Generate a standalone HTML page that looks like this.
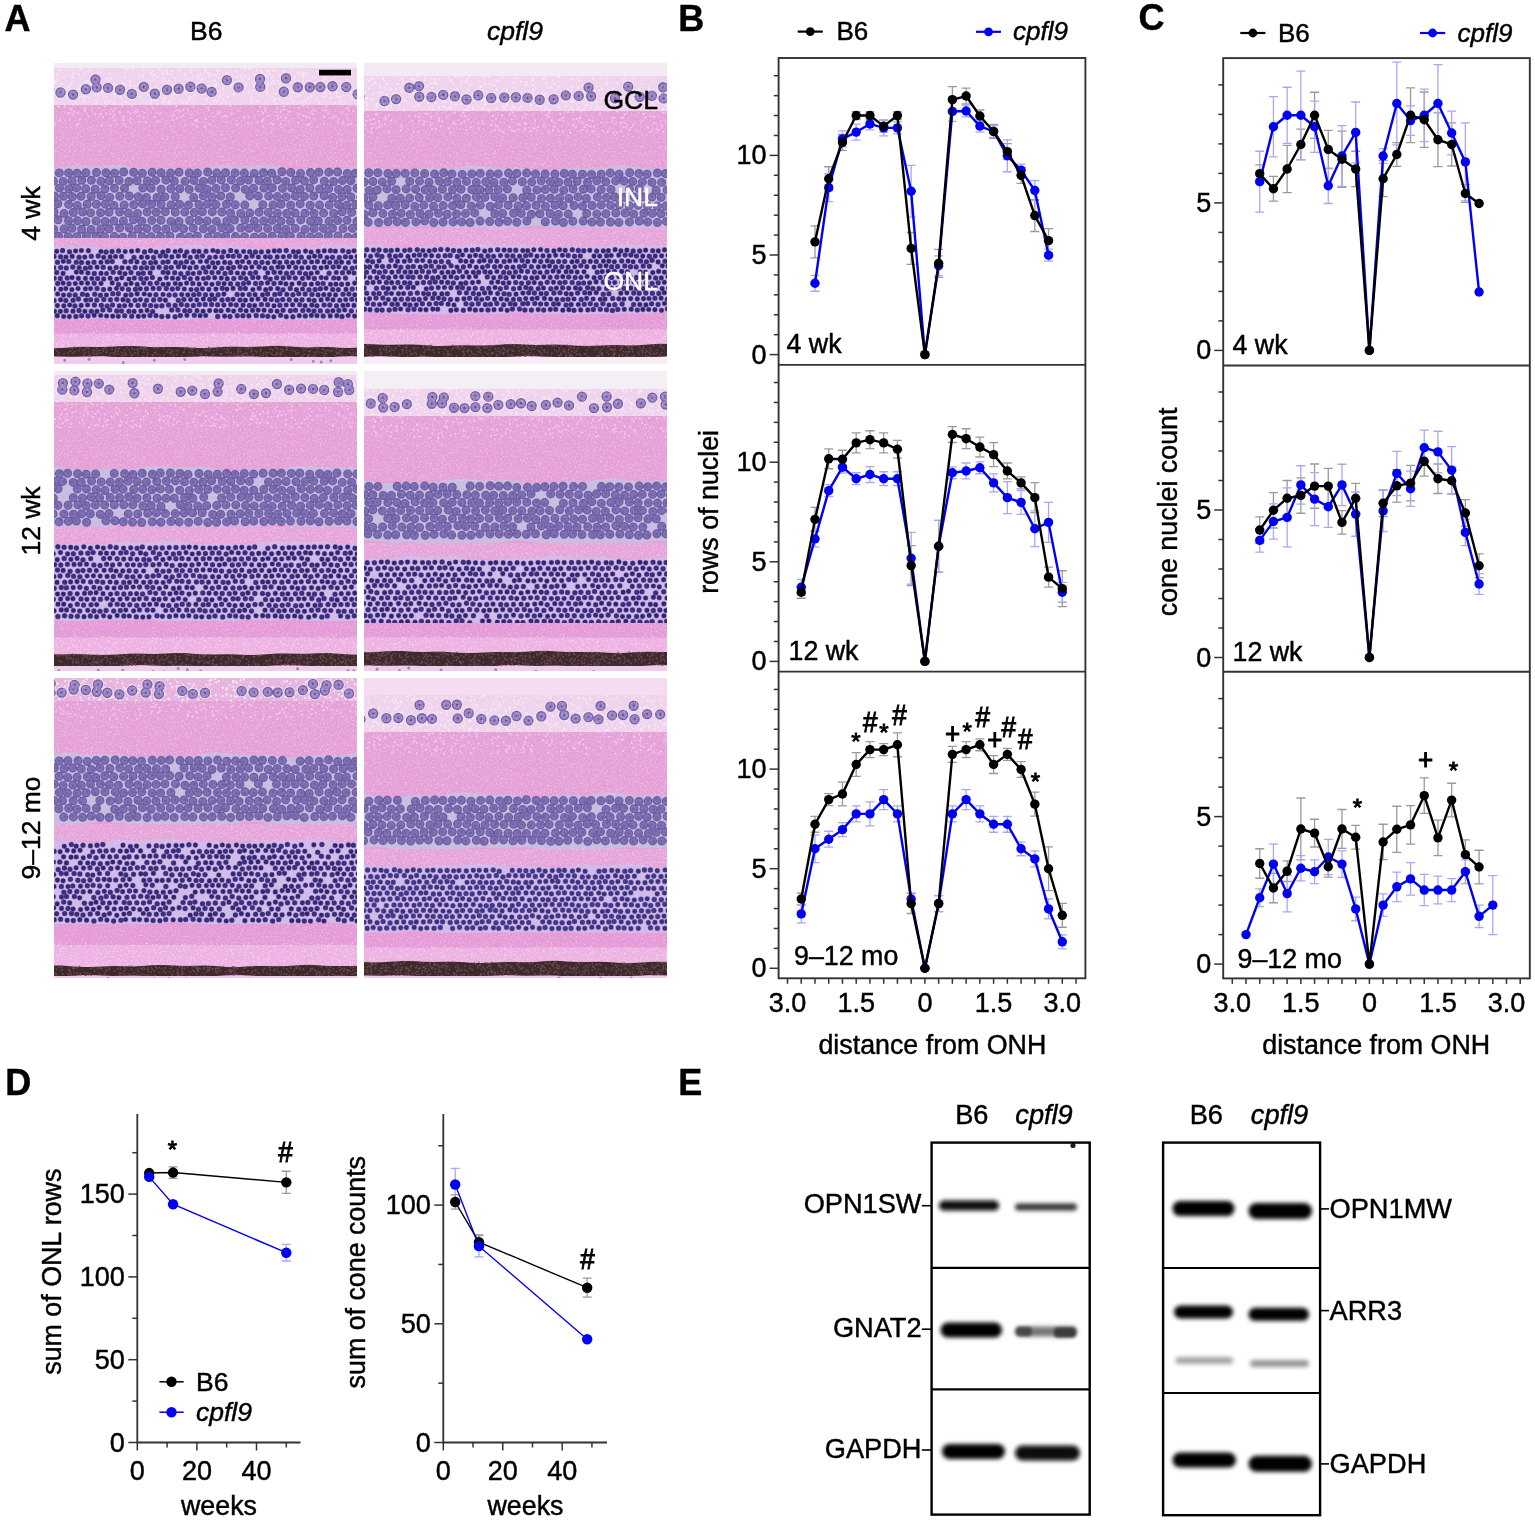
<!DOCTYPE html>
<html><head><meta charset="utf-8"><title>Figure</title>
<style>
html,body{margin:0;padding:0;background:#fff;}
body{width:1535px;height:1522px;overflow:hidden;position:relative;}
svg{position:absolute;left:0;top:0;display:block;}
svg text{font-family:"Liberation Sans", Arial, Helvetica, sans-serif;stroke:#000;stroke-width:0.45px;}
svg text.w{fill:#fff;stroke:#fff;}
svg text.an{stroke-width:0.9px;}
</style></head><body>
<svg width="1535" height="1522" viewBox="0 0 1535 1522">
<rect width="1535" height="1522" fill="#fff"/>
<filter id="hblur" x="0" y="0" width="100%" height="100%"><feGaussianBlur stdDeviation="0.55"/></filter>
<filter id="grain" x="0" y="0" width="100%" height="100%" color-interpolation-filters="sRGB"><feTurbulence type="fractalNoise" baseFrequency="0.55" numOctaves="2" seed="7"/><feColorMatrix type="matrix" values="0 0 0 0 1  0 0 0 0 1  0 0 0 0 1  3 0 0 0 -1.55"/></filter>
<clipPath id="hc0"><rect x="54" y="63" width="303" height="301"/></clipPath>
<g clip-path="url(#hc0)"><g filter="url(#hblur)">
<rect x="54" y="63" width="303" height="301" fill="#e5a1d7"/>
<rect x="54" y="63" width="303" height="6" fill="#f4eaf3"/>
<rect x="54" y="68" width="303" height="38" fill="#efd2ec"/>
<path d="M59.5 69.9h0M72.5 69.6h0M80.5 69.1h0M89.5 70.0h0M101.2 68.5h0M124.6 68.7h0M126.7 69.4h0M133.1 69.3h0M143.3 69.4h0M152.4 71.3h0M159.9 70.0h0M163.5 71.5h0M166.9 70.5h0M171.3 70.9h0M179.1 71.2h0M191.5 69.3h0M205.2 70.8h0M217.3 70.9h0M219.4 70.2h0M228.0 71.4h0M237.3 71.6h0M245.2 69.0h0M249.2 68.7h0M251.3 69.1h0M256.7 70.4h0M260.9 71.4h0M268.0 70.7h0M272.4 70.4h0M274.9 70.9h0M283.9 70.9h0M292.9 68.4h0M301.5 71.6h0M316.6 71.6h0M323.8 71.2h0M333.0 69.5h0M337.4 70.3h0M344.1 71.4h0M349.5 70.4h0M54.3 72.6h0M57.4 74.8h0M73.3 73.9h0M78.8 74.5h0M84.9 72.6h0M92.6 74.2h0M109.9 73.3h0M143.1 75.0h0M150.5 73.5h0M153.6 74.4h0M162.6 74.3h0M167.3 73.3h0M171.2 74.3h0M185.2 74.3h0M190.8 72.6h0M207.5 72.9h0M210.0 73.3h0M212.8 74.7h0M217.8 73.2h0M222.5 72.6h0M226.1 73.3h0M253.9 74.0h0M261.8 73.4h0M266.0 74.8h0M269.6 72.6h0M286.7 73.9h0M298.6 73.0h0M302.9 73.7h0M306.2 73.3h0M318.7 74.8h0M323.3 73.9h0M324.9 72.0h0M329.5 74.0h0M357.0 72.6h0M57.6 77.8h0M64.2 77.3h0M72.3 77.3h0M92.8 77.2h0M96.1 78.4h0M111.0 78.2h0M125.1 77.0h0M139.5 76.0h0M143.1 76.9h0M157.5 77.1h0M163.0 78.1h0M174.8 77.9h0M184.6 75.7h0M187.4 78.5h0M193.3 77.1h0M197.6 75.5h0M198.7 77.7h0M203.1 77.7h0M209.3 76.4h0M215.9 75.4h0M219.3 77.7h0M232.1 76.0h0M236.7 76.9h0M240.6 76.7h0M245.2 76.6h0M248.7 78.3h0M258.8 77.0h0M267.2 76.2h0M271.9 77.5h0M279.8 75.9h0M283.9 77.8h0M294.5 77.8h0M301.5 75.7h0M303.1 76.8h0M306.4 76.5h0M313.1 76.7h0M326.4 77.5h0M335.5 77.2h0M346.9 76.3h0M351.7 77.0h0M361.4 78.2h0M55.4 81.6h0M57.9 80.1h0M71.6 81.8h0M85.4 81.3h0M88.5 80.5h0M93.8 80.5h0M106.9 78.9h0M109.1 80.5h0M130.1 81.1h0M149.8 80.4h0M154.0 80.4h0M162.4 81.7h0M164.6 80.3h0M169.3 80.7h0M201.4 79.4h0M214.6 80.2h0M222.4 80.6h0M225.4 81.2h0M242.1 80.0h0M248.8 79.2h0M258.2 81.3h0M273.7 80.6h0M278.1 81.3h0M281.3 79.8h0M287.6 79.5h0M303.6 80.2h0M309.4 81.5h0M322.9 80.5h0M325.2 79.0h0M329.6 81.1h0M346.9 80.1h0M55.0 83.1h0M61.1 84.0h0M68.5 85.3h0M71.8 83.8h0M79.7 85.5h0M90.6 85.5h0M96.8 83.9h0M105.5 84.8h0M109.0 84.6h0M116.7 85.1h0M124.3 84.0h0M130.4 85.3h0M143.3 82.3h0M167.1 82.8h0M188.6 84.2h0M199.2 83.2h0M216.2 83.9h0M232.0 84.8h0M236.9 84.4h0M246.5 83.9h0M254.5 84.7h0M264.0 85.1h0M267.5 85.2h0M271.6 83.6h0M275.0 82.9h0M279.7 83.6h0M297.3 84.5h0M301.2 84.5h0M321.2 83.0h0M324.7 83.5h0M331.4 85.1h0M335.4 85.1h0M351.2 84.7h0M67.2 88.1h0M69.2 87.0h0M80.9 87.5h0M86.8 88.7h0M89.4 86.0h0M95.4 86.1h0M103.6 87.2h0M122.5 86.6h0M129.9 86.1h0M134.2 85.9h0M143.5 87.3h0M144.6 87.9h0M155.4 86.6h0M162.2 88.2h0M176.5 86.8h0M186.2 87.8h0M190.7 87.6h0M194.5 87.1h0M204.6 88.8h0M214.8 86.1h0M216.5 86.0h0M223.0 87.9h0M230.8 86.2h0M241.2 87.9h0M245.6 86.0h0M253.8 86.9h0M257.3 87.6h0M260.7 86.2h0M267.3 88.2h0M293.4 87.2h0M296.8 86.5h0M306.5 87.5h0M313.5 87.5h0M321.5 88.2h0M329.4 87.1h0M346.8 85.9h0M357.8 88.9h0M52.6 91.5h0M56.4 91.0h0M61.1 90.6h0M73.1 90.5h0M79.2 89.3h0M103.0 91.1h0M119.2 91.0h0M128.6 89.9h0M144.3 91.6h0M156.8 90.7h0M161.6 89.5h0M184.9 91.7h0M187.4 92.2h0M192.0 91.7h0M196.0 90.1h0M206.6 91.1h0M218.7 91.6h0M222.8 90.0h0M241.3 90.6h0M242.9 91.2h0M252.6 90.6h0M263.4 89.8h0M267.3 91.7h0M280.6 90.2h0M293.5 92.1h0M299.2 91.9h0M325.0 92.5h0M328.4 89.7h0M335.9 91.9h0M345.3 91.1h0M351.2 92.0h0M58.5 94.7h0M66.2 95.4h0M77.6 92.9h0M82.2 95.7h0M85.9 95.9h0M94.8 95.3h0M98.0 95.4h0M102.1 93.0h0M114.5 94.3h0M133.0 94.7h0M148.4 95.3h0M165.1 94.7h0M171.4 95.6h0M174.0 93.7h0M176.7 94.2h0M202.0 94.4h0M204.7 93.7h0M215.0 94.3h0M220.6 95.4h0M233.8 94.2h0M249.2 92.9h0M266.5 93.6h0M275.4 93.5h0M290.3 93.2h0M298.3 95.7h0M311.3 95.9h0M329.9 93.5h0M337.3 93.1h0M343.3 95.1h0M62.5 98.7h0M67.8 96.5h0M70.7 96.6h0M76.3 97.1h0M79.2 97.0h0M83.6 98.0h0M89.0 98.1h0M120.5 96.8h0M129.4 98.4h0M139.9 97.3h0M163.9 98.3h0M189.4 97.6h0M192.1 97.5h0M206.6 99.3h0M218.8 98.4h0M223.4 99.2h0M227.6 96.8h0M251.2 98.7h0M271.7 97.0h0M275.3 98.9h0M279.6 98.7h0M290.6 98.9h0M308.0 98.0h0M311.7 96.7h0M317.0 99.3h0M324.3 96.7h0M330.5 98.3h0M337.2 96.6h0M340.2 97.3h0M352.3 96.9h0M356.3 97.2h0M359.1 97.7h0M55.2 102.1h0M75.3 102.5h0M84.9 101.4h0M104.7 102.4h0M109.4 102.2h0M114.2 101.8h0M125.9 102.3h0M132.5 100.5h0M151.5 100.2h0M154.8 100.4h0M157.1 100.4h0M163.3 101.9h0M164.6 100.6h0M169.1 101.3h0M183.4 102.4h0M186.7 102.8h0M189.1 100.0h0M214.7 99.9h0M216.6 101.5h0M221.6 102.6h0M226.4 102.1h0M251.5 102.5h0M257.3 101.6h0M273.9 100.9h0M293.0 102.2h0M302.2 102.2h0M335.1 102.9h0M341.0 101.7h0M358.8 101.4h0M54.8 104.6h0M63.9 104.5h0M73.2 105.0h0M92.8 106.0h0M96.3 103.5h0M103.3 106.2h0M106.7 104.5h0M115.7 104.1h0M131.9 105.7h0M150.5 103.4h0M157.3 103.9h0M168.5 103.9h0M180.2 106.3h0M182.8 106.2h0M188.8 106.1h0M202.7 105.5h0M207.6 106.3h0M215.2 105.5h0M220.0 105.7h0M240.7 105.1h0M274.8 104.2h0M297.4 106.0h0M319.0 103.3h0M331.4 106.0h0M336.5 106.1h0M345.5 105.8h0M359.6 104.7h0" stroke="#f8e4f4" stroke-width="2.4" stroke-linecap="round" fill="none" stroke-opacity="0.9"/>
<path d="M49.3 89.4h0M60.5 92.5h0M73.1 94.6h0M85.9 89.3h0M96.7 87.4h0M95.5 79.5h0M108.0 87.9h0M120.0 89.8h0M131.9 93.9h0M143.8 86.9h0M154.8 93.7h0M167.0 89.7h0M178.6 88.7h0M190.4 86.7h0M201.7 88.5h0M211.7 91.9h0M226.9 80.1h0M238.6 87.4h0M260.3 86.9h0M260.0 79.0h0M283.8 91.7h0M286.0 78.2h0M297.8 87.3h0M309.8 87.3h0M320.4 87.0h0M332.5 86.3h0M346.2 87.0h0M357.6 94.1h0" stroke="#f6e6f3" stroke-width="12.5" stroke-linecap="round" fill="none" stroke-opacity="0.7"/>
<path d="M49.3 89.4h0M60.5 92.5h0M73.1 94.6h0M85.9 89.3h0M96.7 87.4h0M95.5 79.5h0M108.0 87.9h0M120.0 89.8h0M131.9 93.9h0M143.8 86.9h0M154.8 93.7h0M167.0 89.7h0M178.6 88.7h0M190.4 86.7h0M201.7 88.5h0M211.7 91.9h0M226.9 80.1h0M238.6 87.4h0M260.3 86.9h0M260.0 79.0h0M283.8 91.7h0M286.0 78.2h0M297.8 87.3h0M309.8 87.3h0M320.4 87.0h0M332.5 86.3h0M346.2 87.0h0M357.6 94.1h0" stroke="#6e5ca2" stroke-width="10.4" stroke-linecap="round" fill="none"/>
<path d="M49.3 89.4h0M60.5 92.5h0M73.1 94.6h0M85.9 89.3h0M96.7 87.4h0M95.5 79.5h0M108.0 87.9h0M120.0 89.8h0M131.9 93.9h0M143.8 86.9h0M154.8 93.7h0M167.0 89.7h0M178.6 88.7h0M190.4 86.7h0M201.7 88.5h0M211.7 91.9h0M226.9 80.1h0M238.6 87.4h0M260.3 86.9h0M260.0 79.0h0M283.8 91.7h0M286.0 78.2h0M297.8 87.3h0M309.8 87.3h0M320.4 87.0h0M332.5 86.3h0M346.2 87.0h0M357.6 94.1h0" stroke="#9882c4" stroke-width="7.8" stroke-linecap="round" fill="none"/>
<path d="M49.3 89.4h0M60.5 92.5h0M73.1 94.6h0M85.9 89.3h0M96.7 87.4h0M95.5 79.5h0M108.0 87.9h0M120.0 89.8h0M131.9 93.9h0M143.8 86.9h0M154.8 93.7h0M167.0 89.7h0M178.6 88.7h0M190.4 86.7h0M201.7 88.5h0M211.7 91.9h0M226.9 80.1h0M238.6 87.4h0M260.3 86.9h0M260.0 79.0h0M283.8 91.7h0M286.0 78.2h0M297.8 87.3h0M309.8 87.3h0M320.4 87.0h0M332.5 86.3h0M346.2 87.0h0M357.6 94.1h0" stroke="#5a4690" stroke-width="2.2" stroke-linecap="round" fill="none"/>
<rect x="54" y="105" width="303" height="63" fill="#e5a1d7"/>
<path d="M58.9 106.6h0M64.3 107.2h0M71.9 108.6h0M85.2 107.8h0M99.0 108.3h0M105.2 106.6h0M115.9 108.3h0M122.2 105.9h0M131.5 105.7h0M152.7 107.7h0M176.6 106.2h0M193.7 106.3h0M208.3 107.4h0M231.1 106.0h0M260.3 106.7h0M265.3 107.9h0M277.6 108.5h0M284.3 105.9h0M298.9 107.9h0M303.4 105.8h0M307.3 106.5h0M326.2 106.7h0M347.3 108.1h0M349.4 106.5h0M355.7 106.4h0M53.4 109.2h0M70.7 109.5h0M74.3 111.6h0M84.7 110.8h0M92.5 111.6h0M113.4 111.7h0M119.9 112.2h0M128.1 111.8h0M135.1 111.4h0M137.1 112.1h0M177.3 110.0h0M180.1 110.9h0M183.3 109.6h0M188.0 109.6h0M208.5 110.1h0M218.0 112.2h0M220.6 112.2h0M238.3 110.9h0M258.5 111.5h0M265.2 110.9h0M276.5 112.0h0M280.7 111.5h0M283.6 109.6h0M289.2 112.1h0M311.7 111.5h0M314.3 110.7h0M324.3 110.6h0M326.0 110.3h0M340.4 112.0h0M348.7 110.4h0M353.1 111.7h0M357.6 112.2h0M68.9 113.0h0M73.6 114.7h0M78.2 113.0h0M95.1 113.9h0M100.9 114.2h0M106.3 113.4h0M110.4 114.1h0M113.7 115.0h0M130.4 113.6h0M139.4 115.9h0M144.5 112.9h0M160.5 113.4h0M174.0 115.4h0M183.2 115.3h0M190.7 114.6h0M218.4 114.1h0M224.8 115.4h0M232.2 113.7h0M262.7 112.9h0M269.1 116.0h0M277.4 115.5h0M299.2 114.0h0M303.7 115.3h0M312.7 113.8h0M328.4 113.3h0M346.4 114.3h0M79.7 119.2h0M88.5 116.5h0M102.9 117.1h0M112.6 117.5h0M122.2 117.9h0M124.1 116.9h0M131.0 118.8h0M143.7 117.8h0M154.8 117.1h0M176.7 118.4h0M191.8 118.0h0M196.5 119.6h0M205.9 119.3h0M214.1 116.5h0M222.0 117.1h0M227.2 116.5h0M244.6 117.1h0M248.5 116.5h0M263.3 119.3h0M278.2 118.7h0M281.1 117.0h0M285.9 117.9h0M306.1 117.2h0M309.2 117.9h0M324.1 116.7h0M332.7 117.9h0M334.7 116.5h0M338.6 119.3h0M347.4 118.5h0M51.8 122.7h0M55.3 122.9h0M59.7 120.8h0M115.6 120.1h0M123.1 120.1h0M130.4 122.4h0M139.2 121.5h0M145.6 121.9h0M157.7 121.2h0M173.0 120.2h0M195.5 120.8h0M197.9 121.5h0M247.8 123.1h0M257.7 122.0h0M261.8 121.1h0M271.7 123.0h0M288.6 121.5h0M298.4 122.9h0M337.9 122.5h0M343.2 121.5h0M54.1 123.8h0M76.5 125.3h0M78.0 124.5h0M101.6 125.4h0M110.1 125.1h0M116.8 124.3h0M124.3 124.0h0M170.5 126.3h0M184.7 125.3h0M193.6 124.1h0M196.8 126.6h0M205.2 126.8h0M209.6 124.0h0M237.2 124.7h0M263.3 126.4h0M273.2 124.2h0M280.7 124.3h0M307.3 125.2h0M309.6 123.9h0M317.6 126.7h0M324.1 124.1h0M343.5 123.9h0M348.2 124.8h0M350.7 124.0h0M356.5 125.5h0" stroke="#f4cdef" stroke-width="2.2" stroke-linecap="round" fill="none" stroke-opacity="0.8"/>
<path d="M65.6 105.7h0M81.7 106.9h0M91.5 105.4h0M100.5 105.3h0M102.7 106.7h0M106.0 105.4h0M121.7 106.6h0M139.1 107.8h0M141.6 106.9h0M145.9 107.7h0M163.1 105.9h0M167.3 107.3h0M174.8 108.0h0M213.0 107.6h0M218.7 105.8h0M225.8 106.4h0M228.8 107.4h0M232.7 107.9h0M234.8 106.1h0M241.8 106.2h0M264.2 106.4h0M276.3 107.2h0M280.7 106.2h0M289.8 108.0h0M323.6 106.8h0M327.8 105.9h0M337.9 105.5h0M342.6 105.6h0M356.0 107.6h0M92.0 108.2h0M95.8 110.4h0M108.8 110.6h0M110.5 109.4h0M113.7 110.7h0M137.9 109.1h0M149.1 109.4h0M158.7 109.2h0M174.8 108.1h0M177.4 109.9h0M182.8 110.3h0M186.3 108.2h0M191.5 110.1h0M201.5 109.9h0M217.0 110.4h0M219.5 109.3h0M229.0 108.8h0M239.2 110.1h0M252.0 108.2h0M262.9 109.1h0M266.3 109.9h0M267.6 109.8h0M277.1 109.7h0M282.6 110.4h0M287.4 110.2h0M294.8 108.1h0M316.6 108.3h0M321.5 109.7h0M328.8 109.2h0M335.1 110.7h0M62.9 113.1h0M65.1 112.0h0M72.9 111.4h0M78.6 111.9h0M84.9 113.3h0M109.7 111.0h0M123.1 112.0h0M129.4 113.1h0M140.9 111.0h0M147.2 111.0h0M155.4 112.8h0M157.5 113.0h0M160.4 112.9h0M170.0 111.6h0M175.8 111.4h0M196.6 113.0h0M198.2 113.6h0M204.8 111.8h0M213.1 113.0h0M235.8 112.3h0M252.9 112.5h0M263.7 112.1h0M280.9 113.6h0M291.1 111.2h0M307.0 113.3h0M327.7 111.0h0M343.9 111.7h0M53.6 115.9h0M56.4 114.0h0M61.1 113.6h0M98.4 115.7h0M140.0 114.8h0M149.0 113.7h0M171.9 115.0h0M178.6 115.9h0M193.9 115.0h0M196.8 116.0h0M207.6 114.2h0M210.3 116.2h0M267.1 115.7h0M282.2 114.9h0M287.4 113.6h0M297.9 113.6h0M307.5 116.1h0M346.6 115.1h0M350.3 114.4h0M59.8 117.2h0M62.7 117.0h0M70.2 116.9h0M80.3 119.1h0M95.3 117.0h0M101.0 118.5h0M108.8 118.8h0M131.6 119.1h0M137.6 118.1h0M144.0 118.1h0M160.6 116.8h0M168.1 116.3h0M172.9 118.2h0M176.5 118.7h0M181.0 117.2h0M187.0 118.1h0M204.1 117.8h0M213.1 117.6h0M216.3 118.5h0M221.4 117.3h0M241.3 118.0h0M288.7 118.6h0M321.4 117.3h0M325.0 118.2h0M347.2 116.6h0M355.3 117.0h0M70.1 119.7h0M80.2 120.8h0M92.3 119.2h0M96.7 119.4h0M128.7 120.0h0M129.6 119.7h0M162.7 119.9h0M166.7 120.7h0M180.8 120.5h0M194.9 120.3h0M202.5 121.7h0M211.3 119.6h0M222.4 120.3h0M226.4 120.5h0M229.1 120.7h0M236.3 121.4h0M241.6 120.4h0M245.1 121.5h0M268.2 121.6h0M281.3 121.0h0M283.2 120.6h0M290.5 120.8h0M314.3 119.8h0M317.0 121.6h0M329.8 119.4h0M341.8 121.8h0M348.4 120.7h0M357.7 119.1h0M61.8 122.5h0M86.9 122.5h0M91.6 122.1h0M94.5 124.6h0M104.0 123.7h0M123.3 122.8h0M134.2 123.5h0M149.6 123.6h0M165.2 124.7h0M166.5 124.1h0M182.7 122.2h0M205.3 123.1h0M227.1 122.3h0M230.2 122.3h0M251.7 124.3h0M268.8 123.6h0M274.5 124.5h0M297.7 123.0h0M306.1 123.8h0M312.6 123.8h0M323.6 123.0h0M359.4 122.0h0M54.3 124.8h0M66.7 127.3h0M81.8 127.2h0M91.3 127.2h0M101.1 126.3h0M104.0 125.3h0M114.5 127.4h0M143.0 125.5h0M147.8 127.4h0M149.6 126.8h0M155.2 125.3h0M174.9 126.6h0M179.0 125.1h0M197.2 124.7h0M213.2 126.4h0M241.4 127.0h0M248.0 126.8h0M262.2 126.3h0M282.6 127.4h0M289.4 126.3h0M295.1 126.7h0M313.0 126.9h0M329.6 126.3h0M342.0 125.9h0M352.2 124.8h0M355.8 126.1h0M52.1 128.4h0M57.5 129.5h0M76.1 128.6h0M88.7 128.1h0M91.4 129.1h0M110.4 128.2h0M132.7 128.1h0M134.6 129.8h0M160.9 128.2h0M192.3 129.7h0M201.0 128.8h0M202.3 127.6h0M217.6 127.7h0M241.9 129.8h0M245.2 130.3h0M274.2 129.1h0M279.3 129.0h0M292.5 129.7h0M294.7 129.7h0M333.8 128.3h0M60.7 130.9h0M78.7 132.9h0M92.2 130.6h0M99.0 130.8h0M110.7 131.9h0M132.1 132.2h0M135.2 131.0h0M146.9 130.9h0M149.1 131.4h0M155.7 130.7h0M158.8 130.3h0M171.1 131.1h0M174.6 132.6h0M183.3 130.5h0M187.9 132.0h0M198.7 131.7h0M208.9 131.5h0M211.2 131.9h0M232.4 131.5h0M254.7 132.3h0M258.6 131.8h0M272.1 130.5h0M288.3 132.9h0M290.7 130.8h0M296.5 131.6h0M306.7 132.5h0M311.3 130.5h0M315.1 131.6h0M318.4 132.1h0M329.8 131.3h0M344.1 131.2h0M53.3 133.3h0M55.2 133.4h0M63.0 134.4h0M67.7 134.5h0M77.9 135.0h0M95.3 135.4h0M112.9 134.9h0M120.8 135.8h0M132.9 134.9h0M161.2 135.2h0M167.4 135.6h0M189.7 135.3h0M194.4 134.9h0M203.0 135.7h0M213.4 134.8h0M221.1 134.7h0M227.1 134.7h0M251.4 135.8h0M266.8 133.2h0M272.9 135.8h0M295.8 134.0h0M303.0 135.1h0M305.3 135.0h0M309.3 133.8h0M315.7 133.5h0M319.0 133.1h0M338.4 134.0h0M339.8 133.2h0M342.6 135.0h0M347.3 133.2h0M353.1 134.1h0M355.5 133.8h0M56.8 137.8h0M60.1 138.1h0M63.0 138.6h0M109.0 137.3h0M137.4 136.0h0M139.1 138.3h0M179.8 138.4h0M207.3 138.1h0M225.4 136.6h0M230.0 136.0h0M261.2 138.3h0M273.9 136.3h0M294.5 137.7h0M303.7 136.8h0M306.8 138.6h0M317.2 137.5h0M323.7 137.8h0M328.4 138.3h0M59.8 140.4h0M68.5 139.2h0M111.1 139.7h0M166.8 139.2h0M216.8 139.7h0M220.6 139.7h0M227.8 139.0h0M231.0 140.8h0M245.7 138.9h0M253.5 140.9h0M282.5 139.8h0M301.3 140.1h0M307.7 139.2h0M350.2 140.6h0M54.3 143.4h0M80.8 143.2h0M83.8 143.9h0M105.3 142.2h0M109.5 143.4h0M131.6 142.1h0M138.0 142.2h0M141.1 141.7h0M159.9 141.8h0M170.4 141.5h0M172.2 143.2h0M184.0 144.1h0M205.2 143.5h0M208.4 142.1h0M220.6 143.6h0M222.7 142.0h0M239.6 141.9h0M257.5 143.4h0M260.7 141.6h0M278.5 141.6h0M281.4 143.3h0M290.9 141.8h0M302.9 142.9h0M312.9 141.9h0M316.5 142.6h0M330.4 142.0h0M336.5 142.8h0M341.8 143.8h0M350.9 141.7h0M53.6 145.9h0M59.3 145.9h0M69.3 145.9h0M77.8 144.7h0M96.7 145.7h0M109.4 146.3h0M116.8 144.3h0M178.5 146.9h0M215.3 145.4h0M222.4 145.6h0M259.1 146.7h0M295.3 144.8h0M300.0 144.5h0M302.1 144.9h0M314.0 144.2h0M318.4 146.1h0M355.7 146.1h0M56.3 149.0h0M67.2 148.5h0M84.0 147.5h0M92.7 147.1h0M104.8 148.1h0M122.4 147.9h0M134.1 148.8h0M136.9 147.2h0M164.2 147.9h0M176.6 148.5h0M201.5 149.3h0M232.3 147.9h0M248.9 148.0h0M270.6 148.0h0M309.6 148.1h0M312.9 147.1h0M319.4 149.5h0M330.5 149.5h0M331.9 149.5h0M343.3 149.4h0M344.9 147.9h0M359.0 148.2h0M55.2 150.9h0M68.9 152.2h0M74.4 151.4h0M76.8 149.8h0M101.0 151.7h0M129.0 150.8h0M152.1 151.4h0M164.9 150.4h0M175.0 151.2h0M185.6 151.7h0M220.7 150.6h0M243.6 150.3h0M249.9 151.7h0M274.0 150.8h0M279.6 152.4h0M282.8 150.9h0M285.6 150.5h0M289.4 149.8h0M292.3 151.7h0M296.0 151.0h0M305.0 150.2h0M340.4 150.8h0M360.4 151.3h0M53.3 153.7h0M59.6 154.2h0M75.2 154.1h0M79.6 154.2h0M87.0 155.1h0M97.7 154.2h0M102.5 154.6h0M111.7 153.7h0M118.7 152.9h0M138.3 155.2h0M139.9 153.0h0M166.9 154.5h0M181.9 155.2h0M202.5 154.7h0M232.1 154.0h0M240.1 154.4h0M277.4 154.4h0M283.1 155.3h0M306.4 154.0h0M310.5 154.3h0M336.3 152.9h0M351.4 154.2h0M61.9 156.1h0M65.9 157.3h0M82.3 155.7h0M113.9 156.4h0M132.4 157.4h0M164.2 156.2h0M176.5 155.8h0M179.9 156.8h0M189.8 158.0h0M194.2 156.7h0M198.5 157.9h0M212.0 157.0h0M219.0 157.2h0M241.4 158.0h0M245.2 155.5h0M252.7 155.6h0M260.2 155.8h0M293.0 156.8h0M298.3 156.7h0M303.1 157.7h0M307.0 155.5h0M331.1 156.5h0M333.2 156.2h0M339.8 156.9h0M346.9 156.3h0M355.9 157.7h0M54.5 160.1h0M79.0 159.4h0M85.2 160.9h0M89.9 159.5h0M97.7 158.8h0M103.9 159.5h0M112.3 160.7h0M119.0 158.7h0M133.3 159.6h0M138.1 160.2h0M149.5 158.2h0M190.5 158.5h0M220.8 160.0h0M228.1 159.2h0M233.6 158.8h0M239.4 159.1h0M243.3 159.7h0M284.1 159.0h0M287.9 159.6h0M328.3 158.6h0M334.9 160.7h0M340.8 160.7h0M348.1 160.1h0M354.7 160.0h0M72.2 160.9h0M79.2 161.6h0M115.5 162.0h0M120.7 160.9h0M124.2 161.1h0M126.1 161.3h0M167.2 161.6h0M173.7 162.9h0M191.1 162.8h0M209.8 163.6h0M211.7 161.5h0M215.4 161.2h0M235.5 161.7h0M250.8 161.1h0M271.3 162.4h0M279.1 161.4h0M283.4 160.9h0M290.0 162.7h0M291.3 160.9h0M296.3 161.3h0M308.3 163.4h0M311.7 163.4h0M320.0 162.0h0M58.5 165.4h0M94.3 165.6h0M118.9 165.0h0M131.5 165.4h0M141.5 164.4h0M162.0 165.2h0M167.3 163.8h0M190.6 165.7h0M195.5 164.1h0M205.6 164.8h0M213.2 166.4h0M223.3 164.5h0M229.4 164.2h0M233.3 164.2h0M253.1 166.4h0M263.2 164.0h0M271.6 166.4h0M285.5 165.2h0M290.3 164.2h0M323.3 166.4h0M330.1 166.1h0M335.2 165.9h0M339.3 165.0h0M343.3 165.6h0M346.2 165.1h0M348.3 166.4h0M64.1 168.7h0M73.8 167.0h0M85.0 167.5h0M98.4 168.4h0M129.5 166.9h0M143.3 167.6h0M144.6 168.5h0M148.1 167.7h0M152.6 168.6h0M160.9 167.4h0M201.6 167.8h0M207.3 169.2h0M210.3 168.2h0M222.4 168.6h0M253.3 167.1h0M264.2 168.1h0M293.4 168.5h0M294.7 168.4h0M311.0 167.0h0M320.1 168.5h0M326.5 168.3h0M351.8 168.8h0" stroke="#eeb4e3" stroke-width="1.4" stroke-linecap="round" fill="none" stroke-opacity="0.8"/>
<path d="M52.0 168.4 L62.2 166.6 L72.5 165.5 L82.7 166.0 L92.9 166.5 L103.2 166.0 L113.4 165.0 L123.6 165.4 L133.9 167.1 L144.1 168.5 L154.3 168.4 L164.6 167.6 L174.8 167.7 L185.0 168.7 L195.3 168.7 L205.5 167.2 L215.7 165.5 L226.0 165.3 L236.2 166.2 L246.4 166.4 L256.7 165.6 L266.9 165.3 L277.1 166.5 L287.4 168.3 L297.6 168.9 L307.8 168.1 L318.1 167.5 L328.3 168.1 L338.5 168.6 L348.8 167.8 L359.0 165.9 L359.0 238.5 L348.8 238.3 L338.5 239.2 L328.3 240.3 L318.1 239.8 L307.8 238.0 L297.6 236.9 L287.4 237.2 L277.1 237.7 L266.9 237.1 L256.7 235.9 L246.4 236.0 L236.2 237.7 L226.0 239.2 L215.7 239.2 L205.5 238.5 L195.3 238.7 L185.0 239.8 L174.8 240.0 L164.6 238.6 L154.3 236.9 L144.1 236.5 L133.9 237.3 L123.6 237.4 L113.4 236.5 L103.2 236.0 L92.9 237.1 L82.7 238.9 L72.5 239.7 L62.2 239.0 L52.0 238.5Z" fill="#cbbde0"/>
<path d="M49.7 172.0h0M59.3 172.9h0M68.6 173.0h0M77.0 173.3h0M85.8 172.7h0M96.5 172.5h0M106.0 172.7h0M114.5 173.2h0M123.6 172.0h0M133.7 172.2h0M142.3 173.2h0M152.1 172.2h0M161.1 172.7h0M170.5 173.1h0M179.0 172.3h0M189.2 173.0h0M197.4 173.1h0M207.7 172.0h0M216.7 173.1h0M225.5 172.8h0M235.2 172.9h0M244.4 173.1h0M254.3 173.4h0M263.5 172.8h0M271.7 173.3h0M281.9 171.8h0M290.9 172.5h0M300.5 173.4h0M310.4 172.6h0M318.9 172.2h0M328.8 172.3h0M337.6 172.0h0M347.3 173.4h0M355.5 173.2h0M366.4 172.1h0M53.4 181.1h0M63.2 181.4h0M72.1 180.9h0M81.8 180.2h0M91.4 180.2h0M100.9 181.2h0M109.3 180.7h0M119.2 180.4h0M129.0 181.4h0M137.1 180.8h0M147.4 181.0h0M155.6 180.4h0M165.9 180.0h0M174.4 181.1h0M185.1 181.4h0M194.0 180.5h0M203.4 181.4h0M211.8 180.2h0M221.2 179.9h0M231.3 179.9h0M240.5 181.1h0M248.5 180.0h0M259.0 180.6h0M267.3 181.3h0M277.1 179.8h0M285.7 181.4h0M295.6 180.2h0M304.4 181.0h0M313.6 179.8h0M324.4 181.3h0M333.6 181.5h0M342.4 180.6h0M350.9 180.8h0M361.3 180.7h0M49.5 189.1h0M59.5 188.0h0M68.8 188.9h0M76.6 187.9h0M85.7 188.8h0M95.2 189.3h0M105.0 189.0h0M114.5 188.3h0M124.5 188.3h0M142.8 188.0h0M151.2 188.3h0M161.1 189.2h0M170.9 188.7h0M179.8 188.7h0M189.2 189.4h0M199.0 188.1h0M207.1 189.5h0M216.0 188.4h0M225.5 187.8h0M235.6 188.1h0M245.2 189.4h0M253.5 188.3h0M263.9 188.1h0M272.3 187.8h0M282.5 188.4h0M291.7 188.0h0M300.2 189.5h0M309.8 188.0h0M319.6 189.0h0M328.6 188.8h0M338.5 189.5h0M347.2 189.5h0M357.0 188.2h0M365.6 188.6h0M54.5 196.2h0M63.5 196.3h0M72.3 196.7h0M81.0 196.2h0M91.2 196.5h0M101.0 195.8h0M109.7 197.4h0M119.8 196.2h0M129.3 196.0h0M138.2 196.8h0M146.5 197.4h0M157.0 197.5h0M164.8 196.9h0M175.3 196.7h0M193.7 197.5h0M203.3 195.9h0M212.1 197.0h0M220.8 196.0h0M230.3 197.0h0M249.8 195.9h0M258.3 196.1h0M268.7 196.1h0M277.4 196.6h0M286.2 196.9h0M295.3 196.0h0M304.4 196.4h0M313.7 196.1h0M324.2 195.8h0M332.7 197.5h0M341.9 196.5h0M350.8 197.0h0M360.8 197.1h0M49.0 205.4h0M57.8 203.8h0M68.6 204.4h0M77.3 205.4h0M87.2 204.3h0M96.4 204.2h0M105.2 204.1h0M113.9 205.4h0M124.2 204.9h0M133.8 204.8h0M142.6 203.8h0M151.6 204.3h0M161.0 204.4h0M171.1 205.0h0M179.6 204.4h0M188.5 205.1h0M198.9 204.6h0M207.4 204.1h0M215.9 204.6h0M226.5 204.3h0M235.2 204.7h0M244.8 205.1h0M262.8 204.8h0M273.0 205.1h0M281.0 204.3h0M290.7 205.2h0M300.2 203.9h0M310.2 205.3h0M319.5 205.1h0M329.2 205.1h0M338.4 204.5h0M346.7 205.3h0M355.7 204.5h0M366.0 204.2h0M54.0 212.0h0M64.1 213.4h0M73.3 212.5h0M82.6 212.1h0M90.6 212.9h0M100.5 212.7h0M109.0 212.3h0M119.6 212.1h0M128.4 213.0h0M137.5 213.4h0M147.1 212.0h0M156.2 212.2h0M165.2 211.8h0M175.3 212.2h0M184.8 212.1h0M194.2 212.6h0M202.4 211.8h0M212.3 211.9h0M221.9 212.0h0M230.6 212.9h0M240.7 213.4h0M249.8 213.1h0M259.1 212.2h0M268.4 212.4h0M277.4 213.2h0M286.7 213.5h0M295.1 213.1h0M305.0 213.2h0M314.0 213.3h0M323.6 213.1h0M333.6 213.3h0M342.2 211.8h0M351.6 212.3h0M361.3 212.6h0M48.9 220.5h0M57.9 219.8h0M68.5 220.7h0M77.5 220.8h0M86.0 221.5h0M96.1 221.0h0M105.1 221.5h0M113.9 221.0h0M123.4 220.9h0M133.4 219.8h0M141.8 221.2h0M151.8 220.4h0M161.0 220.3h0M171.0 221.4h0M179.0 221.4h0M189.6 220.5h0M198.7 220.5h0M207.2 221.1h0M216.4 221.4h0M226.8 221.1h0M234.5 220.1h0M244.9 220.0h0M254.4 221.2h0M263.7 221.0h0M272.1 220.2h0M281.0 221.3h0M290.5 221.2h0M300.8 219.9h0M310.5 221.2h0M318.3 221.0h0M329.1 221.2h0M337.8 220.5h0M347.0 220.2h0M356.9 221.5h0M365.3 221.2h0M53.7 229.2h0M64.1 228.9h0M72.0 228.2h0M81.6 229.3h0M91.1 229.5h0M100.8 228.9h0M109.1 228.7h0M119.5 228.0h0M129.0 227.8h0M138.1 229.0h0M146.9 228.5h0M156.7 228.7h0M165.9 229.0h0M175.2 228.1h0M183.7 228.8h0M193.2 228.2h0M203.4 228.8h0M212.0 229.4h0M221.7 227.8h0M230.1 228.6h0M240.8 228.1h0M249.1 228.3h0M257.9 228.3h0M267.7 228.4h0M277.3 228.5h0M285.9 229.5h0M295.3 228.4h0M305.1 229.4h0M314.1 228.6h0M323.4 228.4h0M332.5 228.3h0M343.1 228.6h0M352.4 228.2h0M360.9 228.3h0M48.7 237.4h0M58.6 236.3h0M68.1 236.7h0M76.8 236.7h0M86.4 235.9h0M96.1 236.1h0M104.5 236.7h0M114.3 236.6h0M122.9 237.3h0M132.2 235.8h0M142.3 236.7h0M151.1 236.7h0M160.5 236.6h0M169.9 235.9h0M180.4 237.3h0M189.1 236.9h0M197.4 236.2h0M208.3 237.3h0M217.6 236.4h0M225.6 236.0h0M235.5 236.6h0M244.5 236.7h0M254.5 237.2h0M262.8 236.8h0M272.3 236.2h0M282.0 235.9h0M290.3 236.0h0M301.1 236.2h0M310.5 237.1h0M318.8 236.7h0M328.3 235.8h0M338.0 235.9h0M347.8 237.3h0M356.0 237.1h0M366.0 236.1h0" stroke="#6a5ca2" stroke-width="9.0" stroke-linecap="round" fill="none"/>
<path d="M49.7 172.0h0M59.3 172.9h0M68.6 173.0h0M77.0 173.3h0M85.8 172.7h0M96.5 172.5h0M106.0 172.7h0M114.5 173.2h0M123.6 172.0h0M133.7 172.2h0M142.3 173.2h0M152.1 172.2h0M161.1 172.7h0M170.5 173.1h0M179.0 172.3h0M189.2 173.0h0M197.4 173.1h0M207.7 172.0h0M216.7 173.1h0M225.5 172.8h0M235.2 172.9h0M244.4 173.1h0M254.3 173.4h0M263.5 172.8h0M271.7 173.3h0M281.9 171.8h0M290.9 172.5h0M300.5 173.4h0M310.4 172.6h0M318.9 172.2h0M328.8 172.3h0M337.6 172.0h0M347.3 173.4h0M355.5 173.2h0M366.4 172.1h0M53.4 181.1h0M63.2 181.4h0M72.1 180.9h0M81.8 180.2h0M91.4 180.2h0M100.9 181.2h0M109.3 180.7h0M119.2 180.4h0M129.0 181.4h0M137.1 180.8h0M147.4 181.0h0M155.6 180.4h0M165.9 180.0h0M174.4 181.1h0M185.1 181.4h0M194.0 180.5h0M203.4 181.4h0M211.8 180.2h0M221.2 179.9h0M231.3 179.9h0M240.5 181.1h0M248.5 180.0h0M259.0 180.6h0M267.3 181.3h0M277.1 179.8h0M285.7 181.4h0M295.6 180.2h0M304.4 181.0h0M313.6 179.8h0M324.4 181.3h0M333.6 181.5h0M342.4 180.6h0M350.9 180.8h0M361.3 180.7h0M49.5 189.1h0M59.5 188.0h0M68.8 188.9h0M76.6 187.9h0M85.7 188.8h0M95.2 189.3h0M105.0 189.0h0M114.5 188.3h0M124.5 188.3h0M142.8 188.0h0M151.2 188.3h0M161.1 189.2h0M170.9 188.7h0M179.8 188.7h0M189.2 189.4h0M199.0 188.1h0M207.1 189.5h0M216.0 188.4h0M225.5 187.8h0M235.6 188.1h0M245.2 189.4h0M253.5 188.3h0M263.9 188.1h0M272.3 187.8h0M282.5 188.4h0M291.7 188.0h0M300.2 189.5h0M309.8 188.0h0M319.6 189.0h0M328.6 188.8h0M338.5 189.5h0M347.2 189.5h0M357.0 188.2h0M365.6 188.6h0M54.5 196.2h0M63.5 196.3h0M72.3 196.7h0M81.0 196.2h0M91.2 196.5h0M101.0 195.8h0M109.7 197.4h0M119.8 196.2h0M129.3 196.0h0M138.2 196.8h0M146.5 197.4h0M157.0 197.5h0M164.8 196.9h0M175.3 196.7h0M193.7 197.5h0M203.3 195.9h0M212.1 197.0h0M220.8 196.0h0M230.3 197.0h0M249.8 195.9h0M258.3 196.1h0M268.7 196.1h0M277.4 196.6h0M286.2 196.9h0M295.3 196.0h0M304.4 196.4h0M313.7 196.1h0M324.2 195.8h0M332.7 197.5h0M341.9 196.5h0M350.8 197.0h0M360.8 197.1h0M49.0 205.4h0M57.8 203.8h0M68.6 204.4h0M77.3 205.4h0M87.2 204.3h0M96.4 204.2h0M105.2 204.1h0M113.9 205.4h0M124.2 204.9h0M133.8 204.8h0M142.6 203.8h0M151.6 204.3h0M161.0 204.4h0M171.1 205.0h0M179.6 204.4h0M188.5 205.1h0M198.9 204.6h0M207.4 204.1h0M215.9 204.6h0M226.5 204.3h0M235.2 204.7h0M244.8 205.1h0M262.8 204.8h0M273.0 205.1h0M281.0 204.3h0M290.7 205.2h0M300.2 203.9h0M310.2 205.3h0M319.5 205.1h0M329.2 205.1h0M338.4 204.5h0M346.7 205.3h0M355.7 204.5h0M366.0 204.2h0M54.0 212.0h0M64.1 213.4h0M73.3 212.5h0M82.6 212.1h0M90.6 212.9h0M100.5 212.7h0M109.0 212.3h0M119.6 212.1h0M128.4 213.0h0M137.5 213.4h0M147.1 212.0h0M156.2 212.2h0M165.2 211.8h0M175.3 212.2h0M184.8 212.1h0M194.2 212.6h0M202.4 211.8h0M212.3 211.9h0M221.9 212.0h0M230.6 212.9h0M240.7 213.4h0M249.8 213.1h0M259.1 212.2h0M268.4 212.4h0M277.4 213.2h0M286.7 213.5h0M295.1 213.1h0M305.0 213.2h0M314.0 213.3h0M323.6 213.1h0M333.6 213.3h0M342.2 211.8h0M351.6 212.3h0M361.3 212.6h0M48.9 220.5h0M57.9 219.8h0M68.5 220.7h0M77.5 220.8h0M86.0 221.5h0M96.1 221.0h0M105.1 221.5h0M113.9 221.0h0M123.4 220.9h0M133.4 219.8h0M141.8 221.2h0M151.8 220.4h0M161.0 220.3h0M171.0 221.4h0M179.0 221.4h0M189.6 220.5h0M198.7 220.5h0M207.2 221.1h0M216.4 221.4h0M226.8 221.1h0M234.5 220.1h0M244.9 220.0h0M254.4 221.2h0M263.7 221.0h0M272.1 220.2h0M281.0 221.3h0M290.5 221.2h0M300.8 219.9h0M310.5 221.2h0M318.3 221.0h0M329.1 221.2h0M337.8 220.5h0M347.0 220.2h0M356.9 221.5h0M365.3 221.2h0M53.7 229.2h0M64.1 228.9h0M72.0 228.2h0M81.6 229.3h0M91.1 229.5h0M100.8 228.9h0M109.1 228.7h0M119.5 228.0h0M129.0 227.8h0M138.1 229.0h0M146.9 228.5h0M156.7 228.7h0M165.9 229.0h0M175.2 228.1h0M183.7 228.8h0M193.2 228.2h0M203.4 228.8h0M212.0 229.4h0M221.7 227.8h0M230.1 228.6h0M240.8 228.1h0M249.1 228.3h0M257.9 228.3h0M267.7 228.4h0M277.3 228.5h0M285.9 229.5h0M295.3 228.4h0M305.1 229.4h0M314.1 228.6h0M323.4 228.4h0M332.5 228.3h0M343.1 228.6h0M352.4 228.2h0M360.9 228.3h0M48.7 237.4h0M58.6 236.3h0M68.1 236.7h0M76.8 236.7h0M86.4 235.9h0M96.1 236.1h0M104.5 236.7h0M114.3 236.6h0M122.9 237.3h0M132.2 235.8h0M142.3 236.7h0M151.1 236.7h0M160.5 236.6h0M169.9 235.9h0M180.4 237.3h0M189.1 236.9h0M197.4 236.2h0M208.3 237.3h0M217.6 236.4h0M225.6 236.0h0M235.5 236.6h0M244.5 236.7h0M254.5 237.2h0M262.8 236.8h0M272.3 236.2h0M282.0 235.9h0M290.3 236.0h0M301.1 236.2h0M310.5 237.1h0M318.8 236.7h0M328.3 235.8h0M338.0 235.9h0M347.8 237.3h0M356.0 237.1h0M366.0 236.1h0" stroke="#7e70b2" stroke-width="6.6" stroke-linecap="round" fill="none"/>
<path d="M49.5 173.3h0M58.0 173.1h0M69.1 172.9h0M76.3 172.5h0M85.0 172.5h0M95.8 171.2h0M105.3 171.9h0M113.8 173.7h0M124.7 172.4h0M133.1 172.1h0M141.7 174.1h0M151.0 173.7h0M161.3 173.7h0M169.6 173.7h0M177.5 173.1h0M188.3 173.3h0M197.4 173.6h0M207.5 171.1h0M215.7 174.4h0M226.7 171.3h0M234.9 172.1h0M244.0 173.0h0M254.4 174.8h0M264.4 171.4h0M271.6 173.2h0M282.6 172.8h0M292.2 172.2h0M299.4 173.9h0M309.1 171.1h0M318.6 171.1h0M329.9 172.2h0M338.6 173.1h0M346.8 172.2h0M355.6 172.5h0M367.1 171.4h0M52.6 181.4h0M64.4 181.2h0M71.0 181.6h0M82.1 179.0h0M92.6 181.2h0M100.7 182.4h0M110.7 181.6h0M120.5 180.9h0M129.7 180.2h0M136.6 180.0h0M147.3 180.9h0M156.2 180.6h0M166.4 180.1h0M173.0 180.9h0M183.7 181.8h0M193.7 181.2h0M202.9 181.8h0M212.4 181.0h0M221.6 178.4h0M232.2 180.9h0M241.7 180.6h0M248.2 180.8h0M258.0 182.0h0M267.1 181.1h0M278.3 179.1h0M285.7 182.6h0M295.8 179.8h0M305.8 179.8h0M313.6 179.6h0M325.5 181.3h0M333.0 182.2h0M341.9 181.5h0M351.5 181.4h0M361.0 182.1h0M50.7 190.4h0M61.0 188.7h0M69.6 189.8h0M76.0 188.7h0M86.9 190.3h0M93.8 189.8h0M105.6 187.8h0M113.3 187.2h0M123.1 189.4h0M141.7 188.0h0M152.4 188.8h0M160.1 188.7h0M171.6 188.5h0M180.4 189.7h0M190.2 189.3h0M197.9 189.2h0M207.3 190.8h0M216.1 186.9h0M226.7 187.2h0M236.5 186.9h0M244.4 189.6h0M254.7 188.5h0M263.9 189.6h0M273.5 187.6h0M283.4 189.9h0M290.9 189.2h0M299.2 189.5h0M308.5 189.3h0M318.6 188.0h0M329.1 188.3h0M338.6 190.8h0M347.9 190.7h0M356.0 187.5h0M364.8 189.8h0M54.1 197.4h0M63.0 195.8h0M72.3 196.1h0M79.6 196.9h0M90.2 197.9h0M100.5 195.8h0M109.8 198.6h0M119.5 196.7h0M129.6 195.6h0M139.3 195.8h0M145.0 196.6h0M156.9 196.3h0M163.6 196.5h0M174.6 197.8h0M194.0 197.9h0M202.6 195.8h0M212.2 196.3h0M219.7 197.4h0M230.8 196.5h0M248.4 195.1h0M259.0 197.3h0M270.0 196.8h0M277.0 196.1h0M285.5 195.6h0M293.9 197.4h0M303.5 197.2h0M314.7 195.1h0M324.9 197.2h0M331.9 197.6h0M341.3 196.1h0M351.2 198.0h0M359.6 198.2h0M50.1 204.3h0M58.2 205.1h0M68.9 203.0h0M77.9 206.2h0M85.9 205.4h0M97.7 204.2h0M105.5 204.5h0M114.0 204.1h0M125.1 205.7h0M132.5 203.7h0M141.7 204.9h0M150.3 202.9h0M159.7 203.3h0M171.4 206.2h0M179.8 205.3h0M187.9 204.1h0M199.8 204.7h0M208.6 205.2h0M215.7 204.0h0M226.8 202.9h0M235.5 205.5h0M245.9 205.1h0M261.5 205.1h0M272.0 205.1h0M281.3 203.8h0M289.9 205.0h0M299.8 204.2h0M310.8 204.0h0M318.8 206.6h0M328.2 205.6h0M338.5 205.5h0M348.1 205.5h0M356.0 204.4h0M364.8 204.0h0M53.5 213.3h0M65.1 213.4h0M72.1 212.5h0M83.1 213.6h0M91.5 212.8h0M100.1 213.8h0M107.9 213.3h0M120.4 212.6h0M129.7 213.7h0M136.8 214.6h0M147.0 211.0h0M156.6 211.4h0M165.7 211.0h0M174.0 213.2h0M185.9 213.1h0M192.8 211.3h0M201.6 213.2h0M212.3 213.3h0M222.9 211.3h0M231.8 211.9h0M241.5 213.1h0M250.3 214.4h0M259.0 210.8h0M268.4 213.8h0M277.8 214.0h0M285.4 213.7h0M293.9 214.2h0M306.1 212.4h0M313.5 212.9h0M324.3 211.8h0M334.7 214.7h0M340.8 211.0h0M350.4 211.1h0M362.1 214.0h0M48.1 219.3h0M57.5 218.3h0M68.7 221.5h0M76.1 220.5h0M85.6 222.1h0M94.7 222.4h0M106.0 221.7h0M113.2 220.3h0M123.9 222.1h0M134.9 219.8h0M143.0 220.5h0M152.6 220.3h0M159.6 220.9h0M172.0 222.7h0M178.1 220.0h0M188.7 221.9h0M199.5 220.0h0M206.8 222.1h0M217.1 222.2h0M227.1 220.4h0M236.0 219.0h0M246.2 220.7h0M253.9 222.2h0M264.3 220.5h0M273.0 220.7h0M282.4 222.7h0M290.1 221.9h0M301.2 221.1h0M309.7 222.7h0M319.6 220.1h0M329.1 222.6h0M338.9 220.9h0M348.1 219.9h0M355.4 220.3h0M364.3 221.4h0M54.7 229.1h0M64.8 229.3h0M72.7 227.7h0M80.9 227.8h0M91.4 229.3h0M100.1 228.8h0M110.2 227.4h0M119.1 226.9h0M128.0 229.1h0M139.3 228.9h0M145.9 230.0h0M157.9 227.7h0M165.8 228.1h0M176.4 227.5h0M185.2 228.8h0M194.2 227.3h0M203.4 227.8h0M212.1 230.9h0M222.5 226.4h0M230.8 229.4h0M242.2 228.4h0M247.6 227.3h0M256.6 226.9h0M268.4 229.1h0M278.5 228.6h0M286.5 229.4h0M296.1 229.2h0M304.9 229.5h0M313.3 229.6h0M323.6 228.0h0M333.9 227.3h0M344.4 228.2h0M352.2 229.0h0M359.5 227.6h0M48.3 238.2h0M59.5 235.4h0M67.6 237.0h0M76.6 237.9h0M85.1 236.1h0M96.7 234.6h0M104.3 238.1h0M114.8 236.5h0M124.3 236.2h0M131.3 235.5h0M141.7 237.7h0M152.4 237.0h0M159.8 237.8h0M168.7 236.6h0M179.7 235.9h0M187.8 238.4h0M197.1 236.1h0M207.3 238.4h0M216.2 237.8h0M224.7 235.9h0M234.3 235.3h0M245.0 237.6h0M254.3 237.5h0M263.6 236.8h0M271.2 235.3h0M281.5 236.8h0M291.8 236.5h0M300.8 237.5h0M311.4 237.8h0M319.1 238.1h0M329.1 235.5h0M338.2 236.5h0M347.7 238.1h0M356.1 235.7h0M366.9 235.6h0" stroke="#6a5a9f" stroke-width="2.6" stroke-linecap="round" fill="none" stroke-opacity="0.7"/>
<rect x="54" y="238" width="303" height="10" fill="#e6a5da"/>
<path d="M51.1 240.5h0M56.3 240.3h0M58.5 240.9h0M62.4 240.1h0M71.9 240.9h0M73.7 238.3h0M81.9 238.7h0M85.7 238.4h0M92.7 239.6h0M97.0 238.7h0M104.5 240.5h0M121.0 240.2h0M128.7 238.5h0M133.3 239.2h0M171.1 238.9h0M179.7 238.6h0M196.1 238.3h0M201.8 238.3h0M206.9 239.8h0M209.7 239.3h0M212.6 240.9h0M234.5 239.4h0M237.8 239.9h0M246.7 240.6h0M257.0 240.3h0M274.6 240.8h0M280.1 240.8h0M283.8 239.2h0M344.1 240.8h0M60.8 242.4h0M78.6 243.7h0M115.9 241.9h0M117.4 241.6h0M120.5 243.6h0M124.8 241.2h0M127.4 241.7h0M129.6 243.1h0M137.7 242.0h0M139.1 241.5h0M143.9 243.6h0M146.3 241.1h0M169.5 242.8h0M172.1 241.7h0M179.4 242.1h0M181.1 241.6h0M202.2 241.2h0M212.9 243.0h0M223.7 241.1h0M234.2 242.4h0M238.3 241.1h0M262.8 243.0h0M264.2 242.4h0M281.3 242.8h0M310.1 242.6h0M313.9 242.2h0M315.8 243.6h0M323.4 242.9h0M326.3 242.5h0M332.0 242.3h0M338.1 241.0h0M342.4 242.7h0M344.9 241.0h0M62.6 246.1h0M83.8 244.9h0M90.2 244.1h0M104.4 245.7h0M109.0 245.5h0M115.9 244.9h0M128.5 244.4h0M149.1 244.0h0M167.0 245.6h0M170.9 245.8h0M184.5 246.4h0M189.4 243.9h0M196.2 246.2h0M218.5 245.3h0M224.2 245.1h0M227.2 246.3h0M244.6 246.3h0M257.1 244.4h0M277.6 244.9h0M286.0 244.6h0M289.4 243.9h0M296.1 244.4h0M328.9 245.5h0M337.5 245.6h0M353.3 244.8h0M60.4 247.9h0M94.2 247.0h0M113.9 246.9h0M121.6 247.3h0M124.6 249.2h0M131.1 248.4h0M136.3 248.4h0M143.9 249.1h0M157.2 246.8h0M162.4 248.1h0M170.4 247.7h0M173.6 248.9h0M196.6 248.8h0M205.0 249.0h0M209.5 247.0h0M222.9 248.3h0M232.6 247.9h0M235.3 248.2h0M257.7 249.1h0M266.3 248.3h0M268.2 247.0h0M282.1 247.8h0M288.5 247.8h0M290.5 249.1h0M306.7 248.1h0M323.2 249.1h0M325.2 247.5h0M331.7 246.7h0M336.8 248.6h0" stroke="#f0bde6" stroke-width="1.5" stroke-linecap="round" fill="none" stroke-opacity="0.8"/>
<path d="M52.0 245.8 L62.2 246.7 L72.5 246.7 L82.7 246.3 L92.9 246.7 L103.2 248.0 L113.4 248.9 L123.6 248.4 L133.9 247.4 L144.1 247.1 L154.3 247.5 L164.6 247.4 L174.8 246.2 L185.0 245.1 L195.3 245.3 L205.5 246.5 L215.7 247.1 L226.0 246.8 L236.2 246.6 L246.4 247.5 L256.7 248.8 L266.9 248.8 L277.1 247.7 L287.4 246.8 L297.6 247.0 L307.8 247.3 L318.1 246.7 L328.3 245.4 L338.5 245.0 L348.8 246.0 L359.0 247.1 L359.0 318.5 L348.8 318.3 L338.5 319.4 L328.3 320.7 L318.1 321.0 L307.8 320.5 L297.6 320.4 L287.4 321.3 L277.1 321.7 L266.9 320.8 L256.7 319.4 L246.4 318.8 L236.2 319.3 L226.0 319.6 L215.7 319.0 L205.5 318.4 L195.3 319.0 L185.0 320.4 L174.8 321.3 L164.6 320.9 L154.3 320.4 L144.1 320.8 L133.9 321.5 L123.6 321.2 L113.4 319.8 L103.2 318.7 L92.9 318.8 L82.7 319.5 L72.5 319.4 L62.2 318.7 L52.0 318.7Z" fill="#d2bbe8"/>
<path d="M155.9 294.8h0M218.3 283.4h0M124.7 315.7h0M205.2 304.6h0M94.3 273.4h0M327.5 311.0h0M242.9 315.8h0M184.4 277.5h0M107.1 306.0h0M112.8 293.8h0M250.1 273.2h0M212.7 262.7h0M255.5 252.1h0M112.2 261.4h0M255.7 262.6h0M131.7 316.3h0M330.4 250.7h0M202.5 256.0h0M54.0 300.4h0M91.3 311.3h0M171.3 267.5h0M60.7 267.6h0M205.8 272.1h0M109.7 310.0h0M352.3 268.2h0M175.1 295.0h0M267.6 304.8h0M153.6 299.9h0M57.5 262.3h0M85.4 268.3h0M178.4 266.7h0M217.6 304.7h0M166.3 288.4h0M135.0 300.3h0M116.7 310.9h0M217.7 316.4h0M138.0 305.5h0M341.6 284.3h0M150.6 262.7h0M69.0 283.8h0M94.4 305.1h0M153.6 257.4h0M320.4 288.8h0M240.0 300.1h0M342.5 272.8h0M60.3 278.4h0M74.9 305.9h0M262.4 315.7h0M333.2 267.1h0M131.1 294.7h0M101.3 305.2h0M323.2 316.0h0M329.8 305.1h0M152.6 267.7h0M107.2 261.8h0M270.2 257.0h0M175.1 316.7h0M94.7 294.2h0M56.7 272.4h0M79.0 310.6h0M351.7 299.3h0M50.8 251.1h0M90.4 267.5h0M150.6 250.8h0M130.9 261.6h0M209.7 299.6h0M180.4 315.5h0M103.8 299.5h0M237.3 315.7h0M75.9 316.4h0M314.4 267.5h0M320.3 310.7h0M159.1 288.6h0M314.0 311.1h0M249.7 251.7h0M51.0 273.3h0M196.2 267.3h0M97.1 288.4h0M245.4 288.6h0M118.5 284.4h0M203.2 267.8h0M116.8 299.2h0M240.3 288.4h0M259.2 288.3h0M298.8 293.8h0M163.0 262.3h0M295.8 267.4h0M100.4 295.2h0M159.1 267.3h0M332.7 289.4h0M183.9 299.4h0M274.8 294.6h0M324.1 305.0h0M267.8 316.2h0M316.9 305.8h0M230.6 250.5h0M342.7 250.8h0M73.1 300.2h0M180.8 273.7h0M106.1 252.1h0M156.9 283.1h0M233.2 256.2h0M60.6 256.7h0M252.2 256.1h0M255.6 283.4h0M259.1 266.9h0M304.8 262.1h0M282.7 299.6h0M110.4 299.7h0M68.8 261.6h0M323.1 283.5h0M290.2 288.5h0M146.6 300.3h0M186.5 261.7h0M88.1 316.0h0M261.4 304.5h0M358.2 288.5h0M233.4 267.5h0M286.7 262.0h0M255.6 272.6h0M192.8 283.5h0M144.5 304.9h0M301.3 257.2h0M351.3 310.9h0M121.6 256.6h0M94.2 283.2h0M314.4 278.4h0M91.3 256.2h0M230.9 272.4h0M317.7 283.5h0M168.1 250.8h0M193.7 294.8h0M239.3 256.0h0M79.1 257.3h0M199.5 272.8h0M283.3 278.1h0M69.3 295.1h0M124.9 261.7h0M348.9 294.0h0M221.0 310.8h0M134.0 257.4h0M141.4 268.1h0M236.2 305.1h0M243.5 283.4h0M305.2 294.1h0M357.4 299.7h0M289.1 277.6h0M116.2 267.5h0M81.6 315.8h0M65.8 300.5h0M290.4 310.7h0M304.7 284.3h0M53.7 267.8h0M361.6 283.7h0M57.7 283.4h0M103.2 267.3h0M90.6 299.8h0M276.7 277.8h0M172.3 289.1h0M309.0 289.7h0M256.2 315.4h0M138.4 273.6h0M193.9 251.3h0M102.9 310.0h0M186.8 252.0h0M292.9 316.7h0M128.9 311.3h0M240.6 277.8h0M161.9 305.8h0M221.9 268.3h0M143.7 283.0h0M197.0 256.8h0M274.0 283.4h0M225.0 273.6h0M135.4 289.2h0M103.5 289.6h0M222.0 299.9h0M223.7 251.8h0M76.3 262.3h0M218.1 294.7h0M67.2 278.1h0M329.1 273.2h0M168.0 261.8h0M345.3 268.1h0M113.2 272.3h0M343.0 294.2h0M338.9 310.5h0M184.7 310.8h0M208.3 277.8h0M267.6 294.1h0M312.0 294.4h0M152.4 277.5h0M305.6 273.7h0M270.7 310.8h0M261.3 283.2h0M51.7 316.8h0M175.1 305.4h0M245.6 267.7h0M361.0 294.4h0M178.3 300.3h0M342.0 316.4h0M150.2 283.5h0M121.5 311.0h0M82.4 294.2h0M112.1 251.6h0M144.5 251.9h0M237.1 294.4h0M336.5 305.8h0M289.3 299.7h0M143.3 273.3h0M169.1 295.0h0M292.5 272.7h0M146.5 288.7h0M289.4 256.3h0M196.7 289.5h0M177.9 310.1h0M66.2 310.8h0M298.4 251.7h0M50.6 305.6h0M230.5 283.7h0M280.6 315.3h0M222.2 288.3h0M135.1 267.6h0M214.7 299.1h0M227.9 299.6h0M336.2 262.1h0M299.6 272.8h0M199.3 304.6h0M131.0 272.6h0M295.3 278.0h0M348.6 251.8h0M360.2 304.4h0M237.7 284.0h0M205.5 294.7h0M187.1 305.3h0M156.3 306.0h0M181.0 262.8h0M171.7 310.0h0M283.1 310.2h0M230.1 262.8h0M249.2 294.6h0M230.0 316.5h0M209.6 257.4h0M128.0 300.4h0M292.9 294.7h0M181.3 304.6h0M283.0 289.8h0M166.0 267.5h0M199.1 294.3h0M302.8 310.6h0M277.2 300.2h0M262.0 262.3h0M160.2 256.1h0M69.5 251.7h0M333.7 278.0h0M233.8 278.6h0M317.4 261.6h0M295.6 256.6h0M320.2 256.3h0M97.6 278.5h0M194.3 315.3h0M299.7 304.7h0M81.5 262.4h0M240.4 310.0h0M98.2 255.9h0M206.0 251.2h0M118.4 293.8h0M72.8 267.1h0M150.6 305.5h0M274.2 272.2h0M140.9 278.6h0M212.0 272.6h0M339.3 257.5h0M75.2 295.0h0M150.0 315.5h0M112.5 305.0h0M187.9 273.2h0M78.5 299.1h0M345.4 256.8h0M128.5 289.4h0M249.4 305.6h0M265.5 277.6h0M180.5 250.8h0M189.8 310.8h0M94.0 262.3h0M152.7 311.4h0M302.0 299.7h0M279.9 293.8h0M240.0 266.8h0M159.9 299.6h0M174.7 272.7h0M96.8 300.1h0M193.4 305.4h0M165.8 256.0h0M222.0 257.0h0M271.5 268.0h0M66.3 268.1h0M286.2 250.6h0M163.2 272.2h0M339.8 300.2h0M332.5 257.3h0M146.7 267.7h0M279.5 250.7h0M315.1 289.4h0M252.7 277.5h0M211.6 304.4h0M271.3 299.4h0M54.2 278.3h0M286.5 273.2h0M345.5 278.1h0M305.3 316.1h0M314.2 300.5h0M217.7 251.4h0M168.6 304.9h0M295.5 310.3h0M279.9 305.3h0M118.6 251.0h0M352.2 289.1h0M161.8 316.6h0M62.6 250.6h0M144.1 262.8h0M143.8 316.1h0M308.2 267.7h0M128.4 268.0h0M180.5 284.2h0M197.0 310.7h0M311.4 315.4h0M190.4 278.8h0M200.1 315.7h0M357.4 267.3h0M51.5 295.0h0M60.8 289.2h0M181.7 294.6h0M318.2 251.3h0M224.6 262.4h0M309.0 299.8h0M233.6 311.1h0M78.4 278.4h0M296.4 289.7h0M175.1 251.5h0M212.9 250.5h0M199.2 284.1h0M190.3 257.4h0M311.4 284.2h0M336.8 315.7h0M81.5 272.2h0M354.0 305.4h0M184.6 255.9h0M347.8 305.0h0M79.2 267.7h0M354.7 294.8h0M140.3 288.8h0M186.9 315.3h0M112.7 316.2h0M172.5 278.2h0M243.5 273.4h0M88.4 250.7h0M305.1 305.7h0M302.5 278.4h0M286.2 305.0h0M342.9 305.4h0M332.9 310.7h0M192.8 262.5h0M273.8 316.8h0M326.0 288.3h0M215.9 289.1h0M177.8 288.5h0M267.9 262.8h0M97.1 267.2h0M246.3 257.2h0M54.5 311.3h0M228.2 256.0h0M124.6 305.7h0M252.5 310.4h0M361.7 261.6h0M317.0 315.7h0M258.4 257.0h0M270.4 279.1h0M321.1 267.8h0M270.6 288.7h0M299.3 315.7h0M206.7 261.4h0M85.8 300.1h0M85.4 288.8h0M280.3 272.6h0M261.4 251.9h0M311.8 305.1h0M175.6 262.3h0M110.2 278.2h0M228.3 268.0h0M78.1 288.5h0M348.2 315.5h0M361.2 251.0h0M159.8 279.0h0M129.0 279.0h0M360.1 273.3h0M243.6 251.5h0M299.2 283.2h0M63.3 261.3h0M203.4 278.5h0M228.1 310.2h0M87.6 283.2h0M125.7 295.2h0M326.7 267.2h0M335.6 294.9h0M178.1 278.6h0M317.3 272.5h0M69.7 305.0h0M358.3 311.3h0M130.8 305.2h0M277.2 256.9h0M341.6 262.2h0M100.7 315.5h0M69.4 316.6h0M63.8 305.8h0M292.6 262.7h0M116.7 279.0h0M147.4 257.2h0M277.7 288.6h0M330.2 315.9h0M348.5 262.5h0M252.9 289.5h0M72.1 277.6h0M146.5 278.5h0M140.9 311.0h0M254.7 305.6h0M118.3 316.3h0M277.1 311.2h0M215.5 257.0h0M354.0 250.8h0M321.2 277.6h0M338.4 289.7h0M262.5 294.9h0M255.1 294.7h0M60.4 311.4h0M329.5 294.6h0M134.2 311.4h0M88.0 262.8h0M265.4 256.8h0M324.3 250.9h0M147.1 310.4h0M286.3 316.7h0M57.3 315.7h0M286.8 294.4h0M246.1 310.8h0M91.8 278.5h0M156.0 315.7h0M144.2 294.0h0M214.9 267.5h0M121.8 277.8h0M292.6 304.8h0M335.9 284.2h0M214.7 277.7h0M156.0 252.0h0M56.7 251.3h0M327.5 299.1h0M318.1 294.9h0M265.1 299.4h0M265.6 289.7h0M283.3 256.8h0M90.6 288.6h0M140.4 299.6h0M267.8 272.8h0M245.4 300.2h0M224.6 316.1h0M87.9 273.0h0M87.3 295.0h0M84.8 257.1h0M137.0 261.9h0M268.2 251.6h0M311.2 273.3h0M149.7 294.8h0M76.4 272.1h0M258.3 277.6h0M131.1 283.3h0M100.9 262.3h0M354.7 283.1h0M221.3 278.1h0M335.4 251.2h0M50.2 262.3h0M191.0 289.5h0M308.6 310.3h0M165.4 300.2h0M63.7 316.5h0M355.1 261.5h0M205.7 315.5h0M251.8 299.6h0M346.0 289.4h0M200.4 261.5h0M168.3 284.1h0M134.4 278.1h0M137.8 250.6h0M305.5 251.1h0M65.8 288.6h0M237.3 262.1h0M189.9 267.9h0M75.6 251.0h0M81.2 305.4h0M302.5 289.0h0M264.1 310.2h0M311.6 262.0h0M57.4 305.6h0M190.6 299.5h0M122.9 299.7h0M237.4 273.0h0M274.0 305.8h0M223.9 294.1h0M347.8 284.0h0M116.5 288.5h0M53.6 288.9h0M84.9 311.3h0M280.5 283.0h0M274.3 250.9h0M72.9 311.2h0M329.8 262.5h0M50.4 284.1h0M141.4 257.2h0M101.0 251.5h0M311.1 252.0h0M66.0 257.0h0M57.6 294.0h0M282.6 267.3h0M296.1 300.1h0M203.1 311.2h0M119.7 272.7h0M115.5 256.5h0M357.1 256.5h0M184.3 289.0h0M122.2 288.8h0M293.4 251.7h0M327.0 257.5h0M248.9 315.9h0M103.7 257.3h0M166.3 277.8h0M209.6 310.6h0M258.2 310.1h0M326.2 278.0h0M106.6 316.0h0M119.3 305.9h0M162.8 252.1h0M63.1 283.1h0M350.9 257.2h0M358.0 278.7h0M289.0 266.8h0M248.7 282.9h0M258.0 299.1h0M211.8 294.8h0M71.9 289.6h0M345.7 299.6h0M106.4 295.0h0M218.1 262.8h0M193.3 273.5h0M249.0 262.3h0M163.0 284.3h0M274.4 261.8h0M354.0 273.0h0M87.6 305.0h0M178.3 256.2h0M292.0 284.1h0M208.6 266.9h0M242.5 261.5h0M81.4 283.0h0M138.3 316.3h0M63.1 273.4h0M230.7 304.6h0M85.4 278.4h0M301.9 267.8h0M187.8 294.8h0M338.8 266.8h0M203.3 299.1h0M202.4 288.8h0M218.4 272.5h0M251.9 267.1h0M277.9 267.1h0M72.2 256.4h0M168.0 316.4h0M324.1 261.9h0M226.9 289.1h0M199.0 251.4h0M360.6 316.3h0M330.5 284.3h0M186.6 283.1h0M155.6 262.4h0M122.0 267.8h0M63.5 295.1h0M125.0 273.7h0M153.1 288.4h0M323.8 294.7h0M150.1 272.9h0M233.1 288.4h0M321.1 299.9h0M175.3 283.5h0M168.1 272.7h0M109.8 289.0h0M208.9 289.3h0M60.6 299.8h0M184.3 267.1h0M205.9 283.5h0M197.3 278.4h0M131.6 251.2h0M267.5 282.9h0M109.9 268.2h0M106.5 273.5h0M196.8 299.8h0M354.6 316.1h0M112.2 282.9h0M212.0 284.3h0M75.3 283.5h0M215.9 310.7h0M308.5 277.7h0M137.2 293.9h0M314.5 256.2h0M125.7 284.3h0M137.2 284.4h0M227.2 278.7h0M101.0 273.4h0M103.7 278.9h0M279.8 262.6h0M163.0 294.5h0M94.2 315.3h0M344.7 310.0h0M171.9 256.9h0M309.0 257.3h0M285.9 283.9h0M224.1 283.6h0M242.6 294.6h0M298.5 262.1h0M236.6 251.6h0M96.9 311.3h0M125.2 251.5h0M233.1 299.3h0M338.6 278.3h0M54.2 256.4h0M81.4 250.5h0M243.1 305.2h0M110.1 256.9h0M223.9 305.1h0M336.3 272.5h0M264.9 268.2h0M245.9 278.7h0M101.0 283.4h0M333.0 299.9h0M348.8 272.3h0" stroke="#7a66b4" stroke-width="5.6" stroke-linecap="round" fill="none" stroke-opacity="0.6"/>
<path d="M155.9 294.8h0M218.3 283.4h0M124.7 315.7h0M205.2 304.6h0M94.3 273.4h0M327.5 311.0h0M242.9 315.8h0M184.4 277.5h0M107.1 306.0h0M112.8 293.8h0M250.1 273.2h0M212.7 262.7h0M255.5 252.1h0M112.2 261.4h0M255.7 262.6h0M131.7 316.3h0M330.4 250.7h0M202.5 256.0h0M54.0 300.4h0M91.3 311.3h0M171.3 267.5h0M60.7 267.6h0M205.8 272.1h0M109.7 310.0h0M352.3 268.2h0M175.1 295.0h0M267.6 304.8h0M153.6 299.9h0M57.5 262.3h0M85.4 268.3h0M178.4 266.7h0M217.6 304.7h0M166.3 288.4h0M135.0 300.3h0M116.7 310.9h0M217.7 316.4h0M138.0 305.5h0M341.6 284.3h0M150.6 262.7h0M69.0 283.8h0M94.4 305.1h0M153.6 257.4h0M320.4 288.8h0M240.0 300.1h0M342.5 272.8h0M60.3 278.4h0M74.9 305.9h0M262.4 315.7h0M333.2 267.1h0M131.1 294.7h0M101.3 305.2h0M323.2 316.0h0M329.8 305.1h0M152.6 267.7h0M107.2 261.8h0M270.2 257.0h0M175.1 316.7h0M94.7 294.2h0M56.7 272.4h0M79.0 310.6h0M351.7 299.3h0M50.8 251.1h0M90.4 267.5h0M150.6 250.8h0M130.9 261.6h0M209.7 299.6h0M180.4 315.5h0M103.8 299.5h0M237.3 315.7h0M75.9 316.4h0M314.4 267.5h0M320.3 310.7h0M159.1 288.6h0M314.0 311.1h0M249.7 251.7h0M51.0 273.3h0M196.2 267.3h0M97.1 288.4h0M245.4 288.6h0M118.5 284.4h0M203.2 267.8h0M116.8 299.2h0M240.3 288.4h0M259.2 288.3h0M298.8 293.8h0M163.0 262.3h0M295.8 267.4h0M100.4 295.2h0M159.1 267.3h0M332.7 289.4h0M183.9 299.4h0M274.8 294.6h0M324.1 305.0h0M267.8 316.2h0M316.9 305.8h0M230.6 250.5h0M342.7 250.8h0M73.1 300.2h0M180.8 273.7h0M106.1 252.1h0M156.9 283.1h0M233.2 256.2h0M60.6 256.7h0M252.2 256.1h0M255.6 283.4h0M259.1 266.9h0M304.8 262.1h0M282.7 299.6h0M110.4 299.7h0M68.8 261.6h0M323.1 283.5h0M290.2 288.5h0M146.6 300.3h0M186.5 261.7h0M88.1 316.0h0M261.4 304.5h0M358.2 288.5h0M233.4 267.5h0M286.7 262.0h0M255.6 272.6h0M192.8 283.5h0M144.5 304.9h0M301.3 257.2h0M351.3 310.9h0M121.6 256.6h0M94.2 283.2h0M314.4 278.4h0M91.3 256.2h0M230.9 272.4h0M317.7 283.5h0M168.1 250.8h0M193.7 294.8h0M239.3 256.0h0M79.1 257.3h0M199.5 272.8h0M283.3 278.1h0M69.3 295.1h0M124.9 261.7h0M348.9 294.0h0M221.0 310.8h0M134.0 257.4h0M141.4 268.1h0M236.2 305.1h0M243.5 283.4h0M305.2 294.1h0M357.4 299.7h0M289.1 277.6h0M116.2 267.5h0M81.6 315.8h0M65.8 300.5h0M290.4 310.7h0M304.7 284.3h0M53.7 267.8h0M361.6 283.7h0M57.7 283.4h0M103.2 267.3h0M90.6 299.8h0M276.7 277.8h0M172.3 289.1h0M309.0 289.7h0M256.2 315.4h0M138.4 273.6h0M193.9 251.3h0M102.9 310.0h0M186.8 252.0h0M292.9 316.7h0M128.9 311.3h0M240.6 277.8h0M161.9 305.8h0M221.9 268.3h0M143.7 283.0h0M197.0 256.8h0M274.0 283.4h0M225.0 273.6h0M135.4 289.2h0M103.5 289.6h0M222.0 299.9h0M223.7 251.8h0M76.3 262.3h0M218.1 294.7h0M67.2 278.1h0M329.1 273.2h0M168.0 261.8h0M345.3 268.1h0M113.2 272.3h0M343.0 294.2h0M338.9 310.5h0M184.7 310.8h0M208.3 277.8h0M267.6 294.1h0M312.0 294.4h0M152.4 277.5h0M305.6 273.7h0M270.7 310.8h0M261.3 283.2h0M51.7 316.8h0M175.1 305.4h0M245.6 267.7h0M361.0 294.4h0M178.3 300.3h0M342.0 316.4h0M150.2 283.5h0M121.5 311.0h0M82.4 294.2h0M112.1 251.6h0M144.5 251.9h0M237.1 294.4h0M336.5 305.8h0M289.3 299.7h0M143.3 273.3h0M169.1 295.0h0M292.5 272.7h0M146.5 288.7h0M289.4 256.3h0M196.7 289.5h0M177.9 310.1h0M66.2 310.8h0M298.4 251.7h0M50.6 305.6h0M230.5 283.7h0M280.6 315.3h0M222.2 288.3h0M135.1 267.6h0M214.7 299.1h0M227.9 299.6h0M336.2 262.1h0M299.6 272.8h0M199.3 304.6h0M131.0 272.6h0M295.3 278.0h0M348.6 251.8h0M360.2 304.4h0M237.7 284.0h0M205.5 294.7h0M187.1 305.3h0M156.3 306.0h0M181.0 262.8h0M171.7 310.0h0M283.1 310.2h0M230.1 262.8h0M249.2 294.6h0M230.0 316.5h0M209.6 257.4h0M128.0 300.4h0M292.9 294.7h0M181.3 304.6h0M283.0 289.8h0M166.0 267.5h0M199.1 294.3h0M302.8 310.6h0M277.2 300.2h0M262.0 262.3h0M160.2 256.1h0M69.5 251.7h0M333.7 278.0h0M233.8 278.6h0M317.4 261.6h0M295.6 256.6h0M320.2 256.3h0M97.6 278.5h0M194.3 315.3h0M299.7 304.7h0M81.5 262.4h0M240.4 310.0h0M98.2 255.9h0M206.0 251.2h0M118.4 293.8h0M72.8 267.1h0M150.6 305.5h0M274.2 272.2h0M140.9 278.6h0M212.0 272.6h0M339.3 257.5h0M75.2 295.0h0M150.0 315.5h0M112.5 305.0h0M187.9 273.2h0M78.5 299.1h0M345.4 256.8h0M128.5 289.4h0M249.4 305.6h0M265.5 277.6h0M180.5 250.8h0M189.8 310.8h0M94.0 262.3h0M152.7 311.4h0M302.0 299.7h0M279.9 293.8h0M240.0 266.8h0M159.9 299.6h0M174.7 272.7h0M96.8 300.1h0M193.4 305.4h0M165.8 256.0h0M222.0 257.0h0M271.5 268.0h0M66.3 268.1h0M286.2 250.6h0M163.2 272.2h0M339.8 300.2h0M332.5 257.3h0M146.7 267.7h0M279.5 250.7h0M315.1 289.4h0M252.7 277.5h0M211.6 304.4h0M271.3 299.4h0M54.2 278.3h0M286.5 273.2h0M345.5 278.1h0M305.3 316.1h0M314.2 300.5h0M217.7 251.4h0M168.6 304.9h0M295.5 310.3h0M279.9 305.3h0M118.6 251.0h0M352.2 289.1h0M161.8 316.6h0M62.6 250.6h0M144.1 262.8h0" stroke="#3a2e7c" stroke-width="5.0" stroke-linecap="round" fill="none"/>
<path d="M143.8 316.1h0M308.2 267.7h0M128.4 268.0h0M180.5 284.2h0M197.0 310.7h0M311.4 315.4h0M190.4 278.8h0M200.1 315.7h0M357.4 267.3h0M51.5 295.0h0M60.8 289.2h0M181.7 294.6h0M318.2 251.3h0M224.6 262.4h0M309.0 299.8h0M233.6 311.1h0M78.4 278.4h0M296.4 289.7h0M175.1 251.5h0M212.9 250.5h0M199.2 284.1h0M190.3 257.4h0M311.4 284.2h0M336.8 315.7h0M81.5 272.2h0M354.0 305.4h0M184.6 255.9h0M347.8 305.0h0M79.2 267.7h0M354.7 294.8h0M140.3 288.8h0M186.9 315.3h0M112.7 316.2h0M172.5 278.2h0M243.5 273.4h0M88.4 250.7h0M305.1 305.7h0M302.5 278.4h0M286.2 305.0h0M342.9 305.4h0M332.9 310.7h0M192.8 262.5h0M273.8 316.8h0M326.0 288.3h0M215.9 289.1h0M177.8 288.5h0M267.9 262.8h0M97.1 267.2h0M246.3 257.2h0M54.5 311.3h0M228.2 256.0h0M124.6 305.7h0M252.5 310.4h0M361.7 261.6h0M317.0 315.7h0M258.4 257.0h0M270.4 279.1h0M321.1 267.8h0M270.6 288.7h0M299.3 315.7h0M206.7 261.4h0M85.8 300.1h0M85.4 288.8h0M280.3 272.6h0M261.4 251.9h0M311.8 305.1h0M175.6 262.3h0M110.2 278.2h0M228.3 268.0h0M78.1 288.5h0M348.2 315.5h0M361.2 251.0h0M159.8 279.0h0M129.0 279.0h0M360.1 273.3h0M243.6 251.5h0M299.2 283.2h0M63.3 261.3h0M203.4 278.5h0M228.1 310.2h0M87.6 283.2h0M125.7 295.2h0M326.7 267.2h0M335.6 294.9h0M178.1 278.6h0M317.3 272.5h0M69.7 305.0h0M358.3 311.3h0M130.8 305.2h0M277.2 256.9h0M341.6 262.2h0M100.7 315.5h0M69.4 316.6h0M63.8 305.8h0M292.6 262.7h0M116.7 279.0h0M147.4 257.2h0M277.7 288.6h0M330.2 315.9h0M348.5 262.5h0M252.9 289.5h0M72.1 277.6h0M146.5 278.5h0M140.9 311.0h0M254.7 305.6h0M118.3 316.3h0M277.1 311.2h0M215.5 257.0h0M354.0 250.8h0M321.2 277.6h0M338.4 289.7h0M262.5 294.9h0M255.1 294.7h0M60.4 311.4h0M329.5 294.6h0M134.2 311.4h0M88.0 262.8h0M265.4 256.8h0M324.3 250.9h0M147.1 310.4h0M286.3 316.7h0M57.3 315.7h0M286.8 294.4h0M246.1 310.8h0M91.8 278.5h0M156.0 315.7h0M144.2 294.0h0M214.9 267.5h0M121.8 277.8h0M292.6 304.8h0M335.9 284.2h0M214.7 277.7h0M156.0 252.0h0M56.7 251.3h0M327.5 299.1h0M318.1 294.9h0M265.1 299.4h0M265.6 289.7h0M283.3 256.8h0M90.6 288.6h0M140.4 299.6h0M267.8 272.8h0M245.4 300.2h0M224.6 316.1h0M87.9 273.0h0M87.3 295.0h0M84.8 257.1h0M137.0 261.9h0M268.2 251.6h0M311.2 273.3h0M149.7 294.8h0M76.4 272.1h0M258.3 277.6h0M131.1 283.3h0M100.9 262.3h0M354.7 283.1h0M221.3 278.1h0M335.4 251.2h0M50.2 262.3h0M191.0 289.5h0M308.6 310.3h0M165.4 300.2h0M63.7 316.5h0M355.1 261.5h0M205.7 315.5h0M251.8 299.6h0M346.0 289.4h0M200.4 261.5h0M168.3 284.1h0M134.4 278.1h0M137.8 250.6h0M305.5 251.1h0M65.8 288.6h0M237.3 262.1h0M189.9 267.9h0M75.6 251.0h0M81.2 305.4h0M302.5 289.0h0M264.1 310.2h0M311.6 262.0h0M57.4 305.6h0M190.6 299.5h0M122.9 299.7h0M237.4 273.0h0M274.0 305.8h0M223.9 294.1h0M347.8 284.0h0M116.5 288.5h0M53.6 288.9h0M84.9 311.3h0M280.5 283.0h0M274.3 250.9h0M72.9 311.2h0M329.8 262.5h0M50.4 284.1h0M141.4 257.2h0M101.0 251.5h0M311.1 252.0h0M66.0 257.0h0M57.6 294.0h0M282.6 267.3h0M296.1 300.1h0M203.1 311.2h0M119.7 272.7h0M115.5 256.5h0M357.1 256.5h0M184.3 289.0h0M122.2 288.8h0M293.4 251.7h0M327.0 257.5h0M248.9 315.9h0M103.7 257.3h0M166.3 277.8h0M209.6 310.6h0M258.2 310.1h0M326.2 278.0h0M106.6 316.0h0M119.3 305.9h0M162.8 252.1h0M63.1 283.1h0M350.9 257.2h0M358.0 278.7h0M289.0 266.8h0M248.7 282.9h0M258.0 299.1h0M211.8 294.8h0M71.9 289.6h0M345.7 299.6h0M106.4 295.0h0M218.1 262.8h0M193.3 273.5h0M249.0 262.3h0M163.0 284.3h0M274.4 261.8h0M354.0 273.0h0M87.6 305.0h0M178.3 256.2h0M292.0 284.1h0M208.6 266.9h0M242.5 261.5h0M81.4 283.0h0M138.3 316.3h0M63.1 273.4h0M230.7 304.6h0M85.4 278.4h0M301.9 267.8h0M187.8 294.8h0M338.8 266.8h0M203.3 299.1h0M202.4 288.8h0M218.4 272.5h0M251.9 267.1h0M277.9 267.1h0M72.2 256.4h0M168.0 316.4h0M324.1 261.9h0M226.9 289.1h0M199.0 251.4h0M360.6 316.3h0M330.5 284.3h0M186.6 283.1h0M155.6 262.4h0M122.0 267.8h0M63.5 295.1h0M125.0 273.7h0M153.1 288.4h0M323.8 294.7h0M150.1 272.9h0M233.1 288.4h0M321.1 299.9h0M175.3 283.5h0M168.1 272.7h0M109.8 289.0h0M208.9 289.3h0M60.6 299.8h0M184.3 267.1h0M205.9 283.5h0M197.3 278.4h0M131.6 251.2h0M267.5 282.9h0M109.9 268.2h0M106.5 273.5h0M196.8 299.8h0M354.6 316.1h0M112.2 282.9h0M212.0 284.3h0M75.3 283.5h0M215.9 310.7h0M308.5 277.7h0M137.2 293.9h0M314.5 256.2h0M125.7 284.3h0M137.2 284.4h0M227.2 278.7h0M101.0 273.4h0M103.7 278.9h0M279.8 262.6h0M163.0 294.5h0M94.2 315.3h0M344.7 310.0h0M171.9 256.9h0M309.0 257.3h0M285.9 283.9h0M224.1 283.6h0M242.6 294.6h0M298.5 262.1h0M236.6 251.6h0M96.9 311.3h0M125.2 251.5h0M233.1 299.3h0M338.6 278.3h0M54.2 256.4h0M81.4 250.5h0M243.1 305.2h0M110.1 256.9h0M223.9 305.1h0M336.3 272.5h0M264.9 268.2h0M245.9 278.7h0M101.0 283.4h0M333.0 299.9h0M348.8 272.3h0" stroke="#30266e" stroke-width="4.7" stroke-linecap="round" fill="none"/>
<rect x="54" y="320" width="303" height="28" fill="#e49bd7"/>
<rect x="54" y="333.5" width="303" height="14.5" fill="#f0b9e6" opacity="0.75"/>
<path d="M71.4 334.8h0M93.5 332.5h0M109.6 333.2h0M116.5 334.4h0M120.6 334.1h0M132.7 333.6h0M136.2 333.7h0M151.2 334.8h0M186.6 333.8h0M194.2 333.6h0M212.6 334.7h0M214.1 332.7h0M226.8 334.2h0M231.6 334.2h0M238.9 333.2h0M242.6 334.5h0M253.4 334.3h0M255.7 334.0h0M265.0 332.9h0M288.7 333.2h0M291.6 334.2h0M299.4 333.8h0M301.3 334.2h0M318.5 334.3h0M327.7 334.5h0M341.4 333.7h0M345.3 332.9h0M59.1 335.8h0M63.3 335.9h0M65.7 336.3h0M71.9 337.3h0M75.4 335.3h0M87.7 335.8h0M105.9 336.7h0M108.2 336.3h0M113.6 337.3h0M118.1 335.3h0M119.0 336.9h0M129.3 336.9h0M146.1 337.4h0M152.7 335.5h0M157.0 335.3h0M165.7 336.8h0M174.1 335.2h0M177.2 336.2h0M182.1 335.8h0M188.3 337.2h0M201.3 337.1h0M213.9 335.3h0M216.2 336.6h0M221.7 335.0h0M226.0 336.6h0M228.8 335.4h0M233.2 336.0h0M235.8 336.0h0M246.3 336.4h0M252.1 336.5h0M266.6 336.7h0M274.1 336.8h0M280.0 335.9h0M280.8 336.8h0M285.0 335.4h0M288.6 336.8h0M292.9 335.0h0M298.9 336.8h0M303.6 335.1h0M304.8 335.3h0M317.5 337.3h0M340.9 335.2h0M350.1 336.5h0M96.5 338.4h0M103.8 337.7h0M107.4 339.5h0M109.2 337.9h0M116.8 339.3h0M119.7 339.8h0M120.9 338.4h0M123.9 338.1h0M130.8 338.3h0M134.0 339.2h0M144.8 339.9h0M149.4 339.9h0M152.4 338.4h0M154.7 338.1h0M169.0 339.3h0M178.2 340.1h0M193.1 339.2h0M195.5 339.7h0M207.7 339.4h0M225.6 337.8h0M228.3 339.8h0M238.9 338.9h0M248.7 338.5h0M249.8 338.2h0M258.7 338.4h0M263.1 338.2h0M267.5 339.1h0M273.4 337.9h0M283.3 338.4h0M291.6 337.7h0M307.2 337.7h0M311.7 338.4h0M315.8 339.4h0M320.4 338.4h0M337.8 337.7h0M353.0 338.9h0M355.0 339.5h0M62.8 341.8h0M68.2 341.8h0M74.3 340.7h0M80.1 342.4h0M95.5 341.4h0M103.9 341.8h0M110.6 340.3h0M118.1 342.7h0M124.8 341.6h0M135.8 340.9h0M156.3 340.3h0M160.0 341.9h0M167.5 340.4h0M177.3 342.7h0M179.1 340.5h0M182.8 342.5h0M207.9 340.5h0M216.6 341.9h0M224.9 340.5h0M229.2 340.5h0M244.9 340.3h0M248.9 341.0h0M254.7 341.2h0M257.5 340.5h0M270.8 341.6h0M273.0 341.8h0M275.4 341.6h0M289.9 341.1h0M294.6 340.9h0M305.4 341.8h0M317.5 342.6h0M328.3 341.5h0M338.3 341.0h0M344.6 341.8h0M57.3 344.0h0M62.2 345.3h0M79.3 344.1h0M102.7 344.7h0M107.1 344.3h0M128.7 343.4h0M134.4 344.2h0M148.7 344.1h0M150.4 343.4h0M157.9 343.2h0M170.3 343.2h0M181.6 344.8h0M186.2 344.6h0M192.7 344.3h0M205.2 344.1h0M215.2 343.8h0M225.2 343.8h0M228.3 345.4h0M233.7 343.0h0M239.7 343.6h0M267.6 344.3h0M277.7 344.7h0M286.6 343.5h0M290.0 343.4h0M292.2 344.6h0M306.5 343.0h0M319.2 343.9h0M327.8 344.1h0M330.8 344.4h0M338.3 344.5h0M344.4 343.1h0M349.1 345.4h0M356.3 343.2h0M357.7 344.2h0M57.2 347.0h0M63.2 345.9h0M68.4 346.5h0M78.5 345.4h0M81.6 347.1h0M82.9 345.6h0M121.9 346.3h0M128.1 347.1h0M134.5 346.5h0M143.8 346.5h0M146.9 345.6h0M150.3 346.3h0M153.8 346.1h0M155.0 346.2h0M162.2 346.7h0M170.9 347.2h0M177.6 346.4h0M181.8 346.7h0M188.8 346.6h0M195.2 346.1h0M200.3 347.8h0M207.1 347.9h0M216.6 347.7h0M228.4 347.0h0M234.3 346.6h0M242.2 346.9h0M247.2 345.7h0M249.3 345.6h0M254.2 347.6h0M261.9 346.2h0M293.9 346.9h0M296.5 347.5h0M315.8 347.3h0M318.3 347.7h0M329.8 347.8h0M344.6 347.5h0M350.1 347.1h0M353.2 345.6h0" stroke="#f8dcf3" stroke-width="1.4" stroke-linecap="round" fill="none" stroke-opacity="0.8"/>
<path d="M52.0 348.2 L62.2 348.0 L72.5 347.2 L82.7 346.8 L92.9 347.0 L103.2 347.1 L113.4 346.6 L123.6 345.9 L133.9 345.9 L144.1 346.6 L154.3 347.2 L164.6 347.1 L174.8 346.9 L185.0 347.3 L195.3 348.0 L205.5 348.1 L215.7 347.5 L226.0 346.8 L236.2 346.7 L246.4 347.0 L256.7 346.8 L266.9 346.2 L277.1 345.8 L287.4 346.3 L297.6 347.1 L307.8 347.4 L318.1 347.1 L328.3 347.1 L338.5 347.7 L348.8 348.1 L359.0 347.8 L359.0 356.2 L348.8 356.0 L338.5 356.6 L328.3 357.5 L318.1 357.7 L307.8 357.4 L297.6 357.2 L287.4 357.7 L277.1 358.0 L266.9 357.5 L256.7 356.6 L246.4 356.2 L236.2 356.5 L226.0 356.8 L215.7 356.5 L205.5 356.1 L195.3 356.4 L185.0 357.3 L174.8 357.9 L164.6 357.7 L154.3 357.3 L144.1 357.4 L133.9 357.8 L123.6 357.7 L113.4 356.9 L103.2 356.1 L92.9 356.2 L82.7 356.6 L72.5 356.7 L62.2 356.4 L52.0 356.3Z" fill="#3e2a2a"/>
<path d="M55.2 348.9h0M72.5 348.4h0M74.5 347.2h0M80.0 347.9h0M86.7 347.6h0M88.7 348.6h0M96.9 348.4h0M102.9 349.0h0M105.2 348.0h0M111.9 349.1h0M115.6 347.9h0M118.4 348.9h0M119.5 348.5h0M126.8 347.6h0M131.8 348.0h0M137.2 349.0h0M139.9 348.5h0M141.6 347.7h0M144.2 347.9h0M145.9 347.7h0M153.9 347.4h0M155.2 347.6h0M157.9 348.3h0M163.9 348.2h0M168.1 349.1h0M184.8 348.9h0M187.6 347.5h0M189.3 348.6h0M192.2 348.7h0M194.9 348.0h0M204.0 349.0h0M208.9 347.4h0M210.3 348.9h0M218.4 347.5h0M221.7 347.8h0M224.2 349.1h0M227.5 348.7h0M230.9 347.4h0M238.2 348.6h0M239.9 348.8h0M245.6 348.5h0M247.9 348.9h0M248.9 347.6h0M251.6 348.2h0M270.5 349.0h0M276.1 347.9h0M277.7 348.7h0M280.9 349.2h0M286.4 347.5h0M287.4 348.7h0M303.3 347.9h0M306.5 348.4h0M312.1 348.0h0M315.3 347.4h0M317.4 348.6h0M318.7 347.5h0M322.2 349.1h0M323.0 348.2h0M334.0 347.6h0M336.5 349.2h0M342.4 348.9h0M355.8 348.1h0M358.5 348.3h0M57.0 351.1h0M70.7 351.2h0M79.0 350.6h0M83.3 350.2h0M85.4 349.4h0M93.2 350.7h0M94.2 350.1h0M98.1 350.4h0M99.6 350.3h0M103.6 351.0h0M106.9 350.3h0M115.4 350.4h0M118.2 351.1h0M124.4 350.4h0M129.1 350.1h0M134.1 349.6h0M137.8 350.5h0M143.8 349.5h0M146.9 350.0h0M170.2 350.0h0M172.3 350.9h0M176.1 350.5h0M178.3 350.3h0M191.7 349.9h0M197.3 350.6h0M205.9 350.7h0M207.4 349.5h0M209.1 350.7h0M214.3 350.2h0M217.1 349.8h0M228.6 350.1h0M238.1 350.7h0M251.7 350.1h0M255.3 350.8h0M260.8 349.4h0M273.0 350.2h0M283.0 349.8h0M286.4 349.9h0M291.8 350.5h0M294.7 350.9h0M304.1 350.4h0M310.3 350.8h0M323.7 349.6h0M325.9 351.0h0M328.0 350.0h0M330.4 350.8h0M332.4 350.7h0M339.7 350.7h0M341.8 350.7h0M352.1 349.8h0M357.3 349.5h0M359.3 350.3h0M53.1 351.5h0M59.3 352.5h0M67.8 353.1h0M69.8 351.4h0M72.5 352.7h0M75.1 351.7h0M85.0 352.5h0M88.7 351.8h0M92.8 352.6h0M96.2 352.0h0M98.3 353.2h0M100.8 352.9h0M106.5 352.4h0M110.6 353.1h0M113.3 353.0h0M115.6 352.0h0M121.9 352.5h0M125.0 352.8h0M130.5 352.3h0M134.8 353.0h0M137.7 353.0h0M144.0 352.3h0M154.5 352.8h0M155.7 352.4h0M167.0 352.1h0M169.7 352.7h0M172.3 351.8h0M183.1 352.5h0M184.0 352.0h0M189.7 352.1h0M192.6 353.3h0M201.3 353.3h0M226.4 352.2h0M228.6 352.4h0M231.1 352.8h0M237.9 352.2h0M240.4 351.7h0M245.5 353.3h0M247.2 353.1h0M251.3 351.9h0M257.0 351.9h0M260.8 351.5h0M263.4 353.3h0M265.7 352.2h0M268.1 352.6h0M271.2 353.1h0M276.8 352.4h0M280.6 352.3h0M282.9 351.6h0M296.1 353.1h0M298.5 352.9h0M308.7 351.4h0M313.8 352.1h0M317.1 351.7h0M319.7 352.1h0M322.2 352.7h0M326.3 353.3h0M336.2 352.0h0M338.4 353.0h0M348.6 351.8h0M350.2 353.0h0M353.3 352.6h0M356.2 352.1h0M58.2 354.4h0M64.0 353.6h0M84.2 355.1h0M89.9 354.4h0M94.2 354.1h0M97.0 354.4h0M114.8 354.6h0M118.2 353.8h0M123.5 354.9h0M126.2 354.3h0M131.2 355.5h0M132.6 355.0h0M138.0 355.3h0M147.6 353.5h0M152.5 354.6h0M157.4 354.1h0M164.3 354.7h0M170.8 353.7h0M173.3 355.2h0M177.0 354.5h0M198.7 353.6h0M201.0 354.9h0M206.2 354.7h0M212.1 354.9h0M214.0 354.3h0M220.2 353.7h0M221.9 354.5h0M234.3 353.8h0M237.4 355.3h0M238.2 354.8h0M242.0 354.8h0M243.1 354.3h0M245.0 353.5h0M247.9 355.4h0M253.0 355.0h0M260.4 354.9h0M266.1 354.9h0M272.7 354.6h0M275.6 355.1h0M277.4 353.9h0M280.0 353.7h0M281.3 354.3h0M295.9 353.9h0M304.1 354.3h0M308.8 354.7h0M315.6 353.6h0M324.7 353.6h0M334.4 355.4h0M336.9 353.6h0M340.4 353.7h0M342.3 355.3h0M351.6 355.1h0M353.3 354.9h0M355.9 353.9h0M86.1 357.5h0M88.5 355.8h0M90.9 356.3h0M109.5 356.0h0M113.1 357.5h0M115.9 357.2h0M121.7 355.6h0M125.5 355.6h0M142.4 356.5h0M143.8 356.9h0M147.2 356.3h0M153.3 355.7h0M160.1 355.6h0M163.2 356.3h0M173.7 356.8h0M181.6 355.6h0M189.1 356.2h0M192.4 356.5h0M194.3 356.3h0M196.9 356.5h0M198.2 357.0h0M206.1 356.8h0M209.0 356.9h0M211.4 357.4h0M213.6 357.1h0M220.5 356.9h0M225.6 356.7h0M229.0 357.2h0M229.7 355.9h0M234.3 356.0h0M240.9 356.2h0M245.2 355.9h0M247.8 356.2h0M255.0 357.1h0M263.1 355.8h0M267.1 356.6h0M280.1 356.1h0M285.2 356.3h0M287.8 357.2h0M291.9 357.3h0M300.9 356.6h0M303.0 356.1h0M307.7 356.0h0M309.0 356.6h0M312.0 356.6h0M313.9 356.0h0M315.8 356.8h0M324.4 355.9h0M326.9 357.3h0M346.0 355.8h0" stroke="#74505a" stroke-width="1.8" stroke-linecap="round" fill="none" stroke-opacity="0.85"/>
<rect x="54" y="357" width="303" height="8" fill="#efcdeb"/>
<path d="M64.7 360.2h0M89.0 359.3h0M123.2 362.5h0M154.3 360.2h0M184.8 359.4h0M291.2 359.4h0M313.2 361.3h0M321.2 362.1h0M330.8 360.8h0" stroke="#8d6fbf" stroke-width="3.0" stroke-linecap="round" fill="none" stroke-opacity="0.8"/>
</g>
<rect x="54" y="68" width="303" height="37" filter="url(#grain)" opacity="0.38"/>
<rect x="54" y="105" width="303" height="62" filter="url(#grain)" opacity="0.38"/>
<rect x="54" y="238" width="303" height="9" filter="url(#grain)" opacity="0.38"/>
<rect x="54" y="320" width="303" height="27" filter="url(#grain)" opacity="0.38"/>
</g>
<clipPath id="hc1"><rect x="364" y="63" width="303" height="301"/></clipPath>
<g clip-path="url(#hc1)"><g filter="url(#hblur)">
<rect x="364" y="63" width="303" height="301" fill="#e5a1d7"/>
<rect x="364" y="63" width="303" height="14" fill="#f4eaf3"/>
<rect x="364" y="76" width="303" height="36" fill="#efd2ec"/>
<path d="M366.8 79.2h0M371.3 78.9h0M373.6 78.5h0M378.2 78.3h0M382.8 78.7h0M402.0 79.3h0M411.2 78.4h0M412.8 79.2h0M418.3 76.6h0M425.4 76.9h0M431.2 78.3h0M434.3 78.9h0M439.4 79.1h0M448.5 77.6h0M455.4 76.8h0M459.2 76.5h0M462.1 77.6h0M466.5 79.1h0M468.8 76.8h0M483.1 76.7h0M488.8 77.0h0M502.4 78.1h0M515.3 77.5h0M518.0 78.1h0M533.0 78.9h0M543.2 79.2h0M544.8 76.7h0M559.2 77.0h0M572.6 79.2h0M593.2 78.7h0M600.8 76.6h0M606.4 77.8h0M623.3 79.5h0M632.8 78.1h0M644.7 79.5h0M362.9 81.6h0M369.3 81.1h0M374.8 82.7h0M384.3 81.1h0M403.7 81.8h0M408.1 82.7h0M414.8 80.0h0M419.0 81.2h0M424.8 80.3h0M432.6 83.0h0M434.6 81.3h0M450.7 80.0h0M461.3 81.9h0M465.6 81.8h0M466.8 82.5h0M479.4 81.8h0M496.2 81.2h0M499.0 80.0h0M513.6 82.3h0M520.9 81.8h0M526.6 82.0h0M533.2 80.2h0M552.4 80.9h0M558.4 81.6h0M578.7 80.8h0M590.7 82.4h0M607.3 82.5h0M617.5 82.9h0M624.6 80.1h0M361.8 84.1h0M372.5 85.3h0M379.5 84.7h0M387.2 83.5h0M397.5 84.2h0M402.8 84.0h0M409.2 84.8h0M427.4 86.3h0M430.2 83.6h0M435.5 83.7h0M436.9 83.5h0M453.2 83.4h0M461.0 85.5h0M469.9 84.8h0M481.2 86.3h0M484.7 83.9h0M490.6 84.0h0M494.3 85.2h0M526.0 85.0h0M532.8 84.9h0M546.0 83.7h0M554.0 83.7h0M587.1 85.5h0M597.0 86.1h0M605.4 84.8h0M624.9 86.2h0M630.4 84.8h0M642.4 83.9h0M662.9 83.8h0M671.1 85.6h0M368.9 88.1h0M380.1 87.6h0M384.3 87.1h0M387.4 88.4h0M390.6 89.9h0M396.0 89.5h0M400.4 88.0h0M432.3 87.9h0M442.7 89.0h0M457.0 88.6h0M467.6 89.2h0M479.4 87.6h0M496.7 89.2h0M506.8 89.3h0M513.5 87.7h0M532.8 89.7h0M535.9 88.4h0M548.2 87.6h0M551.0 87.6h0M557.0 88.5h0M559.8 87.1h0M568.0 89.2h0M572.7 87.0h0M578.5 87.7h0M593.4 87.5h0M594.5 90.0h0M601.4 88.4h0M602.5 89.5h0M607.7 89.1h0M613.0 88.2h0M635.6 89.7h0M639.4 88.6h0M649.2 88.4h0M660.1 89.9h0M365.0 92.5h0M379.4 92.8h0M382.6 92.3h0M393.6 92.8h0M402.3 91.0h0M409.9 91.3h0M413.0 92.2h0M420.7 92.0h0M425.9 90.5h0M434.7 92.6h0M446.2 92.2h0M448.6 92.5h0M466.2 92.6h0M481.4 91.2h0M493.9 93.0h0M502.1 91.8h0M507.1 91.2h0M529.3 92.0h0M534.1 91.7h0M542.0 93.4h0M544.6 93.4h0M554.4 93.2h0M570.9 91.1h0M584.6 92.6h0M594.5 92.3h0M599.0 90.5h0M608.8 93.1h0M613.0 90.7h0M630.2 91.3h0M637.1 91.0h0M657.2 93.0h0M666.8 93.5h0M363.4 96.4h0M372.7 94.5h0M387.1 94.5h0M393.2 93.8h0M409.5 94.4h0M421.2 94.7h0M432.8 96.9h0M436.9 96.0h0M440.3 94.5h0M444.9 95.8h0M446.5 94.0h0M451.3 96.3h0M460.1 96.6h0M471.9 95.0h0M500.8 95.0h0M504.4 94.4h0M517.4 94.3h0M522.4 95.9h0M529.3 93.9h0M545.1 96.7h0M560.7 95.9h0M563.6 96.4h0M568.0 96.7h0M575.6 97.0h0M579.2 94.5h0M588.9 94.3h0M607.8 94.8h0M614.5 96.8h0M635.3 94.1h0M642.5 95.7h0M650.9 97.0h0M654.4 95.3h0M665.1 94.2h0M362.5 100.3h0M366.7 98.4h0M371.2 99.5h0M392.7 99.8h0M396.8 100.2h0M410.5 97.5h0M423.3 99.1h0M425.1 99.1h0M429.8 97.3h0M436.4 97.8h0M442.7 99.5h0M447.0 98.2h0M468.9 98.2h0M481.4 100.2h0M484.9 100.3h0M490.3 100.1h0M493.9 97.5h0M497.5 99.8h0M528.4 100.3h0M533.4 97.5h0M549.4 97.8h0M554.0 99.3h0M573.4 99.2h0M578.0 98.3h0M585.4 99.0h0M596.9 97.3h0M601.3 98.4h0M605.1 98.8h0M610.3 97.5h0M613.2 98.4h0M619.1 97.5h0M620.8 98.5h0M627.0 97.3h0M632.7 98.7h0M654.9 97.4h0M660.9 98.5h0M362.6 101.1h0M366.5 102.3h0M376.5 103.8h0M380.3 101.3h0M383.9 102.8h0M388.9 102.8h0M390.5 100.8h0M405.2 101.1h0M427.9 103.2h0M430.4 101.2h0M436.1 103.5h0M444.6 102.1h0M451.3 103.0h0M460.9 103.9h0M474.7 101.3h0M485.1 103.8h0M489.6 103.3h0M490.6 101.5h0M497.4 101.8h0M507.2 103.3h0M517.1 102.2h0M528.6 101.6h0M537.3 103.6h0M548.0 102.1h0M553.2 103.3h0M563.9 101.1h0M567.0 101.2h0M572.4 101.2h0M582.9 101.8h0M592.1 103.6h0M597.2 102.2h0M612.9 100.8h0M615.0 103.1h0M630.6 101.9h0M640.1 102.8h0M644.1 103.2h0M652.9 103.2h0M656.6 101.4h0M660.8 101.8h0M662.6 101.1h0M667.3 101.7h0M367.1 104.7h0M376.7 106.0h0M383.1 106.6h0M387.3 106.8h0M390.9 106.0h0M399.3 105.2h0M414.1 106.3h0M418.6 105.0h0M429.5 107.3h0M433.5 106.3h0M438.7 107.0h0M443.5 106.5h0M449.8 107.2h0M455.5 105.4h0M456.5 104.9h0M468.5 106.1h0M472.9 107.2h0M477.6 106.0h0M485.0 105.1h0M503.0 106.4h0M506.0 105.0h0M512.8 106.5h0M520.9 106.2h0M531.2 105.0h0M537.2 105.4h0M541.3 106.3h0M559.1 106.9h0M565.6 106.3h0M578.4 106.9h0M586.2 105.3h0M596.8 106.4h0M602.0 106.9h0M609.2 106.0h0M621.7 105.2h0M626.1 104.5h0M633.6 104.8h0M640.5 106.4h0M654.2 107.3h0M666.1 105.3h0M367.4 109.3h0M376.4 108.8h0M387.3 109.6h0M391.2 108.8h0M404.4 109.6h0M432.9 108.9h0M438.6 107.8h0M447.7 108.2h0M451.0 108.2h0M465.4 109.8h0M467.6 110.3h0M473.1 108.9h0M482.5 108.7h0M488.5 109.4h0M496.7 108.2h0M504.6 108.4h0M512.0 110.3h0M515.0 108.1h0M519.5 108.8h0M530.7 110.4h0M545.3 108.6h0M548.4 110.4h0M558.9 108.1h0M572.0 109.0h0M579.9 110.4h0M583.4 109.0h0M591.6 108.0h0M596.0 108.6h0M599.6 108.9h0M604.9 108.7h0M608.9 109.3h0M633.2 109.5h0M646.4 110.1h0M652.8 110.2h0M662.8 109.1h0M668.4 109.0h0" stroke="#f8e4f4" stroke-width="2.4" stroke-linecap="round" fill="none" stroke-opacity="0.9"/>
<path d="M359.5 96.2h0M384.5 101.0h0M396.1 99.1h0M409.3 87.8h0M419.3 96.7h0M419.0 86.1h0M431.4 97.0h0M443.2 94.9h0M454.9 96.3h0M466.5 99.5h0M478.2 95.2h0M491.2 98.0h0M504.3 97.5h0M515.9 97.3h0M527.5 97.9h0M539.7 99.7h0M553.6 99.2h0M565.8 95.4h0M578.7 95.9h0M591.1 96.2h0M588.6 87.4h0M615.1 98.3h0M628.2 86.6h0M639.7 96.7h0M651.9 95.8h0M663.6 98.4h0M663.1 87.3h0" stroke="#f6e6f3" stroke-width="12.5" stroke-linecap="round" fill="none" stroke-opacity="0.7"/>
<path d="M359.5 96.2h0M384.5 101.0h0M396.1 99.1h0M409.3 87.8h0M419.3 96.7h0M419.0 86.1h0M431.4 97.0h0M443.2 94.9h0M454.9 96.3h0M466.5 99.5h0M478.2 95.2h0M491.2 98.0h0M504.3 97.5h0M515.9 97.3h0M527.5 97.9h0M539.7 99.7h0M553.6 99.2h0M565.8 95.4h0M578.7 95.9h0M591.1 96.2h0M588.6 87.4h0M615.1 98.3h0M628.2 86.6h0M639.7 96.7h0M651.9 95.8h0M663.6 98.4h0M663.1 87.3h0" stroke="#6e5ca2" stroke-width="10.4" stroke-linecap="round" fill="none"/>
<path d="M359.5 96.2h0M384.5 101.0h0M396.1 99.1h0M409.3 87.8h0M419.3 96.7h0M419.0 86.1h0M431.4 97.0h0M443.2 94.9h0M454.9 96.3h0M466.5 99.5h0M478.2 95.2h0M491.2 98.0h0M504.3 97.5h0M515.9 97.3h0M527.5 97.9h0M539.7 99.7h0M553.6 99.2h0M565.8 95.4h0M578.7 95.9h0M591.1 96.2h0M588.6 87.4h0M615.1 98.3h0M628.2 86.6h0M639.7 96.7h0M651.9 95.8h0M663.6 98.4h0M663.1 87.3h0" stroke="#9882c4" stroke-width="7.8" stroke-linecap="round" fill="none"/>
<path d="M359.5 96.2h0M384.5 101.0h0M396.1 99.1h0M409.3 87.8h0M419.3 96.7h0M419.0 86.1h0M431.4 97.0h0M443.2 94.9h0M454.9 96.3h0M466.5 99.5h0M478.2 95.2h0M491.2 98.0h0M504.3 97.5h0M515.9 97.3h0M527.5 97.9h0M539.7 99.7h0M553.6 99.2h0M565.8 95.4h0M578.7 95.9h0M591.1 96.2h0M588.6 87.4h0M615.1 98.3h0M628.2 86.6h0M639.7 96.7h0M651.9 95.8h0M663.6 98.4h0M663.1 87.3h0" stroke="#5a4690" stroke-width="2.2" stroke-linecap="round" fill="none"/>
<rect x="364" y="111" width="303" height="58" fill="#e5a1d7"/>
<path d="M375.8 114.3h0M377.8 114.3h0M426.2 113.8h0M427.8 114.2h0M454.8 112.6h0M463.7 112.7h0M489.2 111.6h0M510.3 113.7h0M513.1 112.5h0M525.5 114.3h0M548.2 113.7h0M549.7 111.8h0M560.3 113.8h0M568.1 112.2h0M572.8 112.3h0M581.1 111.7h0M600.2 114.0h0M617.4 111.6h0M625.5 114.1h0M643.7 114.1h0M662.9 112.6h0M363.0 116.2h0M367.7 116.5h0M385.4 116.9h0M388.3 115.6h0M409.3 116.3h0M415.2 115.5h0M419.2 116.9h0M431.3 116.9h0M439.2 118.2h0M447.2 117.3h0M461.4 115.6h0M464.7 116.0h0M492.6 116.0h0M502.0 116.1h0M514.7 116.0h0M522.8 117.6h0M546.1 115.7h0M549.0 116.7h0M562.9 118.0h0M579.7 118.2h0M612.5 117.8h0M614.6 117.6h0M621.8 117.8h0M623.4 117.3h0M645.1 117.5h0M650.7 116.2h0M653.7 116.9h0M360.8 121.8h0M366.1 120.6h0M370.6 119.9h0M373.7 119.2h0M379.2 121.9h0M385.6 119.2h0M391.2 120.6h0M411.9 120.6h0M419.6 120.6h0M425.0 121.5h0M438.9 120.5h0M442.2 121.2h0M454.0 121.8h0M464.3 121.4h0M467.9 119.5h0M482.4 121.1h0M492.4 120.8h0M495.9 118.9h0M511.7 119.1h0M534.9 121.4h0M551.8 120.8h0M559.9 120.1h0M563.3 120.6h0M573.2 119.1h0M576.9 118.8h0M589.2 119.8h0M592.3 120.9h0M612.4 121.4h0M641.7 121.3h0M664.5 120.5h0M669.3 121.7h0M365.3 125.5h0M371.4 124.0h0M375.2 123.6h0M381.5 125.5h0M385.0 124.4h0M401.5 124.5h0M423.7 124.4h0M430.5 125.2h0M453.5 123.9h0M455.8 123.9h0M461.0 123.8h0M478.4 122.8h0M483.1 123.6h0M491.4 124.9h0M495.8 125.3h0M519.7 124.2h0M524.6 123.3h0M526.2 123.7h0M543.5 125.3h0M554.2 122.7h0M573.5 124.9h0M582.5 123.1h0M586.0 125.3h0M614.4 123.8h0M620.6 123.1h0M624.7 122.8h0M627.1 125.0h0M633.0 125.1h0M654.3 122.9h0M662.0 125.5h0M669.9 123.5h0M371.8 129.1h0M378.8 126.7h0M401.0 126.5h0M432.0 128.6h0M436.1 128.9h0M441.0 126.3h0M448.9 128.1h0M470.7 127.1h0M478.7 128.7h0M497.5 126.6h0M509.8 127.1h0M524.8 128.8h0M533.8 128.4h0M538.1 126.9h0M554.2 126.3h0M575.5 127.5h0M584.1 127.0h0M589.7 126.3h0M594.0 126.2h0M623.2 127.2h0M625.9 127.4h0M631.7 127.6h0M648.2 127.9h0M656.7 129.0h0M371.7 132.5h0M389.0 131.7h0M400.9 130.5h0M413.8 131.9h0M418.6 132.0h0M450.6 132.7h0M466.0 130.2h0M491.4 131.7h0M495.3 130.3h0M499.1 129.9h0M502.8 132.0h0M511.6 129.9h0M514.9 131.1h0M518.0 129.8h0M530.9 131.2h0M536.8 130.3h0M548.5 131.7h0M552.9 130.4h0M558.6 130.9h0M562.7 131.7h0M570.4 132.6h0M581.5 130.0h0M587.2 131.4h0M591.9 131.8h0M594.2 131.6h0M602.5 130.7h0M607.7 132.2h0M613.1 132.6h0M616.8 132.6h0M621.1 130.8h0M629.4 129.8h0M650.4 132.2h0M652.3 130.0h0M658.3 130.5h0M663.4 131.8h0" stroke="#f4cdef" stroke-width="2.2" stroke-linecap="round" fill="none" stroke-opacity="0.8"/>
<path d="M367.9 113.8h0M381.6 113.9h0M397.3 111.7h0M410.9 112.1h0M419.9 114.0h0M436.2 113.7h0M446.2 112.2h0M451.3 111.8h0M509.1 111.9h0M513.3 113.8h0M522.2 111.8h0M526.6 111.5h0M559.5 112.4h0M582.9 113.0h0M590.5 112.9h0M609.7 112.0h0M627.4 112.2h0M645.9 112.6h0M666.9 113.6h0M669.0 112.2h0M385.6 114.2h0M393.4 116.5h0M397.1 116.2h0M417.4 115.3h0M429.9 116.1h0M437.4 115.9h0M448.5 115.2h0M467.0 116.4h0M483.5 114.2h0M485.6 114.6h0M496.0 115.6h0M498.6 114.4h0M523.6 114.0h0M527.7 115.4h0M531.3 115.1h0M559.7 114.3h0M574.5 115.3h0M578.9 116.5h0M584.7 115.0h0M587.3 115.2h0M601.9 116.1h0M604.3 115.9h0M641.6 115.5h0M656.0 115.9h0M399.4 117.4h0M409.6 117.1h0M414.9 116.9h0M419.1 117.3h0M422.2 117.0h0M426.1 117.5h0M430.9 118.4h0M447.4 116.8h0M458.5 119.2h0M462.8 119.4h0M468.8 119.2h0M474.0 119.2h0M490.2 116.9h0M513.2 119.5h0M516.3 118.1h0M518.0 118.4h0M525.1 117.0h0M533.9 118.6h0M541.8 119.2h0M550.9 116.9h0M561.1 119.0h0M590.2 117.0h0M607.0 119.3h0M619.5 117.6h0M628.4 117.8h0M635.0 118.1h0M644.4 119.4h0M659.2 117.5h0M662.5 117.8h0M363.8 119.8h0M368.5 120.0h0M396.2 121.6h0M398.2 119.7h0M411.3 119.9h0M423.9 122.1h0M430.8 122.3h0M469.6 122.0h0M488.3 122.2h0M499.1 120.0h0M500.4 121.3h0M507.4 119.7h0M511.1 121.4h0M518.4 120.0h0M521.2 122.2h0M539.0 120.7h0M556.0 121.0h0M572.9 120.8h0M598.1 119.7h0M610.7 119.6h0M613.9 120.7h0M626.5 120.5h0M629.4 120.1h0M644.5 122.0h0M651.2 121.5h0M663.9 119.8h0M378.6 125.1h0M381.7 124.9h0M384.7 123.3h0M393.7 123.4h0M414.4 123.5h0M418.1 123.3h0M430.4 124.0h0M448.2 122.5h0M452.1 124.1h0M458.8 125.1h0M464.3 122.7h0M467.1 123.0h0M480.6 124.2h0M490.0 124.8h0M503.5 123.9h0M530.8 124.1h0M547.4 125.1h0M564.1 123.8h0M568.2 123.8h0M579.5 123.8h0M594.1 122.8h0M596.5 124.5h0M602.0 122.7h0M616.6 123.0h0M629.0 124.5h0M660.9 122.9h0M665.5 123.9h0M365.2 125.6h0M371.3 127.7h0M375.0 125.1h0M385.2 127.4h0M388.3 125.5h0M391.7 125.8h0M396.6 125.2h0M402.8 127.8h0M407.6 125.1h0M412.5 127.7h0M449.1 127.3h0M454.5 125.8h0M459.7 126.3h0M478.7 127.0h0M501.2 125.6h0M508.9 126.1h0M529.9 127.2h0M542.1 125.5h0M545.6 126.2h0M556.4 125.6h0M561.4 127.4h0M572.5 126.2h0M586.1 127.7h0M618.9 126.2h0M641.5 125.2h0M647.5 126.4h0M659.7 126.8h0M364.7 129.5h0M368.1 129.7h0M376.5 128.3h0M398.4 130.4h0M402.6 129.2h0M409.0 128.0h0M412.6 129.6h0M423.9 129.6h0M427.6 129.5h0M439.7 130.2h0M448.0 129.0h0M460.7 129.3h0M466.2 129.4h0M471.7 130.0h0M492.7 129.5h0M500.8 130.7h0M511.5 130.5h0M544.9 127.9h0M557.3 128.3h0M566.5 130.1h0M584.0 128.9h0M588.3 129.4h0M591.4 128.6h0M606.9 129.1h0M608.3 129.7h0M611.0 128.1h0M630.8 129.2h0M640.8 128.5h0M653.6 128.5h0M370.0 132.8h0M384.1 131.9h0M386.9 130.8h0M389.5 131.6h0M434.5 130.7h0M450.4 132.2h0M473.1 132.2h0M479.7 131.1h0M486.5 133.1h0M492.1 132.0h0M498.3 131.8h0M521.9 132.1h0M554.7 131.7h0M565.0 131.3h0M580.9 132.9h0M592.0 131.2h0M596.6 131.0h0M604.5 132.2h0M611.4 131.6h0M622.3 131.2h0M635.5 131.1h0M646.9 133.2h0M658.0 132.3h0M662.1 133.1h0M408.2 134.6h0M411.8 134.9h0M413.0 136.2h0M420.0 133.6h0M450.8 133.6h0M476.4 133.8h0M480.5 134.7h0M485.9 135.8h0M506.2 134.1h0M527.4 135.2h0M548.4 133.6h0M549.8 134.6h0M567.4 134.8h0M578.0 134.1h0M582.0 135.7h0M594.8 134.7h0M599.1 134.7h0M616.0 133.5h0M641.9 134.8h0M653.8 135.7h0M663.1 133.8h0M668.6 136.3h0M364.6 137.0h0M370.6 138.1h0M390.5 136.6h0M409.0 138.9h0M411.7 137.8h0M414.0 136.9h0M419.4 137.2h0M446.6 138.7h0M453.8 138.9h0M480.1 138.2h0M501.0 138.9h0M514.1 137.8h0M537.3 137.1h0M540.3 136.5h0M568.7 136.3h0M580.6 136.7h0M598.6 136.6h0M603.6 138.4h0M622.6 136.3h0M375.6 141.0h0M382.2 141.3h0M392.2 140.9h0M414.0 140.9h0M466.8 139.1h0M471.7 140.9h0M499.8 141.3h0M510.0 141.8h0M522.8 139.8h0M545.5 139.7h0M558.5 140.8h0M576.4 141.7h0M581.8 140.8h0M587.5 141.8h0M596.2 140.5h0M607.8 139.5h0M614.4 140.0h0M653.1 141.7h0M657.5 141.4h0M670.5 139.4h0M365.8 144.1h0M379.1 142.4h0M402.5 142.5h0M411.2 142.4h0M420.5 143.0h0M430.8 142.1h0M434.0 142.3h0M443.5 142.0h0M452.8 142.3h0M458.7 143.8h0M470.4 143.9h0M476.6 143.7h0M501.3 143.9h0M519.9 143.6h0M524.3 142.4h0M526.9 143.6h0M533.3 144.0h0M559.1 142.9h0M580.5 142.9h0M592.4 143.1h0M362.7 147.1h0M375.2 146.4h0M380.9 145.5h0M397.0 145.4h0M402.7 146.9h0M422.1 146.4h0M427.5 144.6h0M437.9 146.8h0M455.8 145.5h0M458.0 145.6h0M469.8 146.5h0M487.3 146.6h0M499.9 145.7h0M524.6 147.4h0M538.0 145.9h0M560.2 145.2h0M572.6 145.4h0M582.5 147.1h0M592.2 146.0h0M599.3 145.3h0M625.9 146.1h0M628.3 145.1h0M630.6 146.0h0M641.3 145.7h0M644.1 145.6h0M660.6 147.2h0M375.8 148.5h0M407.6 148.9h0M413.1 147.6h0M434.8 147.7h0M439.6 149.1h0M461.1 149.5h0M465.6 149.5h0M482.5 150.2h0M487.7 149.6h0M490.9 149.0h0M502.6 148.4h0M509.3 148.7h0M518.0 147.6h0M520.6 147.4h0M527.6 148.8h0M541.1 149.7h0M548.3 149.1h0M553.9 149.2h0M561.2 148.3h0M578.6 148.2h0M590.4 148.4h0M598.8 149.3h0M608.0 148.9h0M609.8 148.6h0M660.3 148.8h0M665.2 150.1h0M363.4 150.9h0M365.5 150.5h0M370.6 152.9h0M379.1 151.5h0M388.5 152.1h0M416.7 152.1h0M420.5 151.6h0M428.8 150.3h0M454.0 151.0h0M462.4 151.4h0M464.5 150.8h0M471.1 152.4h0M480.0 150.2h0M495.8 151.0h0M529.0 152.9h0M536.5 150.2h0M544.3 152.9h0M548.2 152.1h0M554.2 152.2h0M587.6 152.4h0M593.1 151.6h0M604.3 151.4h0M609.8 152.7h0M626.8 151.3h0M638.6 151.1h0M651.0 150.6h0M363.0 153.1h0M367.7 153.0h0M369.8 155.1h0M382.3 155.3h0M387.0 155.2h0M402.4 153.6h0M432.4 153.9h0M438.2 154.4h0M450.3 154.9h0M456.8 153.9h0M478.9 154.0h0M483.8 155.2h0M486.1 153.5h0M488.5 154.5h0M497.0 154.0h0M529.3 155.5h0M532.3 154.9h0M563.4 153.3h0M565.9 155.1h0M584.9 153.5h0M590.6 155.6h0M595.2 155.7h0M612.3 155.7h0M620.6 154.2h0M630.1 153.5h0M643.2 155.3h0M646.3 154.7h0M651.8 155.2h0M668.5 153.9h0M366.6 158.3h0M390.6 158.2h0M403.5 157.9h0M408.4 157.9h0M415.6 157.6h0M425.6 157.1h0M461.6 158.1h0M474.6 157.4h0M476.7 156.1h0M501.1 157.3h0M507.1 158.1h0M510.1 157.0h0M516.2 158.4h0M528.1 156.7h0M535.7 158.3h0M540.7 156.8h0M548.2 157.4h0M554.2 157.4h0M570.1 158.0h0M584.2 156.1h0M601.6 158.4h0M614.7 155.8h0M622.2 156.1h0M663.0 158.5h0M667.6 157.3h0M366.5 160.6h0M390.5 160.1h0M398.6 160.1h0M401.6 160.5h0M409.7 161.1h0M414.7 159.2h0M420.5 161.2h0M424.0 161.2h0M441.4 159.8h0M455.5 160.9h0M458.9 158.6h0M465.4 159.7h0M485.4 159.9h0M495.8 160.9h0M510.9 161.3h0M518.8 159.2h0M521.1 159.0h0M524.7 160.9h0M537.4 158.6h0M541.0 160.6h0M549.0 160.2h0M556.8 158.5h0M573.1 159.5h0M591.1 159.6h0M610.1 160.6h0M614.0 160.6h0M617.9 159.5h0M632.3 159.0h0M645.1 160.7h0M375.5 162.6h0M382.5 161.9h0M388.3 164.1h0M422.5 161.7h0M430.2 162.7h0M437.2 161.8h0M459.2 162.8h0M469.1 162.4h0M488.5 162.3h0M490.4 161.8h0M493.3 163.4h0M504.2 162.7h0M505.2 161.3h0M511.7 161.4h0M534.9 163.5h0M544.7 161.8h0M570.0 162.5h0M578.7 162.9h0M583.5 163.7h0M593.5 162.0h0M606.6 161.8h0M614.7 162.4h0M641.3 163.1h0M647.6 162.6h0M659.5 162.8h0M668.8 161.7h0M368.4 164.4h0M395.2 165.2h0M397.9 164.1h0M406.0 165.8h0M413.0 164.7h0M441.5 166.2h0M446.4 166.1h0M451.4 166.4h0M490.1 165.5h0M491.2 164.7h0M504.0 166.5h0M530.8 166.0h0M533.0 165.7h0M537.6 164.4h0M543.7 164.7h0M549.2 166.2h0M562.1 166.5h0M567.6 166.7h0M579.2 165.4h0M589.4 165.0h0M590.7 165.0h0M616.4 164.3h0M619.0 166.8h0M622.8 166.7h0M651.8 164.2h0M666.0 166.4h0M374.3 169.3h0M377.7 169.1h0M399.0 167.5h0M453.1 169.5h0M458.4 168.0h0M478.2 169.2h0M482.7 167.0h0M487.9 168.4h0M500.1 167.5h0M545.4 169.0h0M573.8 168.9h0M600.1 167.1h0M601.6 168.3h0M609.1 168.8h0M610.6 167.4h0M617.3 168.4h0M648.1 168.6h0M656.1 169.2h0M660.2 168.9h0M663.6 167.9h0" stroke="#eeb4e3" stroke-width="1.4" stroke-linecap="round" fill="none" stroke-opacity="0.8"/>
<path d="M362.0 167.6 L372.2 167.3 L382.5 168.3 L392.7 170.0 L402.9 170.4 L413.2 169.2 L423.4 168.0 L433.6 168.1 L443.9 168.6 L454.1 167.9 L464.3 166.3 L474.6 165.5 L484.8 166.5 L495.0 167.9 L505.3 168.2 L515.5 167.7 L525.7 167.9 L536.0 169.4 L546.2 170.5 L556.4 169.8 L566.7 168.3 L576.9 167.6 L587.1 168.0 L597.4 168.1 L607.6 166.9 L617.8 165.6 L628.1 165.9 L638.3 167.5 L648.5 168.6 L658.8 168.3 L669.0 167.9 L669.0 227.0 L658.8 228.7 L648.5 229.1 L638.3 228.5 L628.1 228.5 L617.8 229.6 L607.6 230.3 L597.4 229.3 L587.1 227.4 L576.9 226.7 L566.7 227.2 L556.4 227.6 L546.2 226.8 L536.0 225.9 L525.7 226.5 L515.5 228.3 L505.3 229.5 L495.0 229.1 L484.8 228.5 L474.6 228.9 L464.3 229.9 L454.1 229.7 L443.9 228.0 L433.6 226.5 L423.4 226.6 L413.2 227.4 L402.9 227.3 L392.7 226.4 L382.5 226.2 L372.2 227.7 L362.0 229.4Z" fill="#cbbde0"/>
<path d="M359.6 172.9h0M368.8 172.8h0M377.9 172.8h0M387.9 173.5h0M396.2 173.6h0M405.1 173.4h0M414.8 172.9h0M424.6 173.6h0M434.6 174.1h0M443.7 172.8h0M451.9 174.0h0M462.2 174.4h0M471.8 173.9h0M480.3 173.4h0M490.2 174.1h0M498.2 173.9h0M508.5 173.1h0M516.8 173.5h0M526.6 173.1h0M535.5 173.9h0M545.1 174.0h0M554.9 174.1h0M564.3 173.5h0M572.4 174.2h0M582.5 174.3h0M591.5 174.4h0M601.2 174.3h0M610.3 173.1h0M619.1 174.3h0M629.6 172.8h0M638.9 173.4h0M647.1 174.2h0M657.4 173.0h0M665.5 173.5h0M675.7 174.3h0M364.1 182.0h0M372.9 181.5h0M382.3 181.9h0M391.6 181.3h0M409.8 181.3h0M419.5 181.1h0M429.0 182.3h0M439.3 181.1h0M447.5 181.8h0M456.8 182.3h0M466.4 181.4h0M476.3 182.2h0M485.8 181.7h0M493.9 182.5h0M503.8 182.2h0M512.5 180.9h0M522.3 181.8h0M531.7 182.1h0M541.2 180.9h0M550.4 181.8h0M558.7 182.2h0M568.0 182.3h0M577.2 181.2h0M587.5 182.3h0M596.7 180.8h0M605.8 181.7h0M615.7 180.9h0M624.1 181.0h0M632.8 181.5h0M642.3 181.9h0M652.0 182.4h0M661.6 182.4h0M671.3 181.8h0M359.8 189.2h0M369.3 190.5h0M377.3 190.0h0M387.0 188.9h0M396.1 189.8h0M406.2 188.9h0M415.6 189.3h0M425.0 189.8h0M433.0 190.1h0M442.4 189.3h0M452.5 189.8h0M461.1 189.3h0M471.8 189.6h0M480.1 189.8h0M488.9 190.0h0M498.2 189.7h0M507.4 189.1h0M526.8 190.1h0M536.9 189.9h0M545.3 189.5h0M554.2 189.3h0M563.8 190.4h0M573.1 189.0h0M583.3 189.2h0M591.1 188.9h0M601.2 189.6h0M611.0 189.4h0M629.5 189.1h0M639.2 188.8h0M656.1 190.2h0M667.1 189.9h0M676.2 190.0h0M363.8 197.7h0M372.8 197.2h0M391.8 198.3h0M400.3 198.3h0M409.7 198.1h0M419.2 197.6h0M429.6 197.8h0M437.8 197.7h0M447.9 196.9h0M456.9 198.1h0M466.4 198.3h0M476.3 196.9h0M484.9 197.4h0M494.8 196.8h0M502.7 198.0h0M513.1 197.7h0M522.8 197.7h0M531.3 197.3h0M541.5 198.4h0M550.5 198.3h0M559.6 197.9h0M568.9 198.5h0M578.0 196.9h0M586.4 198.5h0M597.4 196.9h0M606.5 197.6h0M614.9 197.0h0M624.4 197.3h0M634.2 197.0h0M642.6 196.8h0M652.0 197.1h0M661.2 197.2h0M671.2 197.7h0M358.9 205.5h0M368.9 205.1h0M378.3 205.7h0M387.6 205.0h0M395.7 205.7h0M405.1 204.8h0M414.8 206.4h0M423.8 205.1h0M433.5 206.2h0M443.2 205.6h0M452.6 205.7h0M460.8 204.8h0M471.4 206.3h0M480.2 205.1h0M490.2 206.5h0M498.5 205.1h0M508.2 205.2h0M518.1 206.0h0M526.5 205.8h0M536.1 205.3h0M545.4 206.4h0M555.0 205.3h0M563.1 205.7h0M574.0 205.6h0M582.5 206.1h0M592.2 205.5h0M601.3 205.1h0M610.6 205.4h0M619.4 205.0h0M629.2 205.8h0M638.1 205.3h0M647.6 205.9h0M657.3 206.1h0M665.9 206.1h0M676.4 205.9h0M364.3 214.5h0M372.9 212.8h0M382.9 213.6h0M392.5 214.2h0M401.2 213.3h0M410.4 214.5h0M420.1 213.5h0M429.0 214.2h0M438.5 213.3h0M447.2 214.2h0M456.5 214.0h0M465.5 213.4h0M474.8 212.9h0M494.9 213.7h0M502.6 213.5h0M513.6 213.2h0M521.2 213.4h0M531.4 214.2h0M539.9 213.7h0M550.2 213.5h0M558.4 214.4h0M568.2 214.1h0M586.7 213.5h0M596.8 213.9h0M605.9 213.8h0M615.8 213.0h0M625.2 213.0h0M633.5 213.9h0M643.9 213.3h0M652.4 213.4h0M661.1 213.7h0M670.4 213.7h0M359.4 221.6h0M368.1 222.3h0M378.7 222.5h0M388.0 221.7h0M397.2 221.7h0M405.4 222.3h0M415.9 221.9h0M424.6 220.9h0M433.8 222.5h0M443.0 222.1h0M453.1 221.9h0M461.7 221.9h0M470.1 222.5h0M480.1 221.1h0M489.7 221.5h0M499.0 222.0h0M507.6 221.2h0M516.8 222.3h0M526.9 221.0h0M545.3 221.8h0M555.5 221.0h0M563.4 222.5h0M572.8 221.3h0M583.2 221.1h0M592.0 222.1h0M600.4 222.1h0M610.4 222.0h0M618.9 222.4h0M629.4 221.9h0M639.2 221.0h0M647.7 221.9h0M657.4 222.5h0M666.4 221.4h0M675.7 220.9h0" stroke="#6a5ca2" stroke-width="9.0" stroke-linecap="round" fill="none"/>
<path d="M359.6 172.9h0M368.8 172.8h0M377.9 172.8h0M387.9 173.5h0M396.2 173.6h0M405.1 173.4h0M414.8 172.9h0M424.6 173.6h0M434.6 174.1h0M443.7 172.8h0M451.9 174.0h0M462.2 174.4h0M471.8 173.9h0M480.3 173.4h0M490.2 174.1h0M498.2 173.9h0M508.5 173.1h0M516.8 173.5h0M526.6 173.1h0M535.5 173.9h0M545.1 174.0h0M554.9 174.1h0M564.3 173.5h0M572.4 174.2h0M582.5 174.3h0M591.5 174.4h0M601.2 174.3h0M610.3 173.1h0M619.1 174.3h0M629.6 172.8h0M638.9 173.4h0M647.1 174.2h0M657.4 173.0h0M665.5 173.5h0M675.7 174.3h0M364.1 182.0h0M372.9 181.5h0M382.3 181.9h0M391.6 181.3h0M409.8 181.3h0M419.5 181.1h0M429.0 182.3h0M439.3 181.1h0M447.5 181.8h0M456.8 182.3h0M466.4 181.4h0M476.3 182.2h0M485.8 181.7h0M493.9 182.5h0M503.8 182.2h0M512.5 180.9h0M522.3 181.8h0M531.7 182.1h0M541.2 180.9h0M550.4 181.8h0M558.7 182.2h0M568.0 182.3h0M577.2 181.2h0M587.5 182.3h0M596.7 180.8h0M605.8 181.7h0M615.7 180.9h0M624.1 181.0h0M632.8 181.5h0M642.3 181.9h0M652.0 182.4h0M661.6 182.4h0M671.3 181.8h0M359.8 189.2h0M369.3 190.5h0M377.3 190.0h0M387.0 188.9h0M396.1 189.8h0M406.2 188.9h0M415.6 189.3h0M425.0 189.8h0M433.0 190.1h0M442.4 189.3h0M452.5 189.8h0M461.1 189.3h0M471.8 189.6h0M480.1 189.8h0M488.9 190.0h0M498.2 189.7h0M507.4 189.1h0M526.8 190.1h0M536.9 189.9h0M545.3 189.5h0M554.2 189.3h0M563.8 190.4h0M573.1 189.0h0M583.3 189.2h0M591.1 188.9h0M601.2 189.6h0M611.0 189.4h0M629.5 189.1h0M639.2 188.8h0M656.1 190.2h0M667.1 189.9h0M676.2 190.0h0M363.8 197.7h0M372.8 197.2h0M391.8 198.3h0M400.3 198.3h0M409.7 198.1h0M419.2 197.6h0M429.6 197.8h0M437.8 197.7h0M447.9 196.9h0M456.9 198.1h0M466.4 198.3h0M476.3 196.9h0M484.9 197.4h0M494.8 196.8h0M502.7 198.0h0M513.1 197.7h0M522.8 197.7h0M531.3 197.3h0M541.5 198.4h0M550.5 198.3h0M559.6 197.9h0M568.9 198.5h0M578.0 196.9h0M586.4 198.5h0M597.4 196.9h0M606.5 197.6h0M614.9 197.0h0M624.4 197.3h0M634.2 197.0h0M642.6 196.8h0M652.0 197.1h0M661.2 197.2h0M671.2 197.7h0M358.9 205.5h0M368.9 205.1h0M378.3 205.7h0M387.6 205.0h0M395.7 205.7h0M405.1 204.8h0M414.8 206.4h0M423.8 205.1h0M433.5 206.2h0M443.2 205.6h0M452.6 205.7h0M460.8 204.8h0M471.4 206.3h0M480.2 205.1h0M490.2 206.5h0M498.5 205.1h0M508.2 205.2h0M518.1 206.0h0M526.5 205.8h0M536.1 205.3h0M545.4 206.4h0M555.0 205.3h0M563.1 205.7h0M574.0 205.6h0M582.5 206.1h0M592.2 205.5h0M601.3 205.1h0M610.6 205.4h0M619.4 205.0h0M629.2 205.8h0M638.1 205.3h0M647.6 205.9h0M657.3 206.1h0M665.9 206.1h0M676.4 205.9h0M364.3 214.5h0M372.9 212.8h0M382.9 213.6h0M392.5 214.2h0M401.2 213.3h0M410.4 214.5h0M420.1 213.5h0M429.0 214.2h0M438.5 213.3h0M447.2 214.2h0M456.5 214.0h0M465.5 213.4h0M474.8 212.9h0M494.9 213.7h0M502.6 213.5h0M513.6 213.2h0M521.2 213.4h0M531.4 214.2h0M539.9 213.7h0M550.2 213.5h0M558.4 214.4h0M568.2 214.1h0M586.7 213.5h0M596.8 213.9h0M605.9 213.8h0M615.8 213.0h0M625.2 213.0h0M633.5 213.9h0M643.9 213.3h0M652.4 213.4h0M661.1 213.7h0M670.4 213.7h0M359.4 221.6h0M368.1 222.3h0M378.7 222.5h0M388.0 221.7h0M397.2 221.7h0M405.4 222.3h0M415.9 221.9h0M424.6 220.9h0M433.8 222.5h0M443.0 222.1h0M453.1 221.9h0M461.7 221.9h0M470.1 222.5h0M480.1 221.1h0M489.7 221.5h0M499.0 222.0h0M507.6 221.2h0M516.8 222.3h0M526.9 221.0h0M545.3 221.8h0M555.5 221.0h0M563.4 222.5h0M572.8 221.3h0M583.2 221.1h0M592.0 222.1h0M600.4 222.1h0M610.4 222.0h0M618.9 222.4h0M629.4 221.9h0M639.2 221.0h0M647.7 221.9h0M657.4 222.5h0M666.4 221.4h0M675.7 220.9h0" stroke="#7e70b2" stroke-width="6.6" stroke-linecap="round" fill="none"/>
<path d="M359.3 172.3h0M369.1 172.5h0M377.9 172.0h0M388.0 173.4h0M396.5 172.7h0M405.0 172.1h0M413.5 172.2h0M424.3 173.2h0M435.7 174.1h0M444.9 172.6h0M451.5 172.7h0M462.3 173.6h0M471.4 174.2h0M480.6 172.1h0M489.0 174.2h0M497.8 174.6h0M508.8 174.0h0M515.7 172.4h0M525.3 173.1h0M536.2 172.5h0M544.8 172.8h0M554.9 174.0h0M563.7 173.5h0M572.3 174.1h0M582.6 175.0h0M591.9 174.1h0M599.9 173.2h0M609.6 172.9h0M620.2 174.9h0M628.9 173.1h0M639.7 172.6h0M646.5 174.0h0M657.7 172.1h0M666.9 172.4h0M675.4 173.2h0M363.3 181.7h0M372.8 182.5h0M382.8 183.0h0M390.3 181.0h0M409.6 180.2h0M418.3 182.5h0M429.5 183.3h0M438.8 181.5h0M448.9 180.7h0M456.7 181.5h0M465.2 182.4h0M476.6 181.9h0M485.7 181.0h0M493.7 183.4h0M504.7 182.6h0M513.7 182.3h0M522.1 182.0h0M530.7 181.1h0M541.2 180.7h0M550.3 181.6h0M557.6 181.6h0M567.2 181.6h0M575.7 182.2h0M586.3 181.4h0M597.7 181.3h0M604.7 180.7h0M616.6 181.4h0M623.1 180.4h0M632.6 181.9h0M642.0 182.9h0M650.8 181.8h0M662.8 181.2h0M669.9 182.3h0M359.6 188.1h0M369.7 190.6h0M378.7 188.8h0M386.9 188.7h0M395.6 191.1h0M407.6 190.4h0M414.2 190.7h0M423.8 190.7h0M434.3 190.8h0M442.3 189.2h0M451.7 189.9h0M460.5 189.5h0M472.0 190.6h0M480.7 190.9h0M489.5 189.0h0M496.9 189.2h0M506.4 188.4h0M527.0 189.6h0M535.8 190.7h0M544.8 188.7h0M555.2 190.0h0M562.5 191.5h0M574.2 188.2h0M582.9 188.7h0M590.5 188.5h0M601.4 189.1h0M610.8 189.0h0M628.7 188.8h0M639.1 189.3h0M655.8 190.8h0M667.0 189.4h0M677.1 191.2h0M364.1 196.9h0M372.2 198.4h0M392.1 199.0h0M400.7 199.0h0M410.7 197.2h0M420.5 196.3h0M428.8 198.1h0M437.8 197.8h0M447.4 196.0h0M456.0 197.4h0M466.6 196.9h0M477.7 196.7h0M485.3 197.2h0M495.7 197.2h0M503.0 198.8h0M514.1 197.4h0M523.7 198.4h0M530.0 198.1h0M540.5 197.9h0M551.5 197.7h0M560.5 199.4h0M569.2 199.4h0M577.2 195.9h0M587.3 198.8h0M597.6 196.0h0M605.8 196.1h0M616.1 197.0h0M624.5 195.9h0M634.0 196.2h0M642.8 195.4h0M651.8 195.9h0M659.8 198.6h0M671.1 197.1h0M358.2 206.0h0M369.5 203.8h0M377.0 206.1h0M386.6 204.6h0M396.1 205.5h0M406.3 205.8h0M415.1 206.7h0M424.7 205.3h0M432.8 207.0h0M442.1 204.6h0M453.1 204.3h0M460.3 205.8h0M472.7 206.3h0M478.9 205.2h0M491.6 207.3h0M497.4 205.6h0M509.6 203.7h0M517.0 207.5h0M528.0 207.2h0M534.7 203.9h0M544.0 205.7h0M554.6 206.4h0M561.6 204.5h0M572.8 204.5h0M582.7 205.0h0M592.7 204.9h0M600.5 204.7h0M611.9 206.6h0M620.5 204.6h0M628.4 205.3h0M639.5 203.9h0M648.4 204.7h0M657.7 205.0h0M667.3 205.3h0M676.4 206.2h0M364.9 215.8h0M373.7 213.7h0M383.6 213.2h0M393.0 213.5h0M400.0 214.7h0M410.1 213.6h0M420.3 213.5h0M427.7 214.8h0M437.3 212.5h0M448.6 214.8h0M455.4 213.4h0M465.2 213.8h0M475.4 212.0h0M495.7 213.8h0M502.1 214.2h0M513.3 212.5h0M520.1 212.0h0M531.8 213.8h0M539.0 212.3h0M550.7 213.7h0M558.5 215.1h0M568.2 215.5h0M585.2 212.8h0M595.6 214.8h0M605.1 213.5h0M616.3 214.1h0M624.7 212.2h0M633.1 213.7h0M644.1 213.0h0M652.9 213.8h0M661.9 212.4h0M669.4 213.6h0M359.9 220.2h0M368.9 222.5h0M378.7 221.3h0M386.9 222.1h0M395.8 220.7h0M404.6 221.0h0M415.8 221.4h0M423.5 220.8h0M433.8 222.2h0M442.9 221.8h0M454.4 222.4h0M462.4 222.7h0M471.6 222.3h0M479.4 222.5h0M488.8 221.5h0M500.5 221.1h0M506.6 221.8h0M515.3 221.4h0M528.0 220.2h0M546.5 222.9h0M556.6 220.0h0M563.9 223.2h0M571.4 221.1h0M582.6 221.8h0M591.2 222.2h0M599.6 221.9h0M609.2 220.6h0M619.0 223.2h0M628.4 221.9h0M638.4 220.0h0M646.8 222.3h0M656.8 222.9h0M666.2 220.0h0M675.3 221.8h0" stroke="#6a5a9f" stroke-width="2.6" stroke-linecap="round" fill="none" stroke-opacity="0.7"/>
<rect x="364" y="228" width="303" height="19" fill="#e6a5da"/>
<path d="M362.0 228.7h0M365.2 229.3h0M367.9 229.6h0M373.4 229.5h0M388.8 229.6h0M393.9 228.4h0M403.7 228.6h0M408.6 228.9h0M421.3 229.8h0M429.7 229.0h0M432.6 229.7h0M446.2 229.3h0M448.3 230.0h0M451.2 230.6h0M471.0 230.1h0M476.5 230.2h0M490.8 229.1h0M495.9 228.9h0M502.3 228.7h0M505.6 228.3h0M508.3 229.9h0M538.0 230.9h0M562.9 229.0h0M573.4 230.3h0M583.8 228.3h0M605.4 230.8h0M617.1 228.4h0M621.2 228.8h0M628.8 230.5h0M631.9 230.3h0M635.8 229.3h0M640.9 231.0h0M644.4 228.9h0M646.7 229.1h0M656.1 228.4h0M660.5 228.7h0M665.4 228.8h0M366.8 233.6h0M375.0 233.6h0M392.2 231.9h0M405.6 232.1h0M423.7 231.9h0M457.4 231.1h0M459.5 233.4h0M464.1 233.7h0M466.0 232.1h0M486.2 232.6h0M496.0 231.4h0M523.9 232.5h0M533.5 231.4h0M546.9 232.6h0M555.9 231.9h0M571.2 231.5h0M573.9 233.1h0M582.3 231.6h0M593.6 233.3h0M612.8 233.7h0M621.2 231.6h0M623.2 231.1h0M630.3 231.2h0M632.1 233.6h0M651.9 232.9h0M662.5 233.5h0M405.2 234.6h0M410.1 236.1h0M421.3 236.3h0M432.1 234.2h0M437.9 235.7h0M448.9 236.4h0M454.3 236.2h0M493.8 234.4h0M495.7 235.5h0M501.2 234.2h0M516.0 235.8h0M520.5 236.0h0M537.2 235.2h0M548.6 234.7h0M558.6 236.5h0M561.7 235.0h0M566.4 235.2h0M569.6 234.4h0M572.6 235.4h0M576.0 235.3h0M581.8 234.6h0M609.6 233.8h0M624.5 234.1h0M630.7 235.8h0M641.8 235.4h0M643.3 235.7h0M647.8 235.4h0M363.7 237.4h0M370.5 238.0h0M385.7 237.6h0M389.4 236.6h0M398.2 237.0h0M417.6 237.6h0M443.4 236.6h0M452.9 238.2h0M457.9 238.7h0M458.8 238.5h0M463.9 239.1h0M470.8 237.6h0M473.0 238.5h0M479.5 239.3h0M486.4 238.1h0M501.9 238.4h0M505.3 237.5h0M538.9 238.7h0M544.3 236.8h0M556.0 237.7h0M564.9 237.6h0M586.7 237.1h0M613.9 236.6h0M638.6 238.4h0M664.9 236.8h0M368.6 240.0h0M379.7 242.0h0M385.2 241.0h0M404.4 241.8h0M426.6 241.2h0M442.9 239.8h0M453.0 240.9h0M456.4 240.0h0M475.4 242.1h0M478.0 239.4h0M484.1 241.8h0M487.5 240.6h0M514.0 240.5h0M532.8 241.0h0M538.1 240.3h0M553.0 241.2h0M577.8 240.0h0M580.3 241.2h0M582.9 240.9h0M595.1 241.7h0M605.9 240.7h0M609.3 241.9h0M611.7 242.0h0M614.3 239.5h0M628.0 242.0h0M638.6 239.4h0M646.5 241.5h0M662.7 239.7h0M667.8 240.5h0M386.3 244.2h0M390.4 242.5h0M392.6 243.4h0M427.9 244.6h0M431.8 244.8h0M434.7 243.2h0M438.5 242.7h0M441.0 244.6h0M446.6 242.4h0M459.0 242.3h0M469.9 244.6h0M472.6 243.2h0M483.1 244.6h0M489.9 243.6h0M491.5 242.2h0M501.2 244.9h0M520.6 244.7h0M524.7 243.3h0M536.9 242.5h0M554.0 244.3h0M556.8 244.7h0M560.5 244.8h0M563.4 244.6h0M574.7 243.1h0M579.1 244.0h0M590.1 243.0h0M593.3 242.7h0M604.8 242.4h0M613.3 244.1h0M619.4 243.3h0M627.7 243.2h0M628.8 244.4h0M642.4 244.5h0M665.6 243.1h0M362.1 246.8h0M401.7 245.3h0M409.5 246.9h0M412.2 245.0h0M417.3 246.4h0M436.7 246.3h0M438.4 247.3h0M481.2 247.7h0M484.6 247.0h0M490.9 245.8h0M496.1 246.7h0M504.4 246.0h0M522.7 246.9h0M571.3 247.4h0M580.1 245.2h0M594.1 246.7h0M602.0 246.2h0M612.4 247.3h0M640.8 245.0h0M656.1 245.6h0" stroke="#f0bde6" stroke-width="1.5" stroke-linecap="round" fill="none" stroke-opacity="0.8"/>
<path d="M362.0 245.0 L372.2 244.6 L382.5 245.4 L392.7 246.9 L402.9 247.5 L413.2 247.0 L423.4 246.4 L433.6 246.8 L443.9 247.3 L454.1 246.8 L464.3 245.3 L474.6 244.4 L484.8 244.8 L495.0 245.5 L505.3 245.5 L515.5 244.9 L525.7 245.1 L536.0 246.5 L546.2 247.6 L556.4 247.5 L566.7 246.6 L576.9 246.4 L587.1 246.9 L597.4 246.9 L607.6 245.8 L617.8 244.5 L628.1 244.3 L638.3 245.2 L648.5 245.8 L658.8 245.4 L669.0 245.1 L669.0 312.3 L658.8 312.9 L648.5 313.6 L638.3 313.5 L628.1 313.0 L617.8 313.4 L607.6 314.9 L597.4 315.8 L587.1 315.4 L576.9 314.4 L566.7 314.3 L556.4 314.8 L546.2 314.7 L536.0 313.4 L525.7 312.2 L515.5 312.4 L505.3 313.4 L495.0 313.9 L484.8 313.4 L474.6 313.3 L464.3 314.4 L454.1 315.7 L443.9 315.8 L433.6 314.8 L423.4 314.1 L413.2 314.3 L402.9 314.6 L392.7 313.9 L382.5 312.5 L372.2 312.1 L362.0 312.9Z" fill="#d2bbe8"/>
<path d="M507.1 255.7h0M611.6 266.8h0M388.7 277.7h0M438.3 256.0h0M504.1 261.4h0M435.2 282.1h0M408.0 309.8h0M652.7 250.7h0M652.1 283.4h0M465.8 282.9h0M553.9 293.1h0M572.3 249.8h0M434.6 271.1h0M447.7 282.4h0M472.3 250.2h0M429.8 282.6h0M667.3 299.3h0M423.5 282.4h0M450.2 255.4h0M572.2 282.5h0M431.5 288.1h0M547.0 271.9h0M410.4 293.6h0M487.7 266.0h0M366.5 272.3h0M651.6 303.8h0M658.2 282.7h0M466.0 303.7h0M602.9 303.7h0M379.1 250.1h0M525.4 277.7h0M670.2 260.8h0M606.4 276.9h0M577.6 293.1h0M413.0 277.2h0M540.7 261.4h0M434.6 293.8h0M419.5 255.0h0M636.2 266.9h0M392.1 304.2h0M525.9 287.5h0M388.9 266.4h0M386.4 282.4h0M487.7 298.2h0M372.6 261.7h0M668.0 266.1h0M453.4 283.0h0M448.3 261.9h0M366.8 249.7h0M420.0 277.1h0M509.4 272.7h0M512.4 309.0h0M429.4 304.1h0M506.3 287.5h0M512.9 255.9h0M457.4 256.4h0M428.5 293.9h0M506.0 277.8h0M565.1 282.3h0M441.3 303.5h0M530.9 288.5h0M640.2 272.1h0M515.7 282.6h0M578.6 283.2h0M413.3 266.6h0M606.5 309.7h0M624.8 266.0h0M496.8 303.6h0M398.6 271.4h0M490.5 250.2h0M414.0 309.3h0M578.3 250.4h0M568.1 299.3h0M441.4 261.5h0M652.4 293.2h0M515.8 250.2h0M482.3 288.6h0M377.2 254.9h0M522.8 303.8h0M621.7 283.0h0M624.9 277.3h0M497.7 249.8h0M385.2 271.6h0M519.5 299.3h0M478.7 272.2h0M528.7 292.7h0M622.1 303.9h0M379.4 272.5h0M575.1 277.5h0M462.5 287.8h0M431.4 266.3h0M637.3 310.0h0M478.3 303.8h0M543.7 310.1h0M463.4 266.9h0M630.5 266.7h0M558.7 261.6h0M540.6 283.4h0M553.6 304.1h0M546.4 293.5h0M494.6 266.8h0M655.7 278.0h0M487.3 277.0h0M646.0 282.9h0M404.6 282.7h0M364.7 267.1h0M488.7 288.2h0M652.0 260.3h0M639.2 293.3h0M559.8 282.8h0M432.7 298.3h0M619.0 276.5h0M503.7 272.4h0M428.7 272.0h0M407.9 299.1h0M608.9 293.7h0M649.3 256.2h0M364.1 288.1h0M636.7 288.4h0M643.2 266.1h0M436.1 303.5h0M469.5 298.2h0M389.2 310.1h0M382.1 310.1h0M590.3 303.8h0M566.0 305.0h0M400.8 267.3h0M374.0 271.5h0M583.9 261.6h0M459.4 292.7h0M376.5 288.3h0M463.3 310.3h0M606.6 255.7h0M500.3 277.1h0M373.4 304.2h0M413.6 299.2h0M400.7 255.4h0M459.5 271.2h0M552.4 261.7h0M416.9 260.8h0M364.5 309.3h0M485.4 304.5h0M597.2 272.3h0M408.1 277.0h0M624.0 288.5h0M658.8 293.4h0M408.0 267.1h0M383.2 287.8h0M555.6 267.0h0M519.5 308.9h0M630.9 255.0h0M608.6 282.7h0M636.5 256.0h0M485.0 271.8h0M471.9 304.3h0M527.6 271.4h0M481.1 256.0h0M401.3 299.3h0M440.8 249.6h0M407.8 287.4h0M410.0 305.0h0M488.0 255.9h0M503.7 304.7h0M547.2 282.3h0M633.7 292.9h0M614.8 304.8h0M417.3 293.0h0M530.7 255.1h0M668.2 255.3h0M473.3 293.6h0M381.9 256.4h0M531.4 266.8h0M383.1 277.0h0M606.6 288.5h0M521.6 283.3h0M361.7 261.8h0M593.3 309.4h0M376.9 310.1h0M583.7 283.1h0M640.6 261.0h0M395.0 309.2h0M488.0 310.0h0M568.1 255.4h0M564.7 261.5h0M476.3 298.7h0M360.5 249.9h0M391.1 260.3h0M527.7 303.6h0M397.9 282.5h0M636.6 277.4h0M410.0 260.6h0M654.9 298.3h0M524.5 265.9h0M633.2 251.0h0M534.8 303.6h0M444.0 299.0h0M555.7 309.2h0M422.3 271.3h0M434.7 250.0h0M513.5 288.8h0M617.6 266.4h0M432.7 277.9h0M438.7 267.0h0M477.9 249.6h0M561.9 266.7h0M385.7 250.5h0M568.7 277.0h0M490.4 261.1h0M475.4 310.0h0M409.9 283.0h0M422.4 303.8h0M382.8 298.1h0M444.2 267.0h0M456.8 277.8h0M621.7 261.0h0M445.1 255.8h0M562.8 299.6h0M603.3 282.1h0M419.3 299.4h0M600.3 309.3h0M524.9 310.0h0M584.7 292.8h0M581.2 299.4h0M369.6 266.9h0M580.8 265.8h0M627.4 271.9h0M525.6 255.8h0M562.6 287.8h0M625.1 255.1h0M633.6 304.5h0M600.1 265.9h0M658.1 304.4h0M571.1 304.6h0M534.4 272.1h0M671.0 282.5h0M580.3 256.1h0M639.7 251.1h0M645.8 292.9h0M531.4 310.1h0M409.9 249.9h0M475.2 288.2h0M596.3 261.5h0M670.4 293.9h0M450.5 299.4h0M376.0 298.1h0M627.2 282.0h0M395.5 256.3h0M587.6 287.7h0M386.3 293.2h0M611.6 277.4h0M447.3 293.7h0M490.5 304.3h0M534.4 293.1h0M556.9 277.1h0M379.1 293.5h0M360.8 294.0h0M425.8 266.3h0M550.8 288.8h0M584.3 304.3h0M509.8 250.3h0M453.5 250.6h0M510.3 303.8h0M600.2 277.5h0M612.7 298.4h0M504.1 293.7h0M617.8 309.4h0M560.0 292.7h0M515.5 271.9h0M366.7 293.2h0M547.0 250.6h0M592.8 288.5h0M574.0 310.3h0M528.4 282.8h0M596.7 251.1h0M367.2 282.7h0M574.5 256.3h0M417.2 249.7h0M426.6 277.1h0M540.6 304.0h0M500.3 288.8h0M506.8 267.2h0M583.8 250.7h0M603.2 294.2h0M649.4 266.2h0M391.2 250.5h0M451.1 265.8h0M646.4 261.8h0M522.2 260.6h0M519.4 266.8h0M382.5 266.6h0M612.4 310.4h0M509.2 294.2h0M671.3 250.4h0M596.3 304.8h0M665.0 261.2h0M416.3 272.1h0M662.2 288.6h0M620.9 250.9h0M457.2 299.4h0M624.3 309.3h0M363.8 299.1h0M577.2 261.3h0M370.0 309.7h0M395.4 265.9h0M620.8 293.2h0M494.6 299.2h0M527.8 261.4h0M465.9 261.3h0M550.2 277.4h0M453.5 272.2h0M519.6 256.2h0M491.6 282.5h0M462.5 255.0h0M420.2 267.0h0M546.5 304.1h0M370.1 277.5h0M648.7 309.5h0M469.7 266.1h0M493.6 256.4h0M645.6 250.2h0M553.9 250.9h0M642.9 309.4h0M543.5 288.1h0M475.5 255.3h0M577.2 272.1h0M587.1 276.5h0M562.8 310.2h0M550.6 299.0h0M555.6 255.3h0M454.0 305.0h0M649.0 298.5h0M599.0 288.6h0M594.1 267.1h0M544.1 266.5h0M509.7 260.9h0M473.3 272.3h0M397.5 304.4h0M476.2 267.2h0M614.4 261.8h0M388.1 288.6h0M603.4 261.1h0M534.4 260.9h0M618.7 255.2h0M631.2 309.2h0M466.6 272.2h0M562.8 276.7h0M654.9 309.7h0M457.0 267.1h0M373.1 282.4h0M501.1 298.9h0M594.0 256.1h0M586.6 298.4h0M437.7 309.2h0M527.7 250.7h0M466.4 292.9h0M405.0 272.1h0M532.1 298.8h0M599.7 256.1h0M391.5 293.5h0M637.3 298.9h0M578.3 304.5h0M568.1 267.1h0M422.7 260.5h0M556.8 299.3h0M525.7 298.6h0M661.5 310.3h0M416.3 304.8h0M566.1 271.7h0M664.3 292.7h0M574.0 299.0h0M639.8 304.6h0M549.5 266.1h0M628.1 261.1h0M509.0 282.8h0M584.0 271.8h0M494.0 309.7h0M500.9 309.5h0M608.9 261.2h0M643.3 288.6h0M667.9 276.7h0M580.3 288.7h0M394.3 287.8h0M596.1 281.9h0M603.3 250.9h0M645.5 272.2h0M457.5 287.7h0M537.0 256.2h0M515.1 304.3h0M448.0 272.2h0M490.3 272.4h0M661.1 298.2h0M431.6 255.7h0M534.2 282.6h0M623.9 299.1h0M367.3 303.5h0M369.5 298.7h0M521.4 271.2h0M580.9 277.4h0M575.5 287.9h0M668.5 288.2h0M423.6 293.6h0M642.8 256.1h0M398.5 293.7h0M376.8 277.7h0M391.7 282.7h0M550.3 309.4h0M618.0 288.0h0M618.8 298.8h0M609.0 305.0h0M495.0 287.5h0M662.3 265.8h0M472.5 282.6h0M482.4 267.3h0M481.5 310.0h0M630.7 298.6h0M432.8 309.1h0M519.1 276.8h0M481.8 299.5h0M558.8 271.6h0M648.4 287.4h0M484.6 292.9h0M400.6 309.0h0M549.2 255.9h0M410.6 272.1h0M429.2 250.8h0M472.1 261.3h0M420.3 309.6h0M568.7 288.2h0M444.5 287.5h0M652.8 272.6h0M661.3 277.9h0M469.7 309.2h0M397.4 250.0h0M572.0 261.8h0M537.1 277.7h0M670.9 271.6h0M556.4 288.0h0M626.9 292.8h0M566.2 293.7h0M596.2 292.7h0M538.2 309.6h0M379.4 282.0h0M540.6 249.7h0M608.2 271.4h0M413.3 287.4h0M360.4 271.4h0M408.0 256.4h0M558.5 304.0h0M515.6 260.4h0M395.4 276.8h0M538.2 288.7h0M565.2 250.4h0M493.6 277.7h0M475.8 276.5h0M425.5 298.6h0M478.5 282.0h0M643.5 298.7h0M459.4 250.9h0M361.1 303.7h0M593.1 299.0h0M533.8 249.8h0M389.5 255.7h0M414.1 255.3h0M559.6 249.8h0M522.9 293.1h0M500.5 255.6h0M602.2 271.6h0M403.6 293.5h0M496.8 261.2h0M553.0 271.1h0M543.8 276.9h0M391.9 272.2h0M484.1 260.4h0M553.5 282.3h0M655.3 287.8h0M645.9 304.9h0M360.9 282.7h0M503.3 283.0h0M404.6 250.5h0M544.4 298.4h0M450.9 287.7h0M574.8 266.8h0M373.6 293.6h0M649.2 277.4h0M615.1 249.7h0M634.0 281.9h0M497.9 282.0h0M543.0 255.9h0M589.7 282.8h0M513.0 267.2h0M451.0 276.7h0M590.3 261.4h0M441.9 272.6h0M422.9 250.5h0M435.4 261.8h0M611.2 255.5h0M463.9 298.8h0M448.1 304.2h0M531.9 277.9h0M661.6 255.8h0M664.4 272.2h0M496.9 271.5h0M507.2 310.3h0M425.4 255.4h0M385.1 303.5h0M658.6 271.4h0M462.7 276.7h0M571.3 294.1h0M426.0 309.7h0M395.1 299.4h0M373.4 250.1h0M497.6 293.6h0M456.4 309.8h0M626.9 250.2h0M478.9 294.1h0M438.1 277.4h0M506.9 299.5h0M568.9 309.7h0M538.3 266.9h0M404.3 261.3h0M562.4 255.3h0M614.7 282.5h0M388.3 299.5h0M547.3 260.9h0M484.7 251.0h0M630.3 277.1h0M441.8 293.9h0M460.6 260.8h0M586.8 266.7h0M642.7 277.3h0M397.6 261.2h0M594.1 277.7h0M460.8 283.5h0M589.8 250.3h0M364.1 276.7h0M500.4 266.4h0M468.9 288.6h0M438.2 287.6h0M379.1 260.9h0M479.4 261.3h0M379.6 304.5h0M441.6 282.2h0M367.7 260.8h0M537.2 298.2h0M633.2 261.8h0M639.5 283.5h0M426.3 288.8h0M605.0 299.1h0M571.3 271.7h0M522.8 250.6h0M469.1 277.1h0M540.1 272.5h0M370.6 256.3h0M519.6 288.2h0M444.6 277.2h0M438.5 298.1h0M658.3 250.9h0M614.5 271.4h0M621.7 271.4h0M400.8 287.3h0M466.0 250.2h0M608.4 250.7h0M405.0 304.3h0M580.7 309.9h0M376.8 266.2h0M658.1 261.9h0M450.9 310.4h0M664.4 303.5h0M667.4 308.9h0M417.2 283.1h0M541.0 293.7h0M516.0 294.2h0M401.6 276.9h0M513.2 276.8h0M513.4 299.4h0M447.6 249.7h0M664.3 282.3h0M630.8 288.2h0M429.7 261.3h0M655.2 256.1h0M587.8 309.9h0M664.5 249.9h0M611.4 288.0h0M606.1 265.8h0M589.8 293.2h0M469.7 256.2h0M600.3 299.3h0M490.5 292.9h0M670.6 304.0h0M504.1 250.1h0M364.3 255.4h0" stroke="#7a66b4" stroke-width="5.6" stroke-linecap="round" fill="none" stroke-opacity="0.6"/>
<path d="M507.1 255.7h0M611.6 266.8h0M388.7 277.7h0M438.3 256.0h0M504.1 261.4h0M435.2 282.1h0M408.0 309.8h0M652.7 250.7h0M652.1 283.4h0M465.8 282.9h0M553.9 293.1h0M572.3 249.8h0M434.6 271.1h0M447.7 282.4h0M472.3 250.2h0M429.8 282.6h0M667.3 299.3h0M423.5 282.4h0M450.2 255.4h0M572.2 282.5h0M431.5 288.1h0M547.0 271.9h0M410.4 293.6h0M487.7 266.0h0M366.5 272.3h0M651.6 303.8h0M658.2 282.7h0M466.0 303.7h0M602.9 303.7h0M379.1 250.1h0M525.4 277.7h0M670.2 260.8h0M606.4 276.9h0M577.6 293.1h0M413.0 277.2h0M540.7 261.4h0M434.6 293.8h0M419.5 255.0h0M636.2 266.9h0M392.1 304.2h0M525.9 287.5h0M388.9 266.4h0M386.4 282.4h0M487.7 298.2h0M372.6 261.7h0M668.0 266.1h0M453.4 283.0h0M448.3 261.9h0M366.8 249.7h0M420.0 277.1h0M509.4 272.7h0M512.4 309.0h0M429.4 304.1h0M506.3 287.5h0M512.9 255.9h0M457.4 256.4h0M428.5 293.9h0M506.0 277.8h0M565.1 282.3h0M441.3 303.5h0M530.9 288.5h0M640.2 272.1h0M515.7 282.6h0M578.6 283.2h0M413.3 266.6h0M606.5 309.7h0M624.8 266.0h0M496.8 303.6h0M398.6 271.4h0M490.5 250.2h0M414.0 309.3h0M578.3 250.4h0M568.1 299.3h0M441.4 261.5h0M652.4 293.2h0M515.8 250.2h0M482.3 288.6h0M377.2 254.9h0M522.8 303.8h0M621.7 283.0h0M624.9 277.3h0M497.7 249.8h0M385.2 271.6h0M519.5 299.3h0M478.7 272.2h0M528.7 292.7h0M622.1 303.9h0M379.4 272.5h0M575.1 277.5h0M462.5 287.8h0M431.4 266.3h0M637.3 310.0h0M478.3 303.8h0M543.7 310.1h0M463.4 266.9h0M630.5 266.7h0M558.7 261.6h0M540.6 283.4h0M553.6 304.1h0M546.4 293.5h0M494.6 266.8h0M655.7 278.0h0M487.3 277.0h0M646.0 282.9h0M404.6 282.7h0M364.7 267.1h0M488.7 288.2h0M652.0 260.3h0M639.2 293.3h0M559.8 282.8h0M432.7 298.3h0M619.0 276.5h0M503.7 272.4h0M428.7 272.0h0M407.9 299.1h0M608.9 293.7h0M649.3 256.2h0M364.1 288.1h0M636.7 288.4h0M643.2 266.1h0M436.1 303.5h0M469.5 298.2h0M389.2 310.1h0M382.1 310.1h0M590.3 303.8h0M566.0 305.0h0M400.8 267.3h0M374.0 271.5h0M583.9 261.6h0M459.4 292.7h0M376.5 288.3h0M463.3 310.3h0M606.6 255.7h0M500.3 277.1h0M373.4 304.2h0M413.6 299.2h0M400.7 255.4h0M459.5 271.2h0M552.4 261.7h0M416.9 260.8h0M364.5 309.3h0M485.4 304.5h0M597.2 272.3h0M408.1 277.0h0M624.0 288.5h0M658.8 293.4h0M408.0 267.1h0M383.2 287.8h0M555.6 267.0h0M519.5 308.9h0M630.9 255.0h0M608.6 282.7h0M636.5 256.0h0M485.0 271.8h0M471.9 304.3h0M527.6 271.4h0M481.1 256.0h0M401.3 299.3h0M440.8 249.6h0M407.8 287.4h0M410.0 305.0h0M488.0 255.9h0M503.7 304.7h0M547.2 282.3h0M633.7 292.9h0M614.8 304.8h0M417.3 293.0h0M530.7 255.1h0M668.2 255.3h0M473.3 293.6h0M381.9 256.4h0M531.4 266.8h0M383.1 277.0h0M606.6 288.5h0M521.6 283.3h0M361.7 261.8h0M593.3 309.4h0M376.9 310.1h0M583.7 283.1h0M640.6 261.0h0M395.0 309.2h0M488.0 310.0h0M568.1 255.4h0M564.7 261.5h0M476.3 298.7h0M360.5 249.9h0M391.1 260.3h0M527.7 303.6h0M397.9 282.5h0M636.6 277.4h0M410.0 260.6h0M654.9 298.3h0M524.5 265.9h0M633.2 251.0h0M534.8 303.6h0M444.0 299.0h0M555.7 309.2h0M422.3 271.3h0M434.7 250.0h0M513.5 288.8h0M617.6 266.4h0M432.7 277.9h0M438.7 267.0h0M477.9 249.6h0M561.9 266.7h0M385.7 250.5h0M568.7 277.0h0M490.4 261.1h0M475.4 310.0h0M409.9 283.0h0M422.4 303.8h0M382.8 298.1h0M444.2 267.0h0M456.8 277.8h0M621.7 261.0h0M445.1 255.8h0M562.8 299.6h0M603.3 282.1h0M419.3 299.4h0M600.3 309.3h0M524.9 310.0h0M584.7 292.8h0M581.2 299.4h0M369.6 266.9h0M580.8 265.8h0M627.4 271.9h0M525.6 255.8h0M562.6 287.8h0M625.1 255.1h0M633.6 304.5h0M600.1 265.9h0M658.1 304.4h0M571.1 304.6h0M534.4 272.1h0M671.0 282.5h0M580.3 256.1h0M639.7 251.1h0M645.8 292.9h0M531.4 310.1h0M409.9 249.9h0M475.2 288.2h0M596.3 261.5h0M670.4 293.9h0M450.5 299.4h0M376.0 298.1h0M627.2 282.0h0M395.5 256.3h0M587.6 287.7h0M386.3 293.2h0M611.6 277.4h0M447.3 293.7h0M490.5 304.3h0M534.4 293.1h0M556.9 277.1h0M379.1 293.5h0M360.8 294.0h0M425.8 266.3h0M550.8 288.8h0M584.3 304.3h0M509.8 250.3h0M453.5 250.6h0M510.3 303.8h0M600.2 277.5h0M612.7 298.4h0M504.1 293.7h0M617.8 309.4h0M560.0 292.7h0M515.5 271.9h0M366.7 293.2h0M547.0 250.6h0M592.8 288.5h0M574.0 310.3h0M528.4 282.8h0M596.7 251.1h0M367.2 282.7h0M574.5 256.3h0M417.2 249.7h0M426.6 277.1h0M540.6 304.0h0M500.3 288.8h0M506.8 267.2h0M583.8 250.7h0M603.2 294.2h0M649.4 266.2h0M391.2 250.5h0M451.1 265.8h0M646.4 261.8h0M522.2 260.6h0M519.4 266.8h0M382.5 266.6h0M612.4 310.4h0M509.2 294.2h0M671.3 250.4h0M596.3 304.8h0M665.0 261.2h0" stroke="#3a2e7c" stroke-width="5.0" stroke-linecap="round" fill="none"/>
<path d="M416.3 272.1h0M662.2 288.6h0M620.9 250.9h0M457.2 299.4h0M624.3 309.3h0M363.8 299.1h0M577.2 261.3h0M370.0 309.7h0M395.4 265.9h0M620.8 293.2h0M494.6 299.2h0M527.8 261.4h0M465.9 261.3h0M550.2 277.4h0M453.5 272.2h0M519.6 256.2h0M491.6 282.5h0M462.5 255.0h0M420.2 267.0h0M546.5 304.1h0M370.1 277.5h0M648.7 309.5h0M469.7 266.1h0M493.6 256.4h0M645.6 250.2h0M553.9 250.9h0M642.9 309.4h0M543.5 288.1h0M475.5 255.3h0M577.2 272.1h0M587.1 276.5h0M562.8 310.2h0M550.6 299.0h0M555.6 255.3h0M454.0 305.0h0M649.0 298.5h0M599.0 288.6h0M594.1 267.1h0M544.1 266.5h0M509.7 260.9h0M473.3 272.3h0M397.5 304.4h0M476.2 267.2h0M614.4 261.8h0M388.1 288.6h0M603.4 261.1h0M534.4 260.9h0M618.7 255.2h0M631.2 309.2h0M466.6 272.2h0M562.8 276.7h0M654.9 309.7h0M457.0 267.1h0M373.1 282.4h0M501.1 298.9h0M594.0 256.1h0M586.6 298.4h0M437.7 309.2h0M527.7 250.7h0M466.4 292.9h0M405.0 272.1h0M532.1 298.8h0M599.7 256.1h0M391.5 293.5h0M637.3 298.9h0M578.3 304.5h0M568.1 267.1h0M422.7 260.5h0M556.8 299.3h0M525.7 298.6h0M661.5 310.3h0M416.3 304.8h0M566.1 271.7h0M664.3 292.7h0M574.0 299.0h0M639.8 304.6h0M549.5 266.1h0M628.1 261.1h0M509.0 282.8h0M584.0 271.8h0M494.0 309.7h0M500.9 309.5h0M608.9 261.2h0M643.3 288.6h0M667.9 276.7h0M580.3 288.7h0M394.3 287.8h0M596.1 281.9h0M603.3 250.9h0M645.5 272.2h0M457.5 287.7h0M537.0 256.2h0M515.1 304.3h0M448.0 272.2h0M490.3 272.4h0M661.1 298.2h0M431.6 255.7h0M534.2 282.6h0M623.9 299.1h0M367.3 303.5h0M369.5 298.7h0M521.4 271.2h0M580.9 277.4h0M575.5 287.9h0M668.5 288.2h0M423.6 293.6h0M642.8 256.1h0M398.5 293.7h0M376.8 277.7h0M391.7 282.7h0M550.3 309.4h0M618.0 288.0h0M618.8 298.8h0M609.0 305.0h0M495.0 287.5h0M662.3 265.8h0M472.5 282.6h0M482.4 267.3h0M481.5 310.0h0M630.7 298.6h0M432.8 309.1h0M519.1 276.8h0M481.8 299.5h0M558.8 271.6h0M648.4 287.4h0M484.6 292.9h0M400.6 309.0h0M549.2 255.9h0M410.6 272.1h0M429.2 250.8h0M472.1 261.3h0M420.3 309.6h0M568.7 288.2h0M444.5 287.5h0M652.8 272.6h0M661.3 277.9h0M469.7 309.2h0M397.4 250.0h0M572.0 261.8h0M537.1 277.7h0M670.9 271.6h0M556.4 288.0h0M626.9 292.8h0M566.2 293.7h0M596.2 292.7h0M538.2 309.6h0M379.4 282.0h0M540.6 249.7h0M608.2 271.4h0M413.3 287.4h0M360.4 271.4h0M408.0 256.4h0M558.5 304.0h0M515.6 260.4h0M395.4 276.8h0M538.2 288.7h0M565.2 250.4h0M493.6 277.7h0M475.8 276.5h0M425.5 298.6h0M478.5 282.0h0M643.5 298.7h0M459.4 250.9h0M361.1 303.7h0M593.1 299.0h0M533.8 249.8h0M389.5 255.7h0M414.1 255.3h0M559.6 249.8h0M522.9 293.1h0M500.5 255.6h0M602.2 271.6h0M403.6 293.5h0M496.8 261.2h0M553.0 271.1h0M543.8 276.9h0M391.9 272.2h0M484.1 260.4h0M553.5 282.3h0M655.3 287.8h0M645.9 304.9h0M360.9 282.7h0M503.3 283.0h0M404.6 250.5h0M544.4 298.4h0M450.9 287.7h0M574.8 266.8h0M373.6 293.6h0M649.2 277.4h0M615.1 249.7h0M634.0 281.9h0M497.9 282.0h0M543.0 255.9h0M589.7 282.8h0M513.0 267.2h0M451.0 276.7h0M590.3 261.4h0M441.9 272.6h0M422.9 250.5h0M435.4 261.8h0M611.2 255.5h0M463.9 298.8h0M448.1 304.2h0M531.9 277.9h0M661.6 255.8h0M664.4 272.2h0M496.9 271.5h0M507.2 310.3h0M425.4 255.4h0M385.1 303.5h0M658.6 271.4h0M462.7 276.7h0M571.3 294.1h0M426.0 309.7h0M395.1 299.4h0M373.4 250.1h0M497.6 293.6h0M456.4 309.8h0M626.9 250.2h0M478.9 294.1h0M438.1 277.4h0M506.9 299.5h0M568.9 309.7h0M538.3 266.9h0M404.3 261.3h0M562.4 255.3h0M614.7 282.5h0M388.3 299.5h0M547.3 260.9h0M484.7 251.0h0M630.3 277.1h0M441.8 293.9h0M460.6 260.8h0M586.8 266.7h0M642.7 277.3h0M397.6 261.2h0M594.1 277.7h0M460.8 283.5h0M589.8 250.3h0M364.1 276.7h0M500.4 266.4h0M468.9 288.6h0M438.2 287.6h0M379.1 260.9h0M479.4 261.3h0M379.6 304.5h0M441.6 282.2h0M367.7 260.8h0M537.2 298.2h0M633.2 261.8h0M639.5 283.5h0M426.3 288.8h0M605.0 299.1h0M571.3 271.7h0M522.8 250.6h0M469.1 277.1h0M540.1 272.5h0M370.6 256.3h0M519.6 288.2h0M444.6 277.2h0M438.5 298.1h0M658.3 250.9h0M614.5 271.4h0M621.7 271.4h0M400.8 287.3h0M466.0 250.2h0M608.4 250.7h0M405.0 304.3h0M580.7 309.9h0M376.8 266.2h0M658.1 261.9h0M450.9 310.4h0M664.4 303.5h0M667.4 308.9h0M417.2 283.1h0M541.0 293.7h0M516.0 294.2h0M401.6 276.9h0M513.2 276.8h0M513.4 299.4h0M447.6 249.7h0M664.3 282.3h0M630.8 288.2h0M429.7 261.3h0M655.2 256.1h0M587.8 309.9h0M664.5 249.9h0M611.4 288.0h0M606.1 265.8h0M589.8 293.2h0M469.7 256.2h0M600.3 299.3h0M490.5 292.9h0M670.6 304.0h0M504.1 250.1h0M364.3 255.4h0" stroke="#30266e" stroke-width="4.7" stroke-linecap="round" fill="none"/>
<rect x="364" y="314" width="303" height="32" fill="#e49bd7"/>
<rect x="364" y="329.5" width="303" height="16.5" fill="#f0b9e6" opacity="0.75"/>
<path d="M364.9 329.5h0M376.4 329.2h0M382.5 330.3h0M394.6 329.5h0M400.9 329.3h0M407.2 328.9h0M428.4 330.7h0M431.3 330.1h0M439.8 329.9h0M443.4 328.7h0M449.4 328.8h0M454.3 329.6h0M465.3 328.5h0M467.3 330.1h0M471.2 328.6h0M486.0 328.8h0M500.0 329.3h0M503.8 330.0h0M507.2 330.6h0M517.3 330.3h0M539.0 328.4h0M548.3 330.0h0M566.9 328.8h0M581.7 329.8h0M608.8 329.5h0M610.4 330.1h0M623.9 328.9h0M625.4 329.7h0M628.5 329.8h0M641.4 329.0h0M645.8 330.5h0M648.4 328.5h0M653.5 330.3h0M657.6 329.1h0M666.6 329.5h0M668.6 328.5h0M363.4 331.7h0M371.2 332.5h0M373.0 331.8h0M379.0 331.2h0M383.3 331.5h0M384.5 331.6h0M389.0 332.3h0M390.9 332.8h0M393.5 330.8h0M400.6 331.2h0M403.8 331.7h0M404.9 331.9h0M412.0 332.0h0M421.9 332.0h0M455.3 332.7h0M475.8 332.3h0M477.7 331.3h0M484.2 330.9h0M491.8 331.5h0M498.6 330.8h0M511.6 330.9h0M522.5 332.9h0M526.7 332.7h0M531.6 331.6h0M540.8 331.7h0M543.0 331.6h0M556.2 330.8h0M578.9 332.3h0M586.5 332.4h0M595.7 331.9h0M599.0 332.5h0M614.1 331.8h0M615.8 332.3h0M620.1 331.6h0M626.2 331.9h0M629.3 332.3h0M655.7 333.0h0M665.1 333.2h0M365.5 334.5h0M375.1 334.6h0M381.8 334.2h0M391.9 333.5h0M395.2 334.6h0M399.1 335.7h0M413.0 335.3h0M422.7 335.2h0M426.1 333.6h0M428.9 334.9h0M434.7 334.4h0M436.6 335.7h0M445.4 334.9h0M453.4 333.6h0M469.5 335.1h0M472.6 335.0h0M489.7 334.6h0M492.1 334.3h0M503.4 334.5h0M508.6 334.3h0M515.0 334.3h0M524.0 334.9h0M532.7 334.5h0M543.0 334.7h0M545.3 334.6h0M557.2 335.2h0M568.6 336.0h0M575.4 335.0h0M578.0 334.9h0M582.0 334.2h0M586.5 334.2h0M591.0 334.8h0M596.9 335.5h0M600.0 333.9h0M606.7 334.8h0M628.7 335.0h0M364.7 337.1h0M385.1 336.9h0M407.9 337.5h0M412.0 338.1h0M419.7 336.4h0M424.6 338.5h0M430.9 336.7h0M441.7 337.7h0M458.2 337.8h0M463.9 336.9h0M471.3 336.8h0M483.1 336.3h0M492.0 338.2h0M501.8 338.2h0M511.1 338.0h0M515.9 338.1h0M519.1 336.9h0M531.6 337.4h0M533.9 337.6h0M542.1 338.4h0M547.9 336.9h0M556.3 337.8h0M558.1 338.0h0M568.5 337.6h0M571.6 338.4h0M610.3 336.4h0M613.3 336.0h0M616.1 337.7h0M618.7 338.3h0M621.0 337.6h0M628.4 337.7h0M630.3 336.7h0M641.0 337.0h0M646.5 338.1h0M664.8 336.3h0M665.7 336.4h0M365.0 338.9h0M376.3 338.8h0M381.6 340.2h0M386.3 339.9h0M393.2 339.6h0M399.8 340.8h0M408.1 340.3h0M414.7 340.4h0M424.9 339.4h0M430.6 341.0h0M450.2 339.1h0M453.0 340.3h0M459.6 339.4h0M465.1 339.6h0M467.0 340.9h0M478.4 339.6h0M483.0 338.7h0M488.8 339.1h0M496.5 340.7h0M499.5 338.7h0M504.7 339.7h0M510.2 340.3h0M519.1 340.2h0M550.4 340.1h0M553.9 339.4h0M561.6 339.5h0M563.0 340.8h0M566.8 340.7h0M568.6 340.2h0M574.3 339.6h0M604.9 339.0h0M615.4 339.6h0M618.2 341.1h0M629.7 338.7h0M636.4 339.3h0M648.7 340.8h0M659.3 340.5h0M662.6 338.7h0M364.9 342.5h0M368.3 341.2h0M375.1 341.8h0M378.3 343.5h0M391.9 343.2h0M395.9 343.2h0M412.8 341.7h0M419.2 343.2h0M426.1 342.1h0M431.8 341.4h0M459.4 342.0h0M473.3 343.2h0M474.3 341.3h0M477.8 343.5h0M484.2 343.7h0M496.3 342.7h0M512.8 342.5h0M518.1 343.6h0M518.9 341.7h0M529.3 341.5h0M531.7 342.1h0M533.8 342.3h0M538.1 343.1h0M544.2 343.7h0M548.8 341.8h0M555.9 342.9h0M564.4 343.2h0M573.2 341.7h0M579.6 341.6h0M588.7 341.8h0M592.0 343.0h0M600.7 342.7h0M608.3 342.9h0M614.2 342.3h0M651.7 343.4h0M654.7 341.5h0M663.8 342.3h0M370.4 344.4h0M385.6 346.0h0M389.2 345.0h0M402.5 344.8h0M418.2 346.1h0M422.8 345.3h0M426.7 344.9h0M438.0 344.6h0M440.7 343.9h0M457.6 345.1h0M461.9 345.5h0M469.3 345.6h0M476.7 345.7h0M483.0 344.8h0M485.0 344.5h0M492.7 344.8h0M493.5 345.6h0M501.3 344.8h0M502.8 344.8h0M514.9 344.5h0M518.3 344.2h0M520.8 344.0h0M525.4 344.2h0M526.6 344.3h0M530.5 344.2h0M537.5 344.1h0M549.7 344.0h0M577.7 344.2h0M581.8 344.5h0M596.3 345.8h0M623.1 346.0h0M625.8 344.0h0M630.5 344.8h0M659.5 345.4h0" stroke="#f8dcf3" stroke-width="1.4" stroke-linecap="round" fill="none" stroke-opacity="0.8"/>
<path d="M362.0 344.0 L372.2 344.2 L382.5 344.7 L392.7 344.8 L402.9 344.4 L413.2 344.4 L423.4 345.1 L433.6 345.9 L443.9 346.0 L454.1 345.4 L464.3 345.2 L474.6 345.4 L484.8 345.6 L495.0 345.0 L505.3 344.2 L515.5 343.9 L525.7 344.4 L536.0 344.9 L546.2 344.7 L556.4 344.5 L566.7 344.9 L576.9 345.7 L587.1 346.1 L597.4 345.7 L607.6 345.2 L617.8 345.1 L628.1 345.4 L638.3 345.2 L648.5 344.4 L658.8 343.8 L669.0 344.1 L669.0 356.0 L658.8 356.7 L648.5 357.1 L638.3 357.0 L628.1 356.8 L617.8 357.3 L607.6 358.0 L597.4 358.1 L587.1 357.5 L576.9 356.9 L566.7 356.9 L556.4 357.1 L546.2 356.8 L536.0 356.1 L525.7 355.8 L515.5 356.4 L505.3 357.1 L495.0 357.3 L484.8 357.0 L474.6 357.1 L464.3 357.7 L454.1 358.2 L443.9 357.8 L433.6 357.0 L423.4 356.6 L413.2 356.9 L402.9 356.9 L392.7 356.4 L382.5 355.9 L372.2 356.1 L362.0 356.9Z" fill="#3e2a2a"/>
<path d="M365.0 346.8h0M367.9 345.5h0M385.2 347.1h0M387.0 346.4h0M389.1 346.8h0M398.8 346.0h0M406.5 345.3h0M414.1 347.1h0M423.5 346.0h0M425.8 345.6h0M428.1 345.9h0M429.8 345.7h0M431.5 345.4h0M444.9 346.2h0M452.5 345.4h0M455.8 347.2h0M458.3 346.7h0M461.4 346.9h0M463.1 346.1h0M466.0 345.6h0M468.5 345.5h0M478.2 346.9h0M484.8 347.2h0M490.5 346.8h0M492.8 345.7h0M494.5 345.4h0M514.3 346.1h0M522.2 345.6h0M526.8 346.2h0M532.3 346.8h0M535.4 346.6h0M537.3 345.6h0M541.3 347.1h0M547.6 345.2h0M552.3 345.7h0M554.1 346.2h0M556.6 345.5h0M561.6 345.9h0M566.8 345.2h0M569.4 346.3h0M574.0 347.2h0M584.5 346.4h0M588.7 347.1h0M595.0 346.3h0M597.2 346.0h0M603.8 347.1h0M607.8 347.0h0M609.2 346.4h0M614.8 346.2h0M618.9 345.9h0M621.8 346.9h0M626.7 345.8h0M628.4 346.9h0M632.0 346.4h0M633.1 345.3h0M638.0 345.8h0M643.8 347.0h0M653.9 345.6h0M660.0 345.8h0M662.0 346.8h0M364.9 348.0h0M380.4 349.1h0M386.1 349.2h0M391.8 348.9h0M395.9 348.0h0M404.6 347.8h0M406.7 347.4h0M414.0 349.0h0M417.7 347.8h0M423.2 347.7h0M428.8 347.9h0M438.6 348.8h0M453.0 348.5h0M457.8 347.9h0M459.6 349.0h0M464.5 348.1h0M469.0 349.1h0M476.2 347.8h0M479.1 348.5h0M484.5 348.1h0M487.0 347.5h0M495.6 349.0h0M498.5 348.4h0M503.3 347.9h0M518.4 347.5h0M521.7 349.3h0M524.0 348.3h0M528.6 348.2h0M534.1 349.2h0M559.0 347.9h0M568.9 349.0h0M571.3 347.7h0M574.4 348.8h0M577.8 348.5h0M590.0 347.3h0M597.3 348.8h0M611.0 348.6h0M615.2 349.1h0M621.5 348.7h0M628.8 347.9h0M631.8 348.7h0M639.9 347.8h0M643.1 348.6h0M650.0 348.2h0M663.6 348.0h0M367.0 350.0h0M370.6 351.3h0M379.9 349.8h0M383.5 349.4h0M386.3 350.4h0M389.5 350.2h0M394.1 350.0h0M402.0 349.7h0M403.0 350.7h0M406.5 350.4h0M410.0 351.2h0M424.8 350.0h0M427.7 349.4h0M430.0 350.2h0M433.2 350.1h0M445.1 349.7h0M451.0 350.3h0M462.7 351.2h0M466.9 350.9h0M468.7 349.6h0M471.0 351.2h0M478.2 351.1h0M480.6 350.2h0M489.3 350.1h0M497.4 351.3h0M499.5 351.3h0M502.0 349.7h0M505.0 349.5h0M507.3 350.9h0M508.9 349.8h0M512.0 350.2h0M513.2 351.2h0M519.0 350.8h0M527.8 350.6h0M531.3 349.5h0M538.4 350.3h0M542.5 349.7h0M544.6 350.1h0M554.9 349.8h0M558.8 350.4h0M563.6 349.5h0M568.6 350.2h0M571.8 351.1h0M576.5 350.9h0M586.9 349.8h0M594.9 350.1h0M601.3 349.8h0M610.4 349.5h0M612.4 349.6h0M613.9 350.2h0M620.2 350.0h0M632.1 349.7h0M641.3 350.4h0M642.7 351.4h0M646.0 350.0h0M647.6 351.3h0M650.9 350.6h0M657.2 349.8h0M668.4 351.1h0M363.2 351.8h0M365.9 352.2h0M380.9 352.5h0M386.6 352.7h0M390.0 351.7h0M402.9 353.3h0M406.5 352.4h0M414.5 352.3h0M424.1 352.2h0M434.3 352.5h0M439.0 352.5h0M447.8 351.5h0M463.4 352.0h0M463.9 351.7h0M467.9 351.7h0M471.7 353.1h0M479.1 352.2h0M481.1 353.1h0M485.7 352.4h0M491.8 353.0h0M493.2 353.2h0M500.5 352.2h0M503.9 352.3h0M507.4 351.8h0M522.3 352.3h0M524.5 353.3h0M530.4 352.8h0M539.6 351.6h0M541.1 353.0h0M544.2 351.9h0M547.3 352.3h0M551.9 353.2h0M556.6 351.7h0M560.6 353.3h0M563.7 351.5h0M565.5 352.2h0M568.3 353.0h0M574.5 352.2h0M599.8 351.9h0M602.2 352.9h0M606.9 352.2h0M614.5 352.9h0M623.2 351.5h0M625.7 351.9h0M628.2 351.9h0M629.5 351.5h0M632.8 351.7h0M638.5 352.1h0M642.6 352.8h0M645.5 352.5h0M649.2 353.2h0M653.6 353.2h0M656.8 352.8h0M662.1 352.5h0M666.7 353.1h0M367.8 353.8h0M370.8 354.3h0M380.4 354.2h0M381.1 353.8h0M391.3 355.1h0M399.6 354.5h0M410.8 353.9h0M412.5 354.4h0M416.2 354.0h0M420.9 355.2h0M424.2 355.4h0M444.1 354.0h0M446.9 353.7h0M448.9 354.0h0M451.2 354.7h0M464.4 354.0h0M469.9 355.5h0M473.7 354.2h0M476.4 354.8h0M487.8 354.2h0M491.5 353.9h0M496.3 354.6h0M498.6 354.6h0M502.6 353.6h0M503.5 353.8h0M509.0 354.8h0M512.0 354.9h0M528.3 354.4h0M533.7 354.6h0M542.0 354.6h0M561.4 354.1h0M565.8 354.9h0M570.0 355.4h0M571.1 354.4h0M576.7 354.2h0M579.2 354.2h0M580.8 355.3h0M584.4 353.8h0M586.2 353.9h0M598.8 355.5h0M600.9 354.4h0M602.3 354.3h0M608.5 354.4h0M613.4 354.6h0M614.9 353.8h0M619.2 355.0h0M622.5 355.0h0M626.9 354.7h0M633.8 355.3h0M638.9 354.2h0M651.1 354.2h0M654.9 354.1h0M660.1 354.6h0M668.2 354.2h0M363.5 357.3h0M371.8 356.0h0M372.7 356.2h0M388.6 356.3h0M391.1 356.8h0M398.2 356.8h0M404.4 357.1h0M407.7 356.0h0M421.5 357.6h0M428.2 357.5h0M432.0 356.6h0M445.1 357.2h0M448.0 355.7h0M456.8 356.1h0M464.0 355.7h0M474.1 356.9h0M479.6 357.3h0M482.5 356.1h0M489.6 357.0h0M496.7 356.2h0M519.9 356.4h0M525.1 356.7h0M531.8 357.5h0M536.3 355.8h0M541.4 357.3h0M543.5 357.4h0M548.1 356.8h0M551.0 356.1h0M558.7 355.7h0M559.8 355.7h0M566.3 356.6h0M569.9 356.5h0M572.5 356.2h0M586.8 357.4h0M588.7 356.3h0M597.0 356.0h0M599.1 356.6h0M602.6 356.5h0M608.9 357.4h0M611.5 357.1h0M613.7 355.9h0M619.2 356.1h0M634.8 357.4h0M641.9 357.2h0M645.4 355.7h0M647.5 356.4h0M649.2 356.5h0M664.2 356.1h0" stroke="#74505a" stroke-width="1.8" stroke-linecap="round" fill="none" stroke-opacity="0.85"/>
<rect x="364" y="357" width="303" height="8" fill="#f5eff5"/>
</g>
<rect x="364" y="76" width="303" height="35" filter="url(#grain)" opacity="0.38"/>
<rect x="364" y="111" width="303" height="57" filter="url(#grain)" opacity="0.38"/>
<rect x="364" y="228" width="303" height="18" filter="url(#grain)" opacity="0.38"/>
<rect x="364" y="314" width="303" height="31" filter="url(#grain)" opacity="0.38"/>
</g>
<clipPath id="hc2"><rect x="54" y="371" width="303" height="300"/></clipPath>
<g clip-path="url(#hc2)"><g filter="url(#hblur)">
<rect x="54" y="371" width="303" height="300" fill="#e5a1d7"/>
<rect x="54" y="371" width="303" height="5" fill="#f4eaf3"/>
<rect x="54" y="375" width="303" height="28" fill="#efd2ec"/>
<path d="M55.1 375.8h0M74.6 376.1h0M84.2 377.6h0M91.9 377.5h0M101.3 378.1h0M115.3 378.0h0M120.7 377.5h0M125.4 377.3h0M127.7 378.5h0M133.0 377.2h0M143.8 376.9h0M155.0 377.8h0M169.0 375.4h0M177.3 377.4h0M185.2 376.7h0M191.8 375.5h0M197.5 376.5h0M199.6 377.7h0M212.0 376.8h0M216.3 375.7h0M230.5 377.2h0M256.8 377.8h0M277.3 375.7h0M288.1 376.6h0M306.7 378.2h0M314.9 378.0h0M319.7 376.2h0M324.3 377.9h0M328.5 376.3h0M332.1 375.7h0M341.1 376.7h0M347.2 376.8h0M356.6 376.4h0M64.8 380.7h0M69.9 380.2h0M73.8 379.3h0M81.4 379.9h0M86.2 379.6h0M88.9 380.3h0M92.5 379.5h0M99.1 380.0h0M110.6 380.5h0M122.5 379.8h0M125.6 381.9h0M142.0 382.0h0M146.3 380.1h0M148.7 379.1h0M159.4 379.7h0M175.3 381.4h0M185.8 379.0h0M190.7 379.0h0M192.6 381.1h0M200.8 378.9h0M208.9 379.9h0M230.0 381.6h0M234.9 381.2h0M262.1 380.7h0M266.5 379.9h0M275.3 380.9h0M292.9 381.6h0M310.9 379.4h0M320.6 381.0h0M330.3 381.0h0M344.5 381.7h0M357.1 378.9h0M51.3 382.7h0M68.4 384.4h0M72.8 383.5h0M80.0 383.3h0M88.5 383.2h0M102.5 384.0h0M108.2 382.5h0M117.2 383.9h0M136.7 383.8h0M140.3 384.4h0M145.2 384.6h0M148.6 383.7h0M152.4 384.0h0M164.0 382.8h0M171.7 385.0h0M203.2 384.5h0M210.9 385.5h0M235.8 384.6h0M243.1 383.4h0M252.5 384.8h0M257.0 385.3h0M258.6 384.0h0M264.0 383.9h0M279.6 384.2h0M285.5 384.2h0M291.0 382.9h0M325.4 382.9h0M326.8 382.5h0M331.7 384.3h0M340.4 383.3h0M348.1 383.9h0M352.6 382.4h0M361.4 383.9h0M58.8 388.7h0M63.1 386.4h0M69.7 386.2h0M95.5 386.7h0M121.0 387.4h0M140.9 388.0h0M153.0 388.0h0M162.1 387.7h0M166.7 389.0h0M172.8 387.3h0M182.6 386.8h0M193.2 388.9h0M204.6 387.8h0M215.1 388.6h0M221.7 388.2h0M225.4 387.4h0M230.7 386.4h0M238.0 388.0h0M262.1 387.4h0M268.5 388.1h0M291.5 388.1h0M301.8 388.2h0M314.2 388.7h0M319.4 386.2h0M330.6 387.0h0M341.3 386.7h0M354.5 387.5h0M52.1 390.1h0M54.9 391.2h0M59.6 391.8h0M67.3 392.4h0M78.7 391.1h0M90.6 390.5h0M104.4 391.5h0M115.0 391.8h0M121.1 392.5h0M144.0 391.8h0M163.3 389.5h0M181.3 390.0h0M182.8 391.4h0M187.9 390.4h0M194.5 389.6h0M205.5 391.7h0M212.3 392.2h0M226.8 390.4h0M232.5 390.5h0M247.6 390.0h0M251.1 392.1h0M255.1 392.1h0M267.0 389.4h0M278.8 390.5h0M284.3 391.2h0M287.1 390.2h0M290.7 391.0h0M296.7 389.7h0M301.5 389.3h0M305.2 390.2h0M313.1 390.5h0M315.9 390.8h0M320.2 391.9h0M323.7 391.8h0M328.2 391.0h0M336.9 392.2h0M351.0 392.4h0M354.8 389.8h0M358.6 390.0h0M54.3 395.5h0M57.6 393.8h0M63.5 394.8h0M82.4 395.4h0M85.7 395.0h0M92.7 394.7h0M103.4 393.4h0M111.1 393.0h0M133.2 394.2h0M137.8 395.5h0M142.1 395.1h0M169.7 393.8h0M181.6 394.7h0M187.3 393.9h0M204.6 394.5h0M209.2 393.1h0M218.0 394.0h0M226.0 393.8h0M237.7 394.7h0M243.0 395.1h0M261.3 395.9h0M282.9 395.5h0M289.0 393.9h0M293.8 394.4h0M306.5 395.5h0M317.9 395.2h0M325.2 395.7h0M331.1 395.2h0M334.8 395.4h0M342.2 393.1h0M345.3 395.5h0M348.5 394.7h0M353.7 394.8h0M61.5 398.9h0M71.0 397.2h0M76.0 396.4h0M84.8 397.9h0M92.5 399.1h0M96.9 397.3h0M99.5 398.8h0M109.1 396.5h0M145.1 399.3h0M150.9 397.9h0M164.3 397.5h0M167.4 398.5h0M180.1 399.0h0M188.3 397.0h0M197.2 397.3h0M213.5 399.1h0M216.8 398.4h0M221.0 399.1h0M225.3 397.1h0M227.2 398.1h0M231.0 398.7h0M244.6 399.3h0M248.2 398.4h0M252.1 398.8h0M261.5 398.5h0M274.4 397.1h0M279.2 398.4h0M287.4 397.6h0M291.5 398.6h0M308.0 397.2h0M311.7 397.6h0M349.0 399.1h0M354.5 397.8h0M360.2 398.6h0M52.9 402.6h0M78.0 402.7h0M80.5 400.3h0M86.0 401.9h0M89.4 402.5h0M108.6 400.9h0M114.1 400.5h0M125.6 401.9h0M130.1 400.9h0M139.4 399.8h0M150.1 401.1h0M156.8 400.4h0M161.1 401.2h0M168.9 402.2h0M178.9 401.0h0M187.3 402.4h0M197.1 400.4h0M204.4 402.1h0M214.8 402.9h0M223.6 400.5h0M225.2 400.4h0M233.0 401.6h0M238.0 400.7h0M242.2 401.2h0M244.8 402.6h0M249.6 400.3h0M258.6 400.6h0M262.6 402.1h0M268.6 400.3h0M281.8 402.5h0M290.8 402.7h0M294.6 402.0h0M300.4 400.1h0M306.9 402.2h0M314.8 401.7h0M323.0 401.1h0M325.0 402.1h0M333.4 402.9h0M336.4 401.6h0M347.1 401.9h0M356.6 401.3h0" stroke="#f8e4f4" stroke-width="2.4" stroke-linecap="round" fill="none" stroke-opacity="0.9"/>
<path d="M62.3 389.5h0M62.9 383.1h0M74.3 390.4h0M75.5 381.6h0M87.0 392.0h0M87.5 383.5h0M98.8 383.6h0M109.3 389.6h0M134.4 393.3h0M132.6 383.0h0M157.9 388.8h0M180.7 391.7h0M192.3 390.6h0M205.0 394.0h0M217.6 391.6h0M218.6 383.5h0M241.2 389.0h0M253.9 394.1h0M266.0 393.1h0M277.0 384.0h0M289.1 389.7h0M301.1 388.6h0M313.0 388.9h0M324.2 390.0h0M338.1 392.0h0M338.7 382.3h0M349.3 390.0h0M347.9 384.1h0M362.3 391.6h0" stroke="#f6e6f3" stroke-width="12.5" stroke-linecap="round" fill="none" stroke-opacity="0.7"/>
<path d="M62.3 389.5h0M62.9 383.1h0M74.3 390.4h0M75.5 381.6h0M87.0 392.0h0M87.5 383.5h0M98.8 383.6h0M109.3 389.6h0M134.4 393.3h0M132.6 383.0h0M157.9 388.8h0M180.7 391.7h0M192.3 390.6h0M205.0 394.0h0M217.6 391.6h0M218.6 383.5h0M241.2 389.0h0M253.9 394.1h0M266.0 393.1h0M277.0 384.0h0M289.1 389.7h0M301.1 388.6h0M313.0 388.9h0M324.2 390.0h0M338.1 392.0h0M338.7 382.3h0M349.3 390.0h0M347.9 384.1h0M362.3 391.6h0" stroke="#6e5ca2" stroke-width="10.4" stroke-linecap="round" fill="none"/>
<path d="M62.3 389.5h0M62.9 383.1h0M74.3 390.4h0M75.5 381.6h0M87.0 392.0h0M87.5 383.5h0M98.8 383.6h0M109.3 389.6h0M134.4 393.3h0M132.6 383.0h0M157.9 388.8h0M180.7 391.7h0M192.3 390.6h0M205.0 394.0h0M217.6 391.6h0M218.6 383.5h0M241.2 389.0h0M253.9 394.1h0M266.0 393.1h0M277.0 384.0h0M289.1 389.7h0M301.1 388.6h0M313.0 388.9h0M324.2 390.0h0M338.1 392.0h0M338.7 382.3h0M349.3 390.0h0M347.9 384.1h0M362.3 391.6h0" stroke="#9882c4" stroke-width="7.8" stroke-linecap="round" fill="none"/>
<path d="M62.3 389.5h0M62.9 383.1h0M74.3 390.4h0M75.5 381.6h0M87.0 392.0h0M87.5 383.5h0M98.8 383.6h0M109.3 389.6h0M134.4 393.3h0M132.6 383.0h0M157.9 388.8h0M180.7 391.7h0M192.3 390.6h0M205.0 394.0h0M217.6 391.6h0M218.6 383.5h0M241.2 389.0h0M253.9 394.1h0M266.0 393.1h0M277.0 384.0h0M289.1 389.7h0M301.1 388.6h0M313.0 388.9h0M324.2 390.0h0M338.1 392.0h0M338.7 382.3h0M349.3 390.0h0M347.9 384.1h0M362.3 391.6h0" stroke="#5a4690" stroke-width="2.2" stroke-linecap="round" fill="none"/>
<rect x="54" y="402" width="303" height="67" fill="#e5a1d7"/>
<path d="M52.2 405.4h0M65.4 403.0h0M67.6 405.0h0M71.6 404.6h0M76.2 404.2h0M85.6 405.5h0M90.0 402.6h0M92.4 404.4h0M97.1 405.5h0M102.4 403.7h0M137.4 405.7h0M143.0 403.8h0M170.0 405.1h0M175.2 404.8h0M196.0 402.5h0M202.9 402.6h0M214.7 405.0h0M221.1 404.3h0M226.8 402.7h0M238.0 404.9h0M241.1 402.6h0M250.9 405.0h0M257.8 404.6h0M261.3 405.4h0M300.2 405.4h0M337.1 404.0h0M341.1 405.4h0M346.9 405.7h0M65.9 409.2h0M86.4 408.2h0M101.5 407.4h0M116.6 407.9h0M130.5 408.6h0M155.3 408.4h0M159.9 406.6h0M175.7 406.2h0M180.4 407.6h0M189.1 406.3h0M240.1 408.3h0M254.5 408.8h0M277.1 407.0h0M292.2 406.2h0M309.3 409.2h0M319.5 409.3h0M325.9 407.6h0M347.9 408.9h0M72.1 412.8h0M75.9 411.5h0M84.8 410.2h0M88.1 412.3h0M97.8 411.4h0M116.3 412.8h0M119.7 410.8h0M135.4 409.9h0M138.7 411.0h0M145.8 411.7h0M172.8 412.9h0M177.6 412.6h0M183.5 409.8h0M203.6 411.8h0M236.7 410.1h0M253.4 412.9h0M263.0 411.6h0M268.9 411.5h0M275.8 410.4h0M279.9 411.9h0M288.4 410.5h0M291.1 410.6h0M312.0 411.6h0M329.2 410.3h0M338.4 413.0h0M358.1 411.3h0M52.6 414.8h0M61.0 414.9h0M67.2 414.1h0M87.6 414.0h0M94.9 413.8h0M104.9 414.6h0M118.2 414.6h0M126.6 415.3h0M143.7 416.5h0M148.0 414.2h0M159.7 414.8h0M163.4 416.4h0M167.4 415.8h0M170.4 416.3h0M196.0 414.0h0M199.7 415.0h0M205.9 415.9h0M216.8 414.2h0M221.3 416.2h0M252.2 415.8h0M255.3 415.9h0M260.1 414.4h0M268.0 413.6h0M277.6 416.2h0M281.5 415.1h0M285.3 414.3h0M310.0 415.8h0M317.5 416.0h0M321.6 416.4h0M339.0 414.9h0M343.6 415.9h0M350.8 414.3h0M55.1 418.9h0M59.5 417.9h0M65.9 419.6h0M68.5 419.7h0M82.2 419.7h0M93.2 417.2h0M99.4 419.5h0M107.6 420.3h0M111.8 417.4h0M141.0 419.3h0M143.6 419.4h0M159.9 419.2h0M174.1 419.1h0M194.4 418.4h0M211.9 417.7h0M215.8 419.7h0M221.0 418.3h0M224.1 418.6h0M250.9 419.2h0M253.1 419.6h0M257.2 419.1h0M262.0 420.3h0M285.9 420.0h0M292.3 417.8h0M304.7 419.6h0M307.5 418.6h0M312.2 419.6h0M345.8 418.7h0M53.4 421.8h0M62.7 423.2h0M66.3 421.1h0M71.5 423.6h0M79.3 422.8h0M83.8 423.9h0M105.3 421.5h0M120.8 421.3h0M126.7 422.4h0M132.7 420.8h0M151.6 422.3h0M159.3 420.8h0M163.5 421.0h0M168.4 421.7h0M178.5 421.3h0M187.7 423.7h0M193.6 421.6h0M206.0 421.1h0M214.2 423.8h0M234.1 422.4h0M256.7 422.8h0M260.5 423.2h0M267.9 423.4h0M296.2 424.0h0M302.1 423.0h0M326.1 422.2h0M349.3 422.4h0M352.7 422.1h0M362.0 423.2h0M52.4 426.5h0M56.5 426.2h0M59.6 427.4h0M69.9 427.0h0M89.1 427.5h0M95.1 425.4h0M97.5 425.1h0M103.5 426.1h0M107.2 424.6h0M120.4 425.4h0M132.0 426.9h0M136.0 425.2h0M140.0 426.7h0M160.8 427.5h0M173.4 424.5h0M195.6 425.6h0M201.9 425.4h0M211.6 426.0h0M215.0 426.1h0M220.0 427.4h0M224.3 425.2h0M226.8 425.8h0M237.6 425.3h0M249.7 424.8h0M258.0 427.0h0M271.9 427.0h0M286.0 424.5h0M291.6 426.8h0M299.9 427.3h0M308.0 425.6h0M332.9 425.9h0M342.2 427.5h0M350.5 426.6h0" stroke="#f4cdef" stroke-width="2.2" stroke-linecap="round" fill="none" stroke-opacity="0.8"/>
<path d="M74.1 402.6h0M85.4 404.7h0M99.2 402.4h0M103.6 404.0h0M121.9 403.0h0M130.3 404.2h0M147.0 404.2h0M195.6 403.3h0M199.3 403.3h0M209.4 404.1h0M226.5 403.1h0M232.5 403.5h0M269.7 402.7h0M273.4 403.8h0M276.2 404.1h0M291.8 402.8h0M301.9 404.6h0M305.3 402.4h0M308.7 405.0h0M324.8 403.7h0M327.0 403.4h0M356.7 404.0h0M57.0 405.3h0M67.3 407.7h0M81.7 406.7h0M88.4 406.3h0M104.0 407.0h0M111.0 407.7h0M131.4 407.6h0M136.0 406.6h0M173.2 405.0h0M175.6 406.8h0M186.5 405.7h0M192.2 406.7h0M208.8 405.3h0M219.2 407.7h0M248.1 407.3h0M272.9 405.5h0M273.6 406.8h0M285.2 405.4h0M291.2 405.9h0M307.9 407.3h0M320.8 406.1h0M344.2 407.7h0M353.9 407.2h0M60.0 408.6h0M64.3 409.8h0M76.1 407.8h0M80.8 408.4h0M106.4 410.0h0M119.4 408.2h0M127.1 409.6h0M129.8 409.3h0M139.4 407.9h0M145.3 409.1h0M157.1 409.4h0M174.7 408.9h0M184.1 409.1h0M185.5 407.9h0M192.3 409.2h0M196.7 408.5h0M202.5 408.7h0M220.9 410.5h0M232.5 409.0h0M261.1 409.0h0M275.6 410.5h0M333.0 408.4h0M344.7 410.1h0M353.6 408.5h0M53.3 411.5h0M64.4 413.3h0M68.1 413.3h0M74.0 411.7h0M80.7 412.8h0M87.9 412.0h0M92.4 413.0h0M99.9 412.9h0M113.4 410.6h0M119.1 412.8h0M131.6 412.5h0M141.2 411.4h0M166.9 412.1h0M171.6 413.3h0M201.9 412.0h0M208.8 410.7h0M237.6 412.4h0M250.6 411.3h0M253.0 412.2h0M280.3 410.8h0M304.7 410.7h0M329.3 412.5h0M68.3 415.4h0M71.5 413.4h0M83.1 415.2h0M91.2 415.5h0M100.0 415.6h0M114.3 415.0h0M123.9 413.9h0M134.3 413.5h0M139.2 415.9h0M166.6 415.6h0M170.7 415.9h0M186.8 415.0h0M189.7 415.5h0M192.5 413.6h0M204.0 414.1h0M213.5 414.4h0M236.8 415.8h0M266.8 413.7h0M285.1 414.1h0M291.9 414.1h0M327.9 414.8h0M347.4 415.5h0M352.6 414.0h0M58.5 416.7h0M64.2 418.5h0M85.0 417.7h0M99.6 417.2h0M115.0 417.2h0M127.8 418.2h0M135.4 417.5h0M136.8 416.3h0M146.9 416.4h0M160.4 417.7h0M169.2 417.4h0M176.8 417.1h0M181.1 417.8h0M187.7 417.3h0M215.0 416.7h0M222.6 417.7h0M229.4 418.0h0M242.7 418.2h0M246.8 418.1h0M268.8 416.7h0M272.0 416.7h0M278.5 418.0h0M288.6 418.2h0M312.4 418.4h0M315.1 416.3h0M318.2 418.4h0M331.6 416.1h0M334.5 417.4h0M356.0 416.4h0M357.2 416.8h0M60.1 419.9h0M65.0 420.6h0M99.8 420.6h0M124.0 421.0h0M157.9 420.2h0M160.1 420.4h0M167.8 420.3h0M197.6 419.8h0M202.2 420.9h0M206.2 420.4h0M209.4 421.1h0M213.6 420.4h0M226.5 420.1h0M228.2 419.9h0M234.9 421.2h0M244.9 419.4h0M250.1 421.1h0M253.6 419.9h0M257.6 420.3h0M259.0 421.5h0M264.9 419.5h0M265.6 420.3h0M299.7 421.0h0M343.6 421.3h0M347.6 420.7h0M70.0 423.4h0M78.5 424.1h0M82.6 422.8h0M85.1 423.8h0M91.5 423.2h0M96.7 423.0h0M119.4 424.0h0M125.3 421.9h0M132.8 423.5h0M139.1 423.5h0M169.4 423.9h0M196.7 422.5h0M204.9 423.2h0M210.9 423.9h0M213.1 423.1h0M228.1 421.8h0M236.7 422.1h0M240.9 423.2h0M243.9 422.6h0M254.6 421.9h0M264.3 423.2h0M276.9 423.1h0M297.8 424.0h0M304.9 424.3h0M306.6 423.1h0M319.5 423.0h0M331.4 424.3h0M336.2 424.1h0M342.0 423.7h0M347.3 424.3h0M358.4 422.0h0M52.7 425.5h0M56.8 427.0h0M64.7 427.1h0M67.8 424.8h0M75.9 426.2h0M78.0 426.5h0M100.3 426.6h0M112.3 425.2h0M131.5 426.4h0M145.9 424.6h0M164.0 426.7h0M167.5 424.9h0M187.8 424.9h0M190.2 427.0h0M195.4 427.1h0M206.9 424.7h0M208.4 425.3h0M216.7 425.0h0M222.8 427.2h0M229.1 427.1h0M232.7 425.7h0M243.9 424.8h0M248.7 424.9h0M259.4 424.9h0M265.5 425.3h0M269.5 425.4h0M275.5 425.5h0M282.7 427.2h0M293.7 425.3h0M320.3 425.4h0M346.2 425.2h0M351.9 426.2h0M355.3 426.9h0M55.2 428.7h0M79.1 430.0h0M87.9 429.2h0M91.9 429.5h0M107.8 428.4h0M112.4 427.8h0M114.0 427.7h0M137.3 429.4h0M147.4 428.0h0M162.4 428.5h0M169.7 427.8h0M178.9 428.5h0M192.0 429.6h0M229.3 427.4h0M267.7 427.7h0M271.9 428.0h0M276.9 429.9h0M283.8 429.0h0M291.9 428.5h0M304.3 427.5h0M308.7 429.1h0M313.8 428.3h0M319.6 429.9h0M333.4 429.2h0M344.3 428.6h0M351.1 428.5h0M354.6 428.9h0M358.9 427.8h0M103.9 430.4h0M117.6 431.9h0M125.2 432.7h0M132.5 432.1h0M135.4 431.3h0M138.9 431.7h0M174.5 431.4h0M178.5 432.8h0M189.6 432.6h0M197.6 430.2h0M205.6 431.2h0M213.4 432.7h0M216.2 430.8h0M218.5 431.1h0M229.5 430.6h0M236.6 431.7h0M247.3 432.5h0M264.4 430.8h0M275.9 431.7h0M285.6 431.2h0M297.5 430.7h0M303.0 432.6h0M304.0 431.1h0M311.7 432.5h0M324.0 431.5h0M55.3 434.1h0M73.4 434.1h0M96.5 433.0h0M128.0 435.3h0M130.5 435.2h0M139.3 434.6h0M164.7 433.3h0M169.2 435.1h0M241.4 434.0h0M275.0 435.1h0M278.7 435.1h0M288.3 433.5h0M291.1 434.7h0M315.2 432.9h0M330.0 435.1h0M336.8 433.3h0M338.1 433.1h0M55.7 436.2h0M65.8 437.6h0M70.5 436.7h0M76.8 435.7h0M87.8 435.7h0M123.1 435.8h0M124.7 435.8h0M131.3 436.7h0M143.3 436.8h0M177.2 435.7h0M190.4 438.4h0M207.3 436.5h0M215.1 436.2h0M233.5 437.3h0M253.6 437.9h0M260.6 437.8h0M282.8 437.4h0M304.5 437.5h0M320.1 438.0h0M54.1 440.4h0M58.3 440.7h0M61.1 440.9h0M69.8 439.0h0M76.4 438.4h0M118.7 439.3h0M120.7 438.9h0M128.7 440.7h0M162.5 439.8h0M168.9 440.8h0M228.1 440.6h0M229.0 438.5h0M267.5 439.4h0M282.6 440.7h0M307.9 438.4h0M314.3 439.1h0M330.5 439.4h0M333.4 439.4h0M355.9 440.4h0M54.5 442.5h0M85.1 441.2h0M118.2 441.6h0M122.7 441.9h0M132.6 441.9h0M136.1 442.1h0M138.4 443.7h0M143.9 443.7h0M162.2 443.3h0M171.8 443.7h0M173.7 442.8h0M181.4 443.1h0M191.9 443.4h0M199.8 441.5h0M213.6 443.7h0M215.8 443.1h0M224.1 443.8h0M234.5 443.8h0M247.0 443.9h0M252.7 443.5h0M270.0 442.3h0M283.2 443.4h0M291.0 442.0h0M294.7 441.7h0M301.2 443.4h0M310.3 441.6h0M331.9 442.7h0M337.5 441.9h0M352.9 442.2h0M67.9 446.0h0M81.5 444.3h0M98.7 446.1h0M103.2 446.6h0M115.4 446.2h0M117.0 446.1h0M125.7 446.1h0M137.0 444.2h0M140.1 444.8h0M153.7 445.3h0M171.7 444.8h0M184.0 445.4h0M193.5 446.6h0M197.0 445.7h0M201.9 445.2h0M206.7 444.9h0M210.7 444.6h0M225.9 446.1h0M234.4 446.0h0M269.7 445.0h0M277.9 446.2h0M285.0 445.3h0M293.2 445.6h0M316.9 445.6h0M338.7 445.5h0M67.3 448.6h0M113.7 448.1h0M126.3 446.9h0M142.5 447.0h0M151.3 447.7h0M154.3 447.6h0M196.6 447.9h0M199.4 449.1h0M213.1 448.7h0M215.2 447.4h0M230.9 448.1h0M235.7 447.1h0M240.9 447.1h0M257.0 448.2h0M285.3 447.0h0M301.4 448.7h0M307.6 449.5h0M311.6 448.4h0M344.4 447.7h0M349.3 449.2h0M62.3 451.6h0M101.2 451.3h0M125.8 452.1h0M135.0 452.1h0M137.4 451.2h0M149.6 452.0h0M156.6 452.1h0M171.8 451.8h0M180.0 451.3h0M183.0 451.2h0M186.2 450.7h0M207.2 450.4h0M209.5 450.8h0M222.8 451.6h0M231.0 450.4h0M249.6 450.4h0M259.9 451.4h0M261.6 450.1h0M278.8 451.7h0M285.5 451.8h0M290.3 450.9h0M297.8 450.6h0M302.2 451.3h0M307.8 449.7h0M328.2 451.6h0M338.5 450.8h0M344.4 452.2h0M350.4 450.1h0M354.8 452.2h0M68.8 454.6h0M108.0 453.7h0M120.5 453.9h0M122.5 453.2h0M135.3 454.6h0M148.4 454.7h0M151.4 454.5h0M155.2 453.9h0M162.1 454.7h0M164.6 453.0h0M174.8 454.3h0M179.8 454.5h0M192.7 454.8h0M203.9 453.7h0M209.5 452.7h0M219.1 453.9h0M237.4 452.7h0M247.8 452.3h0M257.4 453.1h0M291.3 452.3h0M297.7 454.9h0M309.7 452.5h0M334.2 453.9h0M345.4 453.1h0M64.4 456.4h0M67.9 457.3h0M95.9 456.0h0M106.0 457.2h0M133.5 455.7h0M138.5 457.5h0M163.4 456.5h0M180.7 457.3h0M239.4 457.0h0M242.8 456.3h0M248.8 455.1h0M257.5 456.1h0M270.6 457.8h0M276.6 456.3h0M307.8 456.1h0M316.3 457.3h0M325.9 457.0h0M330.1 457.6h0M332.0 455.7h0M340.7 457.9h0M349.6 456.6h0M352.9 457.8h0M358.8 457.5h0M53.4 460.5h0M59.1 458.4h0M68.8 459.4h0M75.4 460.4h0M92.7 460.2h0M96.6 460.1h0M112.7 460.4h0M116.4 458.9h0M125.0 458.7h0M142.8 459.7h0M155.2 458.1h0M164.3 460.0h0M191.3 459.2h0M203.2 458.9h0M209.0 460.1h0M233.9 458.9h0M248.6 460.2h0M253.2 458.0h0M264.0 458.6h0M266.9 458.6h0M273.0 458.5h0M319.9 460.3h0M328.4 459.8h0M348.9 459.2h0M355.2 460.1h0M52.9 462.0h0M62.7 461.8h0M78.4 461.7h0M83.8 462.0h0M89.5 463.3h0M114.0 462.9h0M134.8 462.2h0M137.2 463.0h0M141.7 461.1h0M143.5 462.9h0M163.5 463.5h0M165.3 461.3h0M169.5 463.1h0M177.9 461.9h0M213.1 461.8h0M231.1 461.9h0M250.0 461.9h0M251.2 463.4h0M269.3 463.1h0M278.2 461.7h0M299.9 461.3h0M309.5 461.9h0M318.9 462.1h0M331.0 463.1h0M58.0 466.0h0M77.1 465.6h0M116.0 465.9h0M134.3 465.9h0M142.4 463.7h0M168.7 464.8h0M181.3 465.5h0M204.1 465.0h0M233.0 463.5h0M235.6 465.4h0M236.6 463.5h0M247.8 464.0h0M257.3 465.2h0M262.8 465.0h0M267.8 464.7h0M275.0 464.1h0M289.1 464.4h0M304.7 464.7h0M312.7 465.4h0M316.0 464.4h0M319.4 463.9h0M336.9 464.2h0M353.1 464.8h0M54.7 469.0h0M73.8 467.2h0M79.6 468.3h0M92.2 468.4h0M95.6 467.0h0M105.0 466.3h0M112.3 467.9h0M114.9 467.6h0M137.4 467.8h0M152.1 467.1h0M170.0 467.4h0M192.9 468.0h0M222.5 468.3h0M234.4 467.2h0M239.3 468.5h0M241.4 468.9h0M247.4 466.3h0M264.8 467.3h0M274.9 468.2h0M280.9 467.3h0M303.0 466.7h0M318.8 468.8h0M327.8 467.7h0M338.9 468.7h0M340.6 466.4h0M344.6 468.0h0M347.6 468.9h0M351.3 468.6h0M358.6 469.0h0" stroke="#eeb4e3" stroke-width="1.4" stroke-linecap="round" fill="none" stroke-opacity="0.8"/>
<path d="M52.0 466.3 L62.2 467.2 L72.5 469.0 L82.7 470.0 L92.9 469.4 L103.2 468.5 L113.4 468.8 L123.6 469.5 L133.9 469.0 L144.1 467.2 L154.3 465.9 L164.6 466.3 L174.8 467.4 L185.0 467.5 L195.3 466.7 L205.5 466.9 L215.7 468.4 L226.0 470.0 L236.2 470.0 L246.4 468.8 L256.7 468.4 L266.9 469.0 L277.1 469.2 L287.4 467.9 L297.6 466.1 L307.8 465.8 L318.1 466.9 L328.3 467.7 L338.5 467.4 L348.8 466.9 L359.0 467.9 L359.0 528.9 L348.8 529.1 L338.5 528.0 L328.3 527.4 L318.1 527.9 L307.8 528.2 L297.6 527.1 L287.4 525.3 L277.1 524.7 L266.9 525.7 L256.7 526.7 L246.4 526.4 L236.2 525.9 L226.0 526.7 L215.7 528.5 L205.5 529.4 L195.3 528.6 L185.0 527.4 L174.8 527.3 L164.6 527.8 L154.3 527.5 L144.1 525.8 L133.9 524.6 L123.6 525.1 L113.4 526.5 L103.2 527.0 L92.9 526.5 L82.7 526.5 L72.5 527.8 L62.2 529.3 L52.0 529.2Z" fill="#cbbde0"/>
<path d="M49.9 473.1h0M59.4 473.7h0M67.6 473.3h0M77.6 473.7h0M86.1 474.3h0M95.6 473.9h0M114.2 473.4h0M124.6 473.7h0M133.0 474.4h0M142.2 473.2h0M152.4 474.3h0M160.3 473.1h0M170.4 473.0h0M179.9 473.5h0M188.0 474.4h0M199.0 473.5h0M208.2 474.5h0M217.4 474.2h0M226.6 473.5h0M235.0 474.4h0M244.3 473.4h0M253.6 474.1h0M263.1 473.3h0M273.1 473.3h0M281.4 473.2h0M291.3 473.5h0M299.8 473.3h0M309.7 474.3h0M319.6 473.8h0M327.8 474.5h0M336.9 473.0h0M347.7 473.9h0M356.7 474.1h0M365.8 474.3h0M54.9 481.6h0M62.5 481.4h0M73.2 482.4h0M81.3 482.2h0M91.6 481.1h0M101.2 481.9h0M110.3 482.1h0M119.4 482.0h0M128.2 481.0h0M137.3 481.6h0M146.5 482.1h0M156.8 481.5h0M166.3 481.0h0M175.4 480.8h0M184.4 481.7h0M193.8 482.2h0M202.8 482.0h0M211.6 480.8h0M222.2 481.2h0M230.8 481.5h0M240.7 480.7h0M249.4 481.4h0M268.5 482.0h0M277.4 482.3h0M286.1 481.5h0M296.1 481.8h0M305.2 481.4h0M313.7 481.1h0M324.2 481.3h0M332.6 480.9h0M342.3 482.4h0M351.5 482.2h0M361.7 481.5h0M49.9 489.3h0M58.0 488.8h0M77.3 489.1h0M86.5 489.0h0M96.2 489.8h0M105.0 490.5h0M115.0 489.2h0M123.1 489.1h0M133.7 489.5h0M142.7 489.2h0M151.9 489.7h0M160.3 488.9h0M169.4 489.3h0M179.8 490.2h0M189.4 490.5h0M198.7 489.4h0M207.8 489.2h0M217.2 489.1h0M226.3 489.8h0M235.5 489.0h0M244.2 490.3h0M253.7 490.2h0M263.8 489.5h0M273.3 489.2h0M282.0 490.4h0M291.0 490.4h0M301.2 488.8h0M310.2 489.4h0M319.0 489.1h0M327.5 490.4h0M337.1 490.1h0M347.8 490.4h0M356.8 488.9h0M365.9 490.5h0M53.3 498.2h0M73.3 497.8h0M82.5 497.9h0M91.2 497.0h0M99.6 497.9h0M110.2 497.4h0M119.5 497.6h0M128.7 496.7h0M137.0 498.2h0M146.9 497.7h0M157.1 498.2h0M166.0 498.3h0M174.3 498.2h0M184.6 497.5h0M192.7 498.3h0M203.7 497.1h0M221.6 498.0h0M230.7 496.9h0M240.9 496.9h0M248.9 497.4h0M258.8 497.0h0M268.0 498.1h0M277.0 498.0h0M286.1 498.2h0M295.3 496.8h0M304.9 497.5h0M314.3 498.5h0M323.4 497.4h0M333.9 497.3h0M343.2 497.2h0M352.0 497.7h0M360.5 497.6h0M48.9 506.1h0M57.9 505.3h0M68.1 505.2h0M78.0 504.9h0M86.2 505.7h0M95.4 505.0h0M104.7 505.0h0M114.3 504.8h0M123.7 504.8h0M132.7 504.9h0M142.9 506.0h0M151.2 505.5h0M161.0 506.4h0M180.3 504.8h0M188.0 506.1h0M197.7 505.9h0M206.7 505.7h0M216.7 505.4h0M225.9 504.9h0M235.8 504.9h0M245.5 505.6h0M254.2 505.9h0M263.9 505.9h0M272.2 506.4h0M282.2 506.2h0M291.6 505.3h0M300.6 506.3h0M310.2 505.4h0M319.3 504.9h0M328.2 505.8h0M337.9 504.9h0M347.2 505.8h0M356.1 505.2h0M364.9 506.1h0M53.1 513.9h0M64.0 513.9h0M73.4 514.3h0M81.6 513.8h0M90.3 513.7h0M100.3 514.4h0M109.0 513.6h0M128.2 513.9h0M137.7 514.0h0M147.7 513.2h0M156.3 512.9h0M165.3 513.6h0M175.2 513.6h0M184.0 513.0h0M192.6 512.9h0M202.2 512.8h0M212.7 514.5h0M220.7 514.2h0M231.0 514.2h0M240.1 513.7h0M248.8 513.4h0M258.9 513.4h0M268.7 513.5h0M277.6 514.3h0M286.9 513.4h0M296.7 513.0h0M305.1 513.4h0M313.5 513.4h0M324.5 513.5h0M333.6 512.9h0M342.4 513.8h0M350.9 513.8h0M361.1 513.9h0M49.8 522.5h0M59.1 521.7h0M68.4 521.4h0M76.4 521.1h0M86.6 522.3h0M106.0 520.8h0M115.0 520.8h0M123.3 521.8h0M132.5 522.1h0M141.7 522.5h0M152.3 521.8h0M160.9 522.3h0M170.9 521.6h0M179.2 521.9h0M188.7 522.2h0M198.2 521.2h0M207.8 522.5h0M216.6 522.2h0M226.7 521.9h0M234.6 521.0h0M245.2 521.7h0M253.7 521.0h0M263.8 521.5h0M272.3 520.9h0M281.2 521.6h0M290.5 521.1h0M301.0 521.2h0M310.3 520.8h0M319.0 521.8h0M329.2 521.2h0M338.4 520.8h0M347.0 521.1h0M356.9 521.5h0M365.6 522.4h0" stroke="#6a5ca2" stroke-width="9.0" stroke-linecap="round" fill="none"/>
<path d="M49.9 473.1h0M59.4 473.7h0M67.6 473.3h0M77.6 473.7h0M86.1 474.3h0M95.6 473.9h0M114.2 473.4h0M124.6 473.7h0M133.0 474.4h0M142.2 473.2h0M152.4 474.3h0M160.3 473.1h0M170.4 473.0h0M179.9 473.5h0M188.0 474.4h0M199.0 473.5h0M208.2 474.5h0M217.4 474.2h0M226.6 473.5h0M235.0 474.4h0M244.3 473.4h0M253.6 474.1h0M263.1 473.3h0M273.1 473.3h0M281.4 473.2h0M291.3 473.5h0M299.8 473.3h0M309.7 474.3h0M319.6 473.8h0M327.8 474.5h0M336.9 473.0h0M347.7 473.9h0M356.7 474.1h0M365.8 474.3h0M54.9 481.6h0M62.5 481.4h0M73.2 482.4h0M81.3 482.2h0M91.6 481.1h0M101.2 481.9h0M110.3 482.1h0M119.4 482.0h0M128.2 481.0h0M137.3 481.6h0M146.5 482.1h0M156.8 481.5h0M166.3 481.0h0M175.4 480.8h0M184.4 481.7h0M193.8 482.2h0M202.8 482.0h0M211.6 480.8h0M222.2 481.2h0M230.8 481.5h0M240.7 480.7h0M249.4 481.4h0M268.5 482.0h0M277.4 482.3h0M286.1 481.5h0M296.1 481.8h0M305.2 481.4h0M313.7 481.1h0M324.2 481.3h0M332.6 480.9h0M342.3 482.4h0M351.5 482.2h0M361.7 481.5h0M49.9 489.3h0M58.0 488.8h0M77.3 489.1h0M86.5 489.0h0M96.2 489.8h0M105.0 490.5h0M115.0 489.2h0M123.1 489.1h0M133.7 489.5h0M142.7 489.2h0M151.9 489.7h0M160.3 488.9h0M169.4 489.3h0M179.8 490.2h0M189.4 490.5h0M198.7 489.4h0M207.8 489.2h0M217.2 489.1h0M226.3 489.8h0M235.5 489.0h0M244.2 490.3h0M253.7 490.2h0M263.8 489.5h0M273.3 489.2h0M282.0 490.4h0M291.0 490.4h0M301.2 488.8h0M310.2 489.4h0M319.0 489.1h0M327.5 490.4h0M337.1 490.1h0M347.8 490.4h0M356.8 488.9h0M365.9 490.5h0M53.3 498.2h0M73.3 497.8h0M82.5 497.9h0M91.2 497.0h0M99.6 497.9h0M110.2 497.4h0M119.5 497.6h0M128.7 496.7h0M137.0 498.2h0M146.9 497.7h0M157.1 498.2h0M166.0 498.3h0M174.3 498.2h0M184.6 497.5h0M192.7 498.3h0M203.7 497.1h0M221.6 498.0h0M230.7 496.9h0M240.9 496.9h0M248.9 497.4h0M258.8 497.0h0M268.0 498.1h0M277.0 498.0h0M286.1 498.2h0M295.3 496.8h0M304.9 497.5h0M314.3 498.5h0M323.4 497.4h0M333.9 497.3h0M343.2 497.2h0M352.0 497.7h0M360.5 497.6h0M48.9 506.1h0M57.9 505.3h0M68.1 505.2h0M78.0 504.9h0M86.2 505.7h0M95.4 505.0h0M104.7 505.0h0M114.3 504.8h0M123.7 504.8h0M132.7 504.9h0M142.9 506.0h0M151.2 505.5h0M161.0 506.4h0M180.3 504.8h0M188.0 506.1h0M197.7 505.9h0M206.7 505.7h0M216.7 505.4h0M225.9 504.9h0M235.8 504.9h0M245.5 505.6h0M254.2 505.9h0M263.9 505.9h0M272.2 506.4h0M282.2 506.2h0M291.6 505.3h0M300.6 506.3h0M310.2 505.4h0M319.3 504.9h0M328.2 505.8h0M337.9 504.9h0M347.2 505.8h0M356.1 505.2h0M364.9 506.1h0M53.1 513.9h0M64.0 513.9h0M73.4 514.3h0M81.6 513.8h0M90.3 513.7h0M100.3 514.4h0M109.0 513.6h0M128.2 513.9h0M137.7 514.0h0M147.7 513.2h0M156.3 512.9h0M165.3 513.6h0M175.2 513.6h0M184.0 513.0h0M192.6 512.9h0M202.2 512.8h0M212.7 514.5h0M220.7 514.2h0M231.0 514.2h0M240.1 513.7h0M248.8 513.4h0M258.9 513.4h0M268.7 513.5h0M277.6 514.3h0M286.9 513.4h0M296.7 513.0h0M305.1 513.4h0M313.5 513.4h0M324.5 513.5h0M333.6 512.9h0M342.4 513.8h0M350.9 513.8h0M361.1 513.9h0M49.8 522.5h0M59.1 521.7h0M68.4 521.4h0M76.4 521.1h0M86.6 522.3h0M106.0 520.8h0M115.0 520.8h0M123.3 521.8h0M132.5 522.1h0M141.7 522.5h0M152.3 521.8h0M160.9 522.3h0M170.9 521.6h0M179.2 521.9h0M188.7 522.2h0M198.2 521.2h0M207.8 522.5h0M216.6 522.2h0M226.7 521.9h0M234.6 521.0h0M245.2 521.7h0M253.7 521.0h0M263.8 521.5h0M272.3 520.9h0M281.2 521.6h0M290.5 521.1h0M301.0 521.2h0M310.3 520.8h0M319.0 521.8h0M329.2 521.2h0M338.4 520.8h0M347.0 521.1h0M356.9 521.5h0M365.6 522.4h0" stroke="#7e70b2" stroke-width="6.6" stroke-linecap="round" fill="none"/>
<path d="M49.1 472.5h0M60.5 472.6h0M68.0 472.8h0M79.0 474.9h0M84.7 474.9h0M95.4 473.9h0M113.7 474.3h0M125.2 472.7h0M132.3 473.4h0M143.7 472.5h0M152.9 473.5h0M161.1 473.5h0M171.0 474.0h0M180.6 473.8h0M187.2 474.7h0M198.7 474.0h0M207.3 475.4h0M217.5 474.5h0M227.1 472.1h0M234.5 473.9h0M244.3 473.5h0M253.7 473.3h0M262.0 473.0h0M271.7 474.5h0M281.0 471.7h0M291.2 474.6h0M299.6 474.4h0M308.7 474.0h0M318.8 474.4h0M327.1 474.5h0M338.0 473.1h0M346.8 473.6h0M357.6 473.2h0M366.8 473.7h0M54.6 483.1h0M64.0 481.6h0M71.9 482.0h0M82.5 481.8h0M90.4 481.9h0M100.0 481.3h0M109.4 481.5h0M118.8 481.5h0M127.4 480.4h0M137.5 482.7h0M147.7 482.8h0M155.3 480.4h0M165.5 480.7h0M175.6 481.3h0M183.4 482.7h0M192.9 481.7h0M201.6 480.9h0M212.9 482.1h0M221.5 479.9h0M229.9 482.7h0M240.5 480.4h0M249.2 481.5h0M267.5 482.5h0M277.4 481.8h0M285.6 482.7h0M294.9 483.1h0M303.9 482.2h0M312.9 480.2h0M324.0 481.5h0M333.5 480.5h0M343.8 482.3h0M350.4 482.0h0M362.3 481.4h0M48.6 489.8h0M56.8 488.3h0M77.2 488.2h0M87.1 490.2h0M97.0 489.7h0M104.0 491.8h0M114.0 489.8h0M124.4 489.7h0M132.9 490.5h0M142.3 490.2h0M152.7 490.6h0M159.0 489.1h0M170.4 490.2h0M178.8 489.4h0M190.8 489.9h0M199.8 488.4h0M209.1 488.7h0M217.8 487.8h0M227.0 490.9h0M234.5 488.3h0M243.6 488.9h0M252.2 490.5h0M263.7 488.8h0M274.1 487.8h0M281.7 489.4h0M290.4 491.6h0M300.1 489.1h0M309.4 488.6h0M317.5 488.1h0M328.0 491.5h0M336.1 489.5h0M348.5 491.4h0M356.3 488.2h0M366.2 489.6h0M53.0 499.7h0M74.2 496.7h0M81.2 498.5h0M91.2 496.8h0M100.7 497.6h0M109.7 496.7h0M118.2 497.0h0M128.1 495.7h0M135.8 498.1h0M145.7 496.5h0M158.5 499.7h0M165.9 498.7h0M172.9 498.4h0M185.8 497.1h0M191.4 497.2h0M202.4 496.2h0M223.1 497.3h0M231.3 495.6h0M239.4 496.5h0M249.3 496.0h0M258.6 496.8h0M268.4 497.6h0M277.7 496.9h0M287.5 497.0h0M294.1 496.1h0M305.9 496.1h0M315.0 499.5h0M324.5 498.0h0M333.7 496.6h0M343.6 497.6h0M350.8 499.0h0M359.0 498.9h0M48.2 506.0h0M57.2 506.1h0M67.9 505.5h0M79.4 506.0h0M85.9 504.6h0M95.1 505.4h0M106.1 504.6h0M114.8 506.2h0M122.5 505.7h0M131.3 504.5h0M142.5 505.6h0M151.5 504.2h0M160.5 507.0h0M180.0 506.0h0M186.6 504.7h0M197.9 506.7h0M207.8 506.4h0M216.8 506.3h0M226.7 505.7h0M236.2 505.9h0M244.5 506.7h0M253.6 506.6h0M264.8 506.9h0M270.9 506.9h0M281.1 505.6h0M291.3 504.0h0M301.8 507.1h0M311.1 506.5h0M320.2 505.5h0M329.7 504.7h0M337.8 506.1h0M348.3 507.0h0M356.2 504.2h0M364.4 507.5h0M52.5 512.6h0M64.6 512.8h0M72.4 513.8h0M80.3 515.0h0M90.7 513.7h0M100.6 515.4h0M109.7 513.7h0M126.9 514.4h0M138.7 514.2h0M147.3 514.6h0M155.8 514.3h0M165.0 512.1h0M175.3 513.3h0M185.3 512.8h0M194.1 514.4h0M202.8 513.6h0M212.1 515.0h0M220.3 514.5h0M232.0 513.6h0M241.1 514.8h0M248.6 512.9h0M258.6 512.7h0M269.5 513.5h0M278.7 514.4h0M285.7 514.5h0M297.9 513.9h0M303.9 514.0h0M313.9 514.4h0M323.9 513.7h0M334.5 514.1h0M341.1 512.4h0M351.8 514.4h0M360.6 514.9h0M50.2 521.6h0M60.2 520.4h0M69.3 520.7h0M75.8 520.2h0M85.8 521.6h0M106.6 519.7h0M113.6 520.3h0M124.1 520.8h0M131.1 522.9h0M140.5 522.1h0M153.3 520.3h0M159.9 523.4h0M170.7 521.3h0M178.3 522.5h0M189.4 520.9h0M197.7 521.5h0M207.0 523.7h0M217.8 521.9h0M226.3 521.2h0M234.7 522.3h0M246.1 523.1h0M254.9 521.9h0M262.5 521.0h0M273.6 519.6h0M282.0 521.3h0M290.8 520.6h0M301.3 521.2h0M310.1 521.9h0M318.0 521.9h0M329.0 520.7h0M338.9 520.0h0M348.2 520.4h0M355.6 522.0h0M366.8 523.3h0" stroke="#6a5a9f" stroke-width="2.6" stroke-linecap="round" fill="none" stroke-opacity="0.7"/>
<rect x="54" y="527" width="303" height="17" fill="#e6a5da"/>
<path d="M59.8 528.3h0M61.5 528.0h0M77.9 527.7h0M81.2 529.1h0M87.7 528.9h0M90.3 529.3h0M100.9 529.6h0M109.4 528.1h0M121.6 528.8h0M126.4 529.2h0M131.2 529.6h0M134.8 529.2h0M141.3 527.5h0M165.2 527.2h0M207.9 529.4h0M217.0 529.9h0M219.6 528.2h0M221.9 527.3h0M227.2 529.1h0M231.4 529.7h0M235.0 528.0h0M248.6 529.7h0M270.8 529.1h0M273.6 528.4h0M279.1 528.5h0M283.7 527.9h0M285.6 527.7h0M292.4 528.3h0M300.9 529.4h0M347.7 529.1h0M359.2 529.6h0M54.6 530.1h0M69.3 530.7h0M76.5 531.7h0M84.0 531.9h0M89.4 530.8h0M94.8 531.8h0M107.0 530.5h0M130.9 530.8h0M133.0 531.3h0M139.9 532.3h0M143.3 531.8h0M147.8 531.0h0M156.2 530.7h0M185.4 532.4h0M189.4 530.5h0M195.3 530.3h0M245.2 531.4h0M249.8 531.9h0M252.2 530.8h0M257.9 531.5h0M262.4 531.6h0M266.5 530.1h0M268.9 531.0h0M281.8 531.6h0M283.6 532.2h0M298.4 530.3h0M300.1 531.1h0M306.3 532.6h0M330.0 531.9h0M338.1 531.0h0M340.8 532.3h0M52.0 534.4h0M62.7 533.7h0M80.8 533.7h0M88.4 533.9h0M104.1 533.8h0M123.3 534.4h0M144.5 535.2h0M178.3 533.0h0M181.6 533.7h0M212.4 535.2h0M219.1 534.9h0M228.1 534.8h0M232.4 533.6h0M238.0 534.2h0M244.7 533.7h0M257.2 534.4h0M265.9 534.4h0M269.5 533.7h0M272.9 535.5h0M345.8 533.0h0M352.4 533.0h0M359.9 533.4h0M58.0 537.4h0M61.0 538.3h0M62.5 537.7h0M73.5 537.7h0M82.7 536.4h0M103.1 536.0h0M121.4 535.8h0M130.7 537.0h0M139.2 538.2h0M167.2 537.4h0M170.3 538.0h0M195.1 536.5h0M198.9 537.3h0M240.1 536.7h0M243.2 536.9h0M270.2 537.6h0M278.0 536.9h0M280.3 537.3h0M290.0 537.3h0M297.6 537.7h0M301.1 538.3h0M303.9 535.8h0M329.0 538.3h0M349.1 536.9h0M354.2 536.5h0M102.9 539.7h0M107.6 541.0h0M109.8 539.8h0M113.1 540.5h0M125.7 540.6h0M129.8 538.4h0M135.2 539.0h0M139.6 540.1h0M142.1 538.4h0M150.9 540.1h0M160.5 540.3h0M175.3 540.4h0M176.8 540.1h0M179.3 540.5h0M190.9 539.9h0M196.1 539.7h0M198.4 539.4h0M209.9 540.5h0M216.6 538.9h0M238.3 539.1h0M241.3 538.3h0M244.9 540.5h0M250.6 539.8h0M258.3 540.0h0M260.6 538.8h0M274.3 539.3h0M286.8 539.4h0M297.6 540.9h0M302.7 539.1h0M304.7 540.9h0M337.4 540.2h0M340.3 539.6h0M348.9 540.9h0M79.0 543.0h0M115.3 542.7h0M120.7 542.6h0M128.2 541.7h0M130.0 542.7h0M145.0 543.0h0M207.8 541.9h0M215.0 543.1h0M223.4 541.8h0M232.2 542.3h0M236.9 543.9h0M240.4 541.4h0M245.4 541.7h0M259.1 543.1h0M265.2 543.9h0M270.3 542.9h0M286.8 542.0h0M293.5 541.9h0M300.7 541.8h0M320.5 543.5h0M352.8 541.9h0" stroke="#f0bde6" stroke-width="1.5" stroke-linecap="round" fill="none" stroke-opacity="0.8"/>
<path d="M52.0 544.2 L62.2 543.8 L72.5 543.4 L82.7 543.8 L92.9 544.6 L103.2 544.3 L113.4 542.9 L123.6 541.8 L133.9 541.9 L144.1 542.6 L154.3 542.4 L164.6 541.6 L174.8 541.6 L185.0 542.9 L195.3 544.2 L205.5 544.3 L215.7 543.6 L226.0 543.5 L236.2 544.1 L246.4 544.4 L256.7 543.4 L266.9 541.9 L277.1 541.5 L287.4 542.2 L297.6 542.6 L307.8 542.1 L318.1 541.7 L328.3 542.4 L338.5 543.9 L348.8 544.6 L359.0 544.1 L359.0 622.1 L348.8 621.5 L338.5 621.6 L328.3 622.4 L318.1 622.3 L307.8 621.0 L297.6 619.7 L287.4 619.6 L277.1 620.4 L266.9 620.5 L256.7 619.9 L246.4 619.7 L236.2 620.8 L226.0 622.2 L215.7 622.6 L205.5 621.8 L195.3 621.4 L185.0 621.8 L174.8 622.2 L164.6 621.5 L154.3 620.0 L144.1 619.3 L133.9 619.9 L123.6 620.6 L113.4 620.4 L103.2 619.9 L92.9 620.4 L82.7 621.8 L72.5 622.8 L62.2 622.3 L52.0 621.5Z" fill="#d2bbe8"/>
<path d="M90.6 582.0h0M113.4 576.5h0M224.9 610.3h0M106.6 564.2h0M345.2 553.2h0M355.0 548.3h0M97.1 581.5h0M262.5 593.5h0M129.2 570.7h0M357.3 599.0h0M120.5 587.4h0M351.1 564.4h0M340.5 559.5h0M321.7 570.7h0M292.0 576.4h0M212.5 564.7h0M193.3 575.6h0M255.0 604.5h0M129.8 604.7h0M278.2 599.5h0M242.1 616.7h0M77.4 616.3h0M77.3 604.3h0M232.9 588.0h0M324.0 598.6h0M57.9 616.6h0M139.6 587.1h0M291.5 610.3h0M147.1 576.4h0M321.8 617.1h0M287.9 616.3h0M112.6 565.1h0M127.0 576.7h0M226.1 554.0h0M176.4 605.6h0M327.5 546.8h0M233.0 598.7h0M83.0 570.6h0M156.1 558.3h0M110.2 546.8h0M357.6 564.0h0M360.9 569.7h0M229.1 604.7h0M361.6 604.3h0M54.2 588.2h0M90.3 593.0h0M80.9 553.1h0M327.3 615.9h0M146.2 598.4h0M297.8 611.2h0M195.9 616.4h0M209.0 616.7h0M254.9 593.4h0M57.5 570.1h0M120.1 575.4h0M70.1 571.3h0M202.1 582.0h0M252.0 576.4h0M158.8 575.5h0M241.5 559.0h0M229.7 615.8h0M333.9 582.6h0M242.6 594.0h0M149.9 592.6h0M338.4 611.2h0M199.8 576.3h0M126.5 587.3h0M110.8 569.9h0M117.1 558.8h0M153.3 552.5h0M282.2 605.2h0M249.3 571.3h0M172.3 610.1h0M67.4 564.2h0M212.3 588.2h0M358.3 576.7h0M308.3 581.5h0M281.5 570.0h0M328.0 604.4h0M337.4 565.3h0M136.0 571.2h0M192.9 610.8h0M229.0 559.4h0M324.7 610.6h0M267.9 548.2h0M288.2 604.7h0M80.0 564.2h0M347.4 604.6h0M208.5 604.4h0M99.9 588.2h0M314.6 594.1h0M314.3 547.0h0M57.9 546.8h0M344.1 611.3h0M182.7 616.1h0M196.5 570.2h0M298.8 565.5h0M176.4 570.2h0M278.5 564.5h0M360.7 593.0h0M361.7 546.8h0M120.3 610.5h0M71.0 616.2h0M304.0 588.1h0M163.0 571.2h0M189.9 570.5h0M248.4 558.6h0M123.8 615.9h0M245.0 552.7h0M274.7 546.8h0M235.5 547.4h0M345.1 598.8h0M182.2 604.3h0M255.8 582.4h0M242.2 581.5h0M314.7 570.1h0M73.4 553.7h0M334.9 558.4h0M186.7 610.1h0M300.8 616.7h0M117.2 604.2h0M285.5 565.5h0M127.3 564.7h0M212.3 553.1h0M79.9 587.3h0M311.5 610.3h0M229.2 571.2h0M60.8 565.1h0M229.3 593.8h0M150.2 582.1h0M238.5 564.8h0M120.7 553.1h0M291.1 599.2h0M244.8 563.9h0M126.2 552.5h0M218.7 587.2h0M142.3 547.1h0M70.1 593.6h0M318.7 599.9h0M173.3 554.0h0M169.3 581.2h0M93.9 610.9h0M295.4 593.7h0M103.7 558.6h0M354.5 582.0h0M143.8 559.6h0M223.1 582.2h0M235.3 581.2h0M64.1 547.3h0M205.1 576.8h0M261.2 604.2h0M90.3 615.9h0M278.9 611.1h0M281.9 582.2h0M188.7 604.6h0M238.1 598.8h0M205.4 553.5h0M93.9 565.0h0M196.4 581.9h0M282.3 594.1h0M61.3 587.6h0M153.0 564.7h0M176.8 581.3h0M281.4 616.4h0M219.0 552.9h0M145.8 554.0h0M222.2 593.4h0M206.0 599.5h0M325.1 576.4h0M318.0 610.0h0M64.2 558.4h0M51.2 605.1h0M91.0 604.8h0M83.0 559.7h0M235.2 570.8h0M182.0 558.6h0M73.6 576.2h0M192.0 564.9h0M64.6 615.7h0M136.3 616.7h0M83.6 605.1h0M132.7 553.7h0M153.1 575.9h0M87.8 553.3h0M301.8 593.3h0M254.9 570.4h0M328.3 570.3h0M291.1 564.9h0M53.3 599.2h0M157.0 615.8h0M252.1 553.7h0M143.7 604.7h0M248.4 605.6h0M268.1 594.2h0M182.3 570.8h0M205.1 610.9h0M348.1 581.2h0M311.9 565.1h0M340.9 604.5h0M254.9 559.3h0M222.7 616.9h0M311.8 598.6h0M60.0 576.1h0M248.2 617.1h0M341.2 582.4h0M269.1 605.3h0M93.1 552.5h0M284.2 588.0h0M299.0 553.3h0M102.8 582.3h0M137.1 548.3h0M100.0 611.2h0M163.4 593.3h0M179.0 575.5h0M288.3 581.5h0M254.7 546.9h0M136.7 605.4h0M251.5 611.1h0M182.0 581.2h0M179.3 553.3h0M203.2 558.7h0M132.9 576.8h0M272.2 610.0h0M221.6 604.2h0M172.2 565.5h0M64.7 582.3h0M295.6 605.7h0M100.4 599.2h0M155.8 547.8h0M106.1 610.4h0M264.8 587.2h0M100.1 565.5h0M79.8 611.1h0M149.2 559.7h0M275.6 605.7h0M301.7 570.6h0M169.5 616.5h0M169.1 571.1h0M199.7 609.9h0M185.9 575.8h0M239.5 588.0h0M232.7 576.5h0M147.1 587.1h0M142.6 594.0h0M162.3 547.9h0M123.7 582.4h0M202.8 592.9h0M304.6 564.1h0M265.5 599.5h0M351.4 611.2h0M232.8 610.6h0M198.8 599.5h0M324.3 564.1h0M271.1 586.9h0M335.0 594.2h0M145.8 564.6h0M147.2 610.1h0M76.4 547.9h0M251.3 598.7h0M320.5 604.9h0M168.8 605.5h0M347.7 616.8h0M274.6 582.0h0M331.7 599.3h0M354.8 571.1h0M268.0 615.9h0M89.6 570.3h0M116.2 547.6h0M331.1 587.2h0M351.4 575.7h0M245.3 598.8h0M86.4 588.2h0M79.9 576.7h0M139.8 565.1h0M176.0 547.5h0M136.1 581.4h0M159.4 553.9h0M310.8 576.8h0M221.6 571.1h0M203.1 604.8h0M123.8 593.9h0M66.4 587.8h0M172.2 576.9h0M215.0 616.0h0M188.6 581.7h0M113.7 611.0h0M358.0 610.7h0M175.9 558.8h0M67.8 575.5h0M354.3 615.8h0M183.3 547.4h0M117.0 593.5h0M235.6 616.1h0M181.9 593.0h0M81.0 598.9h0M77.8 571.1h0M232.3 564.9h0M354.2 604.5h0M301.3 605.6h0M215.4 570.4h0M152.8 587.6h0M123.0 604.7h0M258.0 587.5h0M113.1 553.3h0M169.3 547.6h0M212.0 599.8h0M310.6 553.2h0M209.1 593.2h0M60.6 599.1h0M189.0 594.1h0M70.4 605.7h0M109.8 558.3h0M136.6 593.7h0M320.8 547.0h0M165.4 598.8h0M288.4 558.2h0M205.9 564.0h0M166.3 564.3h0M188.9 615.7h0M215.9 581.8h0M169.9 593.8h0M133.8 599.5h0M247.9 592.9h0M239.3 575.6h0M305.5 552.7h0M234.8 559.2h0M288.9 547.6h0M87.1 576.0h0M307.6 559.4h0M274.8 569.9h0M261.7 570.3h0M130.7 547.8h0M67.6 553.9h0M175.9 615.7h0M77.2 593.8h0M335.2 546.9h0M226.2 576.1h0M119.7 564.3h0M112.7 599.8h0M74.0 564.4h0M287.9 593.8h0M292.0 587.6h0M235.1 593.1h0M97.5 547.0h0M185.2 565.1h0M351.6 599.4h0M123.6 548.2h0M275.2 559.3h0M340.4 547.9h0M295.3 582.4h0M192.4 587.7h0M77.1 558.4h0M195.7 547.4h0M360.2 615.9h0M221.9 547.6h0M284.5 576.1h0M249.2 547.9h0M156.5 582.2h0M354.5 558.8h0M285.1 553.4h0M251.7 588.2h0M162.9 559.6h0M110.4 604.7h0M100.5 553.2h0M301.3 581.8h0M354.7 593.1h0M245.0 587.4h0M219.4 565.0h0M225.5 599.8h0M218.5 610.7h0M176.1 592.9h0M96.6 616.7h0M318.2 588.4h0M294.3 558.3h0M231.7 552.4h0M173.4 588.4h0M284.5 610.6h0M351.5 587.1h0M156.8 570.6h0M70.7 547.4h0M57.3 559.7h0M269.2 570.9h0M209.8 548.0h0M73.4 610.5h0M53.9 576.6h0M298.6 598.8h0M241.8 570.2h0M63.7 604.2h0M348.1 558.6h0M235.0 605.7h0M239.4 610.9h0M314.7 615.7h0M166.0 577.0h0M143.6 582.3h0M361.0 582.0h0M60.5 552.5h0M192.2 554.0h0M321.9 559.2h0M338.6 575.9h0M133.2 587.0h0M344.8 564.1h0M96.1 592.7h0M50.4 559.0h0M331.0 564.9h0M224.8 564.2h0M142.8 617.1h0M216.5 559.1h0M178.6 598.5h0M133.3 564.8h0M58.0 604.2h0M262.6 559.3h0M54.7 564.7h0M163.1 582.5h0M149.0 616.8h0M297.7 576.0h0M264.8 565.2h0M327.8 559.6h0M344.8 577.0h0M317.3 565.2h0M159.2 564.4h0M86.5 564.2h0M70.9 559.3h0M129.3 616.0h0M265.6 576.2h0M156.4 604.2h0M57.0 582.4h0M294.6 616.0h0M103.6 615.8h0M70.6 581.9h0M262.6 615.7h0M155.6 593.3h0M63.2 570.4h0M215.6 605.4h0M195.3 593.2h0M218.8 576.8h0M139.8 576.3h0M186.8 587.4h0M196.1 559.1h0M258.7 553.4h0M137.0 559.3h0M357.2 553.9h0M61.3 609.9h0M348.2 593.5h0M288.5 570.6h0M66.5 609.9h0M209.7 570.0h0M244.7 610.2h0M262.6 581.9h0M162.4 616.3h0M244.9 576.1h0M275.3 593.4h0M77.0 581.6h0M109.8 616.8h0M271.6 553.8h0M90.7 558.7h0M178.9 610.2h0M340.6 616.0h0M122.8 570.9h0M308.0 604.7h0M344.9 587.6h0M264.7 553.3h0M256.0 615.8h0M203.0 548.0h0M301.7 558.3h0M110.1 582.0h0M340.7 570.4h0M51.4 570.7h0M324.5 553.7h0M330.8 610.5h0M96.3 570.6h0M314.7 582.0h0M308.7 594.0h0M251.7 564.8h0M130.4 593.7h0M73.2 587.6h0M180.1 565.2h0M83.8 546.8h0M258.3 575.7h0M208.5 582.2h0M159.4 588.4h0M272.3 564.0h0M127.1 598.6h0M116.4 582.4h0M114.1 588.0h0M50.2 582.7h0M149.7 604.3h0M271.8 576.2h0M93.9 587.3h0M153.7 599.3h0M198.6 564.2h0M54.1 610.8h0M241.9 604.9h0M307.4 570.6h0M51.1 547.5h0M140.5 552.9h0M211.7 610.8h0M139.3 598.8h0M323.9 587.5h0M83.3 581.4h0M139.5 609.9h0M315.0 605.4h0M209.4 558.5h0M350.5 552.9h0M103.0 593.7h0M50.0 616.2h0M272.0 599.9h0M143.6 571.0h0M334.1 571.2h0M63.4 594.1h0M225.5 588.2h0M165.7 610.5h0M100.2 576.1h0M166.4 553.0h0M278.5 553.2h0M53.3 553.7h0M228.3 582.6h0M341.3 593.7h0M219.6 598.5h0M337.2 599.9h0M294.9 571.1h0M159.1 599.4h0M169.5 558.3h0M301.6 547.2h0M133.6 610.8h0M279.0 588.1h0M281.7 559.0h0M186.0 552.6h0M238.3 553.0h0M268.0 582.0h0M292.0 553.6h0M173.1 599.9h0M162.8 605.3h0M123.7 559.1h0M129.5 582.4h0M179.3 587.9h0M73.0 598.7h0M330.8 576.2h0M116.1 571.0h0M304.5 611.3h0M305.1 575.9h0M212.6 576.7h0M285.2 599.0h0M278.5 575.5h0M86.9 599.3h0M84.5 593.4h0M84.0 616.7h0M189.2 547.1h0M120.1 599.1h0M149.8 548.1h0M311.5 587.7h0M87.7 610.3h0M215.4 548.0h0M93.4 575.8h0M337.3 588.0h0M203.1 569.9h0M106.5 553.2h0M265.0 610.2h0M107.1 576.4h0M130.5 558.8h0M331.3 553.8h0M347.2 570.4h0M241.8 547.3h0M90.4 548.2h0M215.8 593.4h0M104.1 570.3h0M317.4 575.6h0M334.5 604.9h0M107.2 587.7h0M67.6 598.6h0M205.7 587.3h0M185.3 599.6h0M221.6 558.9h0M198.7 553.4h0M361.1 558.9h0M165.9 587.0h0M228.4 548.0h0M304.3 598.8h0M93.8 599.1h0M201.8 616.8h0M106.9 598.5h0M308.7 617.2h0M117.2 615.6h0M96.7 604.6h0M195.9 604.4h0M347.7 547.1h0M327.7 582.0h0M297.8 588.4h0M51.2 593.4h0M317.8 553.1h0M308.2 547.2h0M188.6 559.0h0M125.8 610.0h0M322.0 581.5h0M268.1 558.5h0M337.6 552.6h0M275.2 615.9h0M153.0 610.2h0M259.2 564.9h0M57.5 594.0h0M282.4 548.1h0M294.2 547.8h0M103.4 548.1h0M110.6 594.1h0M321.8 594.1h0" stroke="#7a66b4" stroke-width="5.6" stroke-linecap="round" fill="none" stroke-opacity="0.6"/>
<path d="M90.6 582.0h0M113.4 576.5h0M224.9 610.3h0M106.6 564.2h0M345.2 553.2h0M355.0 548.3h0M97.1 581.5h0M262.5 593.5h0M129.2 570.7h0M357.3 599.0h0M120.5 587.4h0M351.1 564.4h0M340.5 559.5h0M321.7 570.7h0M292.0 576.4h0M212.5 564.7h0M193.3 575.6h0M255.0 604.5h0M129.8 604.7h0M278.2 599.5h0M242.1 616.7h0M77.4 616.3h0M77.3 604.3h0M232.9 588.0h0M324.0 598.6h0M57.9 616.6h0M139.6 587.1h0M291.5 610.3h0M147.1 576.4h0M321.8 617.1h0M287.9 616.3h0M112.6 565.1h0M127.0 576.7h0M226.1 554.0h0M176.4 605.6h0M327.5 546.8h0M233.0 598.7h0M83.0 570.6h0M156.1 558.3h0M110.2 546.8h0M357.6 564.0h0M360.9 569.7h0M229.1 604.7h0M361.6 604.3h0M54.2 588.2h0M90.3 593.0h0M80.9 553.1h0M327.3 615.9h0M146.2 598.4h0M297.8 611.2h0M195.9 616.4h0M209.0 616.7h0M254.9 593.4h0M57.5 570.1h0M120.1 575.4h0M70.1 571.3h0M202.1 582.0h0M252.0 576.4h0M158.8 575.5h0M241.5 559.0h0M229.7 615.8h0M333.9 582.6h0M242.6 594.0h0M149.9 592.6h0M338.4 611.2h0M199.8 576.3h0M126.5 587.3h0M110.8 569.9h0M117.1 558.8h0M153.3 552.5h0M282.2 605.2h0M249.3 571.3h0M172.3 610.1h0M67.4 564.2h0M212.3 588.2h0M358.3 576.7h0M308.3 581.5h0M281.5 570.0h0M328.0 604.4h0M337.4 565.3h0M136.0 571.2h0M192.9 610.8h0M229.0 559.4h0M324.7 610.6h0M267.9 548.2h0M288.2 604.7h0M80.0 564.2h0M347.4 604.6h0M208.5 604.4h0M99.9 588.2h0M314.6 594.1h0M314.3 547.0h0M57.9 546.8h0M344.1 611.3h0M182.7 616.1h0M196.5 570.2h0M298.8 565.5h0M176.4 570.2h0M278.5 564.5h0M360.7 593.0h0M361.7 546.8h0M120.3 610.5h0M71.0 616.2h0M304.0 588.1h0M163.0 571.2h0M189.9 570.5h0M248.4 558.6h0M123.8 615.9h0M245.0 552.7h0M274.7 546.8h0M235.5 547.4h0M345.1 598.8h0M182.2 604.3h0M255.8 582.4h0M242.2 581.5h0M314.7 570.1h0M73.4 553.7h0M334.9 558.4h0M186.7 610.1h0M300.8 616.7h0M117.2 604.2h0M285.5 565.5h0M127.3 564.7h0M212.3 553.1h0M79.9 587.3h0M311.5 610.3h0M229.2 571.2h0M60.8 565.1h0M229.3 593.8h0M150.2 582.1h0M238.5 564.8h0M120.7 553.1h0M291.1 599.2h0M244.8 563.9h0M126.2 552.5h0M218.7 587.2h0M142.3 547.1h0M70.1 593.6h0M318.7 599.9h0M173.3 554.0h0M169.3 581.2h0M93.9 610.9h0M295.4 593.7h0M103.7 558.6h0M354.5 582.0h0M143.8 559.6h0M223.1 582.2h0M235.3 581.2h0M64.1 547.3h0M205.1 576.8h0M261.2 604.2h0M90.3 615.9h0M278.9 611.1h0M281.9 582.2h0M188.7 604.6h0M238.1 598.8h0M205.4 553.5h0M93.9 565.0h0M196.4 581.9h0M282.3 594.1h0M61.3 587.6h0M153.0 564.7h0M176.8 581.3h0M281.4 616.4h0M219.0 552.9h0M145.8 554.0h0M222.2 593.4h0M206.0 599.5h0M325.1 576.4h0M318.0 610.0h0M64.2 558.4h0M51.2 605.1h0M91.0 604.8h0M83.0 559.7h0M235.2 570.8h0M182.0 558.6h0M73.6 576.2h0M192.0 564.9h0M64.6 615.7h0M136.3 616.7h0M83.6 605.1h0M132.7 553.7h0M153.1 575.9h0M87.8 553.3h0M301.8 593.3h0M254.9 570.4h0M328.3 570.3h0M291.1 564.9h0M53.3 599.2h0M157.0 615.8h0M252.1 553.7h0M143.7 604.7h0M248.4 605.6h0M268.1 594.2h0M182.3 570.8h0M205.1 610.9h0M348.1 581.2h0M311.9 565.1h0M340.9 604.5h0M254.9 559.3h0M222.7 616.9h0M311.8 598.6h0M60.0 576.1h0M248.2 617.1h0M341.2 582.4h0M269.1 605.3h0M93.1 552.5h0M284.2 588.0h0M299.0 553.3h0M102.8 582.3h0M137.1 548.3h0M100.0 611.2h0M163.4 593.3h0M179.0 575.5h0M288.3 581.5h0M254.7 546.9h0M136.7 605.4h0M251.5 611.1h0M182.0 581.2h0M179.3 553.3h0M203.2 558.7h0M132.9 576.8h0M272.2 610.0h0M221.6 604.2h0M172.2 565.5h0M64.7 582.3h0M295.6 605.7h0M100.4 599.2h0M155.8 547.8h0M106.1 610.4h0M264.8 587.2h0M100.1 565.5h0M79.8 611.1h0M149.2 559.7h0M275.6 605.7h0M301.7 570.6h0M169.5 616.5h0M169.1 571.1h0M199.7 609.9h0M185.9 575.8h0M239.5 588.0h0M232.7 576.5h0M147.1 587.1h0M142.6 594.0h0M162.3 547.9h0M123.7 582.4h0M202.8 592.9h0M304.6 564.1h0M265.5 599.5h0M351.4 611.2h0M232.8 610.6h0M198.8 599.5h0M324.3 564.1h0M271.1 586.9h0M335.0 594.2h0M145.8 564.6h0M147.2 610.1h0M76.4 547.9h0M251.3 598.7h0M320.5 604.9h0M168.8 605.5h0M347.7 616.8h0M274.6 582.0h0M331.7 599.3h0M354.8 571.1h0M268.0 615.9h0M89.6 570.3h0M116.2 547.6h0M331.1 587.2h0M351.4 575.7h0M245.3 598.8h0M86.4 588.2h0M79.9 576.7h0M139.8 565.1h0M176.0 547.5h0M136.1 581.4h0M159.4 553.9h0M310.8 576.8h0M221.6 571.1h0M203.1 604.8h0M123.8 593.9h0M66.4 587.8h0M172.2 576.9h0M215.0 616.0h0M188.6 581.7h0M113.7 611.0h0M358.0 610.7h0M175.9 558.8h0M67.8 575.5h0M354.3 615.8h0M183.3 547.4h0M117.0 593.5h0M235.6 616.1h0M181.9 593.0h0M81.0 598.9h0M77.8 571.1h0M232.3 564.9h0M354.2 604.5h0M301.3 605.6h0M215.4 570.4h0M152.8 587.6h0M123.0 604.7h0" stroke="#3a2e7c" stroke-width="5.0" stroke-linecap="round" fill="none"/>
<path d="M258.0 587.5h0M113.1 553.3h0M169.3 547.6h0M212.0 599.8h0M310.6 553.2h0M209.1 593.2h0M60.6 599.1h0M189.0 594.1h0M70.4 605.7h0M109.8 558.3h0M136.6 593.7h0M320.8 547.0h0M165.4 598.8h0M288.4 558.2h0M205.9 564.0h0M166.3 564.3h0M188.9 615.7h0M215.9 581.8h0M169.9 593.8h0M133.8 599.5h0M247.9 592.9h0M239.3 575.6h0M305.5 552.7h0M234.8 559.2h0M288.9 547.6h0M87.1 576.0h0M307.6 559.4h0M274.8 569.9h0M261.7 570.3h0M130.7 547.8h0M67.6 553.9h0M175.9 615.7h0M77.2 593.8h0M335.2 546.9h0M226.2 576.1h0M119.7 564.3h0M112.7 599.8h0M74.0 564.4h0M287.9 593.8h0M292.0 587.6h0M235.1 593.1h0M97.5 547.0h0M185.2 565.1h0M351.6 599.4h0M123.6 548.2h0M275.2 559.3h0M340.4 547.9h0M295.3 582.4h0M192.4 587.7h0M77.1 558.4h0M195.7 547.4h0M360.2 615.9h0M221.9 547.6h0M284.5 576.1h0M249.2 547.9h0M156.5 582.2h0M354.5 558.8h0M285.1 553.4h0M251.7 588.2h0M162.9 559.6h0M110.4 604.7h0M100.5 553.2h0M301.3 581.8h0M354.7 593.1h0M245.0 587.4h0M219.4 565.0h0M225.5 599.8h0M218.5 610.7h0M176.1 592.9h0M96.6 616.7h0M318.2 588.4h0M294.3 558.3h0M231.7 552.4h0M173.4 588.4h0M284.5 610.6h0M351.5 587.1h0M156.8 570.6h0M70.7 547.4h0M57.3 559.7h0M269.2 570.9h0M209.8 548.0h0M73.4 610.5h0M53.9 576.6h0M298.6 598.8h0M241.8 570.2h0M63.7 604.2h0M348.1 558.6h0M235.0 605.7h0M239.4 610.9h0M314.7 615.7h0M166.0 577.0h0M143.6 582.3h0M361.0 582.0h0M60.5 552.5h0M192.2 554.0h0M321.9 559.2h0M338.6 575.9h0M133.2 587.0h0M344.8 564.1h0M96.1 592.7h0M50.4 559.0h0M331.0 564.9h0M224.8 564.2h0M142.8 617.1h0M216.5 559.1h0M178.6 598.5h0M133.3 564.8h0M58.0 604.2h0M262.6 559.3h0M54.7 564.7h0M163.1 582.5h0M149.0 616.8h0M297.7 576.0h0M264.8 565.2h0M327.8 559.6h0M344.8 577.0h0M317.3 565.2h0M159.2 564.4h0M86.5 564.2h0M70.9 559.3h0M129.3 616.0h0M265.6 576.2h0M156.4 604.2h0M57.0 582.4h0M294.6 616.0h0M103.6 615.8h0M70.6 581.9h0M262.6 615.7h0M155.6 593.3h0M63.2 570.4h0M215.6 605.4h0M195.3 593.2h0M218.8 576.8h0M139.8 576.3h0M186.8 587.4h0M196.1 559.1h0M258.7 553.4h0M137.0 559.3h0M357.2 553.9h0M61.3 609.9h0M348.2 593.5h0M288.5 570.6h0M66.5 609.9h0M209.7 570.0h0M244.7 610.2h0M262.6 581.9h0M162.4 616.3h0M244.9 576.1h0M275.3 593.4h0M77.0 581.6h0M109.8 616.8h0M271.6 553.8h0M90.7 558.7h0M178.9 610.2h0M340.6 616.0h0M122.8 570.9h0M308.0 604.7h0M344.9 587.6h0M264.7 553.3h0M256.0 615.8h0M203.0 548.0h0M301.7 558.3h0M110.1 582.0h0M340.7 570.4h0M51.4 570.7h0M324.5 553.7h0M330.8 610.5h0M96.3 570.6h0M314.7 582.0h0M308.7 594.0h0M251.7 564.8h0M130.4 593.7h0M73.2 587.6h0M180.1 565.2h0M83.8 546.8h0M258.3 575.7h0M208.5 582.2h0M159.4 588.4h0M272.3 564.0h0M127.1 598.6h0M116.4 582.4h0M114.1 588.0h0M50.2 582.7h0M149.7 604.3h0M271.8 576.2h0M93.9 587.3h0M153.7 599.3h0M198.6 564.2h0M54.1 610.8h0M241.9 604.9h0M307.4 570.6h0M51.1 547.5h0M140.5 552.9h0M211.7 610.8h0M139.3 598.8h0M323.9 587.5h0M83.3 581.4h0M139.5 609.9h0M315.0 605.4h0M209.4 558.5h0M350.5 552.9h0M103.0 593.7h0M50.0 616.2h0M272.0 599.9h0M143.6 571.0h0M334.1 571.2h0M63.4 594.1h0M225.5 588.2h0M165.7 610.5h0M100.2 576.1h0M166.4 553.0h0M278.5 553.2h0M53.3 553.7h0M228.3 582.6h0M341.3 593.7h0M219.6 598.5h0M337.2 599.9h0M294.9 571.1h0M159.1 599.4h0M169.5 558.3h0M301.6 547.2h0M133.6 610.8h0M279.0 588.1h0M281.7 559.0h0M186.0 552.6h0M238.3 553.0h0M268.0 582.0h0M292.0 553.6h0M173.1 599.9h0M162.8 605.3h0M123.7 559.1h0M129.5 582.4h0M179.3 587.9h0M73.0 598.7h0M330.8 576.2h0M116.1 571.0h0M304.5 611.3h0M305.1 575.9h0M212.6 576.7h0M285.2 599.0h0M278.5 575.5h0M86.9 599.3h0M84.5 593.4h0M84.0 616.7h0M189.2 547.1h0M120.1 599.1h0M149.8 548.1h0M311.5 587.7h0M87.7 610.3h0M215.4 548.0h0M93.4 575.8h0M337.3 588.0h0M203.1 569.9h0M106.5 553.2h0M265.0 610.2h0M107.1 576.4h0M130.5 558.8h0M331.3 553.8h0M347.2 570.4h0M241.8 547.3h0M90.4 548.2h0M215.8 593.4h0M104.1 570.3h0M317.4 575.6h0M334.5 604.9h0M107.2 587.7h0M67.6 598.6h0M205.7 587.3h0M185.3 599.6h0M221.6 558.9h0M198.7 553.4h0M361.1 558.9h0M165.9 587.0h0M228.4 548.0h0M304.3 598.8h0M93.8 599.1h0M201.8 616.8h0M106.9 598.5h0M308.7 617.2h0M117.2 615.6h0M96.7 604.6h0M195.9 604.4h0M347.7 547.1h0M327.7 582.0h0M297.8 588.4h0M51.2 593.4h0M317.8 553.1h0M308.2 547.2h0M188.6 559.0h0M125.8 610.0h0M322.0 581.5h0M268.1 558.5h0M337.6 552.6h0M275.2 615.9h0M153.0 610.2h0M259.2 564.9h0M57.5 594.0h0M282.4 548.1h0M294.2 547.8h0M103.4 548.1h0M110.6 594.1h0M321.8 594.1h0" stroke="#30266e" stroke-width="4.7" stroke-linecap="round" fill="none"/>
<rect x="54" y="621" width="303" height="34" fill="#e49bd7"/>
<rect x="54" y="637.5" width="303" height="17.5" fill="#f0b9e6" opacity="0.75"/>
<path d="M52.3 638.6h0M58.0 638.6h0M71.4 637.8h0M74.7 636.3h0M76.7 637.1h0M95.6 638.3h0M103.2 636.6h0M109.1 637.5h0M111.9 637.8h0M121.3 636.5h0M129.7 637.7h0M152.6 637.8h0M157.4 637.3h0M173.8 637.7h0M176.5 637.5h0M180.8 637.8h0M187.0 636.1h0M191.6 638.5h0M198.5 636.4h0M203.0 637.4h0M209.6 637.6h0M211.6 637.6h0M218.6 638.2h0M220.1 637.8h0M227.4 637.5h0M263.8 637.7h0M271.4 638.2h0M281.6 636.5h0M283.0 638.6h0M285.9 636.1h0M290.3 637.6h0M301.7 637.9h0M304.8 637.9h0M319.4 636.9h0M323.0 638.6h0M327.3 637.1h0M333.8 636.2h0M352.0 636.9h0M357.3 636.4h0M57.7 639.0h0M60.9 640.7h0M71.8 640.2h0M79.0 640.8h0M85.9 639.6h0M97.1 639.3h0M107.9 641.2h0M124.0 639.6h0M125.8 639.8h0M133.0 638.9h0M152.4 641.0h0M156.2 639.6h0M160.8 639.3h0M170.9 639.6h0M172.9 640.6h0M187.0 640.6h0M190.8 640.2h0M194.8 640.5h0M204.5 641.0h0M220.2 640.5h0M233.9 640.2h0M255.4 638.7h0M257.8 641.3h0M267.4 641.1h0M281.2 641.2h0M284.6 638.7h0M296.8 639.5h0M309.0 638.9h0M318.9 640.2h0M320.8 639.4h0M330.3 639.1h0M342.4 640.7h0M345.6 639.2h0M63.6 641.8h0M67.6 643.6h0M82.4 642.1h0M95.0 642.8h0M108.7 641.9h0M112.5 643.5h0M115.5 643.0h0M125.1 642.3h0M143.3 643.1h0M147.7 642.9h0M151.8 642.6h0M155.4 643.3h0M156.3 641.9h0M160.7 643.6h0M173.3 642.7h0M178.0 642.7h0M180.7 641.5h0M189.7 643.2h0M195.4 643.2h0M206.7 641.5h0M220.1 641.5h0M226.7 643.0h0M229.5 642.5h0M234.9 641.4h0M241.8 642.9h0M244.9 642.3h0M247.7 643.6h0M255.5 641.6h0M269.3 641.9h0M281.6 642.7h0M293.6 641.9h0M298.6 641.3h0M328.3 643.9h0M331.1 642.0h0M343.9 641.8h0M353.1 642.4h0M57.0 644.4h0M73.0 645.7h0M80.7 645.1h0M89.2 645.2h0M99.4 644.4h0M113.8 644.9h0M117.2 644.1h0M127.9 644.7h0M153.7 646.0h0M177.7 645.0h0M217.0 644.3h0M217.9 645.1h0M222.5 645.0h0M226.1 644.7h0M243.1 644.6h0M245.1 644.3h0M248.9 644.3h0M252.1 645.4h0M255.2 644.8h0M261.1 646.1h0M263.8 645.5h0M266.3 646.4h0M273.2 644.6h0M282.5 645.7h0M284.6 644.7h0M287.3 646.3h0M291.7 646.3h0M294.3 644.7h0M298.9 644.5h0M309.5 643.9h0M328.0 645.4h0M335.8 645.4h0M344.0 644.8h0M354.2 644.3h0M357.4 644.3h0M52.8 648.1h0M57.3 648.0h0M69.2 648.3h0M73.4 647.3h0M75.6 646.5h0M78.2 647.6h0M82.1 646.7h0M95.1 648.8h0M100.2 647.3h0M104.5 648.4h0M106.3 647.7h0M108.6 648.3h0M116.3 647.8h0M123.5 647.7h0M128.6 646.8h0M136.8 648.8h0M138.8 648.3h0M142.0 646.9h0M150.4 648.7h0M156.5 648.5h0M160.6 648.8h0M163.5 647.7h0M176.0 647.8h0M182.8 648.5h0M205.4 647.6h0M210.6 647.4h0M215.1 647.3h0M217.4 647.7h0M227.5 646.7h0M255.4 648.7h0M258.6 648.0h0M262.8 648.5h0M275.7 647.8h0M276.6 647.9h0M282.7 647.4h0M291.2 649.0h0M301.9 646.7h0M306.7 648.2h0M311.5 646.6h0M314.8 648.5h0M315.5 648.2h0M318.4 648.8h0M325.7 647.7h0M340.0 648.9h0M353.0 647.8h0M356.4 646.8h0M357.4 646.9h0M54.9 651.3h0M61.8 649.4h0M68.0 650.0h0M71.8 650.5h0M76.0 649.6h0M84.8 650.0h0M86.8 649.1h0M88.9 649.2h0M102.7 651.4h0M108.5 651.3h0M111.9 651.1h0M113.3 651.2h0M116.5 649.3h0M121.9 650.9h0M139.1 649.2h0M141.4 649.9h0M175.1 650.5h0M180.1 651.5h0M200.1 651.1h0M203.5 649.5h0M218.7 650.8h0M223.9 651.5h0M239.9 651.6h0M244.2 649.6h0M248.5 651.1h0M273.6 650.8h0M279.2 651.4h0M282.2 650.9h0M284.1 651.3h0M302.9 651.0h0M311.1 650.6h0M317.7 650.9h0M320.7 650.1h0M336.3 651.0h0M51.9 652.7h0M58.1 652.3h0M73.4 652.0h0M88.7 652.1h0M91.8 652.5h0M94.7 651.8h0M103.3 652.5h0M107.6 653.3h0M109.6 652.2h0M116.0 652.4h0M124.8 653.6h0M141.4 652.1h0M144.8 651.8h0M151.0 654.2h0M153.7 652.8h0M157.1 653.8h0M168.8 652.2h0M186.4 652.0h0M189.5 653.6h0M195.8 652.5h0M199.5 653.2h0M214.8 653.4h0M222.9 653.7h0M232.8 652.7h0M239.2 653.7h0M240.7 653.5h0M250.1 653.2h0M262.3 652.7h0M266.5 653.5h0M275.3 652.8h0M288.6 651.9h0M308.8 653.8h0M319.6 654.0h0M323.3 652.5h0M332.6 652.5h0M334.6 653.8h0M340.8 652.0h0M345.5 653.4h0M353.3 653.0h0" stroke="#f8dcf3" stroke-width="1.4" stroke-linecap="round" fill="none" stroke-opacity="0.8"/>
<path d="M52.0 654.2 L62.2 654.4 L72.5 654.1 L82.7 654.2 L92.9 654.7 L103.2 655.1 L113.4 654.8 L123.6 653.9 L133.9 653.5 L144.1 653.7 L154.3 653.9 L164.6 653.4 L174.8 652.9 L185.0 653.1 L195.3 654.0 L205.5 654.6 L215.7 654.5 L226.0 654.2 L236.2 654.4 L246.4 655.0 L256.7 654.9 L266.9 654.2 L277.1 653.4 L287.4 653.4 L297.6 653.7 L307.8 653.7 L318.1 653.2 L328.3 653.0 L338.5 653.7 L348.8 654.5 L359.0 654.7 L359.0 667.2 L348.8 666.7 L338.5 666.0 L328.3 665.9 L318.1 666.1 L307.8 666.0 L297.6 665.3 L287.4 664.8 L277.1 665.2 L266.9 665.9 L256.7 666.2 L246.4 666.0 L236.2 666.0 L226.0 666.6 L215.7 667.1 L205.5 667.0 L195.3 666.2 L185.0 665.7 L174.8 665.8 L164.6 666.0 L154.3 665.6 L144.1 664.9 L133.9 664.9 L123.6 665.7 L113.4 666.3 L103.2 666.3 L92.9 666.1 L82.7 666.3 L72.5 666.9 L62.2 667.1 L52.0 666.5Z" fill="#3e2a2a"/>
<path d="M57.3 655.7h0M59.6 655.9h0M62.9 655.5h0M65.2 655.1h0M66.9 656.1h0M69.0 655.5h0M72.5 654.2h0M74.2 655.2h0M78.3 654.8h0M83.9 655.4h0M86.8 655.8h0M90.4 655.9h0M97.6 655.5h0M100.4 655.9h0M106.3 655.3h0M115.1 656.1h0M117.8 655.7h0M122.0 654.6h0M126.6 655.0h0M133.7 654.8h0M137.0 655.2h0M138.9 655.1h0M144.5 655.4h0M151.8 656.1h0M158.4 655.6h0M165.4 655.2h0M174.8 655.1h0M185.4 654.4h0M188.0 655.0h0M189.4 655.2h0M192.2 655.4h0M194.7 656.1h0M199.3 656.1h0M201.7 654.8h0M203.8 656.1h0M205.5 655.7h0M207.9 654.4h0M231.1 656.1h0M232.9 654.5h0M243.0 656.1h0M244.1 655.6h0M257.7 655.5h0M259.7 655.8h0M261.4 655.2h0M273.1 655.1h0M280.7 654.5h0M290.2 655.5h0M297.5 655.6h0M300.9 655.0h0M306.4 654.7h0M311.5 655.2h0M321.6 655.3h0M323.3 656.0h0M328.3 654.3h0M330.7 656.1h0M333.0 655.3h0M338.9 654.9h0M345.2 655.3h0M347.2 654.4h0M354.2 656.1h0M358.3 655.6h0M66.3 657.7h0M69.3 658.2h0M71.1 657.8h0M82.4 658.0h0M84.6 656.7h0M87.6 657.7h0M94.4 656.8h0M105.0 657.5h0M106.5 657.2h0M119.4 657.2h0M123.0 656.4h0M125.0 657.6h0M130.6 658.1h0M135.4 657.5h0M142.4 656.4h0M149.3 658.1h0M157.2 657.2h0M162.0 657.5h0M167.1 658.2h0M168.5 656.3h0M175.7 657.2h0M179.6 656.3h0M186.4 658.0h0M192.7 657.9h0M200.0 657.7h0M203.4 657.1h0M209.1 657.1h0M215.5 657.0h0M216.3 656.6h0M222.8 656.9h0M227.5 657.4h0M231.4 658.0h0M241.8 658.1h0M243.2 657.3h0M253.6 657.0h0M254.7 656.6h0M273.8 656.7h0M280.0 656.9h0M286.3 657.9h0M293.7 657.6h0M297.9 657.9h0M301.4 657.5h0M306.7 657.9h0M311.1 658.2h0M320.2 656.7h0M323.2 656.6h0M324.7 658.0h0M330.5 658.0h0M342.1 657.4h0M343.9 657.7h0M357.3 657.5h0M357.9 657.0h0M67.5 659.3h0M71.0 658.5h0M73.4 659.2h0M77.5 659.5h0M89.7 658.9h0M93.7 659.0h0M98.4 658.8h0M100.7 660.2h0M102.9 659.4h0M107.7 659.4h0M111.0 658.6h0M123.2 660.1h0M124.6 658.7h0M128.0 659.2h0M139.0 658.9h0M143.3 658.6h0M148.7 660.1h0M152.8 659.7h0M158.5 659.9h0M160.4 659.8h0M163.4 659.8h0M165.7 659.9h0M175.2 658.9h0M179.9 659.3h0M187.0 659.8h0M193.7 659.7h0M213.5 660.0h0M221.0 659.1h0M228.9 659.2h0M233.2 658.5h0M235.7 659.2h0M237.6 660.1h0M239.7 660.2h0M246.7 659.2h0M269.5 659.6h0M275.3 658.4h0M279.4 660.4h0M286.3 660.2h0M289.9 659.1h0M295.4 660.3h0M299.6 659.0h0M307.5 658.5h0M312.8 659.5h0M316.5 658.7h0M321.1 658.7h0M326.9 659.7h0M333.3 658.9h0M335.3 659.9h0M338.5 658.7h0M346.1 659.8h0M348.4 659.4h0M352.1 659.6h0M354.3 658.7h0M53.3 660.9h0M59.5 660.8h0M61.6 661.5h0M73.0 661.3h0M75.8 661.5h0M82.3 660.7h0M92.8 662.1h0M95.6 661.9h0M97.1 661.5h0M99.1 662.3h0M102.0 661.9h0M107.0 662.1h0M110.0 661.9h0M123.0 660.5h0M126.9 660.6h0M128.8 661.8h0M132.2 661.7h0M136.3 660.6h0M142.2 660.5h0M149.6 660.8h0M152.4 661.2h0M159.3 662.3h0M168.7 661.6h0M170.9 660.6h0M176.4 661.1h0M192.3 660.8h0M197.9 661.1h0M199.9 661.3h0M202.3 660.5h0M205.6 661.6h0M209.7 661.4h0M212.6 660.9h0M226.0 662.0h0M228.4 662.1h0M231.4 661.2h0M237.0 661.8h0M240.4 661.2h0M248.6 661.6h0M253.8 661.7h0M265.9 661.0h0M267.3 661.2h0M269.7 660.6h0M274.0 661.5h0M277.1 660.7h0M280.3 660.8h0M281.2 660.5h0M288.9 660.6h0M298.8 662.4h0M304.2 662.2h0M308.0 662.0h0M310.3 662.2h0M322.5 661.0h0M326.1 661.8h0M331.9 662.3h0M335.2 661.1h0M340.1 662.0h0M341.2 662.4h0M343.6 661.4h0M346.2 661.6h0M349.8 660.7h0M351.6 662.4h0M356.6 661.8h0M358.0 662.4h0M53.6 663.9h0M72.9 662.8h0M76.3 662.9h0M78.6 662.7h0M82.1 663.8h0M85.4 664.3h0M89.6 663.1h0M91.7 664.5h0M94.5 662.7h0M96.8 663.2h0M109.9 663.9h0M113.6 663.3h0M116.6 663.5h0M123.9 664.3h0M127.0 662.7h0M130.5 663.7h0M131.9 664.0h0M134.9 664.0h0M144.9 663.5h0M146.1 664.4h0M150.6 662.8h0M152.8 664.3h0M163.4 663.5h0M170.2 662.7h0M172.2 662.7h0M175.6 662.6h0M181.0 664.5h0M182.6 662.9h0M198.8 662.7h0M204.2 663.1h0M207.3 662.7h0M208.6 663.2h0M212.1 663.7h0M213.1 663.9h0M216.7 664.5h0M221.2 663.4h0M225.9 664.0h0M238.4 664.0h0M239.1 663.3h0M246.2 663.8h0M249.0 664.4h0M255.1 664.0h0M257.5 663.8h0M263.9 663.8h0M268.0 664.2h0M276.9 662.8h0M277.7 663.0h0M285.2 664.1h0M287.8 662.7h0M292.7 664.0h0M295.5 663.8h0M299.5 664.4h0M307.2 663.5h0M320.2 662.7h0M330.7 663.6h0M335.8 664.5h0M337.7 663.3h0M342.5 662.6h0M345.2 663.7h0M353.7 664.3h0M65.6 665.6h0M73.1 665.9h0M79.5 666.1h0M94.2 665.6h0M99.7 665.4h0M102.6 665.7h0M115.0 666.4h0M120.5 665.2h0M126.0 664.8h0M128.1 666.1h0M131.5 666.3h0M132.3 665.1h0M135.7 665.5h0M151.0 664.8h0M153.3 666.2h0M155.2 664.8h0M159.1 665.2h0M173.2 664.9h0M179.6 665.6h0M185.8 664.7h0M188.5 664.8h0M190.7 665.2h0M192.7 666.5h0M198.0 666.3h0M203.5 665.6h0M213.4 666.2h0M215.5 665.1h0M216.4 665.2h0M222.1 665.8h0M229.4 666.3h0M233.1 666.3h0M241.6 666.1h0M248.9 665.5h0M251.5 666.4h0M252.5 665.9h0M255.9 665.1h0M258.5 665.0h0M270.5 665.9h0M274.7 666.6h0M277.4 666.3h0M280.0 665.6h0M281.6 664.7h0M285.9 665.5h0M289.8 666.1h0M291.1 665.4h0M293.9 666.5h0M296.7 665.4h0M306.2 665.7h0M308.5 665.7h0M315.3 666.3h0M318.0 665.5h0M319.5 666.2h0M323.1 665.5h0M332.1 665.7h0M335.7 665.2h0M339.2 666.0h0M342.2 666.1h0M347.2 664.9h0M359.3 665.3h0" stroke="#74505a" stroke-width="1.8" stroke-linecap="round" fill="none" stroke-opacity="0.85"/>
<rect x="54" y="666" width="303" height="6" fill="#efcdeb"/>
<path d="M58.7 670.8h0M98.3 670.3h0M122.7 670.3h0M153.1 671.6h0M164.0 671.7h0M178.2 668.6h0M187.4 669.7h0M200.5 671.1h0M297.6 668.7h0M347.9 670.6h0M353.8 670.8h0" stroke="#8d6fbf" stroke-width="3.0" stroke-linecap="round" fill="none" stroke-opacity="0.8"/>
</g>
<rect x="54" y="375" width="303" height="27" filter="url(#grain)" opacity="0.38"/>
<rect x="54" y="402" width="303" height="66" filter="url(#grain)" opacity="0.38"/>
<rect x="54" y="527" width="303" height="16" filter="url(#grain)" opacity="0.38"/>
<rect x="54" y="621" width="303" height="33" filter="url(#grain)" opacity="0.38"/>
</g>
<clipPath id="hc3"><rect x="364" y="371" width="303" height="300"/></clipPath>
<g clip-path="url(#hc3)"><g filter="url(#hblur)">
<rect x="364" y="371" width="303" height="300" fill="#e5a1d7"/>
<rect x="364" y="371" width="303" height="19" fill="#f5eff5"/>
<rect x="364" y="389" width="303" height="28" fill="#efd2ec"/>
<path d="M366.7 390.8h0M373.5 390.9h0M381.3 390.5h0M397.1 391.1h0M401.1 391.2h0M405.7 389.5h0M411.3 390.6h0M415.3 392.1h0M417.8 390.0h0M436.8 391.8h0M447.1 390.0h0M450.4 389.9h0M456.7 389.6h0M462.0 391.0h0M465.8 392.5h0M474.6 390.7h0M480.4 391.7h0M491.6 391.4h0M494.0 392.0h0M507.0 391.2h0M509.7 392.2h0M519.1 390.5h0M525.6 391.0h0M531.3 391.8h0M541.6 389.6h0M554.9 391.6h0M562.3 389.9h0M566.7 390.4h0M576.7 389.6h0M585.5 392.2h0M589.9 391.6h0M595.5 392.2h0M601.4 390.2h0M604.6 392.1h0M615.4 391.1h0M623.0 389.8h0M626.1 391.6h0M631.0 390.4h0M639.1 391.7h0M640.5 390.7h0M659.3 390.5h0M660.6 390.1h0M664.9 389.4h0M369.6 395.9h0M377.4 393.7h0M381.1 394.4h0M388.6 393.2h0M393.4 395.6h0M411.7 394.2h0M417.3 394.4h0M427.7 394.3h0M456.3 394.5h0M479.4 394.2h0M495.6 393.1h0M503.5 394.1h0M508.1 395.1h0M523.4 393.5h0M535.5 394.0h0M548.7 396.1h0M555.4 393.8h0M577.2 392.9h0M578.8 396.0h0M589.1 393.2h0M609.0 394.1h0M611.8 394.9h0M638.9 393.6h0M649.2 395.6h0M668.5 393.5h0M362.4 399.0h0M364.5 398.0h0M370.5 396.6h0M374.6 397.9h0M378.1 398.0h0M381.8 398.0h0M391.0 399.4h0M392.9 397.3h0M397.8 398.4h0M401.7 397.2h0M405.0 399.4h0M408.5 397.9h0M424.7 399.0h0M437.4 399.1h0M440.5 397.4h0M446.8 396.9h0M454.9 399.3h0M460.5 396.9h0M467.3 398.0h0M469.3 397.5h0M476.8 398.3h0M482.1 398.4h0M488.9 399.3h0M505.8 397.9h0M512.7 396.6h0M521.1 397.5h0M543.0 398.1h0M545.4 397.8h0M550.2 398.8h0M557.4 396.5h0M560.8 397.8h0M586.8 397.4h0M597.6 399.5h0M607.4 398.6h0M620.6 398.2h0M625.3 399.2h0M661.6 398.4h0M666.4 398.2h0M368.2 401.5h0M380.0 401.6h0M389.3 400.2h0M411.5 402.2h0M416.8 400.0h0M431.3 400.9h0M436.6 400.2h0M455.8 402.3h0M462.9 400.5h0M487.4 402.3h0M495.9 400.4h0M500.7 401.8h0M503.9 399.9h0M509.0 402.9h0M516.2 400.6h0M521.3 402.8h0M527.0 402.9h0M540.7 402.4h0M546.8 400.6h0M561.0 400.5h0M564.5 401.8h0M592.6 401.0h0M596.0 402.1h0M601.3 400.5h0M604.5 400.2h0M624.3 401.3h0M628.9 401.7h0M631.9 403.0h0M654.8 400.5h0M668.3 401.5h0M365.2 403.3h0M370.6 406.2h0M374.3 405.4h0M393.7 405.1h0M400.9 403.9h0M408.7 404.5h0M415.2 404.7h0M418.3 404.3h0M425.7 403.5h0M428.4 404.3h0M434.5 405.0h0M454.2 406.5h0M464.9 404.7h0M468.9 403.8h0M474.7 405.7h0M477.7 406.4h0M489.2 404.9h0M501.0 403.8h0M505.4 406.0h0M531.4 405.2h0M536.6 405.3h0M543.3 406.1h0M548.6 403.6h0M555.5 405.6h0M577.2 405.1h0M582.5 404.5h0M593.2 405.9h0M603.0 403.6h0M607.0 405.5h0M617.3 404.9h0M631.6 404.4h0M635.3 404.8h0M639.3 403.8h0M642.8 404.5h0M651.4 406.4h0M659.3 405.5h0M664.6 406.3h0M670.9 406.5h0M363.5 408.2h0M372.0 409.5h0M377.1 407.8h0M381.4 407.4h0M388.5 407.2h0M396.3 408.6h0M416.5 408.9h0M421.4 407.2h0M424.6 408.5h0M432.8 409.2h0M445.5 408.5h0M455.5 408.4h0M459.4 407.7h0M467.4 407.5h0M475.6 409.0h0M499.2 409.0h0M523.5 409.2h0M526.8 408.5h0M553.1 409.7h0M555.2 409.1h0M558.7 409.1h0M565.1 409.2h0M578.8 407.9h0M599.2 409.2h0M613.1 409.2h0M620.9 409.8h0M623.2 408.9h0M631.3 408.8h0M644.9 407.4h0M658.7 409.8h0M361.0 410.3h0M365.7 412.0h0M372.6 412.9h0M386.5 412.2h0M396.8 412.5h0M402.6 410.5h0M411.4 412.5h0M424.5 411.8h0M433.1 411.2h0M436.9 411.8h0M443.4 412.2h0M459.2 411.2h0M461.5 412.6h0M467.5 413.0h0M475.1 411.4h0M484.5 413.1h0M507.5 412.7h0M510.6 410.3h0M516.9 413.2h0M537.6 410.9h0M543.0 412.6h0M545.7 411.2h0M566.5 412.5h0M580.8 413.1h0M588.8 411.8h0M605.1 413.4h0M625.3 411.6h0M643.2 410.4h0M644.8 412.1h0M648.8 410.5h0M652.7 411.8h0M658.0 410.9h0M369.0 416.6h0M372.7 414.3h0M379.0 415.4h0M387.9 413.9h0M398.5 416.7h0M403.9 416.1h0M410.4 414.1h0M418.7 415.1h0M425.6 416.4h0M430.8 416.2h0M441.0 416.7h0M443.6 413.9h0M480.3 416.4h0M482.6 414.8h0M487.1 416.9h0M500.8 413.9h0M504.2 416.4h0M510.9 413.9h0M516.1 414.1h0M524.5 415.5h0M539.8 416.4h0M543.7 414.5h0M549.0 414.1h0M556.1 415.3h0M564.4 416.9h0M567.8 415.8h0M577.2 416.8h0M584.8 416.8h0M587.1 416.8h0M596.0 416.2h0M608.6 415.6h0M611.6 415.1h0M615.1 414.5h0M621.6 414.2h0M626.7 417.0h0M634.6 415.9h0M639.0 416.3h0M646.9 414.1h0M652.1 414.8h0M662.9 413.8h0" stroke="#f8e4f4" stroke-width="2.4" stroke-linecap="round" fill="none" stroke-opacity="0.9"/>
<path d="M370.8 403.5h0M383.2 407.6h0M382.7 398.0h0M394.6 407.0h0M406.9 404.1h0M431.7 403.7h0M432.3 396.9h0M442.0 403.3h0M443.8 397.4h0M454.0 407.7h0M464.5 408.1h0M475.4 407.1h0M475.3 396.1h0M487.3 408.1h0M488.3 396.6h0M498.3 404.9h0M510.7 404.1h0M521.0 403.2h0M531.7 406.0h0M545.9 404.9h0M557.5 402.6h0M569.0 405.4h0M581.9 396.6h0M594.0 408.1h0M607.0 407.3h0M606.6 396.5h0M617.9 403.8h0M640.8 403.2h0M652.3 397.6h0M665.7 404.6h0M665.0 396.7h0" stroke="#f6e6f3" stroke-width="12.5" stroke-linecap="round" fill="none" stroke-opacity="0.7"/>
<path d="M370.8 403.5h0M383.2 407.6h0M382.7 398.0h0M394.6 407.0h0M406.9 404.1h0M431.7 403.7h0M432.3 396.9h0M442.0 403.3h0M443.8 397.4h0M454.0 407.7h0M464.5 408.1h0M475.4 407.1h0M475.3 396.1h0M487.3 408.1h0M488.3 396.6h0M498.3 404.9h0M510.7 404.1h0M521.0 403.2h0M531.7 406.0h0M545.9 404.9h0M557.5 402.6h0M569.0 405.4h0M581.9 396.6h0M594.0 408.1h0M607.0 407.3h0M606.6 396.5h0M617.9 403.8h0M640.8 403.2h0M652.3 397.6h0M665.7 404.6h0M665.0 396.7h0" stroke="#6e5ca2" stroke-width="10.4" stroke-linecap="round" fill="none"/>
<path d="M370.8 403.5h0M383.2 407.6h0M382.7 398.0h0M394.6 407.0h0M406.9 404.1h0M431.7 403.7h0M432.3 396.9h0M442.0 403.3h0M443.8 397.4h0M454.0 407.7h0M464.5 408.1h0M475.4 407.1h0M475.3 396.1h0M487.3 408.1h0M488.3 396.6h0M498.3 404.9h0M510.7 404.1h0M521.0 403.2h0M531.7 406.0h0M545.9 404.9h0M557.5 402.6h0M569.0 405.4h0M581.9 396.6h0M594.0 408.1h0M607.0 407.3h0M606.6 396.5h0M617.9 403.8h0M640.8 403.2h0M652.3 397.6h0M665.7 404.6h0M665.0 396.7h0" stroke="#9882c4" stroke-width="7.8" stroke-linecap="round" fill="none"/>
<path d="M370.8 403.5h0M383.2 407.6h0M382.7 398.0h0M394.6 407.0h0M406.9 404.1h0M431.7 403.7h0M432.3 396.9h0M442.0 403.3h0M443.8 397.4h0M454.0 407.7h0M464.5 408.1h0M475.4 407.1h0M475.3 396.1h0M487.3 408.1h0M488.3 396.6h0M498.3 404.9h0M510.7 404.1h0M521.0 403.2h0M531.7 406.0h0M545.9 404.9h0M557.5 402.6h0M569.0 405.4h0M581.9 396.6h0M594.0 408.1h0M607.0 407.3h0M606.6 396.5h0M617.9 403.8h0M640.8 403.2h0M652.3 397.6h0M665.7 404.6h0M665.0 396.7h0" stroke="#5a4690" stroke-width="2.2" stroke-linecap="round" fill="none"/>
<rect x="364" y="416" width="303" height="66" fill="#e5a1d7"/>
<path d="M362.8 418.2h0M364.5 417.4h0M373.7 419.1h0M379.4 417.3h0M381.6 417.4h0M392.6 416.7h0M400.0 416.8h0M434.4 418.8h0M442.0 417.1h0M456.9 419.2h0M480.0 418.4h0M482.2 418.6h0M494.9 417.2h0M499.0 418.4h0M530.8 419.6h0M533.1 418.6h0M538.8 419.6h0M541.7 418.7h0M559.6 417.0h0M562.9 418.1h0M572.4 417.6h0M581.2 418.5h0M600.9 418.4h0M617.3 416.9h0M621.8 417.3h0M632.1 418.8h0M635.8 417.8h0M640.0 418.9h0M649.0 417.8h0M656.8 418.6h0M664.2 416.9h0M669.2 417.4h0M375.0 421.9h0M381.8 420.4h0M402.4 422.0h0M447.4 421.1h0M453.2 422.1h0M461.4 422.1h0M469.9 421.1h0M474.4 420.3h0M516.3 420.2h0M541.7 421.8h0M549.9 421.4h0M561.9 421.9h0M578.4 421.6h0M593.4 420.3h0M599.3 420.4h0M619.3 422.0h0M633.8 420.9h0M641.8 423.1h0M667.7 420.7h0M670.2 420.5h0M362.8 425.0h0M373.6 426.9h0M383.1 426.6h0M388.2 426.8h0M391.3 425.4h0M397.1 425.8h0M417.3 425.1h0M445.3 426.7h0M459.2 423.8h0M500.5 424.8h0M510.0 424.2h0M517.3 425.8h0M521.8 424.7h0M528.8 425.1h0M534.9 425.6h0M555.9 426.5h0M558.7 425.9h0M562.5 424.5h0M568.3 425.7h0M577.5 424.0h0M592.0 426.9h0M602.8 424.6h0M614.6 425.1h0M625.0 426.6h0M629.8 426.6h0M644.8 425.0h0M362.8 429.6h0M381.7 429.1h0M396.8 428.1h0M402.2 427.5h0M413.7 429.8h0M417.8 430.0h0M422.4 428.1h0M426.7 428.7h0M434.0 429.5h0M447.4 427.7h0M463.2 430.3h0M472.6 427.7h0M478.1 428.1h0M480.7 429.9h0M492.7 429.4h0M497.2 429.3h0M507.2 428.9h0M510.5 430.5h0M548.8 429.2h0M552.6 428.7h0M565.6 429.7h0M572.5 429.4h0M595.8 427.6h0M602.1 428.1h0M607.4 428.1h0M613.2 429.7h0M615.5 428.4h0M634.3 429.9h0M650.2 427.8h0M661.3 428.6h0M666.8 429.4h0M365.6 431.4h0M375.6 432.1h0M377.3 433.6h0M386.8 431.6h0M391.4 432.4h0M396.3 431.1h0M432.3 432.9h0M438.8 433.7h0M441.5 433.0h0M455.5 433.9h0M463.9 431.3h0M479.0 433.2h0M505.5 433.6h0M525.1 433.0h0M533.4 431.7h0M546.6 433.9h0M550.4 434.2h0M559.1 431.6h0M562.2 431.4h0M581.2 432.3h0M595.8 432.2h0M614.5 432.3h0M621.3 431.5h0M625.0 433.9h0M635.7 431.9h0M663.4 431.5h0M375.9 436.0h0M380.8 436.5h0M390.4 436.0h0M414.1 436.6h0M419.0 436.6h0M430.0 437.8h0M438.2 437.3h0M442.9 436.4h0M450.8 435.7h0M463.8 436.1h0M468.4 437.1h0M490.9 435.8h0M501.3 436.3h0M511.2 437.5h0M531.1 437.6h0M535.7 436.5h0M552.6 437.0h0M560.5 437.0h0M579.1 436.6h0M589.5 435.3h0M595.8 436.9h0M597.7 435.9h0M624.6 437.4h0M629.0 435.8h0M651.2 437.5h0M669.8 435.1h0" stroke="#f4cdef" stroke-width="2.2" stroke-linecap="round" fill="none" stroke-opacity="0.8"/>
<path d="M365.1 416.7h0M371.5 418.2h0M395.2 418.4h0M420.0 418.2h0M446.8 416.6h0M450.9 416.4h0M456.3 416.2h0M469.0 418.2h0M476.9 417.2h0M484.7 417.2h0M486.5 416.9h0M491.6 417.8h0M502.3 416.4h0M514.0 419.0h0M536.5 417.2h0M538.8 417.5h0M541.4 418.7h0M547.7 417.5h0M555.8 418.9h0M559.6 417.8h0M568.0 417.6h0M581.0 416.7h0M583.8 416.7h0M585.5 418.8h0M592.0 417.6h0M608.6 416.6h0M638.7 417.7h0M643.3 416.9h0M652.2 417.0h0M659.7 417.8h0M665.1 418.4h0M363.0 421.1h0M367.8 421.1h0M390.3 419.2h0M401.4 420.4h0M412.5 420.7h0M419.2 421.1h0M422.9 420.1h0M457.4 419.2h0M502.2 419.7h0M503.7 420.9h0M518.8 419.2h0M526.8 419.1h0M547.7 419.0h0M556.4 421.4h0M565.7 419.7h0M582.4 420.6h0M588.1 419.7h0M599.7 421.6h0M617.1 420.3h0M642.0 419.1h0M657.4 420.7h0M661.8 419.9h0M664.3 421.5h0M393.1 423.1h0M419.1 423.8h0M424.4 423.9h0M432.4 424.4h0M439.6 424.4h0M445.7 423.7h0M459.7 424.4h0M460.6 422.1h0M474.2 424.5h0M490.8 422.7h0M500.7 422.4h0M505.8 421.9h0M509.9 422.9h0M538.7 422.8h0M549.2 422.9h0M555.3 424.0h0M582.1 423.2h0M589.5 422.6h0M593.7 421.9h0M595.8 422.0h0M598.4 422.9h0M622.6 422.9h0M649.8 423.3h0M670.2 424.1h0M370.1 425.8h0M383.5 426.7h0M395.8 425.0h0M405.1 425.2h0M421.1 427.0h0M428.6 427.0h0M466.9 425.1h0M503.7 425.2h0M529.9 426.6h0M545.2 427.3h0M584.1 426.2h0M594.0 425.8h0M614.0 425.1h0M631.8 427.3h0M648.9 426.7h0M371.7 428.0h0M374.2 428.3h0M379.0 427.4h0M397.9 428.9h0M406.6 428.4h0M410.9 429.0h0M414.3 427.5h0M418.6 427.4h0M426.1 428.4h0M437.2 429.9h0M459.8 429.2h0M470.2 428.7h0M532.1 429.4h0M548.8 430.0h0M554.7 427.9h0M556.8 429.8h0M577.5 428.3h0M579.8 428.8h0M630.8 428.0h0M643.4 427.7h0M646.0 427.9h0M667.2 428.5h0M377.4 432.6h0M390.1 431.8h0M398.1 430.7h0M418.5 432.2h0M433.6 431.1h0M459.5 431.4h0M479.8 430.6h0M494.0 430.5h0M505.9 432.6h0M515.3 432.1h0M521.0 432.8h0M540.9 431.7h0M543.5 430.7h0M569.6 431.0h0M572.9 431.6h0M576.2 432.7h0M582.1 432.5h0M596.4 432.0h0M603.6 432.0h0M610.0 431.7h0M651.4 432.7h0M666.6 431.2h0M381.3 434.3h0M386.7 434.2h0M421.3 435.6h0M423.7 434.0h0M432.5 434.5h0M440.2 433.3h0M448.0 433.5h0M461.4 435.3h0M466.1 434.5h0M487.9 435.3h0M497.4 434.6h0M499.4 433.7h0M503.0 435.5h0M510.6 435.1h0M519.4 433.8h0M523.7 434.7h0M538.1 435.0h0M545.4 433.2h0M588.5 433.5h0M620.6 433.0h0M626.2 433.1h0M640.2 433.6h0M645.9 433.8h0M650.9 434.2h0M654.1 435.4h0M655.9 433.0h0M383.6 436.4h0M388.8 436.6h0M406.8 436.1h0M409.8 436.3h0M443.5 438.1h0M446.4 437.4h0M455.4 437.6h0M465.4 437.4h0M469.6 437.1h0M487.9 437.1h0M510.2 436.4h0M523.3 437.1h0M526.1 437.2h0M541.1 437.4h0M555.3 437.7h0M587.2 436.9h0M591.4 438.5h0M593.5 437.2h0M616.0 438.3h0M626.0 436.4h0M642.2 437.9h0M645.9 436.1h0M654.2 438.3h0M660.6 436.2h0M665.4 437.9h0M374.1 440.0h0M378.2 441.3h0M393.8 439.0h0M401.6 439.6h0M430.9 438.6h0M436.0 441.0h0M439.8 440.3h0M448.4 438.7h0M455.6 440.3h0M461.1 440.6h0M471.5 439.9h0M476.3 440.7h0M490.9 440.4h0M495.0 438.5h0M499.8 440.1h0M512.6 441.1h0M515.0 440.0h0M520.3 441.1h0M526.8 440.7h0M538.1 440.7h0M540.5 439.4h0M545.1 440.5h0M603.3 440.8h0M633.1 440.0h0M639.4 440.9h0M659.5 440.0h0M662.8 439.8h0M669.1 440.4h0M398.9 442.4h0M402.5 443.4h0M424.8 442.0h0M440.3 443.0h0M442.8 444.0h0M465.6 443.7h0M472.1 443.5h0M483.7 441.8h0M490.7 442.5h0M495.3 443.2h0M508.6 441.5h0M527.2 442.7h0M538.1 443.5h0M543.0 443.1h0M556.2 441.9h0M591.8 443.2h0M608.1 441.8h0M614.3 442.3h0M627.7 442.6h0M635.3 443.3h0M643.1 443.8h0M664.2 442.4h0M667.6 443.8h0M369.9 444.1h0M400.6 444.9h0M409.1 444.7h0M416.6 445.6h0M435.1 444.1h0M441.6 444.3h0M460.8 446.0h0M489.6 444.9h0M521.7 446.8h0M526.8 444.2h0M540.8 445.6h0M558.7 446.1h0M579.8 446.3h0M586.1 444.1h0M595.3 446.4h0M604.6 445.5h0M611.9 445.9h0M618.7 445.0h0M644.7 445.7h0M647.4 444.1h0M665.3 444.9h0M368.3 448.9h0M379.5 447.8h0M401.0 447.7h0M438.3 449.5h0M439.8 449.5h0M456.7 449.5h0M485.5 448.0h0M501.6 447.5h0M525.2 447.1h0M526.7 449.4h0M553.2 448.5h0M569.4 448.5h0M585.4 449.6h0M594.1 448.7h0M626.2 447.7h0M629.8 447.9h0M646.5 449.2h0M653.0 447.7h0M390.2 449.6h0M409.7 451.6h0M480.8 450.3h0M496.6 451.8h0M511.5 449.9h0M519.7 449.9h0M529.6 451.3h0M537.8 450.5h0M545.0 450.6h0M553.8 450.5h0M558.3 451.6h0M595.4 450.5h0M598.8 450.6h0M618.0 450.2h0M622.0 450.3h0M645.3 451.5h0M364.2 454.7h0M385.1 453.3h0M412.0 453.1h0M418.7 453.4h0M434.8 453.4h0M450.8 452.7h0M457.9 453.8h0M462.9 452.8h0M487.6 452.9h0M495.8 454.1h0M501.2 454.2h0M504.9 453.7h0M535.7 452.6h0M543.3 453.0h0M548.2 453.1h0M558.0 454.2h0M561.7 455.0h0M581.5 452.5h0M588.1 454.1h0M592.4 453.5h0M613.5 452.6h0M648.8 454.7h0M659.4 453.9h0M663.5 453.2h0M385.3 457.9h0M391.2 457.5h0M408.0 457.8h0M412.2 457.3h0M426.7 455.6h0M429.5 456.6h0M440.1 456.1h0M487.9 455.6h0M490.6 457.0h0M503.7 456.8h0M510.7 455.3h0M511.8 456.2h0M515.7 457.7h0M545.8 455.2h0M550.3 456.9h0M563.3 456.9h0M565.8 456.6h0M575.7 457.8h0M582.7 457.8h0M619.2 455.7h0M658.7 457.0h0M393.2 458.6h0M395.0 459.1h0M399.1 458.8h0M413.3 458.0h0M442.8 459.2h0M456.6 460.2h0M475.3 459.8h0M531.5 458.7h0M533.7 459.5h0M569.1 459.8h0M587.9 458.0h0M594.0 458.2h0M601.3 459.6h0M604.2 459.1h0M610.6 458.0h0M629.2 460.0h0M642.0 460.0h0M648.3 460.7h0M655.4 460.0h0M372.8 461.8h0M380.8 462.2h0M385.7 462.1h0M391.7 462.1h0M404.1 461.9h0M412.6 461.6h0M421.2 460.9h0M429.1 463.2h0M436.1 463.1h0M450.1 463.2h0M454.4 461.8h0M462.6 463.1h0M479.6 461.4h0M492.2 461.1h0M507.8 463.5h0M528.4 461.6h0M534.7 462.7h0M539.5 462.3h0M541.3 463.3h0M576.2 462.4h0M580.8 462.8h0M619.1 461.1h0M625.2 461.4h0M634.6 462.5h0M367.6 465.5h0M381.1 466.3h0M425.2 466.1h0M430.5 465.5h0M436.8 465.0h0M443.7 464.5h0M445.9 464.8h0M449.6 464.9h0M460.6 466.2h0M469.7 463.5h0M478.5 465.8h0M495.8 464.1h0M526.4 465.7h0M532.6 465.4h0M546.2 465.5h0M556.0 463.7h0M565.7 466.1h0M581.5 465.3h0M594.3 465.0h0M596.7 465.1h0M604.6 465.5h0M617.6 464.1h0M622.4 465.9h0M627.2 464.8h0M642.4 464.2h0M650.0 463.9h0M656.0 466.1h0M664.7 465.9h0M362.1 468.9h0M385.7 467.0h0M387.1 467.1h0M395.6 467.3h0M400.3 468.8h0M414.7 468.5h0M419.7 467.2h0M429.3 467.5h0M433.2 468.4h0M436.4 469.0h0M443.0 466.7h0M465.9 467.1h0M491.1 468.8h0M513.5 466.4h0M536.6 468.6h0M543.6 468.7h0M559.7 466.9h0M567.5 468.5h0M575.9 467.8h0M579.0 468.0h0M584.4 467.0h0M587.0 466.7h0M592.6 468.8h0M628.5 468.0h0M632.4 466.6h0M643.5 468.0h0M373.8 469.2h0M377.2 469.4h0M379.3 469.8h0M382.9 470.3h0M386.3 471.2h0M388.9 470.1h0M391.6 469.4h0M396.0 470.0h0M402.6 469.8h0M413.1 470.6h0M418.1 470.2h0M434.0 469.2h0M450.1 470.3h0M465.7 470.2h0M475.2 471.1h0M481.1 470.8h0M501.6 469.4h0M512.2 470.2h0M520.0 470.9h0M530.5 469.1h0M535.9 469.7h0M543.8 469.2h0M548.4 471.7h0M555.7 470.0h0M569.9 471.6h0M577.6 469.6h0M581.3 470.2h0M586.1 470.6h0M600.3 471.8h0M605.1 470.3h0M616.4 471.2h0M623.1 471.3h0M636.2 469.5h0M640.4 471.4h0M646.4 470.3h0M652.2 470.7h0M378.2 473.2h0M382.9 473.9h0M398.0 474.6h0M405.8 473.7h0M416.7 473.8h0M441.1 474.7h0M456.1 474.0h0M473.6 474.3h0M476.7 472.5h0M481.6 472.9h0M487.8 474.0h0M489.8 474.2h0M500.5 472.5h0M530.0 473.1h0M549.9 472.2h0M554.3 473.8h0M566.5 474.2h0M570.3 472.6h0M586.5 472.2h0M589.8 473.3h0M591.6 473.4h0M601.3 473.6h0M618.2 473.7h0M665.4 472.0h0M374.9 476.3h0M398.9 475.8h0M411.9 476.5h0M423.0 476.4h0M425.7 476.2h0M440.2 476.0h0M442.9 476.1h0M463.6 476.9h0M466.4 475.3h0M475.7 474.8h0M502.0 477.2h0M527.6 475.8h0M544.4 476.0h0M564.9 477.1h0M597.6 477.3h0M607.9 476.1h0M620.4 475.2h0M622.6 475.3h0M625.8 477.0h0M629.8 475.0h0M634.0 476.0h0M640.2 477.4h0M642.5 475.8h0M651.1 476.7h0M654.1 475.0h0M658.4 476.7h0M668.4 474.9h0M386.7 479.7h0M390.3 478.5h0M394.3 478.8h0M420.3 477.6h0M422.4 477.5h0M426.3 478.6h0M449.4 478.8h0M474.5 477.7h0M479.6 478.3h0M490.4 479.8h0M500.9 478.9h0M563.7 479.7h0M587.0 480.1h0M590.1 479.1h0M601.6 479.0h0M612.5 479.3h0M623.7 478.2h0M630.0 478.4h0M644.4 479.6h0M666.0 480.0h0M369.3 482.1h0M379.7 482.8h0M386.1 480.7h0M395.8 482.8h0M402.9 481.5h0M414.2 481.5h0M422.7 482.7h0M431.5 481.6h0M440.5 480.7h0M446.5 482.0h0M451.3 480.8h0M452.6 480.4h0M456.9 481.4h0M491.7 480.7h0M497.5 480.4h0M515.1 483.0h0M524.5 480.4h0M530.5 481.1h0M533.8 482.9h0M553.4 481.9h0M582.2 482.0h0M584.2 481.8h0M611.1 481.5h0M614.5 482.0h0M638.9 482.8h0M644.4 480.8h0M653.9 482.2h0" stroke="#eeb4e3" stroke-width="1.4" stroke-linecap="round" fill="none" stroke-opacity="0.8"/>
<path d="M362.0 479.7 L372.2 481.2 L382.5 482.9 L392.7 483.1 L402.9 482.0 L413.2 481.3 L423.4 481.9 L433.6 482.2 L443.9 481.1 L454.1 479.3 L464.3 478.7 L474.6 479.7 L484.8 480.7 L495.0 480.5 L505.3 479.9 L515.5 480.7 L525.7 482.4 L536.0 483.4 L546.2 482.6 L556.4 481.4 L566.7 481.2 L576.9 481.8 L587.1 481.5 L597.4 479.9 L607.6 478.6 L617.8 479.1 L628.1 480.5 L638.3 481.0 L648.5 480.5 L658.8 480.5 L669.0 481.8 L669.0 540.8 L658.8 540.7 L648.5 542.1 L638.3 543.2 L628.1 543.0 L617.8 542.6 L607.6 543.4 L597.4 545.0 L587.1 545.4 L576.9 544.2 L566.7 542.8 L556.4 542.7 L546.2 543.2 L536.0 542.8 L525.7 541.3 L515.5 540.5 L505.3 541.5 L495.0 543.1 L484.8 543.6 L474.6 543.0 L464.3 543.1 L454.1 544.4 L443.9 545.4 L433.6 544.8 L423.4 543.1 L413.2 542.2 L402.9 542.6 L392.7 542.9 L382.5 541.9 L372.2 540.7 L362.0 541.0Z" fill="#cbbde0"/>
<path d="M359.8 487.5h0M368.9 486.5h0M377.9 486.4h0M397.2 486.2h0M406.2 486.1h0M414.3 486.6h0M424.7 485.9h0M433.1 487.3h0M442.9 487.2h0M452.3 487.2h0M470.2 486.1h0M479.6 486.4h0M490.2 485.8h0M498.8 486.3h0M507.5 486.1h0M516.8 487.4h0M527.5 487.2h0M536.7 487.5h0M544.8 486.8h0M554.0 486.4h0M563.1 486.2h0M573.6 486.6h0M582.5 486.4h0M601.4 486.6h0M609.8 486.7h0M618.9 487.0h0M628.5 486.9h0M639.2 486.1h0M647.7 486.8h0M656.6 485.9h0M665.5 487.1h0M676.2 487.4h0M364.7 494.7h0M372.7 494.8h0M383.1 495.5h0M391.4 495.5h0M401.4 494.3h0M410.2 495.2h0M419.5 495.1h0M429.4 495.5h0M438.0 494.4h0M447.3 494.1h0M456.8 494.6h0M466.9 494.8h0M475.4 495.1h0M485.7 495.3h0M493.6 495.2h0M503.3 495.5h0M512.8 495.5h0M521.6 494.9h0M531.0 493.9h0M550.7 493.9h0M560.1 494.2h0M569.2 494.3h0M578.6 494.8h0M588.1 495.2h0M596.6 493.8h0M605.6 493.9h0M615.3 494.9h0M624.5 495.2h0M633.7 494.6h0M642.2 494.4h0M652.5 494.4h0M661.1 494.0h0M670.3 495.2h0M359.0 502.3h0M368.9 502.5h0M377.2 502.2h0M387.8 502.6h0M396.8 502.5h0M405.0 503.5h0M415.2 501.8h0M424.5 503.1h0M432.9 502.6h0M443.7 502.7h0M452.3 502.2h0M461.9 502.5h0M471.7 502.8h0M479.5 503.0h0M489.6 502.9h0M498.7 503.0h0M507.7 502.1h0M516.7 502.3h0M526.8 502.2h0M536.5 503.0h0M544.6 502.6h0M563.4 503.3h0M573.0 502.7h0M583.4 503.3h0M591.8 501.8h0M601.3 503.4h0M610.9 502.5h0M619.1 501.8h0M629.4 502.0h0M638.1 502.8h0M648.3 502.9h0M657.5 503.1h0M666.9 503.0h0M675.7 502.1h0M364.7 511.2h0M372.8 509.8h0M382.4 510.9h0M391.5 511.3h0M400.7 510.4h0M410.5 510.3h0M419.6 510.6h0M429.5 510.5h0M437.7 510.6h0M448.3 510.1h0M456.2 511.5h0M466.1 510.1h0M475.6 511.1h0M485.3 510.1h0M494.8 511.0h0M502.8 510.0h0M512.7 510.8h0M521.8 510.8h0M531.9 511.3h0M540.1 510.8h0M549.5 510.5h0M559.8 509.8h0M569.3 511.1h0M578.6 509.9h0M587.1 510.0h0M596.1 511.4h0M605.4 511.4h0M616.0 509.9h0M624.6 510.9h0M634.2 510.5h0M642.3 510.5h0M652.8 511.5h0M661.5 510.6h0M670.5 510.7h0M359.7 517.9h0M368.6 518.8h0M387.8 518.2h0M395.9 518.5h0M406.5 518.0h0M414.7 519.0h0M424.5 517.9h0M434.2 518.3h0M442.4 519.3h0M452.4 518.6h0M462.5 518.3h0M470.7 519.0h0M479.5 518.5h0M489.0 518.4h0M499.4 517.9h0M507.8 518.3h0M518.2 518.8h0M527.4 518.0h0M535.8 519.5h0M545.1 519.5h0M554.9 518.2h0M564.8 518.9h0M573.9 519.0h0M582.5 519.2h0M592.5 518.2h0M600.5 518.8h0M609.9 518.0h0M619.4 519.4h0M629.1 518.4h0M638.1 517.8h0M647.9 519.1h0M656.2 518.7h0M676.3 517.9h0M364.7 526.2h0M372.7 527.2h0M382.6 527.0h0M392.3 525.9h0M401.8 527.1h0M410.9 527.3h0M419.6 527.5h0M429.9 526.5h0M438.6 526.4h0M447.5 526.6h0M457.9 525.8h0M465.8 526.5h0M474.7 526.2h0M485.4 527.3h0M494.8 526.9h0M504.0 526.0h0M512.6 526.8h0M530.9 526.9h0M541.4 525.9h0M550.1 526.9h0M558.7 526.0h0M568.1 526.7h0M577.1 527.2h0M587.7 526.8h0M597.0 527.2h0M605.6 526.9h0M616.0 525.7h0M624.7 526.4h0M633.2 527.0h0M642.8 527.1h0M661.7 526.3h0M671.3 525.9h0M359.5 534.1h0M368.0 533.8h0M377.6 534.6h0M387.7 535.1h0M395.7 534.7h0M406.7 534.8h0M414.4 535.3h0M425.2 535.2h0M434.1 534.2h0M443.9 533.9h0M451.7 535.1h0M461.9 535.3h0M470.9 535.3h0M479.8 533.9h0M490.0 533.9h0M499.3 533.9h0M508.4 534.3h0M516.9 533.9h0M526.3 534.2h0M535.5 533.8h0M546.2 534.7h0M554.3 533.8h0M564.2 534.2h0M572.5 534.1h0M582.0 534.6h0M592.6 534.5h0M600.4 534.8h0M609.8 534.2h0M619.9 534.0h0M629.3 534.8h0M638.5 535.2h0M646.8 535.1h0M656.9 533.8h0M665.8 533.8h0M675.6 534.7h0" stroke="#6a5ca2" stroke-width="9.0" stroke-linecap="round" fill="none"/>
<path d="M359.8 487.5h0M368.9 486.5h0M377.9 486.4h0M397.2 486.2h0M406.2 486.1h0M414.3 486.6h0M424.7 485.9h0M433.1 487.3h0M442.9 487.2h0M452.3 487.2h0M470.2 486.1h0M479.6 486.4h0M490.2 485.8h0M498.8 486.3h0M507.5 486.1h0M516.8 487.4h0M527.5 487.2h0M536.7 487.5h0M544.8 486.8h0M554.0 486.4h0M563.1 486.2h0M573.6 486.6h0M582.5 486.4h0M601.4 486.6h0M609.8 486.7h0M618.9 487.0h0M628.5 486.9h0M639.2 486.1h0M647.7 486.8h0M656.6 485.9h0M665.5 487.1h0M676.2 487.4h0M364.7 494.7h0M372.7 494.8h0M383.1 495.5h0M391.4 495.5h0M401.4 494.3h0M410.2 495.2h0M419.5 495.1h0M429.4 495.5h0M438.0 494.4h0M447.3 494.1h0M456.8 494.6h0M466.9 494.8h0M475.4 495.1h0M485.7 495.3h0M493.6 495.2h0M503.3 495.5h0M512.8 495.5h0M521.6 494.9h0M531.0 493.9h0M550.7 493.9h0M560.1 494.2h0M569.2 494.3h0M578.6 494.8h0M588.1 495.2h0M596.6 493.8h0M605.6 493.9h0M615.3 494.9h0M624.5 495.2h0M633.7 494.6h0M642.2 494.4h0M652.5 494.4h0M661.1 494.0h0M670.3 495.2h0M359.0 502.3h0M368.9 502.5h0M377.2 502.2h0M387.8 502.6h0M396.8 502.5h0M405.0 503.5h0M415.2 501.8h0M424.5 503.1h0M432.9 502.6h0M443.7 502.7h0M452.3 502.2h0M461.9 502.5h0M471.7 502.8h0M479.5 503.0h0M489.6 502.9h0M498.7 503.0h0M507.7 502.1h0M516.7 502.3h0M526.8 502.2h0M536.5 503.0h0M544.6 502.6h0M563.4 503.3h0M573.0 502.7h0M583.4 503.3h0M591.8 501.8h0M601.3 503.4h0M610.9 502.5h0M619.1 501.8h0M629.4 502.0h0M638.1 502.8h0M648.3 502.9h0M657.5 503.1h0M666.9 503.0h0M675.7 502.1h0M364.7 511.2h0M372.8 509.8h0M382.4 510.9h0M391.5 511.3h0M400.7 510.4h0M410.5 510.3h0M419.6 510.6h0M429.5 510.5h0M437.7 510.6h0M448.3 510.1h0M456.2 511.5h0M466.1 510.1h0M475.6 511.1h0M485.3 510.1h0M494.8 511.0h0M502.8 510.0h0M512.7 510.8h0M521.8 510.8h0M531.9 511.3h0M540.1 510.8h0M549.5 510.5h0M559.8 509.8h0M569.3 511.1h0M578.6 509.9h0M587.1 510.0h0M596.1 511.4h0M605.4 511.4h0M616.0 509.9h0M624.6 510.9h0M634.2 510.5h0M642.3 510.5h0M652.8 511.5h0M661.5 510.6h0M670.5 510.7h0M359.7 517.9h0M368.6 518.8h0M387.8 518.2h0M395.9 518.5h0M406.5 518.0h0M414.7 519.0h0M424.5 517.9h0M434.2 518.3h0M442.4 519.3h0M452.4 518.6h0M462.5 518.3h0M470.7 519.0h0M479.5 518.5h0M489.0 518.4h0M499.4 517.9h0M507.8 518.3h0M518.2 518.8h0M527.4 518.0h0M535.8 519.5h0M545.1 519.5h0M554.9 518.2h0M564.8 518.9h0M573.9 519.0h0M582.5 519.2h0M592.5 518.2h0M600.5 518.8h0M609.9 518.0h0M619.4 519.4h0M629.1 518.4h0M638.1 517.8h0M647.9 519.1h0M656.2 518.7h0M676.3 517.9h0M364.7 526.2h0M372.7 527.2h0M382.6 527.0h0M392.3 525.9h0M401.8 527.1h0M410.9 527.3h0M419.6 527.5h0M429.9 526.5h0M438.6 526.4h0M447.5 526.6h0M457.9 525.8h0M465.8 526.5h0M474.7 526.2h0M485.4 527.3h0M494.8 526.9h0M504.0 526.0h0M512.6 526.8h0M530.9 526.9h0M541.4 525.9h0M550.1 526.9h0M558.7 526.0h0M568.1 526.7h0M577.1 527.2h0M587.7 526.8h0M597.0 527.2h0M605.6 526.9h0M616.0 525.7h0M624.7 526.4h0M633.2 527.0h0M642.8 527.1h0M661.7 526.3h0M671.3 525.9h0M359.5 534.1h0M368.0 533.8h0M377.6 534.6h0M387.7 535.1h0M395.7 534.7h0M406.7 534.8h0M414.4 535.3h0M425.2 535.2h0M434.1 534.2h0M443.9 533.9h0M451.7 535.1h0M461.9 535.3h0M470.9 535.3h0M479.8 533.9h0M490.0 533.9h0M499.3 533.9h0M508.4 534.3h0M516.9 533.9h0M526.3 534.2h0M535.5 533.8h0M546.2 534.7h0M554.3 533.8h0M564.2 534.2h0M572.5 534.1h0M582.0 534.6h0M592.6 534.5h0M600.4 534.8h0M609.8 534.2h0M619.9 534.0h0M629.3 534.8h0M638.5 535.2h0M646.8 535.1h0M656.9 533.8h0M665.8 533.8h0M675.6 534.7h0" stroke="#7e70b2" stroke-width="6.6" stroke-linecap="round" fill="none"/>
<path d="M358.8 486.5h0M369.5 486.0h0M376.8 486.7h0M398.3 486.7h0M405.2 487.1h0M415.7 488.0h0M423.9 486.7h0M434.2 488.6h0M442.8 486.4h0M453.7 487.7h0M468.8 486.6h0M480.0 486.0h0M490.8 484.9h0M498.5 487.5h0M508.9 484.9h0M518.2 487.7h0M526.3 487.2h0M537.7 488.5h0M545.1 485.8h0M554.7 486.5h0M562.3 484.8h0M575.0 485.7h0M581.2 486.0h0M601.5 487.1h0M609.0 486.1h0M617.5 485.8h0M627.6 487.9h0M639.9 486.6h0M646.5 486.1h0M656.2 484.9h0M666.3 485.8h0M677.0 487.9h0M364.1 495.9h0M374.0 493.6h0M382.3 495.6h0M390.2 494.7h0M400.1 495.6h0M411.2 496.1h0M418.5 495.5h0M428.0 496.7h0M438.8 493.1h0M446.4 494.5h0M456.4 494.1h0M465.6 493.8h0M475.6 493.8h0M485.6 496.1h0M492.9 494.7h0M504.3 495.4h0M513.0 494.3h0M520.6 496.1h0M532.1 494.0h0M550.7 493.8h0M560.7 494.7h0M569.1 493.6h0M579.6 496.3h0M588.5 495.9h0M596.5 493.2h0M605.4 493.4h0M616.3 496.2h0M623.4 496.0h0M634.7 496.1h0M641.8 494.6h0M652.3 494.6h0M660.9 494.7h0M671.1 495.4h0M360.1 502.6h0M367.7 502.4h0M377.4 502.0h0M386.6 501.2h0M397.7 504.0h0M406.2 504.0h0M416.6 500.4h0M423.6 502.1h0M432.2 503.1h0M444.2 503.5h0M452.1 502.1h0M460.5 503.7h0M470.6 502.8h0M480.2 502.3h0M488.6 503.2h0M498.0 502.0h0M506.3 503.4h0M516.8 501.4h0M527.5 501.3h0M537.0 501.8h0M544.1 503.9h0M564.0 503.6h0M573.9 501.3h0M582.5 501.9h0M591.8 501.9h0M602.2 503.5h0M611.4 503.8h0M619.3 500.3h0M630.3 502.1h0M639.3 502.0h0M647.6 502.4h0M658.0 503.0h0M665.8 502.7h0M675.0 501.3h0M363.6 512.5h0M372.7 508.9h0M381.6 509.6h0M392.7 510.4h0M401.0 511.4h0M409.9 510.9h0M419.5 511.6h0M430.3 511.8h0M437.6 511.9h0M447.4 508.8h0M457.0 512.3h0M466.5 511.6h0M474.7 510.3h0M486.0 510.8h0M495.5 511.1h0M502.0 510.2h0M511.5 511.0h0M521.0 511.4h0M531.5 511.1h0M541.4 510.8h0M548.6 511.2h0M559.0 510.6h0M568.3 510.8h0M578.5 509.2h0M586.1 509.3h0M595.1 512.2h0M605.4 510.6h0M614.7 509.7h0M623.2 512.0h0M634.9 509.8h0M641.2 509.8h0M652.9 510.4h0M661.5 509.5h0M671.9 509.3h0M358.9 519.2h0M369.0 519.4h0M386.6 517.3h0M395.3 518.5h0M406.6 518.0h0M415.5 519.5h0M425.7 519.0h0M433.8 517.4h0M443.0 519.9h0M451.1 519.0h0M463.0 517.3h0M469.3 518.0h0M479.2 518.1h0M490.4 519.0h0M498.3 517.4h0M506.6 517.0h0M517.2 518.7h0M526.8 517.8h0M536.4 519.3h0M544.5 519.3h0M555.0 518.9h0M563.8 519.2h0M574.1 518.5h0M582.5 518.6h0M593.5 519.5h0M599.9 518.6h0M609.8 516.8h0M618.3 519.5h0M629.4 517.7h0M637.6 517.7h0M647.3 519.5h0M656.6 518.8h0M674.9 519.1h0M365.7 526.6h0M373.8 528.5h0M382.2 527.9h0M393.0 525.0h0M402.5 527.0h0M409.7 528.6h0M420.0 528.9h0M429.2 525.3h0M438.5 525.2h0M448.5 526.7h0M457.1 525.2h0M464.6 527.9h0M475.9 526.0h0M486.2 526.5h0M495.8 526.9h0M504.9 525.8h0M513.6 525.8h0M530.6 527.9h0M542.0 526.0h0M551.3 527.0h0M557.7 526.1h0M568.0 527.4h0M576.3 526.5h0M586.6 527.0h0M597.4 526.9h0M605.0 526.1h0M617.1 525.8h0M625.5 526.7h0M633.0 526.3h0M644.0 526.3h0M663.1 525.8h0M670.1 526.3h0M360.2 535.5h0M368.3 533.5h0M378.5 535.6h0M388.5 535.7h0M395.8 535.9h0M405.4 535.7h0M415.0 534.5h0M425.0 535.4h0M433.9 533.0h0M445.3 532.5h0M452.7 535.2h0M462.7 536.0h0M470.8 536.6h0M479.4 534.0h0M490.9 534.9h0M500.6 534.7h0M508.7 534.2h0M515.4 533.5h0M527.7 535.4h0M536.1 533.3h0M547.1 534.3h0M554.6 535.2h0M562.8 534.1h0M573.9 533.2h0M581.3 534.8h0M592.6 533.7h0M601.5 534.9h0M610.1 534.7h0M618.8 535.0h0M629.7 536.1h0M639.4 534.9h0M648.0 535.6h0M656.8 533.9h0M667.1 534.4h0M676.5 533.7h0" stroke="#6a5a9f" stroke-width="2.6" stroke-linecap="round" fill="none" stroke-opacity="0.7"/>
<rect x="364" y="543" width="303" height="16" fill="#e6a5da"/>
<path d="M370.9 544.6h0M374.7 543.8h0M385.5 545.1h0M391.1 545.7h0M408.6 544.0h0M410.8 545.5h0M417.0 543.9h0M439.5 545.3h0M450.9 543.3h0M454.0 545.8h0M464.3 544.3h0M478.5 544.8h0M479.7 543.9h0M505.9 544.8h0M516.3 544.6h0M535.8 544.4h0M550.7 543.4h0M556.8 545.0h0M560.9 543.9h0M565.0 545.2h0M575.9 546.0h0M580.8 544.7h0M584.2 544.9h0M599.5 543.4h0M617.1 543.3h0M629.9 544.8h0M650.3 543.5h0M377.2 547.7h0M402.2 548.6h0M404.6 547.0h0M412.1 547.2h0M432.1 547.8h0M444.8 546.4h0M449.9 546.7h0M461.0 548.6h0M461.9 546.7h0M468.9 546.5h0M472.3 547.7h0M474.8 546.1h0M482.6 548.3h0M499.2 547.5h0M511.6 546.6h0M520.8 546.2h0M529.7 546.4h0M537.9 546.4h0M539.8 548.5h0M566.2 547.9h0M572.3 546.2h0M574.1 547.9h0M587.4 547.9h0M605.9 546.6h0M617.9 546.4h0M619.9 547.3h0M662.8 546.1h0M368.7 549.5h0M379.7 551.0h0M397.3 551.2h0M401.2 550.3h0M407.5 549.9h0M413.3 549.0h0M448.5 549.6h0M465.9 549.7h0M473.3 549.7h0M482.9 551.5h0M486.4 551.5h0M489.5 551.3h0M495.6 549.6h0M503.4 548.8h0M506.9 550.0h0M512.0 551.1h0M536.1 549.9h0M538.3 549.7h0M546.0 549.8h0M566.3 550.9h0M574.3 550.6h0M607.5 550.2h0M651.7 550.6h0M654.2 550.7h0M656.5 549.3h0M670.8 551.2h0M379.5 552.4h0M387.0 553.8h0M389.6 551.6h0M411.2 553.1h0M415.1 552.8h0M428.8 552.0h0M438.6 552.4h0M459.1 552.6h0M476.4 553.2h0M502.1 553.8h0M510.7 552.1h0M514.8 554.3h0M521.4 551.6h0M527.8 552.9h0M533.6 553.4h0M548.2 553.1h0M553.7 553.1h0M569.7 553.1h0M577.4 554.3h0M582.1 554.1h0M584.5 552.6h0M590.3 554.0h0M600.7 552.8h0M607.8 553.7h0M616.7 553.5h0M625.8 553.3h0M628.4 552.3h0M632.4 551.6h0M641.7 554.2h0M366.0 555.1h0M371.2 556.5h0M384.8 555.7h0M397.2 554.4h0M410.4 556.5h0M422.9 554.3h0M430.6 556.2h0M449.0 555.1h0M451.5 555.9h0M479.9 555.3h0M499.9 556.9h0M503.2 555.2h0M512.3 556.8h0M516.4 555.6h0M520.0 556.5h0M528.6 554.9h0M537.4 555.9h0M550.9 555.6h0M570.1 556.8h0M572.3 555.9h0M576.7 555.4h0M582.6 556.0h0M602.8 556.8h0M638.4 556.1h0M641.8 556.0h0M653.9 556.6h0M656.7 555.7h0M659.2 555.8h0M665.0 555.7h0M670.1 555.7h0M370.9 558.2h0M380.1 557.8h0M390.8 558.5h0M406.0 559.8h0M410.2 557.6h0M416.0 559.2h0M426.2 558.6h0M444.9 557.4h0M450.2 558.6h0M456.1 558.1h0M476.0 558.7h0M479.9 558.1h0M483.2 557.2h0M496.2 559.6h0M501.6 558.2h0M508.4 559.3h0M510.5 559.7h0M515.2 558.3h0M523.3 558.7h0M531.1 557.8h0M539.5 559.6h0M556.4 558.8h0M568.7 557.5h0M572.2 558.3h0M613.3 559.7h0M628.6 557.2h0M634.9 559.2h0M643.7 559.5h0M646.5 557.6h0M657.5 558.3h0M662.2 557.5h0" stroke="#f0bde6" stroke-width="1.5" stroke-linecap="round" fill="none" stroke-opacity="0.8"/>
<path d="M362.0 558.5 L372.2 559.1 L382.5 558.9 L392.7 557.6 L402.9 556.4 L413.2 556.5 L423.4 557.4 L433.6 557.7 L443.9 557.2 L454.1 557.0 L464.3 558.1 L474.6 559.5 L484.8 559.7 L495.0 558.9 L505.3 558.2 L515.5 558.6 L525.7 558.9 L536.0 558.1 L546.2 556.7 L556.4 556.1 L566.7 556.9 L576.9 557.8 L587.1 557.7 L597.4 557.2 L607.6 557.7 L617.8 559.1 L628.1 559.9 L638.3 559.4 L648.5 558.3 L658.8 558.1 L669.0 558.5 L669.0 623.1 L658.8 622.7 L648.5 623.0 L638.3 624.2 L628.1 625.0 L617.8 624.4 L607.6 623.1 L597.4 622.7 L587.1 623.1 L576.9 623.1 L566.7 622.1 L556.4 621.1 L546.2 621.4 L536.0 622.7 L525.7 623.4 L515.5 623.2 L505.3 622.9 L495.0 623.7 L484.8 624.8 L474.6 624.8 L464.3 623.6 L454.1 622.5 L443.9 622.6 L433.6 623.0 L423.4 622.5 L413.2 621.4 L402.9 621.1 L392.7 622.2 L382.5 623.5 L372.2 623.7 L362.0 623.2Z" fill="#d2bbe8"/>
<path d="M571.9 597.8h0M667.2 585.6h0M540.0 568.3h0M421.0 597.5h0M387.1 585.5h0M567.4 615.4h0M360.9 562.8h0M601.8 579.9h0M612.3 622.2h0M391.0 568.9h0M584.7 597.6h0M598.3 563.1h0M611.7 586.5h0M591.1 597.7h0M652.2 621.5h0M445.0 567.8h0M591.3 610.6h0M608.8 592.2h0M438.9 579.6h0M510.6 574.9h0M640.0 621.9h0M462.0 621.0h0M580.9 592.2h0M673.3 562.3h0M499.5 616.3h0M646.7 574.2h0M448.8 622.5h0M435.7 585.7h0M536.8 574.0h0M536.7 609.5h0M672.9 621.2h0M452.7 604.8h0M674.0 574.6h0M639.3 586.0h0M493.3 569.1h0M376.9 592.7h0M426.0 615.2h0M643.5 580.1h0M404.7 592.8h0M451.9 616.1h0M387.5 562.1h0M490.3 597.9h0M367.2 562.7h0M523.4 586.5h0M459.1 604.8h0M554.9 592.8h0M524.3 609.4h0M531.2 574.0h0M571.5 562.6h0M363.5 603.5h0M445.9 603.2h0M557.5 562.2h0M595.7 604.8h0M598.3 610.3h0M551.5 586.8h0M408.4 586.9h0M639.1 610.2h0M567.5 592.5h0M449.1 586.4h0M469.6 609.6h0M390.6 580.8h0M578.5 598.6h0M408.5 574.3h0M510.0 563.3h0M415.7 610.2h0M618.4 597.5h0M472.9 604.1h0M492.5 580.7h0M452.2 592.1h0M400.8 597.7h0M513.2 568.3h0M543.9 610.5h0M557.3 621.5h0M506.6 604.8h0M575.6 604.1h0M456.2 621.1h0M523.9 574.3h0M506.3 616.0h0M544.3 598.3h0M591.5 622.2h0M418.7 592.1h0M401.1 562.5h0M608.5 568.2h0M368.1 609.7h0M632.7 563.3h0M439.0 604.1h0M660.3 622.3h0M568.8 568.3h0M361.3 586.6h0M442.1 562.0h0M534.3 616.0h0M633.1 621.5h0M561.6 592.0h0M611.6 610.7h0M636.2 569.0h0M486.8 616.0h0M521.0 615.9h0M490.0 585.6h0M421.2 609.2h0M616.1 567.8h0M466.5 568.3h0M455.6 585.5h0M401.1 610.3h0M425.0 592.2h0M466.7 580.1h0M616.4 615.7h0M516.6 586.7h0M469.0 586.8h0M666.1 562.5h0M493.1 592.5h0M384.3 604.0h0M486.7 604.4h0M636.6 616.6h0M604.8 585.7h0M632.5 609.9h0M537.1 597.7h0M605.0 609.2h0M398.6 579.6h0M571.4 609.3h0M463.2 586.3h0M619.8 585.7h0M449.8 598.6h0M438.7 615.5h0M652.3 574.8h0M656.2 568.1h0M561.1 603.7h0M574.7 568.5h0M571.1 621.1h0M435.8 598.0h0M574.9 592.7h0M421.4 621.3h0M432.0 604.6h0M411.7 592.2h0M595.6 580.2h0M387.7 597.7h0M588.2 592.6h0M622.0 579.6h0M635.7 580.2h0M510.0 610.0h0M650.0 580.2h0M475.6 574.2h0M482.8 563.1h0M557.0 586.0h0M568.6 603.5h0M404.4 580.8h0M459.2 616.4h0M544.2 621.3h0M360.9 609.4h0M475.8 598.5h0M509.7 621.8h0M439.4 592.5h0M428.5 562.8h0M513.6 591.9h0M446.0 592.5h0M434.6 609.3h0M503.6 586.0h0M429.3 586.0h0M646.7 622.4h0M611.4 562.9h0M558.5 610.1h0M503.5 598.1h0M588.8 615.6h0M605.1 622.3h0M608.1 615.1h0M463.3 562.3h0M511.0 598.0h0M359.9 598.2h0M557.5 598.5h0M364.8 615.6h0M663.7 591.8h0M388.6 621.8h0M394.7 622.3h0M486.4 592.8h0M482.6 597.4h0M594.6 591.5h0M615.8 579.6h0M407.8 598.4h0M626.1 598.4h0M411.7 580.4h0M568.7 579.6h0M622.4 568.4h0M397.6 592.5h0M537.1 586.4h0M574.6 580.1h0M595.3 568.1h0M373.5 621.1h0M517.0 609.8h0M659.9 610.0h0M439.5 568.1h0M435.3 621.8h0M598.6 621.8h0M378.0 568.4h0M374.6 585.5h0M564.4 622.5h0M653.3 610.6h0M551.3 573.9h0M598.6 598.2h0M670.2 568.0h0M374.4 562.7h0M546.8 592.4h0M584.8 610.4h0M602.1 568.8h0M417.9 568.6h0M482.4 573.9h0M390.6 592.1h0M547.2 604.7h0M564.9 610.2h0M466.5 603.3h0M629.5 580.7h0M536.9 621.6h0M363.9 591.8h0M574.3 615.7h0M642.0 591.7h0M421.1 575.0h0M470.2 573.6h0M628.8 603.9h0M523.0 622.5h0M638.8 597.8h0M445.6 581.0h0M517.7 575.0h0M581.9 616.1h0M670.8 580.7h0M370.3 616.1h0M432.1 580.0h0M623.0 604.5h0M618.3 621.5h0M453.0 579.7h0M448.6 610.7h0M359.9 575.2h0M370.8 591.5h0M374.9 609.2h0M476.8 610.1h0M473.4 615.8h0M523.8 598.2h0M598.6 574.8h0M619.6 610.3h0M653.0 562.3h0M663.0 568.7h0M636.8 592.3h0M500.7 604.4h0M592.5 574.0h0M666.5 573.9h0M646.7 586.1h0M655.7 592.9h0M486.9 580.9h0M367.4 573.8h0M666.5 621.3h0M584.5 586.0h0M380.9 574.9h0M506.3 569.1h0M370.3 569.2h0M425.6 604.1h0M595.6 615.2h0M531.0 621.0h0M414.7 574.2h0M381.3 585.6h0M606.1 562.7h0M649.2 615.4h0M442.1 609.2h0M394.6 585.9h0M553.8 615.8h0M622.5 616.5h0M601.9 592.9h0M618.9 561.9h0M563.8 574.3h0M496.0 610.2h0M538.0 562.5h0M503.2 562.9h0M455.6 562.0h0M489.5 610.1h0M398.6 615.6h0M656.4 615.7h0M540.1 615.4h0M479.8 604.8h0M384.6 567.8h0M645.6 598.0h0M493.0 604.1h0M394.6 574.7h0M655.6 604.7h0M384.6 592.7h0M448.3 574.7h0M544.7 586.3h0M510.3 587.0h0M561.6 580.6h0M425.1 568.0h0M612.6 574.0h0M632.4 573.8h0M502.8 573.7h0M514.3 580.7h0M387.4 574.7h0M530.8 563.1h0M513.5 604.4h0M527.8 592.0h0M431.6 592.5h0M673.9 598.5h0M605.0 597.9h0M411.4 615.7h0M401.1 574.5h0M598.3 586.8h0M507.1 591.9h0M459.1 569.2h0M554.2 579.9h0M645.7 562.8h0M422.5 562.5h0M584.8 574.5h0M572.2 575.0h0M670.7 615.4h0M390.4 604.2h0M669.8 591.7h0M554.8 603.7h0M659.3 586.8h0M554.6 569.2h0M628.8 616.5h0M548.1 568.5h0M387.3 609.2h0M663.8 603.8h0M441.6 621.6h0M656.3 580.3h0M650.3 604.4h0M408.3 609.6h0M490.5 563.0h0M626.2 575.0h0M441.9 575.1h0M497.4 598.1h0M393.9 609.7h0M489.0 621.1h0M495.9 562.6h0M543.8 562.9h0M521.1 593.0h0M577.4 574.8h0M659.4 573.8h0M497.3 622.2h0M628.5 591.4h0M584.8 562.5h0M530.1 610.6h0M606.1 575.1h0M394.3 563.0h0M670.2 604.8h0M364.7 579.7h0M588.2 567.9h0M479.4 580.6h0M601.4 615.9h0M653.4 597.3h0M431.9 615.6h0M414.8 586.6h0M527.9 580.8h0M626.1 610.0h0M500.0 580.7h0M550.7 621.3h0M646.9 610.3h0M649.3 568.9h0M405.4 604.3h0M427.9 621.9h0M414.9 562.3h0M398.5 603.6h0M405.1 616.1h0M629.6 568.1h0M521.1 604.2h0M666.0 610.5h0M458.6 591.9h0M446.2 615.7h0M435.2 574.2h0M561.3 615.7h0M636.3 603.4h0M424.8 580.6h0M560.8 568.6h0M544.3 574.0h0M663.9 615.8h0M588.5 579.6h0M419.1 603.3h0M533.9 581.0h0M659.6 562.8h0M642.8 604.1h0M638.9 575.2h0M667.0 598.0h0M533.3 569.3h0M455.0 598.0h0M517.3 622.2h0M462.2 610.5h0M449.3 563.3h0M608.1 580.2h0M500.0 569.1h0M564.2 562.6h0M431.5 567.9h0M451.8 568.6h0M640.0 562.4h0M482.5 621.1h0M546.9 581.1h0M412.2 568.4h0M601.6 603.2h0M397.4 568.3h0M373.4 598.9h0M633.3 598.2h0M551.3 598.6h0M381.3 562.0h0M456.5 610.4h0M442.9 598.3h0M663.6 579.7h0M483.8 610.7h0M472.8 592.1h0M383.7 615.2h0M463.2 597.3h0M551.4 562.5h0M580.8 603.5h0M370.1 604.2h0M519.6 579.9h0M377.3 581.1h0M557.7 574.3h0M458.8 580.1h0M585.1 622.0h0M441.6 585.5h0M513.5 615.1h0M482.7 585.5h0M391.4 616.2h0M541.0 603.4h0M381.4 598.2h0M479.5 591.5h0M547.6 616.4h0M632.3 586.4h0M625.8 621.3h0M368.2 597.4h0M534.7 604.1h0M381.8 609.7h0M415.1 622.2h0M368.1 586.9h0M475.8 586.1h0M577.6 621.8h0M526.4 568.8h0M530.6 597.8h0M381.2 621.2h0M428.3 574.9h0M615.4 592.5h0M517.1 562.7h0M502.7 609.6h0M534.6 591.8h0M642.9 568.1h0M475.5 562.8h0M465.7 592.7h0M384.5 580.4h0M428.7 610.4h0M540.6 579.8h0M410.8 603.7h0M580.9 568.6h0M592.6 585.6h0M623.1 592.2h0M588.6 604.0h0M500.4 592.0h0M377.6 603.6h0M377.5 615.2h0M468.7 562.4h0M625.1 563.3h0M642.6 616.3h0M404.7 569.1h0M527.5 615.5h0M609.0 603.9h0M550.9 609.2h0M407.6 621.7h0M564.0 585.9h0M541.2 592.2h0M496.8 585.6h0M577.7 610.5h0M577.7 586.6h0M472.7 568.9h0M469.8 622.6h0M611.6 598.3h0M578.5 562.4h0M455.0 574.9h0M428.7 597.8h0M564.1 598.5h0M364.5 568.2h0M591.7 562.1h0M371.6 580.5h0M421.5 586.2h0M360.2 621.2h0M479.4 569.1h0M469.5 598.6h0M465.5 615.6h0M653.4 586.0h0M527.4 604.7h0M523.5 563.4h0M659.2 597.7h0M490.0 574.0h0M462.8 574.0h0M434.9 562.3h0M401.3 621.9h0M516.8 598.6h0M615.8 604.2h0M472.1 580.4h0M367.0 622.0h0M414.8 598.5h0M395.3 598.3h0M503.7 621.5h0M407.5 562.1h0" stroke="#7a66b4" stroke-width="5.6" stroke-linecap="round" fill="none" stroke-opacity="0.6"/>
<path d="M571.9 597.8h0M667.2 585.6h0M540.0 568.3h0M421.0 597.5h0M387.1 585.5h0M567.4 615.4h0M360.9 562.8h0M601.8 579.9h0M612.3 622.2h0M391.0 568.9h0M584.7 597.6h0M598.3 563.1h0M611.7 586.5h0M591.1 597.7h0M652.2 621.5h0M445.0 567.8h0M591.3 610.6h0M608.8 592.2h0M438.9 579.6h0M510.6 574.9h0M640.0 621.9h0M462.0 621.0h0M580.9 592.2h0M673.3 562.3h0M499.5 616.3h0M646.7 574.2h0M448.8 622.5h0M435.7 585.7h0M536.8 574.0h0M536.7 609.5h0M672.9 621.2h0M452.7 604.8h0M674.0 574.6h0M639.3 586.0h0M493.3 569.1h0M376.9 592.7h0M426.0 615.2h0M643.5 580.1h0M404.7 592.8h0M451.9 616.1h0M387.5 562.1h0M490.3 597.9h0M367.2 562.7h0M523.4 586.5h0M459.1 604.8h0M554.9 592.8h0M524.3 609.4h0M531.2 574.0h0M571.5 562.6h0M363.5 603.5h0M445.9 603.2h0M557.5 562.2h0M595.7 604.8h0M598.3 610.3h0M551.5 586.8h0M408.4 586.9h0M639.1 610.2h0M567.5 592.5h0M449.1 586.4h0M469.6 609.6h0M390.6 580.8h0M578.5 598.6h0M408.5 574.3h0M510.0 563.3h0M415.7 610.2h0M618.4 597.5h0M472.9 604.1h0M492.5 580.7h0M452.2 592.1h0M400.8 597.7h0M513.2 568.3h0M543.9 610.5h0M557.3 621.5h0M506.6 604.8h0M575.6 604.1h0M456.2 621.1h0M523.9 574.3h0M506.3 616.0h0M544.3 598.3h0M591.5 622.2h0M418.7 592.1h0M401.1 562.5h0M608.5 568.2h0M368.1 609.7h0M632.7 563.3h0M439.0 604.1h0M660.3 622.3h0M568.8 568.3h0M361.3 586.6h0M442.1 562.0h0M534.3 616.0h0M633.1 621.5h0M561.6 592.0h0M611.6 610.7h0M636.2 569.0h0M486.8 616.0h0M521.0 615.9h0M490.0 585.6h0M421.2 609.2h0M616.1 567.8h0M466.5 568.3h0M455.6 585.5h0M401.1 610.3h0M425.0 592.2h0M466.7 580.1h0M616.4 615.7h0M516.6 586.7h0M469.0 586.8h0M666.1 562.5h0M493.1 592.5h0M384.3 604.0h0M486.7 604.4h0M636.6 616.6h0M604.8 585.7h0M632.5 609.9h0M537.1 597.7h0M605.0 609.2h0M398.6 579.6h0M571.4 609.3h0M463.2 586.3h0M619.8 585.7h0M449.8 598.6h0M438.7 615.5h0M652.3 574.8h0M656.2 568.1h0M561.1 603.7h0M574.7 568.5h0M571.1 621.1h0M435.8 598.0h0M574.9 592.7h0M421.4 621.3h0M432.0 604.6h0M411.7 592.2h0M595.6 580.2h0M387.7 597.7h0M588.2 592.6h0M622.0 579.6h0M635.7 580.2h0M510.0 610.0h0M650.0 580.2h0M475.6 574.2h0M482.8 563.1h0M557.0 586.0h0M568.6 603.5h0M404.4 580.8h0M459.2 616.4h0M544.2 621.3h0M360.9 609.4h0M475.8 598.5h0M509.7 621.8h0M439.4 592.5h0M428.5 562.8h0M513.6 591.9h0M446.0 592.5h0M434.6 609.3h0M503.6 586.0h0M429.3 586.0h0M646.7 622.4h0M611.4 562.9h0M558.5 610.1h0M503.5 598.1h0M588.8 615.6h0M605.1 622.3h0M608.1 615.1h0M463.3 562.3h0M511.0 598.0h0M359.9 598.2h0M557.5 598.5h0M364.8 615.6h0M663.7 591.8h0M388.6 621.8h0M394.7 622.3h0M486.4 592.8h0M482.6 597.4h0M594.6 591.5h0M615.8 579.6h0M407.8 598.4h0M626.1 598.4h0M411.7 580.4h0M568.7 579.6h0M622.4 568.4h0M397.6 592.5h0M537.1 586.4h0M574.6 580.1h0M595.3 568.1h0M373.5 621.1h0M517.0 609.8h0M659.9 610.0h0M439.5 568.1h0M435.3 621.8h0M598.6 621.8h0M378.0 568.4h0M374.6 585.5h0M564.4 622.5h0M653.3 610.6h0M551.3 573.9h0M598.6 598.2h0M670.2 568.0h0M374.4 562.7h0M546.8 592.4h0M584.8 610.4h0M602.1 568.8h0M417.9 568.6h0M482.4 573.9h0M390.6 592.1h0M547.2 604.7h0M564.9 610.2h0M466.5 603.3h0M629.5 580.7h0M536.9 621.6h0M363.9 591.8h0M574.3 615.7h0M642.0 591.7h0M421.1 575.0h0M470.2 573.6h0M628.8 603.9h0M523.0 622.5h0M638.8 597.8h0M445.6 581.0h0M517.7 575.0h0M581.9 616.1h0M670.8 580.7h0M370.3 616.1h0M432.1 580.0h0M623.0 604.5h0M618.3 621.5h0M453.0 579.7h0M448.6 610.7h0M359.9 575.2h0M370.8 591.5h0M374.9 609.2h0M476.8 610.1h0M473.4 615.8h0M523.8 598.2h0M598.6 574.8h0M619.6 610.3h0M653.0 562.3h0M663.0 568.7h0M636.8 592.3h0M500.7 604.4h0M592.5 574.0h0M666.5 573.9h0M646.7 586.1h0M655.7 592.9h0M486.9 580.9h0M367.4 573.8h0" stroke="#3a2e7c" stroke-width="5.0" stroke-linecap="round" fill="none"/>
<path d="M666.5 621.3h0M584.5 586.0h0M380.9 574.9h0M506.3 569.1h0M370.3 569.2h0M425.6 604.1h0M595.6 615.2h0M531.0 621.0h0M414.7 574.2h0M381.3 585.6h0M606.1 562.7h0M649.2 615.4h0M442.1 609.2h0M394.6 585.9h0M553.8 615.8h0M622.5 616.5h0M601.9 592.9h0M618.9 561.9h0M563.8 574.3h0M496.0 610.2h0M538.0 562.5h0M503.2 562.9h0M455.6 562.0h0M489.5 610.1h0M398.6 615.6h0M656.4 615.7h0M540.1 615.4h0M479.8 604.8h0M384.6 567.8h0M645.6 598.0h0M493.0 604.1h0M394.6 574.7h0M655.6 604.7h0M384.6 592.7h0M448.3 574.7h0M544.7 586.3h0M510.3 587.0h0M561.6 580.6h0M425.1 568.0h0M612.6 574.0h0M632.4 573.8h0M502.8 573.7h0M514.3 580.7h0M387.4 574.7h0M530.8 563.1h0M513.5 604.4h0M527.8 592.0h0M431.6 592.5h0M673.9 598.5h0M605.0 597.9h0M411.4 615.7h0M401.1 574.5h0M598.3 586.8h0M507.1 591.9h0M459.1 569.2h0M554.2 579.9h0M645.7 562.8h0M422.5 562.5h0M584.8 574.5h0M572.2 575.0h0M670.7 615.4h0M390.4 604.2h0M669.8 591.7h0M554.8 603.7h0M659.3 586.8h0M554.6 569.2h0M628.8 616.5h0M548.1 568.5h0M387.3 609.2h0M663.8 603.8h0M441.6 621.6h0M656.3 580.3h0M650.3 604.4h0M408.3 609.6h0M490.5 563.0h0M626.2 575.0h0M441.9 575.1h0M497.4 598.1h0M393.9 609.7h0M489.0 621.1h0M495.9 562.6h0M543.8 562.9h0M521.1 593.0h0M577.4 574.8h0M659.4 573.8h0M497.3 622.2h0M628.5 591.4h0M584.8 562.5h0M530.1 610.6h0M606.1 575.1h0M394.3 563.0h0M670.2 604.8h0M364.7 579.7h0M588.2 567.9h0M479.4 580.6h0M601.4 615.9h0M653.4 597.3h0M431.9 615.6h0M414.8 586.6h0M527.9 580.8h0M626.1 610.0h0M500.0 580.7h0M550.7 621.3h0M646.9 610.3h0M649.3 568.9h0M405.4 604.3h0M427.9 621.9h0M414.9 562.3h0M398.5 603.6h0M405.1 616.1h0M629.6 568.1h0M521.1 604.2h0M666.0 610.5h0M458.6 591.9h0M446.2 615.7h0M435.2 574.2h0M561.3 615.7h0M636.3 603.4h0M424.8 580.6h0M560.8 568.6h0M544.3 574.0h0M663.9 615.8h0M588.5 579.6h0M419.1 603.3h0M533.9 581.0h0M659.6 562.8h0M642.8 604.1h0M638.9 575.2h0M667.0 598.0h0M533.3 569.3h0M455.0 598.0h0M517.3 622.2h0M462.2 610.5h0M449.3 563.3h0M608.1 580.2h0M500.0 569.1h0M564.2 562.6h0M431.5 567.9h0M451.8 568.6h0M640.0 562.4h0M482.5 621.1h0M546.9 581.1h0M412.2 568.4h0M601.6 603.2h0M397.4 568.3h0M373.4 598.9h0M633.3 598.2h0M551.3 598.6h0M381.3 562.0h0M456.5 610.4h0M442.9 598.3h0M663.6 579.7h0M483.8 610.7h0M472.8 592.1h0M383.7 615.2h0M463.2 597.3h0M551.4 562.5h0M580.8 603.5h0M370.1 604.2h0M519.6 579.9h0M377.3 581.1h0M557.7 574.3h0M458.8 580.1h0M585.1 622.0h0M441.6 585.5h0M513.5 615.1h0M482.7 585.5h0M391.4 616.2h0M541.0 603.4h0M381.4 598.2h0M479.5 591.5h0M547.6 616.4h0M632.3 586.4h0M625.8 621.3h0M368.2 597.4h0M534.7 604.1h0M381.8 609.7h0M415.1 622.2h0M368.1 586.9h0M475.8 586.1h0M577.6 621.8h0M526.4 568.8h0M530.6 597.8h0M381.2 621.2h0M428.3 574.9h0M615.4 592.5h0M517.1 562.7h0M502.7 609.6h0M534.6 591.8h0M642.9 568.1h0M475.5 562.8h0M465.7 592.7h0M384.5 580.4h0M428.7 610.4h0M540.6 579.8h0M410.8 603.7h0M580.9 568.6h0M592.6 585.6h0M623.1 592.2h0M588.6 604.0h0M500.4 592.0h0M377.6 603.6h0M377.5 615.2h0M468.7 562.4h0M625.1 563.3h0M642.6 616.3h0M404.7 569.1h0M527.5 615.5h0M609.0 603.9h0M550.9 609.2h0M407.6 621.7h0M564.0 585.9h0M541.2 592.2h0M496.8 585.6h0M577.7 610.5h0M577.7 586.6h0M472.7 568.9h0M469.8 622.6h0M611.6 598.3h0M578.5 562.4h0M455.0 574.9h0M428.7 597.8h0M564.1 598.5h0M364.5 568.2h0M591.7 562.1h0M371.6 580.5h0M421.5 586.2h0M360.2 621.2h0M479.4 569.1h0M469.5 598.6h0M465.5 615.6h0M653.4 586.0h0M527.4 604.7h0M523.5 563.4h0M659.2 597.7h0M490.0 574.0h0M462.8 574.0h0M434.9 562.3h0M401.3 621.9h0M516.8 598.6h0M615.8 604.2h0M472.1 580.4h0M367.0 622.0h0M414.8 598.5h0M395.3 598.3h0M503.7 621.5h0M407.5 562.1h0" stroke="#30266e" stroke-width="4.7" stroke-linecap="round" fill="none"/>
<rect x="364" y="623" width="303" height="30" fill="#e49bd7"/>
<rect x="364" y="637.5" width="303" height="15.5" fill="#f0b9e6" opacity="0.75"/>
<path d="M369.2 638.1h0M372.8 636.8h0M390.7 638.4h0M402.7 637.8h0M404.7 638.0h0M412.9 636.6h0M424.8 637.5h0M434.1 636.3h0M436.8 636.6h0M439.6 637.0h0M445.4 637.5h0M448.7 636.4h0M451.8 637.4h0M457.5 637.1h0M464.0 636.4h0M468.4 638.0h0M469.4 637.1h0M477.7 636.8h0M481.3 638.8h0M487.5 637.4h0M511.9 637.9h0M528.4 638.2h0M531.0 637.1h0M537.1 636.3h0M538.5 636.9h0M542.2 637.0h0M563.8 636.4h0M578.3 637.8h0M581.5 638.7h0M589.3 638.8h0M623.0 638.2h0M627.2 638.3h0M634.4 638.6h0M653.5 636.7h0M363.3 640.2h0M382.1 639.2h0M402.0 640.3h0M405.0 640.4h0M415.2 641.2h0M427.2 640.3h0M433.8 640.3h0M438.2 641.1h0M452.0 639.3h0M463.2 641.0h0M465.3 639.8h0M490.5 639.0h0M495.7 641.4h0M504.6 639.0h0M514.4 639.5h0M516.2 640.6h0M520.4 640.0h0M523.7 640.8h0M530.0 639.8h0M533.1 639.2h0M543.3 641.0h0M550.1 639.8h0M569.0 641.2h0M570.1 640.7h0M573.3 640.6h0M582.3 641.3h0M586.8 639.3h0M589.6 639.7h0M592.5 640.0h0M597.8 640.2h0M607.6 640.8h0M611.2 640.0h0M612.3 640.0h0M619.1 640.5h0M624.2 641.2h0M661.2 640.3h0M366.0 642.9h0M374.1 643.5h0M391.4 643.5h0M394.4 643.7h0M399.7 642.4h0M410.1 642.8h0M412.7 643.6h0M419.0 642.8h0M422.3 642.4h0M426.4 642.6h0M446.8 641.9h0M450.6 643.3h0M464.4 644.0h0M487.5 643.0h0M492.7 642.5h0M493.9 643.5h0M504.4 643.9h0M509.6 642.1h0M517.6 643.3h0M533.7 642.1h0M536.7 641.5h0M542.3 642.8h0M546.2 642.4h0M552.2 642.2h0M558.0 642.8h0M571.6 641.7h0M575.8 642.4h0M584.0 643.8h0M587.1 641.7h0M589.8 642.0h0M597.1 642.6h0M598.3 641.7h0M605.8 641.7h0M612.7 643.4h0M615.3 643.1h0M617.5 643.3h0M632.0 644.0h0M635.9 643.3h0M639.1 643.4h0M651.0 641.6h0M668.3 642.9h0M367.1 645.9h0M372.9 644.2h0M393.9 646.7h0M401.0 645.8h0M405.6 645.3h0M409.7 644.9h0M413.2 645.1h0M415.7 644.4h0M438.8 644.9h0M453.1 644.9h0M461.0 645.8h0M463.7 646.1h0M475.4 646.1h0M483.3 645.5h0M497.1 645.1h0M513.4 645.5h0M517.6 646.7h0M523.4 644.4h0M534.6 645.3h0M540.8 644.5h0M573.7 645.3h0M583.0 645.5h0M589.8 645.3h0M596.7 644.6h0M601.1 644.4h0M605.8 646.2h0M609.0 644.8h0M616.6 645.6h0M636.1 645.0h0M643.3 644.2h0M647.2 645.5h0M651.6 645.9h0M660.0 645.8h0M664.7 644.8h0M378.0 648.5h0M380.1 648.8h0M385.6 647.9h0M395.3 647.9h0M399.7 646.8h0M426.5 646.9h0M430.3 647.5h0M447.2 649.1h0M450.2 648.6h0M458.9 648.6h0M464.9 648.7h0M468.7 648.9h0M471.7 648.3h0M477.5 648.0h0M505.5 649.3h0M510.1 648.5h0M513.6 646.8h0M522.1 646.8h0M524.6 648.8h0M527.9 647.7h0M529.5 647.2h0M538.6 648.8h0M565.5 648.2h0M569.9 648.2h0M575.3 647.4h0M579.1 647.6h0M580.5 648.8h0M586.9 647.5h0M589.9 648.3h0M594.3 647.0h0M598.6 646.7h0M609.1 648.9h0M636.3 647.1h0M647.6 647.0h0M649.3 648.4h0M666.3 647.9h0M365.3 650.2h0M384.0 651.5h0M388.0 649.5h0M398.0 651.7h0M399.5 650.8h0M403.7 649.8h0M415.2 650.0h0M421.9 650.4h0M425.0 651.4h0M435.4 649.9h0M452.2 651.7h0M453.6 651.0h0M457.7 649.9h0M469.9 651.4h0M481.1 649.3h0M495.6 651.1h0M505.5 649.9h0M513.0 650.6h0M516.7 651.0h0M520.9 650.5h0M525.2 650.7h0M532.5 649.8h0M539.0 651.2h0M541.5 649.6h0M550.1 650.2h0M565.2 650.2h0M568.0 651.0h0M588.8 649.7h0M595.9 650.0h0M614.2 650.1h0M619.9 649.9h0M623.2 650.2h0M631.7 650.4h0M636.7 651.8h0M640.8 651.3h0M643.4 650.1h0M645.8 650.0h0M653.0 649.8h0M656.2 651.4h0M665.7 650.4h0" stroke="#f8dcf3" stroke-width="1.4" stroke-linecap="round" fill="none" stroke-opacity="0.8"/>
<path d="M362.0 652.4 L372.2 652.2 L382.5 651.5 L392.7 650.9 L402.9 651.0 L413.2 651.7 L423.4 652.0 L433.6 651.8 L443.9 651.7 L454.1 652.4 L464.3 653.1 L474.6 653.1 L484.8 652.4 L495.0 651.9 L505.3 652.1 L515.5 652.2 L525.7 651.8 L536.0 651.0 L546.2 650.8 L556.4 651.4 L566.7 652.1 L576.9 652.1 L587.1 651.9 L597.4 652.1 L607.6 652.8 L617.8 653.2 L628.1 652.7 L638.3 652.0 L648.5 651.8 L658.8 652.0 L669.0 652.0 L669.0 665.1 L658.8 664.8 L648.5 665.4 L638.3 666.2 L628.1 666.4 L617.8 666.1 L607.6 666.2 L597.4 666.7 L587.1 667.1 L576.9 666.7 L566.7 665.9 L556.4 665.5 L546.2 665.7 L536.0 665.9 L525.7 665.4 L515.5 664.9 L505.3 665.1 L495.0 666.0 L484.8 666.6 L474.6 666.5 L464.3 666.2 L454.1 666.4 L443.9 667.0 L433.6 666.9 L423.4 666.2 L413.2 665.4 L402.9 665.4 L392.7 665.7 L382.5 665.7 L372.2 665.2 L362.0 665.0Z" fill="#3e2a2a"/>
<path d="M363.2 652.4h0M364.9 652.3h0M369.9 654.1h0M372.9 652.4h0M374.2 653.1h0M377.2 652.7h0M379.4 654.1h0M382.0 653.6h0M383.5 652.5h0M386.8 653.7h0M388.8 652.9h0M394.8 653.0h0M407.0 653.3h0M423.1 653.4h0M426.1 654.1h0M434.6 652.3h0M437.4 652.3h0M440.1 652.4h0M443.0 652.4h0M444.9 653.3h0M446.6 654.0h0M451.9 654.0h0M456.9 652.3h0M465.6 654.1h0M468.2 653.8h0M490.5 653.1h0M492.7 654.0h0M494.3 653.6h0M501.8 652.6h0M503.6 653.0h0M512.4 652.4h0M514.9 653.9h0M521.6 652.4h0M530.4 652.5h0M537.2 653.4h0M541.0 653.2h0M541.9 652.8h0M557.3 653.7h0M559.4 652.6h0M566.3 653.9h0M569.6 652.3h0M573.5 653.3h0M584.2 653.1h0M587.5 652.9h0M591.1 652.4h0M592.7 652.7h0M596.3 653.9h0M597.5 652.7h0M600.9 652.9h0M617.9 652.3h0M620.2 654.0h0M629.2 652.2h0M635.8 653.7h0M638.3 652.5h0M640.8 652.6h0M643.4 652.6h0M651.7 652.5h0M653.3 653.8h0M656.0 652.2h0M657.3 652.8h0M662.6 652.7h0M366.7 655.5h0M368.3 655.6h0M378.2 655.5h0M381.1 655.7h0M383.0 656.0h0M385.3 655.2h0M390.8 656.1h0M392.3 654.7h0M399.4 654.7h0M405.7 655.0h0M412.3 656.1h0M425.6 654.9h0M429.1 655.7h0M438.3 656.2h0M441.6 654.4h0M444.7 656.1h0M448.2 654.8h0M452.9 654.9h0M460.9 655.6h0M465.7 655.2h0M469.7 656.3h0M475.2 655.5h0M479.5 655.1h0M481.9 655.0h0M486.2 654.6h0M489.0 654.3h0M498.0 654.4h0M502.7 655.6h0M506.2 655.4h0M513.4 655.7h0M520.2 655.7h0M522.2 655.7h0M525.5 655.9h0M529.4 655.9h0M537.0 655.2h0M539.8 654.5h0M543.8 655.9h0M546.2 656.0h0M553.3 655.3h0M558.6 655.1h0M561.6 654.6h0M568.8 655.4h0M569.6 654.4h0M574.8 654.4h0M579.1 655.2h0M583.0 655.7h0M585.6 655.3h0M586.2 656.0h0M592.2 655.6h0M594.1 655.7h0M598.9 655.1h0M602.4 656.2h0M605.9 655.8h0M613.9 655.3h0M615.3 654.8h0M621.3 654.5h0M631.1 655.5h0M637.9 655.9h0M639.8 654.6h0M647.4 654.9h0M652.2 655.5h0M661.5 655.1h0M663.3 655.3h0M368.0 656.6h0M374.0 657.3h0M376.3 657.8h0M379.7 657.6h0M386.6 658.2h0M391.6 657.5h0M399.7 656.5h0M401.8 657.3h0M406.7 657.1h0M408.3 656.6h0M413.7 658.1h0M418.6 657.2h0M423.2 658.1h0M425.0 656.7h0M427.9 656.4h0M431.6 656.5h0M436.4 656.6h0M438.8 657.4h0M442.5 657.4h0M454.7 657.2h0M457.3 656.8h0M458.2 657.8h0M463.8 656.9h0M474.9 656.7h0M483.4 657.2h0M489.6 657.3h0M491.5 657.5h0M498.9 657.9h0M504.4 657.9h0M514.1 658.0h0M516.1 658.0h0M518.4 657.6h0M525.7 656.8h0M529.8 657.6h0M533.7 656.5h0M541.9 658.3h0M547.5 657.3h0M550.1 657.3h0M552.0 658.3h0M554.4 656.5h0M558.1 656.8h0M563.0 656.9h0M572.0 658.4h0M577.4 656.9h0M581.7 658.2h0M588.8 656.5h0M591.7 657.2h0M604.6 657.3h0M607.0 657.3h0M612.3 656.6h0M619.0 657.6h0M624.1 656.8h0M641.2 657.0h0M650.1 656.5h0M656.4 657.9h0M661.0 657.0h0M666.9 657.0h0M366.9 658.7h0M369.2 658.7h0M371.9 660.1h0M379.9 658.6h0M386.0 660.2h0M391.1 659.1h0M392.3 659.6h0M403.2 659.8h0M404.9 659.8h0M426.3 658.7h0M428.1 660.2h0M431.6 659.5h0M434.5 660.4h0M447.5 659.9h0M456.2 660.1h0M456.6 659.5h0M468.7 659.3h0M472.4 659.8h0M474.1 658.6h0M476.7 659.6h0M479.0 660.3h0M493.0 660.1h0M495.4 659.5h0M505.1 659.3h0M507.2 659.6h0M510.3 658.7h0M511.9 659.1h0M523.1 658.9h0M525.6 659.8h0M542.3 658.9h0M546.6 659.9h0M549.6 659.7h0M552.8 658.5h0M555.0 660.0h0M560.6 659.3h0M566.6 659.6h0M570.7 659.4h0M575.2 659.5h0M584.4 659.5h0M593.5 658.9h0M597.5 659.9h0M600.2 659.5h0M601.9 658.5h0M603.9 659.5h0M609.4 659.7h0M612.2 658.9h0M613.6 660.4h0M615.7 660.1h0M617.8 658.7h0M620.3 659.3h0M624.7 658.7h0M628.4 659.7h0M635.3 659.5h0M639.1 659.0h0M642.2 659.6h0M645.2 660.2h0M649.9 659.5h0M652.7 659.4h0M657.0 658.7h0M661.1 660.2h0M663.7 659.5h0M371.6 662.0h0M374.5 662.2h0M377.2 660.6h0M380.3 662.5h0M385.2 661.5h0M387.2 661.9h0M390.6 661.5h0M394.5 661.6h0M402.0 662.2h0M402.7 662.4h0M406.0 661.1h0M417.6 661.5h0M422.1 661.9h0M425.2 662.5h0M434.0 662.3h0M438.8 662.2h0M449.0 661.7h0M453.2 660.9h0M459.6 661.5h0M460.8 661.4h0M463.1 661.6h0M470.9 661.0h0M474.1 661.8h0M479.6 660.8h0M483.5 662.3h0M492.9 661.4h0M494.6 662.4h0M502.7 661.9h0M511.5 660.6h0M514.5 660.9h0M515.5 661.1h0M518.7 662.0h0M531.3 661.0h0M544.4 661.5h0M548.4 660.6h0M550.5 660.8h0M559.7 660.7h0M561.8 661.9h0M570.0 661.2h0M573.8 661.1h0M578.4 660.7h0M581.6 661.2h0M591.5 661.0h0M594.9 662.4h0M598.5 662.1h0M605.2 661.1h0M620.1 662.5h0M624.6 661.4h0M627.7 661.0h0M629.7 662.1h0M635.6 660.8h0M641.7 662.0h0M650.1 662.3h0M657.7 662.5h0M660.5 660.7h0M664.7 660.8h0M668.0 661.1h0M366.1 664.1h0M376.1 663.3h0M378.1 662.9h0M383.5 664.1h0M385.8 663.4h0M388.7 663.5h0M393.3 664.6h0M407.2 662.9h0M410.4 664.3h0M411.2 663.4h0M421.3 663.4h0M426.8 664.0h0M430.9 663.6h0M446.1 663.3h0M447.1 663.9h0M451.3 663.4h0M460.2 662.7h0M461.4 663.5h0M470.1 664.5h0M474.8 662.9h0M478.7 664.2h0M491.4 664.4h0M493.5 662.9h0M501.7 664.5h0M508.2 664.1h0M512.0 663.7h0M519.2 664.6h0M522.8 662.9h0M525.5 663.5h0M527.9 663.9h0M537.4 664.2h0M541.4 662.8h0M544.9 663.7h0M546.9 663.6h0M548.0 662.9h0M551.1 662.8h0M556.4 662.7h0M565.1 663.7h0M572.0 663.1h0M574.2 664.6h0M577.9 663.9h0M582.2 663.5h0M584.3 663.0h0M588.6 664.3h0M591.4 664.6h0M594.3 664.2h0M596.0 664.5h0M599.6 663.6h0M608.2 663.0h0M610.3 662.8h0M624.0 663.6h0M631.2 663.6h0M649.0 663.2h0M655.3 662.9h0M656.9 664.0h0M668.2 663.2h0M363.8 666.1h0M366.0 666.2h0M372.8 664.8h0M374.8 665.1h0M376.4 666.0h0M381.8 666.5h0M384.9 665.1h0M390.0 666.1h0M402.1 666.6h0M404.6 665.7h0M410.9 665.8h0M412.3 666.3h0M417.7 666.0h0M429.5 664.8h0M435.0 665.8h0M444.5 665.5h0M447.2 665.5h0M449.3 665.9h0M451.9 666.0h0M455.9 666.7h0M462.1 666.1h0M469.1 666.7h0M474.0 665.1h0M475.7 665.4h0M477.5 666.1h0M480.8 666.2h0M485.9 666.0h0M488.0 666.1h0M499.3 666.7h0M506.0 665.9h0M510.9 666.0h0M513.7 665.9h0M528.7 665.1h0M532.9 665.8h0M536.1 666.3h0M540.3 666.6h0M543.2 665.9h0M546.2 665.7h0M548.6 665.2h0M557.4 666.1h0M564.1 666.2h0M571.1 665.7h0M574.3 666.2h0M576.2 666.0h0M585.3 666.0h0M587.5 665.6h0M593.7 666.6h0M598.2 665.1h0M604.7 665.8h0M613.9 666.2h0M626.9 665.6h0M635.6 666.3h0M638.8 666.6h0M646.5 666.6h0M655.1 666.6h0M659.4 666.4h0M662.2 665.4h0" stroke="#74505a" stroke-width="1.8" stroke-linecap="round" fill="none" stroke-opacity="0.85"/>
<rect x="364" y="666" width="303" height="6" fill="#efcdeb"/>
<path d="M360.3 669.2h0M377.1 669.3h0M399.5 670.6h0M408.7 668.1h0M441.0 669.9h0M495.7 669.7h0M535.9 671.3h0M578.0 671.9h0M593.7 671.5h0" stroke="#8d6fbf" stroke-width="3.0" stroke-linecap="round" fill="none" stroke-opacity="0.8"/>
</g>
<rect x="364" y="389" width="303" height="27" filter="url(#grain)" opacity="0.38"/>
<rect x="364" y="416" width="303" height="65" filter="url(#grain)" opacity="0.38"/>
<rect x="364" y="543" width="303" height="15" filter="url(#grain)" opacity="0.38"/>
<rect x="364" y="623" width="303" height="29" filter="url(#grain)" opacity="0.38"/>
</g>
<clipPath id="hc4"><rect x="54" y="678" width="303" height="300"/></clipPath>
<g clip-path="url(#hc4)"><g filter="url(#hblur)">
<rect x="54" y="678" width="303" height="300" fill="#e5a1d7"/>
<rect x="54" y="678" width="303" height="24" fill="#e6b3de"/>
<path d="M53.5 680.4h0M65.1 681.1h0M68.5 680.6h0M84.0 680.7h0M86.5 678.9h0M95.4 678.8h0M101.5 678.6h0M110.5 681.2h0M117.4 678.6h0M139.2 678.8h0M150.9 681.3h0M167.8 679.6h0M209.4 680.8h0M211.5 680.0h0M215.1 678.8h0M218.7 681.1h0M233.2 680.9h0M235.6 681.6h0M240.6 680.2h0M244.1 679.0h0M262.4 680.8h0M284.3 681.4h0M287.1 681.0h0M296.2 681.4h0M307.6 680.8h0M311.5 681.3h0M331.0 679.4h0M352.1 679.8h0M359.1 679.3h0M57.7 683.7h0M68.5 684.8h0M82.4 682.7h0M105.6 683.0h0M117.4 682.2h0M122.4 683.3h0M130.0 685.1h0M145.2 684.2h0M154.7 684.2h0M162.6 684.9h0M170.3 683.6h0M177.3 682.0h0M182.9 684.6h0M189.3 683.8h0M194.2 684.1h0M206.2 684.9h0M209.9 684.5h0M216.4 682.4h0M229.6 685.1h0M233.0 682.5h0M237.3 683.4h0M251.0 682.5h0M262.8 683.8h0M266.2 682.1h0M290.2 683.6h0M305.8 682.0h0M314.9 682.1h0M316.6 685.1h0M321.0 683.8h0M324.7 684.3h0M333.1 682.5h0M337.7 682.0h0M347.1 682.3h0M354.8 684.2h0M65.4 686.4h0M79.9 688.1h0M83.8 686.9h0M103.8 688.0h0M123.5 687.4h0M137.4 688.2h0M139.0 685.5h0M147.9 687.6h0M151.0 686.2h0M154.9 686.5h0M165.1 687.5h0M172.4 687.3h0M176.4 686.1h0M186.9 688.1h0M192.4 686.2h0M203.8 688.0h0M222.9 687.7h0M226.7 688.2h0M233.5 686.5h0M237.1 688.2h0M242.9 687.0h0M249.4 686.1h0M255.1 688.2h0M272.7 686.9h0M318.5 687.2h0M327.7 685.8h0M357.2 685.5h0M56.7 691.5h0M62.8 690.3h0M68.9 689.5h0M78.5 689.9h0M83.6 689.1h0M89.4 690.1h0M102.0 690.4h0M105.9 689.5h0M123.3 691.1h0M125.4 689.3h0M134.1 690.8h0M139.6 689.3h0M150.5 691.8h0M158.6 691.9h0M162.6 691.8h0M186.3 690.0h0M190.4 689.1h0M226.3 689.8h0M233.9 690.2h0M238.0 690.9h0M249.1 691.4h0M259.2 689.5h0M279.4 689.1h0M281.3 691.1h0M289.0 689.2h0M293.2 688.9h0M298.1 689.6h0M305.6 689.5h0M309.0 691.0h0M334.4 691.1h0M338.0 689.8h0M342.2 691.0h0M358.7 690.9h0M51.6 693.8h0M71.3 694.5h0M84.9 693.8h0M87.4 693.6h0M97.5 692.8h0M98.8 693.6h0M104.7 694.2h0M112.4 692.9h0M128.5 694.2h0M132.0 695.3h0M137.6 692.7h0M148.3 695.3h0M161.3 693.5h0M165.5 694.0h0M175.9 695.0h0M178.8 692.4h0M182.7 695.0h0M188.0 693.3h0M196.7 692.9h0M216.0 694.9h0M226.8 694.5h0M238.8 693.4h0M245.1 695.0h0M249.1 694.8h0M257.3 694.1h0M264.1 693.9h0M269.4 693.7h0M279.2 692.8h0M284.9 693.0h0M293.4 693.3h0M296.0 693.1h0M300.3 693.4h0M307.9 692.9h0M323.3 693.3h0M328.4 693.5h0M338.9 694.2h0M349.3 695.5h0M80.6 697.6h0M88.9 698.4h0M94.1 697.5h0M100.7 698.7h0M105.3 698.0h0M110.7 697.9h0M113.3 696.7h0M116.6 698.8h0M127.0 698.8h0M150.3 696.9h0M155.4 698.9h0M158.7 696.2h0M168.7 698.4h0M178.7 696.7h0M187.5 698.8h0M191.4 697.2h0M193.5 697.9h0M206.3 696.0h0M210.9 696.0h0M222.7 696.1h0M230.8 696.1h0M234.5 696.2h0M236.6 697.0h0M243.3 696.2h0M244.9 698.1h0M251.6 698.2h0M254.3 698.7h0M260.7 697.7h0M269.5 696.1h0M273.0 695.9h0M284.9 697.2h0M293.6 697.2h0M304.9 697.7h0M309.2 697.8h0M315.6 698.7h0M316.9 697.0h0M325.5 697.3h0M330.2 697.5h0M342.0 696.2h0M345.7 698.6h0M350.2 699.0h0M354.9 698.2h0M59.3 699.4h0M81.3 700.4h0M82.6 701.5h0M99.1 700.1h0M120.4 700.4h0M128.7 701.4h0M136.4 700.5h0M144.6 701.2h0M151.0 699.7h0M160.6 700.3h0M164.4 700.6h0M168.9 699.3h0M179.3 701.7h0M182.5 699.8h0M186.7 701.8h0M198.6 699.8h0M208.4 701.6h0M210.6 701.5h0M216.7 699.7h0M223.0 701.6h0M230.8 700.6h0M238.8 701.4h0M260.7 702.0h0M273.5 701.7h0M295.8 700.3h0M308.3 701.4h0M315.4 702.1h0M327.0 702.0h0M330.4 701.4h0M336.9 699.3h0M343.2 701.9h0M351.9 700.0h0M357.3 700.0h0M358.5 702.5h0" stroke="#f8e4f4" stroke-width="2.4" stroke-linecap="round" fill="none" stroke-opacity="0.9"/>
<path d="M50.6 693.0h0M50.7 683.5h0M61.6 692.6h0M73.6 689.5h0M74.6 684.9h0M85.8 690.0h0M96.8 691.7h0M98.0 684.5h0M107.3 692.8h0M119.4 694.2h0M132.2 690.5h0M145.7 692.6h0M147.4 684.4h0M158.9 694.1h0M159.5 686.3h0M182.3 690.9h0M192.8 694.0h0M205.0 692.8h0M241.6 691.0h0M253.6 692.4h0M267.8 691.9h0M277.7 692.5h0M289.6 692.2h0M302.9 690.1h0M314.9 694.1h0M313.0 683.9h0M324.8 690.5h0M326.5 685.1h0M338.6 684.8h0M349.0 693.5h0" stroke="#f6e6f3" stroke-width="12.5" stroke-linecap="round" fill="none" stroke-opacity="0.7"/>
<path d="M50.6 693.0h0M50.7 683.5h0M61.6 692.6h0M73.6 689.5h0M74.6 684.9h0M85.8 690.0h0M96.8 691.7h0M98.0 684.5h0M107.3 692.8h0M119.4 694.2h0M132.2 690.5h0M145.7 692.6h0M147.4 684.4h0M158.9 694.1h0M159.5 686.3h0M182.3 690.9h0M192.8 694.0h0M205.0 692.8h0M241.6 691.0h0M253.6 692.4h0M267.8 691.9h0M277.7 692.5h0M289.6 692.2h0M302.9 690.1h0M314.9 694.1h0M313.0 683.9h0M324.8 690.5h0M326.5 685.1h0M338.6 684.8h0M349.0 693.5h0" stroke="#6e5ca2" stroke-width="10.4" stroke-linecap="round" fill="none"/>
<path d="M50.6 693.0h0M50.7 683.5h0M61.6 692.6h0M73.6 689.5h0M74.6 684.9h0M85.8 690.0h0M96.8 691.7h0M98.0 684.5h0M107.3 692.8h0M119.4 694.2h0M132.2 690.5h0M145.7 692.6h0M147.4 684.4h0M158.9 694.1h0M159.5 686.3h0M182.3 690.9h0M192.8 694.0h0M205.0 692.8h0M241.6 691.0h0M253.6 692.4h0M267.8 691.9h0M277.7 692.5h0M289.6 692.2h0M302.9 690.1h0M314.9 694.1h0M313.0 683.9h0M324.8 690.5h0M326.5 685.1h0M338.6 684.8h0M349.0 693.5h0" stroke="#9882c4" stroke-width="7.8" stroke-linecap="round" fill="none"/>
<path d="M50.6 693.0h0M50.7 683.5h0M61.6 692.6h0M73.6 689.5h0M74.6 684.9h0M85.8 690.0h0M96.8 691.7h0M98.0 684.5h0M107.3 692.8h0M119.4 694.2h0M132.2 690.5h0M145.7 692.6h0M147.4 684.4h0M158.9 694.1h0M159.5 686.3h0M182.3 690.9h0M192.8 694.0h0M205.0 692.8h0M241.6 691.0h0M253.6 692.4h0M267.8 691.9h0M277.7 692.5h0M289.6 692.2h0M302.9 690.1h0M314.9 694.1h0M313.0 683.9h0M324.8 690.5h0M326.5 685.1h0M338.6 684.8h0M349.0 693.5h0" stroke="#5a4690" stroke-width="2.2" stroke-linecap="round" fill="none"/>
<rect x="54" y="701" width="303" height="55" fill="#e5a1d7"/>
<path d="M51.6 702.5h0M54.8 701.6h0M77.5 703.8h0M88.9 703.9h0M103.3 701.9h0M120.3 703.0h0M124.8 703.2h0M135.1 702.4h0M139.0 701.8h0M153.5 703.3h0M156.0 704.4h0M182.0 701.9h0M186.9 701.6h0M204.2 704.4h0M231.6 702.4h0M241.8 704.3h0M245.2 701.9h0M249.4 704.4h0M270.6 702.9h0M288.5 703.9h0M299.7 703.1h0M305.3 702.5h0M312.3 704.5h0M317.8 703.7h0M323.5 702.2h0M332.0 702.2h0M344.4 703.3h0M357.2 703.7h0M59.5 707.9h0M67.5 705.2h0M94.9 707.5h0M114.1 707.5h0M125.1 708.0h0M151.7 707.2h0M155.0 706.7h0M159.0 707.6h0M168.9 705.3h0M180.4 706.2h0M196.0 707.3h0M200.0 705.7h0M204.6 707.8h0M210.3 706.6h0M213.2 706.6h0M222.7 707.2h0M231.3 707.0h0M233.1 705.7h0M239.6 707.3h0M251.4 705.6h0M272.4 708.1h0M286.1 707.7h0M293.4 705.8h0M322.6 706.7h0M326.9 707.8h0M352.6 705.4h0M355.7 707.0h0M51.0 710.1h0M55.7 711.9h0M61.5 709.5h0M63.7 711.7h0M86.5 711.5h0M101.9 710.8h0M106.0 710.4h0M112.1 709.5h0M119.7 709.8h0M139.5 709.1h0M152.6 711.3h0M159.8 710.6h0M172.5 709.3h0M178.5 709.6h0M189.3 711.9h0M195.6 711.5h0M202.3 709.6h0M206.5 710.3h0M212.3 711.4h0M216.5 710.7h0M282.4 709.9h0M295.0 709.6h0M300.6 711.0h0M311.7 708.9h0M324.0 709.9h0M332.7 710.2h0M337.3 710.9h0M350.2 710.9h0M355.7 711.8h0M62.1 714.2h0M67.4 713.7h0M70.6 714.2h0M74.3 714.6h0M113.7 715.1h0M141.0 714.4h0M150.9 713.5h0M157.9 713.3h0M188.2 714.4h0M197.3 712.7h0M213.1 715.4h0M221.1 714.1h0M243.0 712.6h0M254.8 715.3h0M263.4 715.5h0M276.9 714.0h0M279.2 713.2h0M284.1 712.6h0M302.2 714.5h0M311.4 714.3h0M315.8 713.0h0M340.9 712.7h0M356.9 714.8h0M81.5 717.6h0M84.9 716.9h0M91.2 717.3h0M93.1 717.6h0M109.8 718.9h0M116.5 718.9h0M127.6 718.1h0M136.8 718.8h0M157.9 718.7h0M172.2 717.8h0M187.8 716.5h0M192.0 716.4h0M197.8 718.1h0M216.6 719.1h0M225.5 716.2h0M226.7 718.2h0M232.7 717.8h0M250.7 716.9h0M263.1 718.9h0M269.7 716.9h0M277.7 719.1h0M286.2 716.9h0M290.9 717.0h0M308.5 717.9h0M331.9 718.0h0M342.4 716.6h0M346.6 719.3h0" stroke="#f4cdef" stroke-width="2.2" stroke-linecap="round" fill="none" stroke-opacity="0.8"/>
<path d="M56.5 701.6h0M61.3 702.0h0M64.5 703.6h0M77.9 701.2h0M80.6 703.4h0M90.0 703.5h0M94.7 703.8h0M113.3 702.9h0M116.7 703.2h0M135.1 701.3h0M138.2 702.3h0M153.8 702.4h0M162.2 703.7h0M174.5 702.9h0M228.4 701.3h0M231.9 701.7h0M248.0 703.3h0M253.2 703.3h0M271.9 702.1h0M290.0 701.5h0M295.0 702.5h0M314.3 703.3h0M317.3 702.4h0M323.9 703.8h0M332.0 703.9h0M53.9 705.3h0M59.7 706.4h0M78.6 705.4h0M82.6 704.0h0M90.0 705.8h0M96.7 705.8h0M105.3 705.1h0M107.3 704.8h0M118.7 705.7h0M123.9 706.1h0M135.9 706.7h0M168.4 705.4h0M177.9 704.1h0M181.3 704.1h0M186.3 704.1h0M190.7 706.6h0M205.4 704.2h0M207.2 704.8h0M229.5 706.2h0M234.5 704.9h0M237.7 706.7h0M252.7 705.0h0M258.4 704.8h0M265.6 706.6h0M270.3 706.8h0M274.4 706.1h0M281.0 705.2h0M300.1 706.5h0M307.0 705.7h0M61.7 708.5h0M63.8 707.1h0M72.2 708.3h0M76.1 708.5h0M80.1 709.0h0M84.3 708.0h0M109.1 708.5h0M118.7 707.0h0M124.9 708.2h0M132.2 708.4h0M178.1 706.9h0M193.9 706.8h0M196.5 708.7h0M215.3 707.3h0M219.1 707.8h0M226.4 707.6h0M240.4 707.5h0M245.6 707.3h0M249.5 706.9h0M259.9 707.8h0M263.3 707.5h0M280.9 706.9h0M283.6 708.5h0M285.2 708.5h0M298.2 709.4h0M302.7 708.6h0M305.5 707.5h0M312.6 709.0h0M342.3 708.0h0M347.8 707.4h0M72.4 711.6h0M77.3 710.1h0M79.6 709.7h0M98.8 711.4h0M103.1 710.8h0M106.2 709.7h0M127.9 711.5h0M140.4 710.9h0M157.6 711.1h0M165.2 710.9h0M175.2 711.1h0M192.1 712.2h0M200.0 709.7h0M204.0 711.3h0M209.7 710.3h0M218.4 711.0h0M222.8 711.5h0M239.7 711.2h0M242.9 711.0h0M245.4 711.7h0M258.3 711.7h0M264.3 710.2h0M288.2 712.0h0M305.4 710.0h0M320.2 710.3h0M322.1 709.9h0M329.1 710.5h0M332.7 712.0h0M336.3 710.1h0M56.0 713.4h0M94.5 714.7h0M113.1 713.3h0M123.4 712.8h0M125.8 714.4h0M135.4 714.8h0M139.1 714.9h0M151.5 713.1h0M186.4 713.8h0M213.6 712.8h0M217.5 712.7h0M220.7 713.9h0M257.2 713.2h0M279.8 714.1h0M300.8 714.8h0M309.3 714.6h0M318.7 713.6h0M324.5 713.1h0M64.9 715.8h0M72.7 717.2h0M78.3 716.5h0M97.7 717.6h0M102.1 715.7h0M106.1 717.1h0M109.3 716.1h0M117.9 716.3h0M122.6 716.1h0M143.4 716.1h0M148.7 715.8h0M167.2 716.3h0M169.8 717.2h0M171.6 715.8h0M174.8 717.2h0M204.8 717.2h0M210.7 715.3h0M214.0 717.0h0M218.0 715.7h0M226.9 717.1h0M243.1 715.9h0M282.0 717.1h0M288.9 716.7h0M322.3 716.1h0M57.8 718.3h0M70.4 720.0h0M76.6 718.5h0M97.8 720.4h0M103.5 720.0h0M115.3 719.0h0M122.4 719.3h0M135.1 720.4h0M148.2 720.0h0M171.6 719.6h0M172.7 718.1h0M179.6 718.0h0M182.2 719.5h0M186.2 718.0h0M193.1 720.3h0M201.8 720.2h0M206.1 719.1h0M250.8 720.5h0M256.2 719.3h0M260.5 719.5h0M264.7 720.4h0M276.9 718.2h0M291.3 719.1h0M307.9 718.2h0M311.4 718.0h0M316.0 720.6h0M318.5 718.9h0M321.9 720.0h0M336.6 718.8h0M339.3 719.7h0M345.6 720.3h0M350.5 719.0h0M353.2 720.1h0M359.1 720.3h0M61.1 721.0h0M70.2 722.9h0M100.9 721.1h0M106.0 722.9h0M107.0 721.9h0M126.4 723.5h0M144.8 722.5h0M147.5 722.4h0M158.6 722.2h0M175.8 722.1h0M180.1 722.5h0M184.7 723.4h0M188.8 723.4h0M196.0 723.5h0M208.0 722.9h0M237.1 720.9h0M300.2 722.6h0M317.1 721.6h0M330.0 720.7h0M339.3 721.8h0M347.5 721.2h0M353.6 722.9h0M359.3 721.8h0M68.3 723.6h0M72.9 726.1h0M94.0 725.6h0M102.3 724.8h0M112.0 725.9h0M120.3 725.9h0M139.7 724.3h0M149.3 725.3h0M158.6 724.2h0M181.0 725.2h0M187.8 724.0h0M193.2 725.0h0M200.8 725.0h0M205.1 725.1h0M209.6 725.9h0M219.1 725.1h0M250.6 725.8h0M253.2 724.5h0M257.8 725.6h0M266.3 725.3h0M289.7 724.2h0M296.8 725.5h0M298.3 724.6h0M300.9 724.7h0M316.1 725.7h0M324.9 725.3h0M347.5 726.2h0M354.6 725.2h0M360.4 726.0h0M53.4 728.1h0M96.2 727.7h0M97.5 727.8h0M100.8 727.3h0M117.7 727.9h0M120.9 727.2h0M126.4 726.4h0M152.3 728.7h0M182.9 727.6h0M189.0 728.1h0M192.4 727.3h0M203.7 728.3h0M208.1 726.8h0M210.6 728.6h0M217.3 727.3h0M224.5 727.3h0M228.6 727.6h0M233.8 728.9h0M243.9 728.4h0M248.0 727.5h0M264.5 726.4h0M291.3 729.0h0M294.4 726.8h0M307.4 728.5h0M317.1 726.3h0M319.8 728.4h0M338.2 727.0h0M65.8 729.3h0M96.0 730.9h0M111.3 731.6h0M113.1 729.4h0M116.4 730.0h0M118.8 730.8h0M131.3 730.9h0M141.8 729.3h0M154.3 730.0h0M159.1 731.2h0M184.1 730.2h0M195.2 731.3h0M207.4 731.0h0M221.5 729.1h0M237.8 731.6h0M257.6 729.5h0M259.9 731.3h0M262.9 731.3h0M284.1 729.5h0M289.0 729.8h0M304.3 729.1h0M314.4 729.6h0M320.8 730.3h0M324.2 729.7h0M329.9 729.9h0M335.8 730.8h0M353.9 729.9h0M53.6 732.8h0M64.2 734.4h0M67.6 733.3h0M83.7 732.3h0M84.6 733.8h0M107.8 732.2h0M111.4 732.1h0M118.6 734.4h0M127.6 733.6h0M131.5 733.2h0M155.0 732.5h0M168.7 731.8h0M186.5 733.0h0M189.8 734.1h0M198.4 732.3h0M206.2 733.2h0M216.5 732.3h0M223.9 733.8h0M252.2 733.1h0M265.0 733.8h0M294.6 732.5h0M295.9 733.2h0M301.3 733.7h0M308.7 734.0h0M315.7 733.4h0M324.9 732.1h0M336.0 733.2h0M64.1 735.5h0M72.2 736.4h0M85.4 735.3h0M86.2 736.9h0M93.1 737.3h0M114.5 734.9h0M116.9 734.9h0M138.4 737.2h0M149.6 735.7h0M151.2 737.2h0M153.4 736.8h0M158.3 735.7h0M179.2 737.0h0M187.7 734.8h0M193.3 735.9h0M202.6 735.6h0M222.7 735.6h0M225.5 736.9h0M227.0 735.5h0M240.0 736.0h0M277.4 734.8h0M282.9 737.3h0M322.3 735.0h0M325.4 735.7h0M339.5 736.9h0M345.8 735.4h0M352.0 736.7h0M359.0 735.0h0M78.5 739.2h0M87.1 738.2h0M99.9 740.0h0M105.0 739.7h0M120.2 739.4h0M134.2 737.5h0M137.5 738.5h0M169.3 737.8h0M176.1 738.8h0M183.0 737.4h0M198.1 737.9h0M201.2 739.0h0M219.6 738.0h0M236.0 739.9h0M249.3 739.1h0M270.4 737.7h0M274.7 740.0h0M278.3 738.5h0M283.1 738.1h0M293.7 738.3h0M309.7 738.0h0M316.9 738.8h0M338.0 739.5h0M356.0 737.9h0M359.0 739.4h0M52.6 741.4h0M99.6 741.2h0M107.7 740.8h0M122.0 742.6h0M131.4 742.9h0M136.8 740.3h0M139.7 741.3h0M155.3 742.3h0M162.3 740.8h0M164.0 742.0h0M181.5 742.0h0M189.4 742.5h0M204.6 741.6h0M213.0 742.3h0M218.1 742.4h0M223.1 742.4h0M233.9 742.8h0M257.4 740.4h0M260.5 742.5h0M267.2 740.8h0M282.1 742.0h0M314.5 741.4h0M357.4 740.8h0M360.9 741.9h0M56.0 744.9h0M69.1 743.2h0M75.2 743.8h0M84.1 745.2h0M109.3 744.3h0M119.3 744.1h0M121.8 743.5h0M160.1 744.6h0M168.3 743.1h0M212.0 743.9h0M221.1 744.0h0M279.0 745.2h0M300.2 744.2h0M353.8 745.3h0M51.1 746.9h0M66.2 747.1h0M68.5 748.4h0M74.7 748.5h0M80.2 746.3h0M96.4 747.6h0M99.1 748.1h0M125.7 747.2h0M128.7 747.7h0M131.4 748.1h0M165.8 748.2h0M175.1 746.3h0M190.4 746.7h0M200.7 746.0h0M216.7 747.2h0M221.8 747.5h0M243.4 746.3h0M261.4 746.6h0M263.7 746.1h0M268.9 746.3h0M277.4 746.5h0M291.3 745.8h0M296.4 748.4h0M322.4 747.3h0M325.3 746.7h0M329.7 748.3h0M85.3 751.0h0M91.7 749.5h0M95.9 750.1h0M99.2 749.8h0M114.6 749.4h0M126.7 748.8h0M138.2 750.3h0M151.3 749.8h0M199.1 749.2h0M207.7 749.8h0M216.5 750.7h0M231.2 749.9h0M233.5 749.6h0M240.5 751.2h0M247.4 749.1h0M251.4 748.9h0M258.6 751.2h0M261.3 751.2h0M280.3 750.5h0M284.5 749.2h0M290.5 749.8h0M299.4 750.6h0M319.9 749.0h0M327.4 750.0h0M329.5 751.2h0M339.4 749.8h0M353.5 750.4h0M52.3 752.0h0M78.5 752.1h0M84.6 751.8h0M115.3 751.7h0M119.3 754.0h0M122.5 753.2h0M130.1 751.6h0M132.2 751.8h0M139.2 752.3h0M144.4 753.3h0M149.7 753.0h0M152.2 752.4h0M165.0 752.3h0M176.1 752.7h0M184.9 753.9h0M216.6 752.8h0M244.6 752.3h0M257.6 753.4h0M261.8 751.6h0M270.0 752.9h0M276.4 752.0h0M282.0 752.2h0M291.5 753.2h0M296.3 753.0h0M329.8 753.5h0M332.7 753.1h0M351.4 753.2h0M357.1 752.4h0M53.1 755.5h0M57.3 756.8h0M67.0 756.6h0M69.1 754.8h0M93.6 755.6h0M94.2 756.7h0M106.1 756.7h0M111.4 754.3h0M125.5 756.1h0M146.6 756.6h0M179.9 756.4h0M205.5 754.4h0M206.6 756.1h0M213.1 755.1h0M291.2 754.1h0M293.7 755.4h0M297.3 755.7h0M315.1 756.5h0M320.5 756.0h0M333.3 755.3h0M335.2 754.9h0M354.6 756.3h0M359.2 755.2h0" stroke="#eeb4e3" stroke-width="1.4" stroke-linecap="round" fill="none" stroke-opacity="0.8"/>
<path d="M52.0 754.9 L62.2 753.1 L72.5 752.8 L82.7 753.9 L92.9 754.7 L103.2 754.3 L113.4 753.9 L123.6 754.9 L133.9 756.6 L144.1 757.3 L154.3 756.4 L164.6 755.3 L174.8 755.4 L185.0 755.9 L195.3 755.4 L205.5 753.6 L215.7 752.6 L226.0 753.3 L236.2 754.6 L246.4 754.9 L256.7 754.3 L266.9 754.5 L277.1 756.1 L287.4 757.4 L297.6 757.0 L307.8 755.6 L318.1 754.9 L328.3 755.4 L338.5 755.5 L348.8 754.3 L359.0 752.8 L359.0 823.4 L348.8 823.6 L338.5 825.1 L328.3 826.4 L318.1 826.0 L307.8 824.6 L297.6 823.9 L287.4 824.3 L277.1 824.4 L266.9 823.2 L256.7 821.7 L246.4 821.8 L236.2 823.2 L226.0 824.2 L215.7 824.0 L205.5 823.6 L195.3 824.5 L185.0 826.0 L174.8 826.4 L164.6 825.1 L154.3 823.7 L144.1 823.7 L133.9 824.2 L123.6 823.7 L113.4 822.2 L103.2 821.5 L92.9 822.6 L82.7 824.2 L72.5 824.6 L62.2 824.1 L52.0 824.2Z" fill="#cbbde0"/>
<path d="M49.0 760.5h0M59.2 761.0h0M67.9 760.8h0M78.1 760.8h0M87.3 761.5h0M96.3 760.4h0M104.8 760.3h0M115.2 759.9h0M124.4 760.5h0M132.8 760.7h0M141.5 761.2h0M152.3 760.3h0M161.4 760.4h0M169.6 759.9h0M180.1 760.6h0M189.2 760.8h0M198.3 760.5h0M207.9 761.0h0M217.6 760.1h0M226.8 761.2h0M235.7 761.1h0M244.1 761.3h0M253.9 760.0h0M262.5 760.3h0M272.3 760.6h0M282.4 760.6h0M300.2 761.2h0M309.0 760.6h0M319.3 761.4h0M328.6 759.8h0M337.8 761.5h0M347.1 761.2h0M355.5 761.4h0M366.0 760.5h0M54.5 768.0h0M64.1 768.7h0M72.7 768.0h0M81.3 769.0h0M91.3 769.5h0M99.9 767.9h0M109.9 768.5h0M119.8 767.8h0M128.6 768.9h0M138.5 769.0h0M147.0 768.6h0M156.4 768.7h0M165.7 768.9h0M184.0 768.0h0M194.2 767.9h0M202.1 768.3h0M212.0 769.5h0M221.4 768.0h0M230.9 769.4h0M240.1 769.1h0M248.6 768.1h0M259.0 767.8h0M268.4 769.5h0M277.2 768.5h0M287.0 768.8h0M295.3 769.5h0M306.0 769.2h0M313.8 768.4h0M323.8 768.8h0M333.5 769.0h0M343.0 768.6h0M351.7 767.9h0M360.2 768.9h0M48.7 776.1h0M59.2 776.2h0M67.7 777.5h0M77.0 777.2h0M87.3 776.8h0M95.8 777.5h0M104.8 775.8h0M113.7 776.7h0M123.6 776.4h0M133.0 776.3h0M142.7 776.8h0M151.5 775.8h0M160.3 775.8h0M169.6 775.8h0M179.1 776.3h0M189.7 775.8h0M198.0 776.9h0M207.0 776.0h0M226.4 777.1h0M235.9 777.3h0M244.6 777.1h0M253.9 777.3h0M263.4 777.5h0M273.4 776.8h0M282.3 776.8h0M290.7 777.5h0M300.3 777.1h0M309.7 776.3h0M319.1 776.1h0M327.5 777.3h0M338.5 776.9h0M346.3 776.9h0M357.0 776.1h0M365.1 777.0h0M54.2 784.0h0M63.1 785.4h0M72.9 785.1h0M81.3 785.2h0M90.5 784.0h0M100.5 784.1h0M109.3 784.8h0M118.4 785.2h0M129.1 784.0h0M137.8 785.0h0M147.1 784.8h0M156.1 784.4h0M164.9 783.9h0M175.5 783.9h0M185.0 785.2h0M193.8 785.2h0M203.3 784.1h0M212.9 784.4h0M221.8 784.6h0M230.4 785.1h0M239.8 784.4h0M258.4 783.8h0M276.5 784.1h0M286.1 784.1h0M295.3 784.1h0M304.4 784.4h0M314.4 785.1h0M322.9 784.3h0M333.2 784.7h0M342.2 784.0h0M351.5 783.9h0M360.9 784.3h0M59.4 792.5h0M67.5 793.0h0M77.1 793.3h0M86.1 792.8h0M95.3 791.8h0M105.0 791.9h0M115.3 791.9h0M123.6 793.1h0M132.5 792.6h0M141.8 791.9h0M152.2 793.0h0M160.6 793.0h0M170.9 792.4h0M189.5 792.9h0M198.0 792.6h0M207.1 792.2h0M217.5 792.5h0M226.5 792.9h0M235.6 793.3h0M244.9 791.8h0M253.3 792.6h0M262.4 792.0h0M273.0 793.1h0M281.5 792.2h0M290.6 792.9h0M300.9 793.3h0M309.3 793.5h0M319.1 791.9h0M328.8 793.0h0M337.0 792.0h0M346.1 792.7h0M356.2 792.2h0M364.7 792.8h0M54.4 800.7h0M62.5 800.7h0M73.2 800.7h0M82.5 800.9h0M99.9 800.4h0M110.2 801.0h0M118.4 799.9h0M127.9 801.5h0M138.0 800.3h0M146.7 801.0h0M156.0 801.2h0M166.0 800.3h0M175.0 800.0h0M183.9 799.9h0M193.0 801.3h0M202.8 801.5h0M212.2 800.6h0M220.9 800.4h0M230.6 800.8h0M239.1 801.4h0M249.3 800.8h0M258.3 801.3h0M267.1 800.1h0M276.6 801.5h0M285.6 799.8h0M296.6 800.0h0M304.9 800.1h0M313.8 801.0h0M323.9 801.1h0M332.9 800.9h0M342.0 799.8h0M352.5 801.2h0M361.4 800.5h0M49.1 808.4h0M58.8 808.7h0M68.7 808.2h0M76.9 809.2h0M86.1 808.4h0M96.5 808.3h0M114.7 809.3h0M123.4 809.0h0M132.7 809.0h0M142.4 807.8h0M151.0 809.3h0M160.7 808.0h0M170.3 808.3h0M179.7 808.6h0M188.0 808.1h0M198.0 808.6h0M207.9 807.9h0M217.6 808.9h0M225.4 807.8h0M236.0 808.9h0M244.9 809.1h0M253.5 808.9h0M262.7 808.5h0M273.4 808.6h0M281.7 809.3h0M291.1 808.5h0M299.6 808.4h0M309.4 807.9h0M319.7 809.4h0M327.9 807.8h0M338.3 808.9h0M347.3 809.0h0M355.6 808.5h0M366.0 809.0h0M63.8 817.1h0M73.3 816.9h0M82.6 817.3h0M91.3 816.0h0M100.0 817.3h0M109.2 817.5h0M119.3 816.3h0M129.0 817.3h0M137.0 816.7h0M147.1 817.5h0M157.0 817.1h0M164.9 816.3h0M174.2 817.4h0M184.8 816.6h0M192.9 817.1h0M203.5 816.9h0M212.2 816.8h0M221.7 816.3h0M230.6 817.4h0M240.1 816.5h0M249.4 816.6h0M258.8 815.8h0M267.9 817.4h0M277.2 816.8h0M286.9 815.8h0M295.4 815.8h0M304.2 817.4h0M314.7 816.6h0M323.8 816.6h0M332.4 816.3h0M342.3 815.8h0M350.8 817.3h0" stroke="#6a5ca2" stroke-width="9.0" stroke-linecap="round" fill="none"/>
<path d="M49.0 760.5h0M59.2 761.0h0M67.9 760.8h0M78.1 760.8h0M87.3 761.5h0M96.3 760.4h0M104.8 760.3h0M115.2 759.9h0M124.4 760.5h0M132.8 760.7h0M141.5 761.2h0M152.3 760.3h0M161.4 760.4h0M169.6 759.9h0M180.1 760.6h0M189.2 760.8h0M198.3 760.5h0M207.9 761.0h0M217.6 760.1h0M226.8 761.2h0M235.7 761.1h0M244.1 761.3h0M253.9 760.0h0M262.5 760.3h0M272.3 760.6h0M282.4 760.6h0M300.2 761.2h0M309.0 760.6h0M319.3 761.4h0M328.6 759.8h0M337.8 761.5h0M347.1 761.2h0M355.5 761.4h0M366.0 760.5h0M54.5 768.0h0M64.1 768.7h0M72.7 768.0h0M81.3 769.0h0M91.3 769.5h0M99.9 767.9h0M109.9 768.5h0M119.8 767.8h0M128.6 768.9h0M138.5 769.0h0M147.0 768.6h0M156.4 768.7h0M165.7 768.9h0M184.0 768.0h0M194.2 767.9h0M202.1 768.3h0M212.0 769.5h0M221.4 768.0h0M230.9 769.4h0M240.1 769.1h0M248.6 768.1h0M259.0 767.8h0M268.4 769.5h0M277.2 768.5h0M287.0 768.8h0M295.3 769.5h0M306.0 769.2h0M313.8 768.4h0M323.8 768.8h0M333.5 769.0h0M343.0 768.6h0M351.7 767.9h0M360.2 768.9h0M48.7 776.1h0M59.2 776.2h0M67.7 777.5h0M77.0 777.2h0M87.3 776.8h0M95.8 777.5h0M104.8 775.8h0M113.7 776.7h0M123.6 776.4h0M133.0 776.3h0M142.7 776.8h0M151.5 775.8h0M160.3 775.8h0M169.6 775.8h0M179.1 776.3h0M189.7 775.8h0M198.0 776.9h0M207.0 776.0h0M226.4 777.1h0M235.9 777.3h0M244.6 777.1h0M253.9 777.3h0M263.4 777.5h0M273.4 776.8h0M282.3 776.8h0M290.7 777.5h0M300.3 777.1h0M309.7 776.3h0M319.1 776.1h0M327.5 777.3h0M338.5 776.9h0M346.3 776.9h0M357.0 776.1h0M365.1 777.0h0M54.2 784.0h0M63.1 785.4h0M72.9 785.1h0M81.3 785.2h0M90.5 784.0h0M100.5 784.1h0M109.3 784.8h0M118.4 785.2h0M129.1 784.0h0M137.8 785.0h0M147.1 784.8h0M156.1 784.4h0M164.9 783.9h0M175.5 783.9h0M185.0 785.2h0M193.8 785.2h0M203.3 784.1h0M212.9 784.4h0M221.8 784.6h0M230.4 785.1h0M239.8 784.4h0M258.4 783.8h0M276.5 784.1h0M286.1 784.1h0M295.3 784.1h0M304.4 784.4h0M314.4 785.1h0M322.9 784.3h0M333.2 784.7h0M342.2 784.0h0M351.5 783.9h0M360.9 784.3h0M59.4 792.5h0M67.5 793.0h0M77.1 793.3h0M86.1 792.8h0M95.3 791.8h0M105.0 791.9h0M115.3 791.9h0M123.6 793.1h0M132.5 792.6h0M141.8 791.9h0M152.2 793.0h0M160.6 793.0h0M170.9 792.4h0M189.5 792.9h0M198.0 792.6h0M207.1 792.2h0M217.5 792.5h0M226.5 792.9h0M235.6 793.3h0M244.9 791.8h0M253.3 792.6h0M262.4 792.0h0M273.0 793.1h0M281.5 792.2h0M290.6 792.9h0M300.9 793.3h0M309.3 793.5h0M319.1 791.9h0M328.8 793.0h0M337.0 792.0h0M346.1 792.7h0M356.2 792.2h0M364.7 792.8h0M54.4 800.7h0M62.5 800.7h0M73.2 800.7h0M82.5 800.9h0M99.9 800.4h0M110.2 801.0h0M118.4 799.9h0M127.9 801.5h0M138.0 800.3h0M146.7 801.0h0M156.0 801.2h0M166.0 800.3h0M175.0 800.0h0M183.9 799.9h0M193.0 801.3h0M202.8 801.5h0M212.2 800.6h0M220.9 800.4h0M230.6 800.8h0M239.1 801.4h0M249.3 800.8h0M258.3 801.3h0M267.1 800.1h0M276.6 801.5h0M285.6 799.8h0M296.6 800.0h0M304.9 800.1h0M313.8 801.0h0M323.9 801.1h0M332.9 800.9h0M342.0 799.8h0M352.5 801.2h0M361.4 800.5h0M49.1 808.4h0M58.8 808.7h0M68.7 808.2h0M76.9 809.2h0M86.1 808.4h0M96.5 808.3h0M114.7 809.3h0M123.4 809.0h0M132.7 809.0h0M142.4 807.8h0M151.0 809.3h0M160.7 808.0h0M170.3 808.3h0M179.7 808.6h0M188.0 808.1h0M198.0 808.6h0M207.9 807.9h0M217.6 808.9h0M225.4 807.8h0M236.0 808.9h0M244.9 809.1h0M253.5 808.9h0M262.7 808.5h0M273.4 808.6h0M281.7 809.3h0M291.1 808.5h0M299.6 808.4h0M309.4 807.9h0M319.7 809.4h0M327.9 807.8h0M338.3 808.9h0M347.3 809.0h0M355.6 808.5h0M366.0 809.0h0M63.8 817.1h0M73.3 816.9h0M82.6 817.3h0M91.3 816.0h0M100.0 817.3h0M109.2 817.5h0M119.3 816.3h0M129.0 817.3h0M137.0 816.7h0M147.1 817.5h0M157.0 817.1h0M164.9 816.3h0M174.2 817.4h0M184.8 816.6h0M192.9 817.1h0M203.5 816.9h0M212.2 816.8h0M221.7 816.3h0M230.6 817.4h0M240.1 816.5h0M249.4 816.6h0M258.8 815.8h0M267.9 817.4h0M277.2 816.8h0M286.9 815.8h0M295.4 815.8h0M304.2 817.4h0M314.7 816.6h0M323.8 816.6h0M332.4 816.3h0M342.3 815.8h0M350.8 817.3h0" stroke="#7e70b2" stroke-width="6.6" stroke-linecap="round" fill="none"/>
<path d="M47.6 759.5h0M59.3 760.5h0M68.5 761.4h0M77.2 759.6h0M88.2 762.5h0M97.4 761.0h0M103.8 759.5h0M116.7 758.7h0M125.3 760.7h0M134.3 759.8h0M142.5 760.5h0M153.0 759.1h0M160.3 760.9h0M168.2 758.4h0M181.1 760.4h0M188.0 761.7h0M199.4 761.6h0M209.0 761.6h0M216.8 758.6h0M227.9 760.1h0M237.2 761.8h0M243.1 762.3h0M254.0 761.0h0M261.8 759.2h0M272.7 761.3h0M281.7 759.4h0M300.7 762.3h0M309.4 760.8h0M320.2 760.9h0M329.4 758.9h0M338.9 762.3h0M347.5 760.7h0M354.7 760.7h0M367.3 761.7h0M56.0 768.0h0M64.6 767.8h0M74.1 767.7h0M82.0 769.9h0M92.5 770.0h0M100.0 767.1h0M108.7 768.3h0M119.0 766.7h0M128.5 770.1h0M139.6 767.8h0M148.0 769.4h0M155.2 769.1h0M166.8 767.5h0M183.4 768.4h0M193.0 769.3h0M200.9 768.7h0M212.9 770.0h0M222.6 768.9h0M229.9 769.2h0M239.9 768.5h0M248.7 768.5h0M258.4 769.1h0M269.2 770.1h0M277.3 768.4h0M286.1 767.7h0M295.9 770.3h0M305.7 769.7h0M314.5 768.1h0M324.7 769.1h0M332.3 768.8h0M341.7 767.5h0M351.7 768.6h0M361.5 768.0h0M49.1 774.8h0M58.8 775.1h0M68.0 778.5h0M78.5 777.0h0M86.6 776.4h0M97.2 777.2h0M104.5 774.9h0M114.2 776.9h0M122.9 777.0h0M132.0 777.6h0M143.2 777.8h0M152.6 775.2h0M160.0 776.5h0M168.1 776.2h0M180.6 776.1h0M188.5 774.4h0M197.7 778.3h0M207.1 776.7h0M227.8 776.1h0M235.1 776.5h0M244.2 777.4h0M254.5 778.3h0M264.3 777.5h0M273.9 775.4h0M282.4 776.6h0M290.8 778.5h0M301.0 778.0h0M309.2 777.7h0M320.3 777.2h0M327.2 777.4h0M338.4 777.7h0M346.0 778.1h0M358.0 775.3h0M363.8 777.3h0M54.8 784.6h0M63.9 784.4h0M72.8 785.9h0M80.2 785.9h0M89.6 785.5h0M101.7 784.0h0M108.8 786.0h0M119.9 784.4h0M129.9 782.7h0M138.2 783.6h0M146.3 786.0h0M156.2 783.6h0M165.0 783.9h0M176.8 785.3h0M185.0 784.6h0M193.8 784.1h0M202.1 782.8h0M211.7 783.8h0M223.3 784.7h0M229.7 783.7h0M240.3 784.9h0M259.3 784.1h0M276.4 784.7h0M284.8 784.3h0M294.2 783.8h0M303.5 785.7h0M314.6 784.0h0M322.5 784.0h0M333.1 783.5h0M340.9 784.2h0M350.7 783.6h0M360.2 784.3h0M58.2 792.3h0M66.9 793.6h0M76.1 793.4h0M87.2 791.6h0M94.8 792.9h0M104.6 790.6h0M114.0 793.3h0M125.1 792.5h0M132.6 791.9h0M143.1 791.0h0M152.3 793.1h0M160.6 791.8h0M171.6 791.4h0M188.6 792.4h0M197.9 791.1h0M208.5 790.8h0M217.1 792.9h0M226.0 792.5h0M236.9 793.3h0M244.7 793.0h0M254.2 793.4h0M261.5 793.3h0M272.9 791.7h0M282.4 790.8h0M290.8 791.8h0M301.9 792.4h0M309.1 794.1h0M319.2 791.7h0M329.3 792.7h0M336.0 791.1h0M346.6 792.4h0M355.8 793.0h0M363.5 792.8h0M54.1 801.4h0M61.0 800.9h0M72.5 799.8h0M81.1 801.8h0M99.3 801.1h0M108.9 800.2h0M117.4 800.3h0M128.0 802.1h0M136.7 801.2h0M146.6 801.6h0M156.2 800.1h0M165.2 800.7h0M175.0 799.9h0M184.6 799.5h0M194.4 802.4h0M201.4 802.9h0M213.7 801.5h0M222.0 800.8h0M230.8 801.0h0M240.2 800.2h0M248.0 801.3h0M259.7 800.0h0M266.7 801.5h0M275.9 802.1h0M287.0 799.0h0M295.4 798.8h0M306.2 800.0h0M312.9 799.8h0M325.4 801.4h0M331.8 800.5h0M341.5 798.7h0M351.0 800.0h0M362.1 801.5h0M48.9 808.0h0M58.9 808.6h0M68.4 809.0h0M78.3 809.2h0M87.0 809.3h0M97.7 808.0h0M116.0 810.2h0M123.2 807.5h0M133.7 810.4h0M142.6 807.7h0M150.2 810.8h0M159.8 807.6h0M170.5 809.7h0M178.9 807.9h0M188.6 806.9h0M198.6 809.0h0M207.0 807.9h0M218.8 810.3h0M224.2 809.1h0M236.7 809.6h0M245.8 810.1h0M254.5 807.5h0M264.2 809.3h0M272.8 810.0h0M282.5 808.8h0M290.0 808.1h0M299.3 808.5h0M310.1 807.5h0M320.3 809.9h0M328.5 807.2h0M337.9 808.3h0M347.0 809.4h0M356.9 809.4h0M366.2 810.3h0M65.3 816.5h0M72.4 815.9h0M81.7 816.8h0M92.6 817.4h0M98.6 818.1h0M108.3 816.1h0M117.9 814.9h0M128.6 817.6h0M135.5 816.7h0M147.6 816.4h0M155.7 817.7h0M163.7 814.9h0M174.8 816.3h0M184.7 815.3h0M192.5 816.4h0M203.3 815.5h0M212.2 815.6h0M221.3 816.3h0M230.4 816.0h0M239.3 816.8h0M250.3 815.3h0M258.6 816.6h0M269.3 817.3h0M278.1 816.6h0M288.0 816.8h0M295.5 815.9h0M302.7 818.6h0M313.5 815.8h0M323.7 817.0h0M333.8 816.3h0M342.4 816.9h0M349.3 816.3h0" stroke="#6a5a9f" stroke-width="2.6" stroke-linecap="round" fill="none" stroke-opacity="0.7"/>
<rect x="54" y="824" width="303" height="18" fill="#e6a5da"/>
<path d="M53.4 825.5h0M54.3 826.1h0M58.7 824.4h0M67.8 824.4h0M72.9 824.3h0M87.7 824.9h0M91.8 824.2h0M96.8 825.1h0M101.2 825.2h0M109.6 824.5h0M140.8 826.6h0M190.2 824.2h0M200.0 824.7h0M207.3 825.8h0M216.5 826.9h0M218.7 824.9h0M231.8 826.7h0M239.3 824.9h0M259.2 827.0h0M263.4 826.7h0M289.5 826.3h0M298.4 826.9h0M312.4 824.3h0M319.3 824.8h0M323.1 824.3h0M344.3 825.1h0M346.3 825.7h0M352.4 826.0h0M64.8 828.1h0M80.5 827.3h0M93.7 827.8h0M100.7 828.5h0M110.6 829.1h0M131.3 827.6h0M133.4 827.3h0M160.9 827.0h0M181.5 828.7h0M196.9 827.5h0M200.1 828.1h0M231.4 829.2h0M232.4 828.8h0M243.3 828.9h0M259.4 827.8h0M262.2 828.9h0M290.0 829.7h0M297.2 827.7h0M327.3 828.2h0M346.4 827.5h0M355.0 829.5h0M357.5 829.3h0M54.6 830.3h0M62.1 829.9h0M110.4 831.6h0M140.8 831.5h0M152.6 831.3h0M160.3 830.5h0M164.9 832.0h0M167.1 832.0h0M173.7 832.5h0M197.4 830.7h0M211.2 831.1h0M240.8 832.3h0M274.5 830.0h0M285.4 832.2h0M292.3 831.0h0M298.1 832.1h0M301.8 831.4h0M328.1 831.3h0M333.0 832.1h0M337.9 831.0h0M354.2 831.9h0M356.7 830.4h0M70.2 835.1h0M72.2 834.1h0M81.7 833.7h0M86.5 832.7h0M105.0 833.9h0M108.0 835.3h0M139.9 833.4h0M144.3 834.2h0M183.3 833.7h0M201.0 834.2h0M209.8 833.5h0M227.4 833.6h0M240.8 833.1h0M244.1 833.3h0M248.9 833.3h0M256.9 833.0h0M265.1 832.6h0M269.5 832.9h0M275.6 835.0h0M322.2 834.8h0M326.1 833.6h0M339.5 834.7h0M342.3 834.4h0M356.1 833.3h0M59.6 836.4h0M68.0 836.7h0M81.2 835.5h0M100.0 838.1h0M104.1 837.2h0M120.7 835.7h0M126.6 836.1h0M130.3 835.7h0M134.7 838.0h0M148.1 836.2h0M155.0 835.6h0M160.9 835.7h0M165.7 836.8h0M190.8 835.9h0M192.3 836.0h0M198.8 837.0h0M202.6 836.2h0M232.1 836.9h0M235.3 837.4h0M243.2 835.5h0M247.4 835.8h0M250.1 836.7h0M263.7 837.7h0M296.3 836.5h0M299.8 835.5h0M300.6 836.2h0M307.2 836.5h0M314.1 835.6h0M323.1 837.8h0M327.9 837.2h0M343.1 835.7h0M351.9 836.5h0M358.2 835.5h0M62.3 839.2h0M76.2 840.5h0M102.3 838.9h0M108.4 838.9h0M119.3 840.1h0M127.3 838.2h0M147.8 839.2h0M159.8 840.7h0M181.6 839.3h0M189.0 839.8h0M207.1 840.5h0M236.8 839.6h0M243.7 840.3h0M252.0 839.8h0M254.3 839.8h0M263.1 838.2h0M290.7 840.0h0M292.7 839.9h0M301.0 839.7h0M304.0 840.2h0M306.2 839.0h0M318.8 838.2h0M325.6 839.6h0M330.4 839.0h0M335.0 840.4h0M351.3 838.7h0" stroke="#f0bde6" stroke-width="1.5" stroke-linecap="round" fill="none" stroke-opacity="0.8"/>
<path d="M52.0 841.4 L62.2 841.0 L72.5 841.3 L82.7 842.4 L92.9 843.0 L103.2 842.1 L113.4 840.8 L123.6 840.4 L133.9 840.8 L144.1 840.8 L154.3 839.8 L164.6 839.1 L174.8 839.7 L185.0 841.1 L195.3 841.8 L205.5 841.4 L215.7 841.2 L226.0 841.9 L236.2 842.8 L246.4 842.5 L256.7 841.1 L266.9 840.1 L277.1 840.3 L287.4 840.7 L297.6 840.3 L307.8 839.4 L318.1 839.4 L328.3 840.6 L338.5 841.9 L348.8 842.0 L359.0 841.4 L359.0 924.6 L348.8 924.5 L338.5 923.3 L328.3 922.2 L318.1 922.3 L307.8 923.4 L297.6 924.0 L287.4 923.7 L277.1 923.5 L266.9 924.4 L256.7 925.7 L246.4 925.9 L236.2 924.8 L226.0 923.9 L215.7 924.0 L205.5 924.4 L195.3 923.8 L185.0 922.5 L174.8 922.0 L164.6 922.9 L154.3 924.1 L144.1 924.2 L133.9 923.8 L123.6 924.1 L113.4 925.3 L103.2 926.0 L92.9 925.3 L82.7 924.0 L72.5 923.6 L62.2 924.0 L52.0 924.0Z" fill="#d2bbe8"/>
<path d="M169.1 913.5h0M124.2 902.5h0M198.6 909.2h0M102.8 844.6h0M307.9 902.6h0M278.8 919.6h0M113.1 896.8h0M109.5 879.7h0M219.3 908.9h0M185.1 908.6h0M294.8 846.2h0M302.1 857.7h0M125.8 874.9h0M166.8 851.7h0M132.4 850.3h0M169.6 856.4h0M347.2 914.9h0M208.4 903.6h0M297.5 863.6h0M182.5 868.9h0M83.2 891.8h0M56.6 913.7h0M93.9 921.1h0M68.0 908.4h0M238.6 909.6h0M130.4 868.5h0M332.1 874.8h0M321.4 856.2h0M265.2 885.8h0M93.8 897.6h0M90.2 914.0h0M317.0 873.4h0M205.0 874.8h0M223.2 903.6h0M185.7 919.5h0M317.9 898.0h0M324.4 874.3h0M191.8 896.3h0M229.7 891.6h0M84.4 903.3h0M136.8 902.7h0M147.3 896.7h0M235.4 914.9h0M77.9 880.2h0M140.7 896.2h0M252.4 907.7h0M196.0 913.9h0M341.1 914.2h0M113.6 920.9h0M294.7 902.7h0M198.9 885.8h0M173.6 863.1h0M158.6 896.4h0M325.5 907.8h0M129.6 903.0h0M318.6 919.8h0M156.0 856.0h0M74.4 896.4h0M165.9 886.6h0M87.7 874.7h0M102.9 902.8h0M261.6 879.5h0M315.6 891.2h0M149.7 879.9h0M231.8 920.3h0M360.2 868.8h0M202.5 903.7h0M262.7 857.4h0M100.2 863.7h0M156.0 868.4h0M60.6 919.3h0M99.8 851.0h0M248.9 868.0h0M69.8 891.6h0M73.3 920.6h0M228.5 845.9h0M201.6 914.1h0M315.2 880.1h0M279.2 873.3h0M70.4 879.2h0M181.9 856.7h0M107.6 873.4h0M110.8 868.6h0M361.7 857.4h0M294.7 867.6h0M156.3 914.2h0M117.1 890.6h0M193.4 873.8h0M351.6 907.9h0M361.4 914.9h0M272.6 921.1h0M149.6 901.9h0M93.1 885.3h0M201.7 880.5h0M354.2 879.7h0M58.2 869.4h0M180.4 919.8h0M61.4 886.6h0M83.0 915.1h0M137.3 867.7h0M328.3 857.0h0M194.9 902.0h0M241.6 902.4h0M145.5 873.9h0M274.3 845.3h0M178.4 850.6h0M196.0 867.5h0M104.2 915.0h0M298.8 909.2h0M133.5 874.2h0M180.3 885.7h0M222.4 856.8h0M153.1 920.4h0M334.4 868.5h0M189.3 868.6h0M201.6 869.2h0M183.1 902.5h0M71.4 844.5h0M338.3 919.5h0M189.9 902.9h0M153.9 850.8h0M281.2 846.3h0M351.2 874.6h0M149.2 914.3h0M112.9 850.3h0M185.3 886.6h0M318.9 884.9h0M196.1 880.6h0M238.8 898.1h0M228.5 880.9h0M163.8 856.3h0M133.7 896.8h0M106.1 850.9h0M163.4 867.5h0M239.6 863.5h0M298.3 886.5h0M176.3 868.9h0M171.9 874.9h0M274.2 880.6h0M182.3 880.3h0M344.3 920.7h0M232.2 896.6h0M344.1 863.3h0M321.9 844.5h0M51.2 879.1h0M298.1 851.4h0M215.2 869.3h0M353.4 845.2h0M278.0 909.1h0M165.6 907.8h0M287.4 844.5h0M228.5 867.5h0M265.4 874.9h0M115.7 880.0h0M338.3 862.9h0M206.6 851.7h0M54.1 851.2h0M330.9 886.2h0M341.1 879.3h0M64.7 913.5h0M278.7 850.3h0M347.9 880.3h0M106.2 896.5h0M160.3 909.6h0M93.4 863.3h0M347.4 892.0h0M215.3 903.1h0M143.2 867.5h0M337.8 885.4h0M222.5 915.1h0M256.1 892.0h0M341.0 891.4h0M165.7 919.4h0M129.0 856.8h0M347.4 856.8h0M97.9 892.4h0M334.2 903.0h0M193.1 919.2h0M214.7 891.8h0M173.4 851.0h0M354.5 902.1h0M347.7 869.1h0M257.8 874.6h0M225.1 885.4h0M146.9 862.6h0M244.5 862.1h0M64.4 868.1h0M61.3 873.6h0M267.6 890.9h0M225.4 898.0h0M123.0 879.7h0M198.4 863.3h0M292.3 852.0h0M159.9 861.8h0M97.0 845.2h0M212.2 851.5h0M83.0 845.2h0M361.7 902.1h0M163.3 892.2h0M76.8 914.3h0M302.2 914.0h0M341.8 902.8h0M311.6 874.1h0M206.7 920.0h0M150.6 868.5h0M59.8 862.0h0M72.8 886.0h0M96.0 857.7h0M331.6 898.0h0M267.6 880.4h0M268.2 913.5h0M249.3 857.8h0M176.0 890.8h0M301.1 879.0h0M311.8 884.9h0M334.5 914.3h0M265.2 919.8h0M132.8 885.5h0M304.3 921.1h0M97.4 869.1h0M239.3 874.0h0M311.0 909.2h0M314.2 868.2h0M314.3 913.9h0M186.0 875.2h0M162.1 846.4h0M219.1 863.3h0M236.0 903.9h0M219.3 920.3h0M169.2 902.1h0M79.9 873.9h0M348.4 903.4h0M239.0 886.2h0M143.5 903.0h0M129.5 890.9h0M66.5 896.5h0M225.9 862.2h0M209.7 856.7h0M97.9 879.5h0M126.9 897.2h0M353.6 868.4h0M311.8 898.1h0M249.1 846.1h0M120.9 920.3h0M163.2 913.9h0M83.6 880.8h0M90.0 867.7h0M205.0 908.4h0M165.7 873.4h0M199.4 851.4h0M152.3 885.3h0M74.1 873.5h0M239.7 851.4h0M100.6 919.2h0M295.8 915.2h0M63.7 902.1h0M285.2 863.1h0M153.6 907.7h0M225.4 851.3h0M110.3 892.3h0M70.0 869.2h0M97.7 913.5h0M188.9 844.7h0M87.3 885.8h0M317.1 908.5h0M71.5 913.6h0M354.3 915.1h0M275.3 868.2h0M76.8 891.4h0M215.3 913.7h0M334.2 891.9h0M100.9 898.1h0M255.2 902.7h0M285.3 851.9h0M323.7 897.0h0M235.2 879.3h0M156.4 845.7h0M99.7 885.9h0M341.3 857.2h0M262.4 914.3h0M242.3 869.1h0M301.2 891.4h0M317.7 852.2h0M157.2 903.8h0M287.5 902.8h0M129.4 913.5h0M327.3 915.1h0M218.0 897.2h0M281.0 903.9h0M255.6 914.3h0M304.2 874.0h0M298.9 874.9h0M90.0 880.1h0M328.0 867.7h0M149.9 892.1h0M63.9 892.3h0M116.4 856.4h0M89.5 856.3h0M259.2 909.4h0M251.6 886.0h0M284.5 873.3h0M173.8 897.2h0M119.8 862.4h0M179.1 907.7h0M109.5 903.1h0M351.6 862.9h0M357.6 886.3h0M63.6 856.8h0M221.3 867.6h0M91.0 903.5h0M123.9 914.0h0M357.4 909.5h0M311.9 863.2h0M79.8 919.7h0M235.6 867.5h0M107.1 907.9h0M196.2 857.8h0M291.3 908.8h0M337.6 873.6h0M109.7 856.9h0M87.0 908.6h0M289.3 914.0h0M206.4 885.6h0M320.9 868.4h0M357.5 896.9h0M92.8 875.1h0M285.2 886.4h0M251.5 873.7h0M343.6 909.3h0M140.8 873.8h0M189.3 879.7h0M211.5 862.8h0M153.0 897.5h0M139.8 909.5h0M76.2 846.2h0M124.3 869.0h0M348.5 844.9h0M231.4 851.2h0M211.8 896.5h0M251.7 897.1h0M215.5 880.2h0M195.2 892.1h0M257.8 850.5h0M268.8 846.4h0M50.8 857.4h0M146.8 909.2h0M254.5 857.4h0M229.0 902.2h0M57.4 880.1h0M357.0 921.0h0M324.0 921.0h0M325.0 863.5h0M80.1 850.3h0M351.7 919.2h0M188.6 857.7h0M291.8 920.7h0M278.3 862.7h0M288.9 856.5h0M208.9 891.4h0M321.4 915.2h0M219.7 852.1h0M93.3 909.3h0M350.1 885.1h0M292.0 898.0h0M143.9 890.7h0M247.8 914.7h0M351.8 896.8h0M317.3 862.5h0M223.0 891.5h0M103.2 868.0h0M344.9 886.7h0M301.3 844.9h0M129.6 879.3h0M218.6 885.4h0M53.8 874.6h0M153.4 873.3h0M254.8 846.2h0M248.8 880.7h0M68.0 886.6h0M126.9 863.5h0M232.2 885.3h0M302.1 868.6h0M236.4 845.1h0M278.7 896.7h0M242.4 891.1h0M244.6 907.8h0M145.8 884.8h0M262.8 891.6h0M69.7 902.9h0M175.9 880.7h0M212.4 885.3h0M176.0 845.6h0M148.9 845.9h0M176.6 856.3h0M344.3 897.1h0M104.3 891.3h0M307.1 913.8h0M153.9 862.6h0M66.3 873.7h0M254.6 880.7h0M261.6 845.6h0M282.1 890.6h0M294.4 880.2h0M202.7 856.2h0M57.2 903.8h0M104.2 879.4h0M136.7 856.9h0M195.4 845.1h0M332.1 863.5h0M122.6 891.7h0M315.1 902.5h0M156.5 892.1h0M112.8 862.0h0M357.6 861.9h0M248.8 891.2h0M272.5 850.9h0M73.7 850.9h0M133.9 919.5h0M107.4 863.3h0M282.1 914.9h0M218.8 875.0h0M53.3 896.7h0M123.0 845.2h0M170.1 892.0h0M304.8 851.3h0M242.6 846.1h0M236.4 890.5h0M310.5 921.1h0M209.2 845.2h0M185.7 861.9h0M294.2 890.8h0M192.0 885.3h0M338.5 907.7h0M61.5 908.4h0M295.3 857.1h0M265.8 850.5h0M222.3 845.0h0M202.4 891.4h0M114.2 909.0h0M73.1 909.1h0M275.6 914.9h0M109.5 913.6h0M162.3 880.4h0M208.6 868.2h0M305.5 885.3h0M143.8 880.4h0M117.6 867.8h0M53.8 907.8h0M199.4 919.9h0M309.0 856.1h0M258.0 861.8h0M269.5 857.6h0M90.4 845.9h0M210.1 914.8h0M90.0 891.5h0M120.8 873.9h0M343.9 874.0h0M290.9 861.9h0M67.2 850.3h0M130.4 846.5h0M258.7 920.3h0M60.1 851.7h0M83.5 868.1h0M80.3 862.9h0M266.0 861.9h0M83.3 857.8h0M120.2 886.1h0M320.6 880.5h0M71.0 857.2h0M107.7 885.8h0M291.5 886.4h0M357.0 851.6h0M233.1 873.9h0M249.2 903.4h0M271.9 874.7h0M51.1 914.9h0M116.8 915.3h0M67.2 920.3h0M360.0 845.8h0M120.3 851.1h0M321.0 890.8h0M288.9 867.9h0M274.4 856.6h0M49.7 890.7h0M241.5 879.0h0M272.3 863.2h0M232.8 907.8h0M241.4 913.7h0M205.6 862.7h0M222.0 880.1h0M125.6 919.5h0M51.0 902.5h0M119.0 897.6h0M351.0 851.6h0M335.1 845.5h0M136.5 846.1h0M297.9 896.4h0M324.7 886.3h0M309.0 867.6h0M139.5 919.6h0M211.6 909.1h0M275.3 891.9h0M245.8 885.8h0M87.7 863.0h0M124.2 857.5h0M99.2 907.7h0M245.8 897.4h0M165.7 897.1h0M275.4 902.1h0M172.7 908.8h0M133.4 908.8h0M245.5 873.8h0M63.1 880.8h0M313.8 844.8h0M132.9 863.3h0M163.3 903.5h0M66.5 862.9h0M226.2 921.0h0M99.5 873.5h0M305.1 908.8h0M251.0 862.2h0M261.7 902.6h0M320.7 903.1h0M190.2 915.2h0M341.2 845.9h0M168.7 845.6h0M281.8 857.5h0M96.0 902.2h0M216.0 846.5h0M298.3 920.7h0M76.3 857.0h0M304.8 862.6h0M269.1 903.7h0M149.9 856.2h0M143.7 856.3h0M115.7 902.5h0M354.5 892.1h0M261.0 867.9h0M64.3 846.3h0M180.2 874.6h0M135.6 891.0h0M86.6 920.2h0M331.4 909.2h0M358.2 873.8h0M335.1 880.7h0M126.4 908.2h0M360.5 879.6h0M285.1 897.8h0M146.5 919.9h0M327.0 891.8h0M168.6 880.2h0M287.9 890.7h0M242.9 857.7h0M92.7 851.8h0M185.4 897.6h0M288.5 879.3h0M282.2 868.6h0M244.9 920.7h0M182.1 845.6h0M126.2 885.1h0M271.5 909.1h0M228.2 857.0h0M198.5 874.9h0M120.9 908.8h0M192.8 852.0h0M252.7 920.0h0M338.0 850.9h0M102.9 856.4h0M211.6 919.4h0M51.0 867.8h0M340.1 869.1h0M159.9 920.7h0M327.5 903.1h0M265.0 897.4h0M302.4 902.8h0M79.7 897.8h0M106.9 920.1h0M255.2 867.7h0M331.6 851.2h0M244.5 850.5h0M140.5 850.9h0M126.6 851.1h0M271.4 884.9h0M209.4 880.9h0M76.1 867.8h0M251.7 852.0h0M61.5 897.0h0M156.9 880.6h0M361.4 891.4h0M216.4 856.3h0M193.1 907.9h0M54.3 919.7h0M353.3 856.0h0M53.5 862.0h0M80.6 909.6h0M80.5 886.2h0M54.0 886.5h0M173.2 919.8h0M170.2 869.1h0M143.3 913.5h0" stroke="#7a66b4" stroke-width="5.6" stroke-linecap="round" fill="none" stroke-opacity="0.6"/>
<path d="M169.1 913.5h0M124.2 902.5h0M198.6 909.2h0M102.8 844.6h0M307.9 902.6h0M278.8 919.6h0M113.1 896.8h0M109.5 879.7h0M219.3 908.9h0M185.1 908.6h0M294.8 846.2h0M302.1 857.7h0M125.8 874.9h0M166.8 851.7h0M132.4 850.3h0M169.6 856.4h0M347.2 914.9h0M208.4 903.6h0M297.5 863.6h0M182.5 868.9h0M83.2 891.8h0M56.6 913.7h0M93.9 921.1h0M68.0 908.4h0M238.6 909.6h0M130.4 868.5h0M332.1 874.8h0M321.4 856.2h0M265.2 885.8h0M93.8 897.6h0M90.2 914.0h0M317.0 873.4h0M205.0 874.8h0M223.2 903.6h0M185.7 919.5h0M317.9 898.0h0M324.4 874.3h0M191.8 896.3h0M229.7 891.6h0M84.4 903.3h0M136.8 902.7h0M147.3 896.7h0M235.4 914.9h0M77.9 880.2h0M140.7 896.2h0M252.4 907.7h0M196.0 913.9h0M341.1 914.2h0M113.6 920.9h0M294.7 902.7h0M198.9 885.8h0M173.6 863.1h0M158.6 896.4h0M325.5 907.8h0M129.6 903.0h0M318.6 919.8h0M156.0 856.0h0M74.4 896.4h0M165.9 886.6h0M87.7 874.7h0M102.9 902.8h0M261.6 879.5h0M315.6 891.2h0M149.7 879.9h0M231.8 920.3h0M360.2 868.8h0M202.5 903.7h0M262.7 857.4h0M100.2 863.7h0M156.0 868.4h0M60.6 919.3h0M99.8 851.0h0M248.9 868.0h0M69.8 891.6h0M73.3 920.6h0M228.5 845.9h0M201.6 914.1h0M315.2 880.1h0M279.2 873.3h0M70.4 879.2h0M181.9 856.7h0M107.6 873.4h0M110.8 868.6h0M361.7 857.4h0M294.7 867.6h0M156.3 914.2h0M117.1 890.6h0M193.4 873.8h0M351.6 907.9h0M361.4 914.9h0M272.6 921.1h0M149.6 901.9h0M93.1 885.3h0M201.7 880.5h0M354.2 879.7h0M58.2 869.4h0M180.4 919.8h0M61.4 886.6h0M83.0 915.1h0M137.3 867.7h0M328.3 857.0h0M194.9 902.0h0M241.6 902.4h0M145.5 873.9h0M274.3 845.3h0M178.4 850.6h0M196.0 867.5h0M104.2 915.0h0M298.8 909.2h0M133.5 874.2h0M180.3 885.7h0M222.4 856.8h0M153.1 920.4h0M334.4 868.5h0M189.3 868.6h0M201.6 869.2h0M183.1 902.5h0M71.4 844.5h0M338.3 919.5h0M189.9 902.9h0M153.9 850.8h0M281.2 846.3h0M351.2 874.6h0M149.2 914.3h0M112.9 850.3h0M185.3 886.6h0M318.9 884.9h0M196.1 880.6h0M238.8 898.1h0M228.5 880.9h0M163.8 856.3h0M133.7 896.8h0M106.1 850.9h0M163.4 867.5h0M239.6 863.5h0M298.3 886.5h0M176.3 868.9h0M171.9 874.9h0M274.2 880.6h0M182.3 880.3h0M344.3 920.7h0M232.2 896.6h0M344.1 863.3h0M321.9 844.5h0M51.2 879.1h0M298.1 851.4h0M215.2 869.3h0M353.4 845.2h0M278.0 909.1h0M165.6 907.8h0M287.4 844.5h0M228.5 867.5h0M265.4 874.9h0M115.7 880.0h0M338.3 862.9h0M206.6 851.7h0M54.1 851.2h0M330.9 886.2h0M341.1 879.3h0M64.7 913.5h0M278.7 850.3h0M347.9 880.3h0M106.2 896.5h0M160.3 909.6h0M93.4 863.3h0M347.4 892.0h0M215.3 903.1h0M143.2 867.5h0M337.8 885.4h0M222.5 915.1h0M256.1 892.0h0M341.0 891.4h0M165.7 919.4h0M129.0 856.8h0M347.4 856.8h0M97.9 892.4h0M334.2 903.0h0M193.1 919.2h0M214.7 891.8h0M173.4 851.0h0M354.5 902.1h0M347.7 869.1h0M257.8 874.6h0M225.1 885.4h0M146.9 862.6h0M244.5 862.1h0M64.4 868.1h0M61.3 873.6h0M267.6 890.9h0M225.4 898.0h0M123.0 879.7h0M198.4 863.3h0M292.3 852.0h0M159.9 861.8h0M97.0 845.2h0M212.2 851.5h0M83.0 845.2h0M361.7 902.1h0M163.3 892.2h0M76.8 914.3h0M302.2 914.0h0M341.8 902.8h0M311.6 874.1h0M206.7 920.0h0M150.6 868.5h0M59.8 862.0h0M72.8 886.0h0M96.0 857.7h0M331.6 898.0h0M267.6 880.4h0M268.2 913.5h0M249.3 857.8h0M176.0 890.8h0M301.1 879.0h0M311.8 884.9h0M334.5 914.3h0M265.2 919.8h0M132.8 885.5h0M304.3 921.1h0M97.4 869.1h0M239.3 874.0h0M311.0 909.2h0M314.2 868.2h0M314.3 913.9h0M186.0 875.2h0M162.1 846.4h0M219.1 863.3h0M236.0 903.9h0M219.3 920.3h0M169.2 902.1h0M79.9 873.9h0M348.4 903.4h0M239.0 886.2h0M143.5 903.0h0M129.5 890.9h0M66.5 896.5h0M225.9 862.2h0M209.7 856.7h0M97.9 879.5h0M126.9 897.2h0M353.6 868.4h0M311.8 898.1h0M249.1 846.1h0M120.9 920.3h0M163.2 913.9h0M83.6 880.8h0M90.0 867.7h0M205.0 908.4h0M165.7 873.4h0M199.4 851.4h0M152.3 885.3h0M74.1 873.5h0M239.7 851.4h0M100.6 919.2h0M295.8 915.2h0M63.7 902.1h0M285.2 863.1h0M153.6 907.7h0M225.4 851.3h0M110.3 892.3h0M70.0 869.2h0M97.7 913.5h0M188.9 844.7h0M87.3 885.8h0M317.1 908.5h0M71.5 913.6h0M354.3 915.1h0M275.3 868.2h0M76.8 891.4h0M215.3 913.7h0M334.2 891.9h0M100.9 898.1h0M255.2 902.7h0M285.3 851.9h0M323.7 897.0h0M235.2 879.3h0M156.4 845.7h0M99.7 885.9h0M341.3 857.2h0M262.4 914.3h0M242.3 869.1h0M301.2 891.4h0M317.7 852.2h0M157.2 903.8h0M287.5 902.8h0M129.4 913.5h0M327.3 915.1h0M218.0 897.2h0M281.0 903.9h0M255.6 914.3h0M304.2 874.0h0M298.9 874.9h0M90.0 880.1h0M328.0 867.7h0M149.9 892.1h0M63.9 892.3h0M116.4 856.4h0M89.5 856.3h0M259.2 909.4h0M251.6 886.0h0" stroke="#3a2e7c" stroke-width="5.0" stroke-linecap="round" fill="none"/>
<path d="M284.5 873.3h0M173.8 897.2h0M119.8 862.4h0M179.1 907.7h0M109.5 903.1h0M351.6 862.9h0M357.6 886.3h0M63.6 856.8h0M221.3 867.6h0M91.0 903.5h0M123.9 914.0h0M357.4 909.5h0M311.9 863.2h0M79.8 919.7h0M235.6 867.5h0M107.1 907.9h0M196.2 857.8h0M291.3 908.8h0M337.6 873.6h0M109.7 856.9h0M87.0 908.6h0M289.3 914.0h0M206.4 885.6h0M320.9 868.4h0M357.5 896.9h0M92.8 875.1h0M285.2 886.4h0M251.5 873.7h0M343.6 909.3h0M140.8 873.8h0M189.3 879.7h0M211.5 862.8h0M153.0 897.5h0M139.8 909.5h0M76.2 846.2h0M124.3 869.0h0M348.5 844.9h0M231.4 851.2h0M211.8 896.5h0M251.7 897.1h0M215.5 880.2h0M195.2 892.1h0M257.8 850.5h0M268.8 846.4h0M50.8 857.4h0M146.8 909.2h0M254.5 857.4h0M229.0 902.2h0M57.4 880.1h0M357.0 921.0h0M324.0 921.0h0M325.0 863.5h0M80.1 850.3h0M351.7 919.2h0M188.6 857.7h0M291.8 920.7h0M278.3 862.7h0M288.9 856.5h0M208.9 891.4h0M321.4 915.2h0M219.7 852.1h0M93.3 909.3h0M350.1 885.1h0M292.0 898.0h0M143.9 890.7h0M247.8 914.7h0M351.8 896.8h0M317.3 862.5h0M223.0 891.5h0M103.2 868.0h0M344.9 886.7h0M301.3 844.9h0M129.6 879.3h0M218.6 885.4h0M53.8 874.6h0M153.4 873.3h0M254.8 846.2h0M248.8 880.7h0M68.0 886.6h0M126.9 863.5h0M232.2 885.3h0M302.1 868.6h0M236.4 845.1h0M278.7 896.7h0M242.4 891.1h0M244.6 907.8h0M145.8 884.8h0M262.8 891.6h0M69.7 902.9h0M175.9 880.7h0M212.4 885.3h0M176.0 845.6h0M148.9 845.9h0M176.6 856.3h0M344.3 897.1h0M104.3 891.3h0M307.1 913.8h0M153.9 862.6h0M66.3 873.7h0M254.6 880.7h0M261.6 845.6h0M282.1 890.6h0M294.4 880.2h0M202.7 856.2h0M57.2 903.8h0M104.2 879.4h0M136.7 856.9h0M195.4 845.1h0M332.1 863.5h0M122.6 891.7h0M315.1 902.5h0M156.5 892.1h0M112.8 862.0h0M357.6 861.9h0M248.8 891.2h0M272.5 850.9h0M73.7 850.9h0M133.9 919.5h0M107.4 863.3h0M282.1 914.9h0M218.8 875.0h0M53.3 896.7h0M123.0 845.2h0M170.1 892.0h0M304.8 851.3h0M242.6 846.1h0M236.4 890.5h0M310.5 921.1h0M209.2 845.2h0M185.7 861.9h0M294.2 890.8h0M192.0 885.3h0M338.5 907.7h0M61.5 908.4h0M295.3 857.1h0M265.8 850.5h0M222.3 845.0h0M202.4 891.4h0M114.2 909.0h0M73.1 909.1h0M275.6 914.9h0M109.5 913.6h0M162.3 880.4h0M208.6 868.2h0M305.5 885.3h0M143.8 880.4h0M117.6 867.8h0M53.8 907.8h0M199.4 919.9h0M309.0 856.1h0M258.0 861.8h0M269.5 857.6h0M90.4 845.9h0M210.1 914.8h0M90.0 891.5h0M120.8 873.9h0M343.9 874.0h0M290.9 861.9h0M67.2 850.3h0M130.4 846.5h0M258.7 920.3h0M60.1 851.7h0M83.5 868.1h0M80.3 862.9h0M266.0 861.9h0M83.3 857.8h0M120.2 886.1h0M320.6 880.5h0M71.0 857.2h0M107.7 885.8h0M291.5 886.4h0M357.0 851.6h0M233.1 873.9h0M249.2 903.4h0M271.9 874.7h0M51.1 914.9h0M116.8 915.3h0M67.2 920.3h0M360.0 845.8h0M120.3 851.1h0M321.0 890.8h0M288.9 867.9h0M274.4 856.6h0M49.7 890.7h0M241.5 879.0h0M272.3 863.2h0M232.8 907.8h0M241.4 913.7h0M205.6 862.7h0M222.0 880.1h0M125.6 919.5h0M51.0 902.5h0M119.0 897.6h0M351.0 851.6h0M335.1 845.5h0M136.5 846.1h0M297.9 896.4h0M324.7 886.3h0M309.0 867.6h0M139.5 919.6h0M211.6 909.1h0M275.3 891.9h0M245.8 885.8h0M87.7 863.0h0M124.2 857.5h0M99.2 907.7h0M245.8 897.4h0M165.7 897.1h0M275.4 902.1h0M172.7 908.8h0M133.4 908.8h0M245.5 873.8h0M63.1 880.8h0M313.8 844.8h0M132.9 863.3h0M163.3 903.5h0M66.5 862.9h0M226.2 921.0h0M99.5 873.5h0M305.1 908.8h0M251.0 862.2h0M261.7 902.6h0M320.7 903.1h0M190.2 915.2h0M341.2 845.9h0M168.7 845.6h0M281.8 857.5h0M96.0 902.2h0M216.0 846.5h0M298.3 920.7h0M76.3 857.0h0M304.8 862.6h0M269.1 903.7h0M149.9 856.2h0M143.7 856.3h0M115.7 902.5h0M354.5 892.1h0M261.0 867.9h0M64.3 846.3h0M180.2 874.6h0M135.6 891.0h0M86.6 920.2h0M331.4 909.2h0M358.2 873.8h0M335.1 880.7h0M126.4 908.2h0M360.5 879.6h0M285.1 897.8h0M146.5 919.9h0M327.0 891.8h0M168.6 880.2h0M287.9 890.7h0M242.9 857.7h0M92.7 851.8h0M185.4 897.6h0M288.5 879.3h0M282.2 868.6h0M244.9 920.7h0M182.1 845.6h0M126.2 885.1h0M271.5 909.1h0M228.2 857.0h0M198.5 874.9h0M120.9 908.8h0M192.8 852.0h0M252.7 920.0h0M338.0 850.9h0M102.9 856.4h0M211.6 919.4h0M51.0 867.8h0M340.1 869.1h0M159.9 920.7h0M327.5 903.1h0M265.0 897.4h0M302.4 902.8h0M79.7 897.8h0M106.9 920.1h0M255.2 867.7h0M331.6 851.2h0M244.5 850.5h0M140.5 850.9h0M126.6 851.1h0M271.4 884.9h0M209.4 880.9h0M76.1 867.8h0M251.7 852.0h0M61.5 897.0h0M156.9 880.6h0M361.4 891.4h0M216.4 856.3h0M193.1 907.9h0M54.3 919.7h0M353.3 856.0h0M53.5 862.0h0M80.6 909.6h0M80.5 886.2h0M54.0 886.5h0M173.2 919.8h0M170.2 869.1h0M143.3 913.5h0" stroke="#30266e" stroke-width="4.7" stroke-linecap="round" fill="none"/>
<rect x="54" y="924" width="303" height="43" fill="#e49bd7"/>
<rect x="54" y="945" width="303" height="22" fill="#f0b9e6" opacity="0.75"/>
<path d="M54.6 944.0h0M59.0 944.7h0M79.0 945.4h0M84.8 943.6h0M90.8 945.0h0M116.3 944.6h0M131.1 945.1h0M133.6 945.3h0M136.9 943.1h0M146.2 943.3h0M147.2 943.5h0M152.3 944.7h0M156.7 944.8h0M162.9 945.6h0M168.9 943.9h0M182.2 945.5h0M185.3 943.8h0M189.8 945.3h0M194.6 944.2h0M203.7 943.3h0M211.8 944.1h0M226.6 944.7h0M230.7 945.5h0M244.1 944.3h0M248.6 943.3h0M249.6 945.2h0M283.3 944.6h0M286.9 943.6h0M290.6 945.7h0M291.8 945.3h0M297.7 943.2h0M303.8 944.2h0M310.8 943.4h0M313.8 945.0h0M317.8 945.0h0M328.9 945.0h0M332.1 943.4h0M333.3 945.5h0M341.7 945.4h0M352.5 943.3h0M54.9 946.0h0M63.6 947.8h0M65.5 947.1h0M71.3 946.7h0M78.3 948.2h0M82.2 947.9h0M110.8 947.7h0M119.6 946.6h0M127.0 947.4h0M139.1 946.2h0M159.0 948.2h0M161.3 947.4h0M166.2 948.2h0M168.0 946.4h0M173.6 946.0h0M176.2 948.3h0M183.9 946.7h0M187.2 947.6h0M203.9 947.1h0M206.2 947.7h0M210.1 947.2h0M225.1 947.9h0M228.5 948.2h0M242.9 946.6h0M248.5 946.9h0M252.6 946.4h0M257.9 946.7h0M263.7 945.8h0M267.0 946.1h0M274.8 946.0h0M290.1 946.1h0M303.2 947.6h0M316.2 946.9h0M324.5 945.7h0M327.3 946.2h0M329.2 947.5h0M335.3 947.1h0M341.1 946.1h0M345.4 946.2h0M347.0 945.8h0M54.5 949.1h0M66.2 950.4h0M92.4 950.0h0M114.3 948.4h0M120.6 950.6h0M128.6 950.4h0M133.7 950.6h0M147.5 950.0h0M154.8 949.5h0M178.9 950.2h0M184.5 950.7h0M196.7 950.2h0M199.5 948.4h0M201.8 950.7h0M208.9 948.6h0M221.5 950.2h0M227.0 950.7h0M230.8 949.8h0M232.3 948.9h0M235.6 949.9h0M240.6 950.9h0M247.0 948.3h0M262.0 948.5h0M266.3 949.4h0M283.4 949.7h0M294.8 948.4h0M304.6 949.7h0M316.1 949.4h0M324.5 949.3h0M336.7 948.4h0M347.7 948.6h0M352.4 950.1h0M54.2 953.4h0M60.6 951.8h0M76.0 952.7h0M78.7 953.5h0M85.9 952.2h0M97.8 951.0h0M101.0 953.1h0M107.8 953.3h0M113.7 951.4h0M116.9 951.2h0M134.2 953.5h0M140.7 952.4h0M148.3 952.4h0M150.5 951.9h0M155.4 952.5h0M159.1 952.9h0M161.9 951.6h0M170.2 952.1h0M175.1 951.9h0M179.8 951.4h0M204.8 951.5h0M213.5 952.3h0M216.7 951.5h0M231.2 951.0h0M239.6 952.3h0M244.8 952.0h0M247.9 952.4h0M251.2 952.3h0M264.0 953.1h0M268.1 952.8h0M271.2 951.0h0M274.0 951.0h0M282.4 951.9h0M290.4 953.4h0M302.1 951.0h0M305.1 952.1h0M311.5 952.6h0M317.0 953.4h0M329.2 952.2h0M332.7 953.2h0M342.4 952.2h0M353.6 953.0h0M356.5 950.9h0M56.6 954.4h0M58.0 955.8h0M60.9 954.3h0M70.7 955.5h0M72.4 955.9h0M76.9 954.9h0M96.5 954.9h0M101.3 954.1h0M104.2 955.3h0M121.2 956.0h0M125.5 954.6h0M132.7 954.1h0M139.7 955.0h0M173.5 955.3h0M178.9 956.0h0M182.6 954.9h0M197.5 953.8h0M200.7 955.9h0M207.3 954.6h0M214.9 955.1h0M222.2 953.5h0M232.8 954.1h0M245.2 954.8h0M251.7 954.7h0M290.2 955.4h0M295.3 954.5h0M308.2 955.6h0M311.6 954.4h0M325.5 955.6h0M335.2 955.1h0M344.3 955.9h0M345.3 956.1h0M349.2 953.8h0M351.5 955.1h0M69.8 958.6h0M71.6 958.7h0M76.0 956.8h0M78.1 957.6h0M96.9 958.7h0M100.8 958.1h0M105.5 956.6h0M110.8 956.2h0M113.3 957.1h0M127.9 957.0h0M132.0 956.9h0M137.5 956.6h0M148.9 957.0h0M153.5 957.2h0M169.7 957.8h0M174.3 957.0h0M177.4 957.8h0M181.0 956.7h0M187.0 957.0h0M190.1 958.1h0M209.4 958.7h0M213.5 957.5h0M233.1 957.6h0M245.4 958.3h0M248.2 957.4h0M252.6 957.2h0M254.5 957.1h0M258.6 957.5h0M267.7 958.0h0M270.0 958.2h0M288.1 957.6h0M294.5 957.2h0M305.0 956.9h0M317.8 957.8h0M319.7 957.0h0M332.1 958.5h0M347.9 958.2h0M354.1 958.6h0M357.8 956.5h0M58.8 960.5h0M77.2 960.2h0M110.0 960.7h0M119.4 958.9h0M121.3 960.8h0M136.2 961.0h0M147.8 960.1h0M168.5 959.1h0M186.4 960.6h0M191.2 959.4h0M194.4 958.8h0M202.1 961.2h0M217.7 960.7h0M223.2 960.2h0M226.3 959.4h0M237.5 960.7h0M243.8 961.1h0M253.8 961.3h0M258.6 959.1h0M266.8 960.1h0M268.0 960.0h0M284.2 961.0h0M317.1 959.1h0M325.3 961.3h0M331.9 960.8h0M336.8 959.6h0M339.7 960.4h0M357.8 958.8h0M69.6 963.9h0M73.2 963.5h0M75.8 962.5h0M96.6 963.5h0M102.9 963.1h0M107.0 962.5h0M120.1 963.1h0M127.8 963.6h0M139.2 963.9h0M149.5 962.6h0M155.9 963.1h0M158.8 962.2h0M169.0 963.9h0M173.4 962.7h0M190.2 963.6h0M207.2 962.5h0M215.9 962.6h0M222.4 963.4h0M241.1 963.2h0M241.7 963.2h0M246.1 962.1h0M247.9 964.0h0M259.8 963.0h0M297.0 961.8h0M309.7 962.6h0M312.6 962.2h0M315.7 963.5h0M328.0 962.5h0M340.0 962.0h0M349.7 961.7h0M352.9 962.9h0M56.8 964.3h0M64.1 965.8h0M71.1 964.4h0M78.6 964.7h0M85.9 966.1h0M88.0 965.3h0M92.0 964.1h0M95.1 964.6h0M97.9 964.1h0M102.7 964.6h0M105.9 965.5h0M119.3 964.4h0M129.8 965.0h0M136.2 964.2h0M149.1 965.0h0M150.4 966.0h0M154.6 964.7h0M161.7 965.5h0M163.4 964.9h0M177.3 964.5h0M182.6 965.3h0M190.4 964.6h0M205.9 964.8h0M211.6 966.2h0M215.4 965.9h0M217.1 966.1h0M232.8 964.4h0M235.2 966.0h0M238.4 964.9h0M244.7 965.4h0M271.7 966.4h0M277.0 966.3h0M284.4 965.5h0M301.2 966.0h0M308.8 964.9h0M339.6 965.0h0M344.3 965.0h0M350.5 964.5h0" stroke="#f8dcf3" stroke-width="1.4" stroke-linecap="round" fill="none" stroke-opacity="0.8"/>
<path d="M52.0 965.5 L62.2 965.6 L72.5 966.4 L82.7 967.1 L92.9 967.0 L103.2 966.4 L113.4 966.1 L123.6 966.3 L133.9 966.4 L144.1 965.8 L154.3 965.0 L164.6 964.9 L174.8 965.5 L185.0 966.0 L195.3 965.8 L205.5 965.6 L215.7 966.1 L226.0 966.9 L236.2 967.2 L246.4 966.6 L256.7 966.0 L266.9 966.0 L277.1 966.3 L287.4 966.0 L297.6 965.2 L307.8 964.8 L318.1 965.2 L328.3 965.9 L338.5 966.1 L348.8 965.9 L359.0 965.9 L359.0 976.1 L348.8 976.0 L338.5 975.8 L328.3 976.2 L318.1 977.0 L307.8 977.2 L297.6 976.6 L287.4 975.9 L277.1 975.9 L266.9 976.1 L256.7 975.9 L246.4 975.2 L236.2 974.8 L226.0 975.3 L215.7 976.0 L205.5 976.3 L195.3 976.0 L185.0 976.1 L174.8 976.7 L164.6 977.2 L154.3 976.9 L144.1 976.0 L133.9 975.6 L123.6 975.8 L113.4 976.0 L103.2 975.5 L92.9 974.9 L82.7 975.0 L72.5 975.8 L62.2 976.4 L52.0 976.3Z" fill="#3e2a2a"/>
<path d="M53.5 966.2h0M59.1 967.2h0M62.1 966.8h0M70.5 966.6h0M73.0 967.8h0M77.1 967.7h0M79.6 966.4h0M93.4 967.7h0M98.7 967.3h0M100.0 967.8h0M105.2 966.9h0M108.8 968.1h0M119.9 966.7h0M124.7 967.5h0M129.2 966.2h0M131.7 966.2h0M140.9 968.1h0M143.7 966.9h0M147.9 968.1h0M151.3 967.6h0M156.0 967.0h0M159.2 967.3h0M165.2 968.0h0M171.9 966.4h0M179.6 966.9h0M182.3 967.0h0M184.2 966.3h0M187.5 966.7h0M192.4 966.6h0M194.8 966.6h0M196.6 967.1h0M198.6 967.9h0M204.1 967.5h0M207.1 967.5h0M208.8 968.0h0M210.2 967.4h0M215.7 968.1h0M219.1 966.6h0M223.3 966.6h0M232.7 966.7h0M234.6 966.8h0M245.3 967.5h0M252.4 966.9h0M269.0 967.2h0M270.4 966.8h0M272.9 966.6h0M278.4 966.5h0M283.6 968.1h0M290.2 966.4h0M295.7 966.4h0M297.0 967.2h0M299.5 968.0h0M321.3 966.8h0M326.8 966.9h0M330.4 967.1h0M339.3 967.2h0M350.3 966.8h0M353.2 967.2h0M354.4 966.2h0M53.5 968.3h0M56.5 969.3h0M62.1 970.2h0M69.0 969.7h0M73.2 968.7h0M74.9 968.3h0M90.4 968.4h0M97.4 968.7h0M101.5 968.6h0M106.8 970.0h0M109.5 969.4h0M117.9 968.9h0M120.4 968.9h0M125.8 969.1h0M131.4 969.1h0M137.6 969.4h0M141.9 969.1h0M144.4 969.2h0M147.5 969.1h0M152.5 969.5h0M156.9 968.5h0M161.6 968.8h0M170.7 968.6h0M177.4 969.3h0M181.8 968.9h0M184.3 968.7h0M192.7 970.2h0M196.5 968.5h0M197.5 969.0h0M200.1 968.6h0M204.3 969.0h0M208.0 970.2h0M209.8 970.0h0M212.7 969.0h0M215.6 969.3h0M217.4 968.5h0M219.3 968.6h0M229.3 969.8h0M230.9 970.0h0M233.8 968.6h0M237.1 968.8h0M243.7 968.4h0M255.6 970.0h0M263.1 969.8h0M264.9 968.5h0M270.0 969.7h0M274.5 969.5h0M277.0 969.4h0M286.7 969.0h0M291.0 968.3h0M294.7 969.1h0M296.7 968.6h0M300.4 969.6h0M303.6 969.2h0M310.8 969.0h0M312.6 968.7h0M314.8 970.1h0M328.3 969.7h0M333.2 969.1h0M340.3 969.6h0M342.3 968.3h0M344.7 968.6h0M346.8 970.2h0M348.4 970.2h0M353.2 970.2h0M357.4 969.0h0M358.3 969.6h0M52.0 971.2h0M69.7 970.7h0M94.6 971.1h0M105.5 971.5h0M114.7 971.0h0M124.4 971.0h0M138.5 971.8h0M148.3 971.3h0M151.1 971.9h0M154.4 971.0h0M163.8 970.9h0M169.6 972.0h0M173.3 971.1h0M177.7 971.6h0M182.1 971.2h0M190.1 972.1h0M194.4 971.6h0M197.6 970.5h0M198.3 971.0h0M206.4 972.2h0M208.0 971.0h0M215.7 971.6h0M217.6 971.6h0M220.1 971.0h0M225.9 971.5h0M228.7 970.9h0M231.0 971.5h0M232.5 970.8h0M234.7 970.7h0M242.8 972.0h0M247.9 970.8h0M252.8 971.3h0M255.9 970.7h0M263.0 972.2h0M274.4 970.8h0M278.5 972.1h0M281.4 971.7h0M288.7 971.4h0M293.7 971.1h0M310.4 971.2h0M315.2 970.5h0M317.1 972.0h0M319.6 972.0h0M325.0 971.3h0M329.8 971.2h0M336.5 971.4h0M340.3 970.5h0M343.8 971.0h0M347.5 970.4h0M350.3 971.2h0M358.3 972.2h0M55.0 973.4h0M56.4 974.3h0M62.8 974.2h0M68.2 973.6h0M70.4 972.5h0M73.8 972.5h0M77.2 973.2h0M80.3 973.5h0M84.3 972.6h0M86.6 973.0h0M89.5 974.0h0M99.4 973.8h0M104.5 973.8h0M119.0 972.9h0M121.3 972.9h0M124.5 973.8h0M129.3 974.1h0M134.0 973.2h0M142.2 974.2h0M158.8 972.6h0M165.4 972.5h0M172.2 974.3h0M177.1 973.2h0M178.5 973.4h0M182.0 972.8h0M183.6 973.6h0M196.4 974.3h0M202.5 973.1h0M217.1 973.1h0M230.6 972.9h0M234.4 973.0h0M236.2 973.9h0M251.3 972.9h0M258.4 973.0h0M267.3 973.3h0M284.4 973.7h0M286.6 974.2h0M306.5 973.8h0M307.9 973.3h0M316.6 973.9h0M319.8 973.9h0M324.3 972.9h0M328.5 973.0h0M331.9 973.9h0M342.0 974.0h0M347.3 973.1h0M352.3 974.2h0M354.6 972.8h0M356.3 973.0h0M53.7 976.0h0M68.8 975.5h0M71.3 974.7h0M76.4 975.3h0M80.8 974.8h0M84.9 975.3h0M86.2 975.5h0M88.8 976.2h0M91.3 975.3h0M102.7 975.4h0M119.7 975.1h0M129.2 975.1h0M131.6 975.5h0M134.4 975.7h0M137.3 974.7h0M139.9 975.3h0M144.4 974.9h0M147.1 974.8h0M149.0 975.8h0M151.0 976.4h0M154.6 975.1h0M155.5 976.1h0M172.1 975.2h0M177.7 975.6h0M179.1 975.4h0M181.7 974.7h0M189.7 976.1h0M200.7 975.8h0M204.9 975.4h0M228.0 974.6h0M233.6 974.8h0M245.5 976.5h0M254.4 974.6h0M260.8 975.8h0M270.2 974.6h0M280.4 974.6h0M289.5 975.1h0M293.0 974.6h0M294.7 975.3h0M300.8 976.0h0M304.5 974.6h0M316.1 974.8h0M319.8 975.9h0M322.4 974.6h0M328.8 975.7h0M333.6 974.7h0M335.2 975.3h0M344.7 976.4h0M354.4 976.4h0" stroke="#74505a" stroke-width="1.8" stroke-linecap="round" fill="none" stroke-opacity="0.85"/>
<rect x="54" y="976" width="303" height="3" fill="#efcdeb"/>
<path d="M73.2 980.7h0M81.3 980.9h0M98.0 981.1h0M107.7 978.5h0M145.1 981.8h0M154.1 978.7h0M160.9 980.6h0M168.7 978.6h0M177.0 980.6h0M186.0 978.8h0M211.4 980.6h0M216.6 981.8h0M226.4 978.9h0M241.0 979.5h0M250.3 979.1h0M306.7 981.3h0M344.7 981.6h0M363.1 981.4h0" stroke="#8d6fbf" stroke-width="3.0" stroke-linecap="round" fill="none" stroke-opacity="0.8"/>
</g>
<rect x="54" y="678" width="303" height="23" filter="url(#grain)" opacity="0.38"/>
<rect x="54" y="701" width="303" height="54" filter="url(#grain)" opacity="0.38"/>
<rect x="54" y="824" width="303" height="17" filter="url(#grain)" opacity="0.38"/>
<rect x="54" y="924" width="303" height="42" filter="url(#grain)" opacity="0.38"/>
</g>
<clipPath id="hc5"><rect x="364" y="678" width="303" height="300"/></clipPath>
<g clip-path="url(#hc5)"><g filter="url(#hblur)">
<rect x="364" y="678" width="303" height="300" fill="#e5a1d7"/>
<rect x="364" y="678" width="303" height="18" fill="#f6dcf1"/>
<rect x="364" y="695" width="303" height="38" fill="#efd2ec"/>
<path d="M386.5 697.0h0M395.0 698.0h0M406.9 696.5h0M409.1 696.3h0M413.9 698.2h0M421.5 698.1h0M435.4 697.5h0M442.3 696.9h0M447.0 697.3h0M458.4 696.3h0M471.4 697.1h0M482.1 696.9h0M484.8 695.6h0M497.5 696.1h0M501.6 696.9h0M513.8 696.2h0M521.1 698.2h0M526.3 697.6h0M534.4 696.6h0M539.1 698.2h0M546.9 695.5h0M550.7 697.5h0M562.4 698.0h0M571.2 696.4h0M578.7 698.0h0M582.7 698.6h0M590.1 698.2h0M598.5 696.4h0M607.0 696.3h0M617.2 697.6h0M625.7 697.1h0M634.5 696.6h0M642.1 696.6h0M644.5 696.5h0M368.6 699.3h0M384.3 700.7h0M392.2 700.3h0M395.7 700.6h0M401.1 701.1h0M413.2 700.2h0M416.5 699.3h0M421.4 699.6h0M442.5 700.5h0M463.7 699.5h0M471.1 700.4h0M474.8 700.7h0M496.1 699.8h0M503.5 701.1h0M506.5 699.3h0M518.6 700.6h0M524.0 701.6h0M561.2 700.3h0M585.4 699.7h0M590.6 699.1h0M607.9 700.2h0M612.2 699.1h0M620.0 701.4h0M631.8 700.9h0M636.0 701.0h0M647.2 700.2h0M651.0 701.3h0M654.6 700.5h0M661.5 700.0h0M360.5 703.4h0M368.8 702.4h0M394.3 703.1h0M397.8 702.8h0M401.6 702.6h0M428.8 703.1h0M446.8 704.0h0M457.7 704.8h0M472.6 704.5h0M476.7 705.0h0M493.2 703.7h0M499.4 704.6h0M500.5 704.1h0M514.6 702.8h0M517.5 704.1h0M522.7 703.9h0M537.0 705.2h0M542.0 704.1h0M551.5 703.6h0M562.1 705.6h0M571.5 704.2h0M574.1 705.2h0M586.3 702.5h0M588.5 704.6h0M607.4 705.3h0M629.1 704.0h0M635.5 704.9h0M638.6 703.9h0M652.9 704.2h0M661.8 704.9h0M671.3 703.1h0M367.4 708.1h0M370.9 707.0h0M379.1 707.0h0M388.3 708.3h0M395.7 708.6h0M398.4 706.5h0M419.9 708.0h0M429.2 708.2h0M432.1 707.3h0M461.0 708.0h0M463.4 706.5h0M466.6 708.8h0M475.9 708.4h0M492.1 708.7h0M498.8 706.8h0M509.5 707.4h0M514.9 707.5h0M524.3 708.2h0M558.9 706.1h0M577.3 708.5h0M580.4 707.1h0M602.5 708.1h0M615.7 708.8h0M641.1 707.4h0M644.2 707.5h0M647.3 706.6h0M652.8 708.9h0M655.6 706.9h0M666.5 708.2h0M365.6 711.3h0M373.8 711.3h0M377.4 710.7h0M402.7 711.7h0M437.7 711.2h0M446.2 711.7h0M453.5 709.9h0M464.4 711.9h0M470.9 712.1h0M482.1 709.7h0M485.3 710.2h0M491.1 711.1h0M495.2 709.3h0M505.7 710.8h0M509.4 709.9h0M542.0 711.7h0M547.3 709.7h0M564.8 711.9h0M571.2 710.7h0M574.1 710.7h0M579.4 712.4h0M615.0 711.6h0M622.7 711.2h0M634.5 711.3h0M641.3 711.4h0M650.3 712.4h0M654.5 712.1h0M663.0 712.3h0M666.8 712.2h0M374.7 715.8h0M397.0 713.2h0M400.8 713.0h0M412.0 715.5h0M428.4 713.8h0M431.0 715.3h0M436.9 713.2h0M440.8 712.8h0M447.2 714.6h0M466.9 715.6h0M483.3 713.4h0M487.8 713.1h0M499.7 715.5h0M503.4 715.5h0M516.9 715.6h0M525.4 713.1h0M527.8 714.0h0M536.6 713.3h0M549.0 713.4h0M553.0 715.7h0M559.2 713.6h0M563.4 713.1h0M582.6 713.7h0M592.0 715.4h0M594.6 715.6h0M602.4 714.5h0M609.3 713.9h0M615.0 713.1h0M624.7 713.0h0M631.5 713.0h0M635.4 716.0h0M648.1 714.8h0M660.6 713.2h0M662.5 714.5h0M360.9 717.1h0M424.7 719.1h0M428.9 716.7h0M433.0 718.6h0M437.2 716.6h0M453.1 717.1h0M468.9 718.2h0M473.8 718.2h0M479.5 717.0h0M485.1 716.6h0M495.5 718.0h0M502.0 719.0h0M505.2 717.6h0M519.5 719.3h0M530.6 716.8h0M534.6 716.4h0M561.6 719.3h0M565.6 716.8h0M574.0 718.2h0M578.8 718.9h0M598.6 717.4h0M606.5 718.0h0M617.3 716.6h0M628.6 719.1h0M637.9 717.9h0M649.7 717.8h0M664.4 717.0h0M373.5 721.7h0M375.7 722.1h0M400.9 722.4h0M403.5 721.6h0M408.4 721.5h0M413.4 722.7h0M419.6 721.4h0M424.7 720.4h0M448.0 720.7h0M450.4 719.8h0M455.6 721.8h0M461.6 721.8h0M469.0 722.0h0M470.5 721.2h0M475.9 721.2h0M490.5 722.0h0M509.0 719.9h0M524.6 721.3h0M527.0 721.4h0M532.4 722.1h0M536.4 721.5h0M546.9 722.0h0M565.5 721.2h0M567.1 720.5h0M572.0 721.1h0M588.6 722.8h0M597.4 722.8h0M600.4 720.6h0M605.0 720.8h0M620.7 722.5h0M639.0 721.4h0M645.6 722.3h0M659.9 720.9h0M665.2 722.8h0M666.8 720.1h0M361.8 726.2h0M367.2 725.4h0M372.9 725.9h0M377.8 723.7h0M383.1 726.0h0M386.1 725.2h0M393.5 723.6h0M396.5 724.2h0M401.5 723.7h0M406.4 723.5h0M408.6 725.5h0M418.7 723.6h0M422.2 725.2h0M427.0 725.3h0M433.2 725.8h0M436.6 724.6h0M440.7 724.9h0M444.7 724.0h0M450.3 724.9h0M453.0 723.7h0M457.9 724.8h0M462.8 726.0h0M465.0 724.5h0M480.5 725.8h0M485.2 725.6h0M498.0 723.7h0M508.8 725.3h0M514.4 726.3h0M526.9 723.6h0M530.7 724.4h0M549.1 724.4h0M554.6 725.4h0M557.4 723.5h0M569.4 723.4h0M575.6 724.6h0M576.7 723.9h0M587.3 725.1h0M592.4 725.7h0M606.6 723.9h0M612.4 723.8h0M623.0 723.7h0M625.1 726.1h0M638.5 725.4h0M642.1 723.6h0M645.1 725.6h0M649.2 725.9h0M654.4 725.1h0M663.1 723.8h0M665.3 725.0h0M363.5 728.4h0M371.9 727.3h0M383.5 729.0h0M392.9 728.9h0M394.6 726.9h0M399.3 727.9h0M420.5 726.9h0M438.5 729.4h0M444.8 726.7h0M448.9 729.7h0M459.4 727.8h0M463.6 727.9h0M469.0 728.8h0M471.2 728.3h0M476.9 729.7h0M498.5 727.9h0M505.6 727.1h0M507.1 729.1h0M519.6 729.7h0M527.7 728.2h0M533.1 729.3h0M551.0 726.9h0M564.9 728.9h0M575.8 729.2h0M607.9 729.7h0M615.0 728.4h0M620.3 727.1h0M640.3 729.1h0M642.8 728.3h0M649.1 728.0h0M654.5 728.8h0M658.5 726.9h0M360.9 730.9h0M370.5 730.7h0M374.3 731.9h0M387.4 732.7h0M394.9 732.6h0M401.2 730.9h0M410.4 733.2h0M416.5 731.6h0M426.5 731.2h0M436.6 732.9h0M441.7 731.6h0M448.5 732.3h0M469.7 730.3h0M479.5 732.4h0M482.0 733.2h0M487.4 730.8h0M496.8 732.7h0M500.7 731.9h0M509.4 731.0h0M530.5 732.5h0M535.0 731.9h0M539.4 731.5h0M550.5 731.2h0M559.3 732.8h0M562.9 731.0h0M576.4 732.5h0M582.3 733.3h0M586.4 732.5h0M595.4 732.3h0M598.3 730.7h0M605.9 730.8h0M621.9 732.7h0M625.9 731.1h0M630.3 731.5h0M636.9 733.4h0M641.8 731.0h0M659.4 731.2h0M661.1 732.9h0" stroke="#f8e4f4" stroke-width="2.4" stroke-linecap="round" fill="none" stroke-opacity="0.9"/>
<path d="M360.5 719.4h0M373.2 713.5h0M386.4 718.3h0M398.3 718.0h0M411.0 720.2h0M421.9 718.3h0M419.6 705.0h0M432.0 718.9h0M446.2 704.8h0M457.7 718.4h0M456.9 704.8h0M468.7 713.2h0M481.3 719.0h0M494.3 720.4h0M506.0 720.8h0M516.5 716.0h0M528.4 720.6h0M541.3 716.3h0M550.5 706.6h0M564.2 715.0h0M561.9 706.0h0M575.6 718.6h0M588.4 717.1h0M598.5 719.4h0M600.6 705.9h0M612.1 715.4h0M623.1 715.0h0M634.6 719.2h0M633.7 705.7h0M647.1 714.1h0M660.2 714.4h0" stroke="#f6e6f3" stroke-width="12.5" stroke-linecap="round" fill="none" stroke-opacity="0.7"/>
<path d="M360.5 719.4h0M373.2 713.5h0M386.4 718.3h0M398.3 718.0h0M411.0 720.2h0M421.9 718.3h0M419.6 705.0h0M432.0 718.9h0M446.2 704.8h0M457.7 718.4h0M456.9 704.8h0M468.7 713.2h0M481.3 719.0h0M494.3 720.4h0M506.0 720.8h0M516.5 716.0h0M528.4 720.6h0M541.3 716.3h0M550.5 706.6h0M564.2 715.0h0M561.9 706.0h0M575.6 718.6h0M588.4 717.1h0M598.5 719.4h0M600.6 705.9h0M612.1 715.4h0M623.1 715.0h0M634.6 719.2h0M633.7 705.7h0M647.1 714.1h0M660.2 714.4h0" stroke="#6e5ca2" stroke-width="10.4" stroke-linecap="round" fill="none"/>
<path d="M360.5 719.4h0M373.2 713.5h0M386.4 718.3h0M398.3 718.0h0M411.0 720.2h0M421.9 718.3h0M419.6 705.0h0M432.0 718.9h0M446.2 704.8h0M457.7 718.4h0M456.9 704.8h0M468.7 713.2h0M481.3 719.0h0M494.3 720.4h0M506.0 720.8h0M516.5 716.0h0M528.4 720.6h0M541.3 716.3h0M550.5 706.6h0M564.2 715.0h0M561.9 706.0h0M575.6 718.6h0M588.4 717.1h0M598.5 719.4h0M600.6 705.9h0M612.1 715.4h0M623.1 715.0h0M634.6 719.2h0M633.7 705.7h0M647.1 714.1h0M660.2 714.4h0" stroke="#9882c4" stroke-width="7.8" stroke-linecap="round" fill="none"/>
<path d="M360.5 719.4h0M373.2 713.5h0M386.4 718.3h0M398.3 718.0h0M411.0 720.2h0M421.9 718.3h0M419.6 705.0h0M432.0 718.9h0M446.2 704.8h0M457.7 718.4h0M456.9 704.8h0M468.7 713.2h0M481.3 719.0h0M494.3 720.4h0M506.0 720.8h0M516.5 716.0h0M528.4 720.6h0M541.3 716.3h0M550.5 706.6h0M564.2 715.0h0M561.9 706.0h0M575.6 718.6h0M588.4 717.1h0M598.5 719.4h0M600.6 705.9h0M612.1 715.4h0M623.1 715.0h0M634.6 719.2h0M633.7 705.7h0M647.1 714.1h0M660.2 714.4h0" stroke="#5a4690" stroke-width="2.2" stroke-linecap="round" fill="none"/>
<rect x="364" y="732" width="303" height="64" fill="#e5a1d7"/>
<path d="M390.0 734.4h0M406.8 734.5h0M429.1 735.0h0M432.6 733.7h0M440.8 734.0h0M453.6 735.0h0M463.0 735.4h0M469.5 734.9h0M476.4 734.1h0M510.4 734.7h0M517.6 735.4h0M529.2 734.7h0M547.6 733.6h0M555.9 732.7h0M563.9 735.5h0M580.5 734.5h0M604.3 733.5h0M621.3 734.9h0M639.1 734.5h0M665.4 734.9h0M667.8 733.2h0M363.8 737.5h0M377.6 738.2h0M384.7 737.9h0M401.8 739.0h0M414.6 738.1h0M424.1 736.8h0M426.6 738.4h0M440.6 738.1h0M452.5 737.6h0M462.1 737.9h0M476.7 736.4h0M494.4 737.9h0M498.1 737.3h0M526.2 737.9h0M545.9 736.6h0M582.8 739.3h0M604.1 737.6h0M608.8 737.0h0M618.7 739.1h0M623.5 739.0h0M634.3 736.6h0M640.9 737.3h0M649.8 736.8h0M666.1 739.2h0M670.1 738.7h0M362.7 740.4h0M369.7 742.5h0M374.6 741.5h0M379.8 739.9h0M394.7 742.0h0M413.3 741.4h0M416.5 743.0h0M434.8 742.0h0M436.4 740.8h0M443.3 741.1h0M468.3 742.7h0M491.7 740.2h0M503.6 741.8h0M525.3 742.1h0M542.9 740.3h0M546.3 742.8h0M551.9 740.5h0M569.2 741.2h0M580.1 741.9h0M599.7 741.5h0M614.0 741.5h0M616.5 742.8h0M621.7 739.9h0M631.6 742.6h0M640.2 741.3h0M664.1 741.3h0M667.6 742.4h0M373.8 744.8h0M380.0 745.0h0M393.8 746.0h0M398.1 744.7h0M401.6 743.6h0M422.2 744.9h0M427.7 744.2h0M443.9 743.9h0M452.1 746.6h0M455.7 743.6h0M461.4 746.0h0M464.2 745.5h0M478.9 743.6h0M492.6 743.5h0M497.7 746.0h0M506.8 745.5h0M509.4 746.4h0M516.3 744.4h0M524.1 744.6h0M532.0 745.5h0M549.1 745.3h0M551.6 743.6h0M564.2 744.4h0M578.7 743.6h0M583.1 744.6h0M640.6 745.3h0M651.2 746.1h0M654.2 743.9h0M367.6 747.8h0M405.1 749.3h0M407.9 747.3h0M426.1 750.0h0M434.9 750.2h0M437.4 747.6h0M440.7 749.5h0M451.2 749.6h0M473.7 748.3h0M506.1 750.3h0M508.7 748.9h0M523.0 748.3h0M530.8 749.7h0M573.1 747.6h0M574.9 748.5h0M587.1 748.5h0M601.0 748.1h0M609.8 747.5h0M633.5 748.1h0M640.6 749.9h0M643.9 747.2h0M648.3 749.8h0M650.3 749.3h0M668.2 748.4h0M363.6 753.5h0M393.4 752.4h0M409.3 751.9h0M417.1 753.1h0M431.7 753.6h0M436.5 751.1h0M443.7 753.6h0M451.9 752.8h0M460.0 751.6h0M470.6 752.8h0M498.1 752.4h0M506.5 751.4h0M514.1 751.3h0M523.0 752.4h0M531.9 751.5h0M548.4 753.1h0M561.0 751.3h0M586.3 753.7h0M615.6 753.8h0M623.1 750.9h0M635.8 752.0h0M653.8 752.1h0M658.5 753.7h0M661.0 751.8h0M667.9 751.6h0" stroke="#f4cdef" stroke-width="2.2" stroke-linecap="round" fill="none" stroke-opacity="0.8"/>
<path d="M363.7 733.5h0M367.6 732.5h0M373.9 733.5h0M378.7 734.7h0M381.6 733.7h0M396.6 734.2h0M400.1 734.7h0M407.4 733.2h0M438.0 733.2h0M458.7 733.4h0M462.8 734.6h0M463.7 732.9h0M519.6 734.1h0M534.0 733.1h0M539.2 734.1h0M542.6 734.5h0M543.6 733.9h0M588.5 733.4h0M609.8 732.6h0M635.7 733.1h0M661.3 734.5h0M667.6 733.7h0M374.4 737.4h0M377.1 736.6h0M379.8 735.4h0M382.2 737.6h0M390.1 736.2h0M396.5 736.0h0M406.4 736.3h0M409.5 737.5h0M414.1 737.4h0M434.6 736.9h0M438.7 736.9h0M443.3 735.0h0M446.6 736.9h0M450.2 736.1h0M466.7 735.9h0M499.7 737.4h0M511.6 737.6h0M517.6 735.5h0M524.6 736.2h0M529.9 735.8h0M537.6 736.0h0M555.8 736.8h0M559.6 735.4h0M574.3 735.8h0M590.4 736.0h0M598.2 737.7h0M602.7 735.5h0M606.0 736.2h0M616.8 736.5h0M620.0 736.9h0M625.6 735.9h0M639.3 735.6h0M651.8 735.7h0M665.0 735.8h0M668.3 737.6h0M398.9 739.9h0M427.0 738.9h0M429.8 738.1h0M435.1 738.6h0M452.5 739.2h0M457.5 739.5h0M461.4 738.5h0M464.4 737.8h0M466.9 739.1h0M480.5 738.6h0M489.6 739.6h0M506.6 740.1h0M537.2 738.5h0M543.0 739.7h0M555.5 740.2h0M590.7 740.2h0M618.2 740.5h0M636.7 738.4h0M640.9 738.5h0M650.2 738.8h0M401.9 741.8h0M405.9 742.9h0M413.0 743.1h0M457.8 741.0h0M491.8 743.0h0M504.1 742.6h0M515.0 743.3h0M528.6 742.4h0M529.1 741.1h0M535.0 742.4h0M546.0 740.7h0M548.3 742.8h0M552.5 741.4h0M555.1 741.6h0M559.5 741.8h0M562.4 742.6h0M574.9 742.5h0M601.3 740.6h0M606.9 740.9h0M611.1 742.8h0M627.5 743.1h0M636.1 741.3h0M640.4 742.6h0M655.0 741.2h0M665.7 742.8h0M399.6 745.2h0M411.2 744.9h0M413.9 743.7h0M477.0 745.5h0M486.2 744.7h0M496.9 743.8h0M513.3 744.7h0M517.3 745.6h0M520.1 745.5h0M544.2 744.1h0M548.8 745.6h0M570.5 745.4h0M592.4 744.4h0M616.1 744.7h0M618.0 745.6h0M645.8 743.9h0M665.5 745.0h0M363.0 746.7h0M369.3 746.9h0M372.6 747.0h0M386.8 748.4h0M393.2 747.2h0M408.6 748.2h0M417.3 748.3h0M436.7 748.5h0M452.7 748.3h0M466.2 747.3h0M476.9 748.0h0M479.7 748.7h0M513.0 746.4h0M516.5 746.9h0M546.1 748.3h0M567.5 748.4h0M578.5 747.7h0M585.2 746.3h0M598.4 747.5h0M601.3 746.4h0M603.5 747.0h0M632.4 747.4h0M636.0 747.0h0M361.0 749.8h0M370.9 751.0h0M375.3 749.8h0M397.3 749.5h0M409.8 749.0h0M413.9 749.3h0M423.9 749.9h0M427.1 750.9h0M433.7 749.8h0M441.1 751.1h0M454.3 749.4h0M478.4 750.3h0M491.6 750.3h0M493.1 749.3h0M514.7 751.3h0M533.9 751.4h0M544.2 749.5h0M567.5 750.9h0M590.2 749.3h0M592.1 750.7h0M603.1 751.2h0M608.3 749.4h0M640.9 751.6h0M644.6 750.6h0M368.2 752.0h0M379.1 752.2h0M389.6 753.6h0M393.9 752.2h0M399.8 754.5h0M411.6 752.7h0M414.2 753.8h0M431.5 752.2h0M451.0 752.5h0M452.3 751.7h0M456.2 752.9h0M460.0 753.3h0M467.0 753.4h0M483.1 753.2h0M484.4 753.7h0M499.4 754.3h0M503.6 754.2h0M510.2 752.8h0M518.2 752.9h0M521.4 753.3h0M524.7 752.1h0M540.1 753.6h0M563.6 752.2h0M604.3 753.6h0M648.7 754.5h0M665.8 752.6h0M366.1 756.5h0M382.2 754.8h0M393.1 754.5h0M417.0 755.8h0M432.7 756.7h0M437.9 756.4h0M447.9 756.8h0M462.7 755.1h0M473.1 754.5h0M483.2 755.7h0M492.5 755.6h0M497.3 756.2h0M500.6 756.8h0M504.2 755.7h0M510.2 756.4h0M512.8 757.0h0M561.6 755.1h0M562.7 755.6h0M578.6 756.5h0M582.0 755.8h0M587.3 755.3h0M589.5 755.4h0M597.1 754.7h0M605.4 754.5h0M628.1 756.2h0M637.6 757.0h0M647.0 755.6h0M661.8 755.6h0M364.7 759.6h0M411.4 758.8h0M438.0 758.7h0M440.0 758.8h0M463.7 759.2h0M472.5 758.6h0M492.0 759.9h0M509.3 759.8h0M534.2 757.3h0M540.8 758.1h0M550.8 758.9h0M562.4 759.1h0M565.8 758.5h0M570.0 757.8h0M577.0 757.5h0M580.9 760.0h0M585.7 758.8h0M588.8 758.7h0M609.2 758.7h0M614.4 759.3h0M617.0 759.6h0M619.9 759.5h0M622.9 759.6h0M627.1 757.6h0M631.9 757.3h0M645.5 758.4h0M364.7 762.8h0M369.7 761.4h0M375.3 762.4h0M393.7 762.1h0M399.4 760.9h0M407.4 762.8h0M424.2 762.5h0M432.3 761.5h0M448.1 762.3h0M459.0 761.6h0M481.4 762.0h0M482.8 760.1h0M487.6 762.3h0M497.5 760.6h0M528.8 760.4h0M534.2 762.6h0M542.5 760.9h0M553.6 761.8h0M583.2 761.2h0M600.4 762.2h0M601.3 761.5h0M635.3 760.8h0M640.4 762.1h0M643.4 761.4h0M650.9 761.8h0M364.5 763.7h0M366.1 762.9h0M419.0 764.0h0M425.1 762.9h0M426.7 765.4h0M444.8 764.9h0M456.7 763.7h0M488.1 764.9h0M520.4 763.8h0M539.8 765.3h0M547.2 762.9h0M552.2 763.9h0M572.5 764.5h0M577.2 765.1h0M583.7 765.5h0M635.2 764.7h0M641.0 765.2h0M649.2 765.6h0M655.7 762.8h0M669.0 765.1h0M369.5 765.9h0M377.3 767.7h0M382.8 766.5h0M394.9 766.8h0M405.1 766.5h0M436.2 768.1h0M474.5 766.7h0M497.8 767.8h0M508.2 767.3h0M541.6 767.9h0M580.5 767.4h0M582.1 767.8h0M606.4 766.6h0M612.8 767.8h0M621.1 765.7h0M629.0 767.3h0M634.7 767.2h0M636.4 768.4h0M655.8 766.5h0M666.7 766.2h0M669.3 766.0h0M380.0 769.9h0M389.9 769.9h0M395.9 771.1h0M442.2 769.8h0M449.5 769.4h0M466.9 769.4h0M473.0 770.0h0M483.6 770.3h0M510.6 770.4h0M534.7 768.8h0M549.2 769.3h0M555.5 770.8h0M571.5 769.4h0M592.5 770.2h0M646.9 769.7h0M665.1 768.4h0M362.6 773.4h0M368.4 772.1h0M380.4 771.3h0M394.6 772.8h0M404.1 771.4h0M426.8 773.8h0M435.3 773.3h0M461.7 771.7h0M501.0 772.2h0M509.3 773.7h0M511.5 772.9h0M518.1 772.6h0M534.3 772.2h0M544.9 772.2h0M553.7 771.5h0M563.5 773.0h0M568.3 771.2h0M579.8 771.4h0M589.7 771.2h0M602.7 771.4h0M614.2 772.2h0M635.5 772.8h0M640.9 771.3h0M668.9 773.5h0M366.3 774.5h0M386.6 776.4h0M437.5 775.9h0M449.1 774.0h0M464.5 775.1h0M493.2 774.3h0M495.0 776.7h0M498.5 775.7h0M505.2 776.0h0M529.8 774.3h0M537.0 774.0h0M540.6 776.6h0M546.5 774.0h0M563.2 776.8h0M577.4 774.2h0M594.7 775.4h0M598.7 776.2h0M611.4 775.8h0M612.9 776.1h0M624.0 774.7h0M633.0 774.4h0M644.5 774.5h0M663.7 776.2h0M669.2 774.2h0M361.9 777.8h0M364.8 779.4h0M376.1 778.9h0M382.6 777.8h0M390.6 777.0h0M393.8 777.9h0M402.0 779.1h0M413.2 777.0h0M427.1 779.0h0M438.0 779.0h0M443.1 778.2h0M448.6 777.8h0M466.0 777.9h0M488.3 778.2h0M496.8 778.9h0M500.7 778.5h0M501.8 776.9h0M506.2 778.4h0M508.3 779.5h0M532.6 777.6h0M540.7 777.3h0M613.4 778.7h0M615.0 778.8h0M627.9 778.2h0M660.2 777.2h0M363.8 781.7h0M377.0 780.5h0M380.8 780.7h0M415.2 781.0h0M419.5 780.9h0M441.9 782.0h0M454.6 782.3h0M456.1 781.8h0M482.4 781.1h0M487.5 781.9h0M495.6 780.6h0M505.6 781.1h0M512.6 780.0h0M549.1 780.0h0M572.0 782.2h0M584.6 780.1h0M591.6 781.5h0M595.5 780.1h0M596.7 780.4h0M608.6 782.3h0M615.9 782.1h0M639.2 780.5h0M649.7 782.1h0M652.0 781.7h0M653.9 781.3h0M665.2 781.7h0M379.1 782.5h0M380.4 783.2h0M390.9 783.8h0M406.7 784.0h0M410.8 782.6h0M422.0 784.0h0M436.2 784.6h0M442.0 784.4h0M445.4 784.8h0M499.2 784.6h0M507.0 782.9h0M518.7 783.2h0M521.9 784.5h0M541.3 783.8h0M557.7 784.1h0M581.3 783.7h0M582.8 783.0h0M585.5 784.5h0M617.2 784.9h0M620.7 784.2h0M642.8 783.2h0M654.7 783.2h0M657.4 784.4h0M670.4 784.0h0M364.4 786.0h0M369.8 785.7h0M393.4 785.8h0M414.3 787.7h0M435.0 787.3h0M436.5 787.4h0M445.0 786.1h0M458.9 787.1h0M468.9 787.5h0M484.4 785.6h0M517.2 787.8h0M531.6 786.7h0M533.2 787.7h0M537.5 786.0h0M547.6 786.1h0M555.0 785.8h0M565.1 787.8h0M568.7 786.0h0M651.1 787.0h0M665.1 786.9h0M376.2 789.5h0M378.0 789.9h0M391.0 790.0h0M426.4 788.3h0M462.6 788.2h0M464.5 789.5h0M466.8 788.9h0M473.2 788.3h0M565.1 790.2h0M574.1 788.3h0M594.1 789.8h0M607.8 790.2h0M621.1 788.5h0M625.5 787.9h0M628.8 789.9h0M636.3 790.5h0M644.4 790.6h0M659.9 790.0h0M373.0 790.8h0M377.1 793.3h0M407.7 790.9h0M442.2 791.7h0M445.0 790.8h0M449.6 791.5h0M489.3 792.6h0M494.0 792.8h0M520.3 791.4h0M537.8 791.9h0M542.6 790.7h0M567.8 792.8h0M574.3 791.2h0M577.1 790.9h0M587.3 790.9h0M601.8 791.2h0M602.6 791.8h0M625.8 791.6h0M633.5 792.0h0M643.4 790.8h0M644.2 790.7h0M661.7 792.7h0M368.5 793.7h0M384.5 796.2h0M399.5 794.3h0M418.8 793.8h0M425.8 794.7h0M432.3 796.1h0M439.2 794.1h0M444.8 796.2h0M456.1 794.9h0M463.0 793.8h0M474.4 794.2h0M485.0 794.7h0M492.6 794.6h0M511.5 795.0h0M517.1 795.2h0M538.6 795.3h0M557.2 794.5h0M612.7 796.0h0M648.6 794.2h0M658.1 794.4h0M663.1 795.2h0" stroke="#eeb4e3" stroke-width="1.4" stroke-linecap="round" fill="none" stroke-opacity="0.8"/>
<path d="M362.0 794.2 L372.2 795.2 L382.5 796.9 L392.7 797.4 L402.9 796.2 L413.2 795.1 L423.4 795.2 L433.6 795.7 L443.9 795.0 L454.1 793.3 L464.3 792.5 L474.6 793.5 L484.8 794.8 L495.0 795.1 L505.3 794.6 L515.5 794.9 L525.7 796.4 L536.0 797.5 L546.2 796.9 L556.4 795.3 L566.7 794.7 L576.9 795.1 L587.1 795.2 L597.4 794.0 L607.6 792.6 L617.8 792.9 L628.1 794.4 L638.3 795.5 L648.5 795.2 L658.8 794.9 L669.0 795.7 L669.0 847.6 L658.8 848.3 L648.5 848.5 L638.3 847.6 L628.1 846.9 L617.8 847.9 L607.6 849.8 L597.4 850.6 L587.1 850.0 L576.9 849.5 L566.7 850.1 L556.4 850.9 L546.2 850.3 L536.0 848.5 L525.7 847.3 L515.5 847.6 L505.3 848.4 L495.0 848.2 L484.8 847.3 L474.6 847.5 L464.3 849.2 L454.1 850.8 L443.9 850.7 L433.6 849.7 L423.4 849.6 L413.2 850.4 L402.9 850.5 L392.7 849.1 L382.5 847.3 L372.2 847.0 L362.0 848.0Z" fill="#cbbde0"/>
<path d="M359.8 800.4h0M368.9 801.3h0M378.8 800.2h0M387.3 800.3h0M397.4 800.2h0M415.4 801.4h0M425.3 800.6h0M434.6 800.0h0M442.9 800.5h0M452.4 800.5h0M461.4 800.3h0M471.0 801.3h0M480.6 800.4h0M489.8 800.1h0M499.6 800.9h0M507.9 800.2h0M517.5 801.0h0M526.3 799.8h0M536.2 800.5h0M544.9 800.4h0M554.2 800.7h0M563.4 800.6h0M573.4 800.8h0M583.3 801.1h0M591.0 800.5h0M600.9 800.7h0M609.8 799.8h0M619.0 801.0h0M629.3 800.4h0M638.9 801.5h0M648.0 801.1h0M657.0 800.6h0M666.2 801.4h0M674.7 801.4h0M364.2 808.5h0M374.1 809.2h0M382.0 807.8h0M391.4 809.3h0M400.3 808.9h0M411.2 809.1h0M420.0 808.0h0M429.1 809.4h0M438.0 809.4h0M448.5 808.6h0M457.5 809.5h0M467.2 809.5h0M475.1 808.8h0M484.0 809.2h0M493.7 808.2h0M502.9 807.8h0M513.5 808.6h0M522.7 809.5h0M531.2 809.5h0M540.4 808.1h0M550.7 808.6h0M559.6 808.7h0M568.8 809.1h0M578.3 808.2h0M587.4 807.8h0M606.1 809.4h0M615.5 808.2h0M623.6 808.3h0M634.1 808.8h0M643.9 809.0h0M653.1 809.2h0M661.0 809.1h0M671.7 809.4h0M359.8 817.5h0M369.5 816.9h0M378.3 817.1h0M387.1 816.4h0M396.3 816.9h0M406.7 817.5h0M414.4 817.1h0M424.4 816.3h0M434.6 816.7h0M443.0 817.0h0M461.1 816.8h0M470.4 817.4h0M479.9 816.5h0M488.9 817.4h0M498.9 816.3h0M508.6 817.2h0M518.2 817.0h0M526.9 815.9h0M536.9 816.7h0M545.3 817.1h0M554.2 816.1h0M564.5 817.4h0M572.4 816.4h0M582.7 817.4h0M591.3 816.7h0M601.3 816.6h0M610.1 817.0h0M620.6 816.7h0M629.6 817.5h0M638.6 816.2h0M647.2 817.2h0M657.0 816.8h0M667.1 816.2h0M676.4 816.9h0M363.7 825.2h0M372.7 824.5h0M381.9 825.0h0M391.3 825.4h0M400.8 825.1h0M410.9 824.1h0M419.9 824.2h0M430.0 825.0h0M437.9 824.0h0M447.5 824.1h0M457.5 823.9h0M466.8 824.1h0M475.7 825.5h0M485.1 824.9h0M494.6 824.3h0M504.0 824.5h0M513.6 824.2h0M521.5 825.1h0M531.3 825.1h0M540.6 825.0h0M549.1 824.4h0M559.4 824.7h0M569.0 823.9h0M578.1 825.3h0M587.2 824.0h0M595.6 824.4h0M606.5 824.3h0M615.7 824.2h0M624.7 825.2h0M633.0 824.9h0M643.8 825.1h0M652.2 825.3h0M661.4 825.5h0M671.2 824.5h0M359.2 833.1h0M368.1 832.0h0M378.5 832.6h0M386.8 833.3h0M397.1 833.0h0M406.0 833.3h0M414.7 833.3h0M424.1 832.3h0M433.2 832.3h0M442.6 831.9h0M452.2 831.8h0M461.4 832.4h0M470.1 832.7h0M480.3 831.8h0M489.9 832.6h0M498.2 833.2h0M508.1 833.3h0M517.2 833.5h0M526.3 833.4h0M536.4 833.4h0M545.0 833.3h0M555.5 833.1h0M564.2 832.6h0M572.9 832.4h0M581.8 832.2h0M592.7 832.9h0M600.5 831.7h0M610.6 833.2h0M619.2 832.2h0M628.7 833.4h0M638.5 833.1h0M648.4 833.4h0M656.2 832.3h0M665.4 832.1h0M674.9 832.4h0M363.5 840.7h0M374.0 839.9h0M383.0 840.5h0M391.8 839.9h0M401.4 840.5h0M410.6 841.0h0M419.6 840.0h0M428.4 839.9h0M439.0 840.8h0M447.0 840.8h0M457.7 840.1h0M465.9 840.9h0M476.3 840.3h0M484.1 841.2h0M494.2 840.0h0M503.5 839.9h0M513.1 840.7h0M521.8 840.2h0M532.1 840.0h0M541.4 840.5h0M550.7 841.3h0M558.9 841.3h0M567.8 840.3h0M578.3 839.9h0M587.8 841.4h0M596.7 839.8h0M605.4 840.9h0M615.2 840.0h0M624.0 840.6h0M633.6 841.0h0M643.1 839.9h0M652.6 840.9h0M661.8 841.0h0M670.8 840.9h0" stroke="#6a5ca2" stroke-width="9.0" stroke-linecap="round" fill="none"/>
<path d="M359.8 800.4h0M368.9 801.3h0M378.8 800.2h0M387.3 800.3h0M397.4 800.2h0M415.4 801.4h0M425.3 800.6h0M434.6 800.0h0M442.9 800.5h0M452.4 800.5h0M461.4 800.3h0M471.0 801.3h0M480.6 800.4h0M489.8 800.1h0M499.6 800.9h0M507.9 800.2h0M517.5 801.0h0M526.3 799.8h0M536.2 800.5h0M544.9 800.4h0M554.2 800.7h0M563.4 800.6h0M573.4 800.8h0M583.3 801.1h0M591.0 800.5h0M600.9 800.7h0M609.8 799.8h0M619.0 801.0h0M629.3 800.4h0M638.9 801.5h0M648.0 801.1h0M657.0 800.6h0M666.2 801.4h0M674.7 801.4h0M364.2 808.5h0M374.1 809.2h0M382.0 807.8h0M391.4 809.3h0M400.3 808.9h0M411.2 809.1h0M420.0 808.0h0M429.1 809.4h0M438.0 809.4h0M448.5 808.6h0M457.5 809.5h0M467.2 809.5h0M475.1 808.8h0M484.0 809.2h0M493.7 808.2h0M502.9 807.8h0M513.5 808.6h0M522.7 809.5h0M531.2 809.5h0M540.4 808.1h0M550.7 808.6h0M559.6 808.7h0M568.8 809.1h0M578.3 808.2h0M587.4 807.8h0M606.1 809.4h0M615.5 808.2h0M623.6 808.3h0M634.1 808.8h0M643.9 809.0h0M653.1 809.2h0M661.0 809.1h0M671.7 809.4h0M359.8 817.5h0M369.5 816.9h0M378.3 817.1h0M387.1 816.4h0M396.3 816.9h0M406.7 817.5h0M414.4 817.1h0M424.4 816.3h0M434.6 816.7h0M443.0 817.0h0M461.1 816.8h0M470.4 817.4h0M479.9 816.5h0M488.9 817.4h0M498.9 816.3h0M508.6 817.2h0M518.2 817.0h0M526.9 815.9h0M536.9 816.7h0M545.3 817.1h0M554.2 816.1h0M564.5 817.4h0M572.4 816.4h0M582.7 817.4h0M591.3 816.7h0M601.3 816.6h0M610.1 817.0h0M620.6 816.7h0M629.6 817.5h0M638.6 816.2h0M647.2 817.2h0M657.0 816.8h0M667.1 816.2h0M676.4 816.9h0M363.7 825.2h0M372.7 824.5h0M381.9 825.0h0M391.3 825.4h0M400.8 825.1h0M410.9 824.1h0M419.9 824.2h0M430.0 825.0h0M437.9 824.0h0M447.5 824.1h0M457.5 823.9h0M466.8 824.1h0M475.7 825.5h0M485.1 824.9h0M494.6 824.3h0M504.0 824.5h0M513.6 824.2h0M521.5 825.1h0M531.3 825.1h0M540.6 825.0h0M549.1 824.4h0M559.4 824.7h0M569.0 823.9h0M578.1 825.3h0M587.2 824.0h0M595.6 824.4h0M606.5 824.3h0M615.7 824.2h0M624.7 825.2h0M633.0 824.9h0M643.8 825.1h0M652.2 825.3h0M661.4 825.5h0M671.2 824.5h0M359.2 833.1h0M368.1 832.0h0M378.5 832.6h0M386.8 833.3h0M397.1 833.0h0M406.0 833.3h0M414.7 833.3h0M424.1 832.3h0M433.2 832.3h0M442.6 831.9h0M452.2 831.8h0M461.4 832.4h0M470.1 832.7h0M480.3 831.8h0M489.9 832.6h0M498.2 833.2h0M508.1 833.3h0M517.2 833.5h0M526.3 833.4h0M536.4 833.4h0M545.0 833.3h0M555.5 833.1h0M564.2 832.6h0M572.9 832.4h0M581.8 832.2h0M592.7 832.9h0M600.5 831.7h0M610.6 833.2h0M619.2 832.2h0M628.7 833.4h0M638.5 833.1h0M648.4 833.4h0M656.2 832.3h0M665.4 832.1h0M674.9 832.4h0M363.5 840.7h0M374.0 839.9h0M383.0 840.5h0M391.8 839.9h0M401.4 840.5h0M410.6 841.0h0M419.6 840.0h0M428.4 839.9h0M439.0 840.8h0M447.0 840.8h0M457.7 840.1h0M465.9 840.9h0M476.3 840.3h0M484.1 841.2h0M494.2 840.0h0M503.5 839.9h0M513.1 840.7h0M521.8 840.2h0M532.1 840.0h0M541.4 840.5h0M550.7 841.3h0M558.9 841.3h0M567.8 840.3h0M578.3 839.9h0M587.8 841.4h0M596.7 839.8h0M605.4 840.9h0M615.2 840.0h0M624.0 840.6h0M633.6 841.0h0M643.1 839.9h0M652.6 840.9h0M661.8 841.0h0M670.8 840.9h0" stroke="#7e70b2" stroke-width="6.6" stroke-linecap="round" fill="none"/>
<path d="M361.0 801.8h0M369.8 802.7h0M380.0 801.4h0M387.4 801.7h0M397.6 801.4h0M416.7 801.7h0M426.8 801.9h0M434.7 799.9h0M441.7 799.7h0M452.1 800.6h0M460.8 800.8h0M472.0 801.6h0M479.2 799.0h0M489.4 801.5h0M499.2 799.7h0M507.0 800.1h0M517.4 800.2h0M525.3 799.9h0M535.6 801.9h0M543.7 800.4h0M555.3 800.8h0M564.0 800.3h0M574.2 801.7h0M584.6 802.4h0M590.0 800.3h0M600.4 800.6h0M609.4 801.2h0M617.8 801.3h0M628.8 800.0h0M638.8 802.7h0M648.4 800.4h0M656.5 799.2h0M664.9 800.3h0M675.3 800.6h0M364.4 808.4h0M373.9 808.0h0M383.2 806.3h0M390.8 810.5h0M401.6 808.8h0M410.8 809.9h0M420.6 806.7h0M427.8 808.2h0M437.4 808.3h0M448.7 809.0h0M457.8 808.7h0M468.3 808.8h0M475.9 810.0h0M483.7 810.1h0M493.8 808.0h0M503.1 807.4h0M514.1 809.0h0M522.1 810.3h0M531.0 809.9h0M541.9 807.5h0M551.2 808.9h0M560.9 807.3h0M569.8 809.6h0M577.2 807.9h0M588.2 806.9h0M606.0 808.5h0M616.3 807.9h0M624.9 807.4h0M633.1 809.3h0M643.9 810.4h0M653.8 809.6h0M659.9 808.4h0M671.9 809.4h0M361.3 818.0h0M369.2 816.7h0M377.5 817.5h0M388.3 815.8h0M396.9 817.1h0M407.9 817.9h0M413.2 815.8h0M425.3 815.3h0M435.7 817.1h0M443.4 818.0h0M462.5 817.9h0M471.0 816.5h0M481.0 817.1h0M489.0 818.0h0M499.7 817.1h0M509.4 817.6h0M518.8 817.6h0M527.6 815.1h0M537.9 817.1h0M544.1 816.9h0M554.0 815.9h0M565.1 816.1h0M571.1 817.3h0M584.1 816.7h0M589.9 815.3h0M602.3 817.4h0M611.2 815.5h0M621.6 817.0h0M630.0 817.1h0M638.7 817.6h0M647.9 818.0h0M656.7 817.5h0M668.1 814.9h0M677.0 817.2h0M365.2 824.9h0M372.5 825.9h0M382.7 826.3h0M391.9 826.7h0M400.2 826.4h0M411.3 823.1h0M420.2 824.4h0M430.7 825.9h0M436.4 824.1h0M447.4 825.2h0M458.6 823.1h0M467.0 823.0h0M475.0 826.3h0M485.4 823.5h0M495.9 824.1h0M502.5 824.9h0M512.5 823.6h0M521.9 823.9h0M530.8 825.8h0M540.9 824.2h0M548.8 823.7h0M559.2 824.4h0M568.9 825.2h0M578.0 826.1h0M586.5 824.2h0M594.2 824.6h0M607.4 823.1h0M615.7 824.2h0M624.1 826.3h0M631.9 826.1h0M644.3 826.4h0M651.0 825.4h0M660.8 825.5h0M671.7 824.3h0M359.3 833.5h0M369.6 830.6h0M378.6 831.8h0M386.5 831.9h0M397.6 832.3h0M405.1 832.3h0M415.2 834.3h0M423.1 831.2h0M431.8 832.3h0M441.7 831.7h0M450.7 831.7h0M461.9 831.4h0M470.2 833.0h0M479.1 831.6h0M490.4 833.5h0M496.7 833.4h0M509.4 833.3h0M518.0 832.5h0M525.1 832.6h0M535.9 832.3h0M545.3 834.0h0M556.8 834.1h0M565.6 834.0h0M573.2 831.5h0M583.0 832.6h0M594.1 833.8h0M601.1 831.8h0M610.1 834.1h0M619.4 833.0h0M628.1 833.2h0M639.9 834.2h0M648.5 832.7h0M656.2 831.0h0M666.7 833.1h0M676.2 833.3h0M364.5 841.6h0M375.5 839.8h0M382.1 840.8h0M391.5 840.0h0M402.1 839.8h0M409.6 840.8h0M419.4 840.2h0M427.6 839.2h0M437.9 842.0h0M446.0 840.2h0M457.8 840.3h0M465.4 841.0h0M476.8 840.1h0M483.1 841.9h0M494.8 839.6h0M502.4 841.2h0M512.7 839.6h0M520.7 840.4h0M531.4 838.6h0M540.4 840.7h0M550.8 840.1h0M558.4 841.0h0M567.6 839.7h0M577.9 840.4h0M587.6 840.7h0M598.0 839.3h0M605.6 840.0h0M616.1 841.0h0M625.0 840.0h0M632.8 841.5h0M644.5 839.8h0M654.1 841.8h0M661.2 841.2h0M672.2 842.0h0" stroke="#6a5a9f" stroke-width="2.6" stroke-linecap="round" fill="none" stroke-opacity="0.7"/>
<rect x="364" y="849" width="303" height="18" fill="#e6a5da"/>
<path d="M361.9 849.4h0M373.4 851.0h0M375.8 850.2h0M378.3 849.9h0M380.8 851.5h0M386.8 851.0h0M392.6 851.7h0M395.8 849.4h0M414.8 851.4h0M423.3 851.4h0M428.3 850.2h0M432.9 850.0h0M470.8 851.5h0M491.6 851.7h0M507.5 850.5h0M529.6 850.7h0M537.7 849.5h0M548.6 851.3h0M557.4 851.8h0M559.7 849.6h0M573.5 850.1h0M583.0 849.6h0M593.8 852.0h0M599.5 850.6h0M604.4 851.8h0M609.5 849.8h0M611.9 849.9h0M620.4 849.9h0M623.9 850.3h0M642.2 849.6h0M648.1 850.3h0M657.4 850.2h0M663.4 851.5h0M373.6 852.1h0M389.7 853.0h0M417.4 854.5h0M425.4 853.9h0M432.2 853.5h0M453.4 852.5h0M459.2 852.9h0M467.4 852.6h0M479.2 853.9h0M494.0 852.5h0M504.1 852.7h0M506.7 854.7h0M517.7 853.1h0M520.7 852.1h0M522.7 853.2h0M526.8 853.7h0M547.4 853.3h0M548.9 852.8h0M556.5 852.0h0M563.2 854.3h0M582.9 853.1h0M597.1 853.8h0M604.6 854.3h0M606.2 853.5h0M620.9 854.5h0M628.6 853.3h0M632.9 852.0h0M660.3 852.7h0M362.6 857.0h0M365.7 856.3h0M368.0 856.7h0M374.0 857.5h0M392.5 856.6h0M393.8 855.2h0M396.9 856.2h0M416.0 856.7h0M419.9 855.2h0M423.8 856.9h0M433.3 857.3h0M439.8 856.7h0M455.8 855.3h0M464.7 855.3h0M474.0 855.2h0M479.5 856.1h0M484.8 855.1h0M487.7 855.6h0M500.8 856.2h0M505.1 855.3h0M524.7 856.9h0M535.5 856.3h0M543.5 855.2h0M560.6 856.0h0M577.7 855.7h0M583.3 856.7h0M593.1 857.1h0M596.3 857.3h0M600.2 854.8h0M604.6 855.8h0M617.9 857.4h0M620.7 855.7h0M630.7 857.5h0M635.6 856.9h0M646.9 855.6h0M656.1 856.0h0M667.1 855.1h0M366.4 859.2h0M374.3 857.8h0M378.7 859.6h0M382.8 857.9h0M394.1 858.4h0M395.7 859.5h0M404.7 859.5h0M435.4 860.1h0M443.7 858.9h0M449.9 858.4h0M453.5 858.0h0M460.2 858.3h0M465.0 858.3h0M468.5 859.0h0M479.3 859.3h0M485.6 859.1h0M502.0 860.0h0M510.8 858.4h0M524.6 859.8h0M530.6 857.7h0M544.0 860.2h0M553.4 859.9h0M573.4 858.3h0M578.0 860.3h0M580.3 859.6h0M584.4 858.1h0M590.2 859.9h0M594.6 859.2h0M603.1 857.6h0M607.7 859.9h0M611.3 857.6h0M622.2 859.0h0M651.5 857.7h0M368.6 861.9h0M371.8 862.8h0M375.9 860.7h0M396.2 862.3h0M420.5 862.7h0M428.9 861.4h0M434.7 860.8h0M453.1 860.9h0M456.5 860.5h0M457.9 861.1h0M471.1 862.4h0M494.1 862.1h0M502.5 860.6h0M505.7 862.6h0M520.2 863.1h0M529.5 862.7h0M540.4 862.7h0M545.1 861.1h0M550.7 861.9h0M560.0 862.4h0M576.2 860.7h0M587.2 860.5h0M592.0 863.0h0M595.1 862.5h0M601.6 861.6h0M604.8 860.9h0M607.5 860.9h0M621.0 862.0h0M633.6 861.3h0M639.9 861.1h0M647.5 862.3h0M650.5 860.6h0M655.6 862.5h0M362.7 864.5h0M369.5 865.5h0M374.0 865.2h0M388.9 863.6h0M408.9 863.6h0M424.3 863.9h0M443.9 865.0h0M463.8 865.8h0M469.8 865.7h0M480.0 864.6h0M486.8 863.7h0M495.0 863.2h0M504.8 864.2h0M515.7 864.4h0M527.0 863.7h0M566.3 863.7h0M578.4 865.1h0M580.7 864.4h0M616.3 865.0h0M643.4 863.7h0M652.1 863.7h0M666.0 864.5h0" stroke="#f0bde6" stroke-width="1.5" stroke-linecap="round" fill="none" stroke-opacity="0.8"/>
<path d="M362.0 866.6 L372.2 866.5 L382.5 866.1 L392.7 866.6 L402.9 867.7 L413.2 867.8 L423.4 866.6 L433.6 865.4 L443.9 865.3 L454.1 865.8 L464.3 865.6 L474.6 864.6 L484.8 864.2 L495.0 865.1 L505.3 866.5 L515.5 866.9 L525.7 866.4 L536.0 866.3 L546.2 867.2 L556.4 867.8 L566.7 867.1 L576.9 865.6 L587.1 864.9 L597.4 865.3 L607.6 865.7 L617.8 865.1 L628.1 864.3 L638.3 864.7 L648.5 866.2 L658.8 867.2 L669.0 867.0 L669.0 931.9 L658.8 932.6 L648.5 934.1 L638.3 934.8 L628.1 934.2 L617.8 933.4 L607.6 933.4 L597.4 934.0 L587.1 933.6 L576.9 932.2 L566.7 931.2 L556.4 931.6 L546.2 932.5 L536.0 932.8 L525.7 932.3 L515.5 932.4 L505.3 933.6 L495.0 934.8 L484.8 934.7 L474.6 933.6 L464.3 933.1 L454.1 933.5 L443.9 933.6 L433.6 932.7 L423.4 931.4 L413.2 931.1 L402.9 932.1 L392.7 933.0 L382.5 932.8 L372.2 932.5 L362.0 933.1Z" fill="#d2bbe8"/>
<path d="M605.3 881.6h0M558.7 928.3h0M449.6 876.4h0M634.6 888.2h0M416.3 910.8h0M413.3 892.9h0M512.1 928.5h0M462.8 887.7h0M376.8 900.0h0M419.6 870.5h0M440.2 870.7h0M374.1 905.0h0M519.7 917.0h0M466.0 893.5h0M452.7 882.3h0M585.3 905.4h0M444.0 876.8h0M605.2 904.7h0M648.2 911.3h0M416.6 875.5h0M361.2 904.2h0M413.7 882.4h0M391.1 911.2h0M620.6 911.5h0M618.4 927.8h0M407.1 881.8h0M401.0 894.2h0M574.5 921.4h0M661.3 899.8h0M496.0 922.8h0M654.3 899.4h0M370.7 876.5h0M404.3 875.6h0M394.4 869.8h0M509.2 888.0h0M393.0 915.7h0M383.7 911.1h0M618.5 916.9h0M548.2 899.8h0M429.8 921.5h0M492.2 882.6h0M459.6 927.2h0M387.2 893.0h0M489.4 899.7h0M565.3 928.6h0M572.4 871.0h0M614.0 921.5h0M373.2 882.0h0M624.1 928.0h0M668.2 910.6h0M433.3 893.9h0M535.3 876.6h0M371.1 899.4h0M440.3 927.4h0M640.4 921.6h0M410.8 922.6h0M532.5 871.2h0M476.7 922.9h0M492.2 916.7h0M630.9 882.4h0M516.0 888.2h0M379.9 928.6h0M555.8 876.9h0M473.2 916.8h0M582.4 922.3h0M575.2 887.8h0M582.3 876.9h0M627.6 876.5h0M571.4 916.4h0M555.7 922.5h0M664.8 904.2h0M394.0 905.0h0M367.4 893.2h0M581.6 911.0h0M525.9 882.4h0M657.7 916.4h0M423.4 910.2h0M644.5 869.9h0M571.1 928.2h0M393.2 882.3h0M413.4 916.1h0M611.5 916.3h0M641.5 910.7h0M657.8 904.4h0M387.8 916.0h0M605.2 916.2h0M450.2 922.4h0M374.0 893.4h0M572.2 904.8h0M522.3 910.5h0M611.8 882.3h0M499.6 904.9h0M661.0 876.6h0M604.6 870.7h0M399.9 870.9h0M535.5 899.1h0M528.7 875.5h0M522.3 875.8h0M578.4 893.7h0M627.7 911.2h0M488.7 921.5h0M416.5 887.9h0M631.4 904.8h0M650.7 905.6h0M653.8 876.1h0M630.7 870.7h0M624.9 871.2h0M559.0 870.4h0M592.1 904.6h0M503.0 877.0h0M555.1 910.1h0M558.4 893.0h0M459.4 893.9h0M546.0 917.0h0M380.7 916.6h0M605.4 928.7h0M562.7 910.1h0M490.1 910.1h0M508.8 875.5h0M482.2 876.8h0M591.0 893.7h0M532.4 915.8h0M601.3 898.8h0M592.4 882.6h0M610.8 905.4h0M495.6 910.4h0M670.9 894.1h0M462.7 876.4h0M568.8 910.5h0M558.0 915.8h0M456.2 876.9h0M490.1 887.9h0M450.2 898.5h0M452.9 892.9h0M645.0 904.6h0M525.9 870.8h0M476.5 887.2h0M653.9 910.6h0M557.9 881.5h0M545.1 927.6h0M503.2 898.5h0M608.7 888.0h0M528.7 922.5h0M482.8 887.4h0M615.0 899.2h0M397.4 898.6h0M360.7 915.7h0M513.2 882.0h0M657.4 928.3h0M440.4 881.9h0M470.1 910.4h0M502.8 922.8h0M472.7 927.8h0M472.2 893.9h0M476.1 899.2h0M367.4 916.7h0M390.0 899.1h0M595.3 876.9h0M515.1 898.9h0M403.0 888.0h0M426.8 882.3h0M432.5 905.4h0M436.1 876.9h0M588.3 888.1h0M650.5 927.8h0M518.5 904.3h0M574.5 875.9h0M434.1 928.3h0M549.6 876.2h0M525.3 905.7h0M496.3 875.5h0M433.2 916.4h0M430.3 887.1h0M625.4 881.5h0M406.5 892.9h0M377.2 877.0h0M536.1 887.9h0M641.0 899.2h0M499.2 871.2h0M601.7 877.0h0M532.3 905.1h0M439.5 894.1h0M564.5 892.7h0M423.8 887.2h0M446.4 916.5h0M383.1 921.5h0M397.5 888.5h0M519.5 870.6h0M367.8 882.4h0M447.0 881.5h0M386.5 870.9h0M594.3 922.0h0M499.4 882.2h0M477.0 911.1h0M506.7 881.5h0M492.2 905.4h0M482.2 921.7h0M614.6 888.0h0M559.4 904.7h0M485.5 916.4h0M363.8 910.6h0M506.5 927.2h0M434.0 881.3h0M565.5 881.2h0M390.1 922.9h0M502.3 887.3h0M442.6 921.8h0M467.0 928.1h0M599.0 871.2h0M473.1 882.1h0M539.1 870.1h0M370.8 887.4h0M462.6 910.5h0M562.1 922.7h0M396.5 875.8h0M610.9 893.6h0M456.8 922.0h0M485.5 927.7h0M480.0 882.4h0M670.8 881.3h0M597.8 904.8h0M393.9 928.2h0M447.1 870.5h0M661.5 888.2h0M452.9 905.7h0M489.0 876.0h0M599.1 882.3h0M440.0 916.5h0M420.7 893.1h0M512.8 893.2h0M391.0 887.4h0M387.6 882.6h0M443.0 899.5h0M650.4 869.9h0M400.2 905.0h0M529.3 910.5h0M587.9 911.4h0M452.4 916.8h0M555.0 899.4h0M450.2 887.3h0M486.2 905.7h0M585.2 881.9h0M367.6 870.1h0M479.3 915.8h0M386.7 927.9h0M493.2 870.0h0M561.3 875.5h0M526.3 916.9h0M419.7 904.6h0M390.3 875.6h0M515.8 910.4h0M627.3 887.5h0M383.4 888.1h0M608.8 921.9h0M542.8 888.3h0M426.0 892.8h0M648.4 922.6h0M585.1 871.3h0M581.2 887.2h0M396.9 910.4h0M647.7 876.8h0M364.5 888.4h0M429.6 898.5h0M670.1 870.7h0M538.7 917.1h0M667.9 899.7h0M457.0 887.8h0M528.7 887.1h0M578.0 882.3h0M531.5 882.3h0M664.4 893.0h0M410.9 876.9h0M360.1 869.7h0M552.3 870.6h0M568.0 898.8h0M406.8 904.7h0M467.0 882.3h0M505.2 917.1h0M506.1 893.1h0M664.0 916.1h0M575.4 910.2h0M363.6 877.0h0M638.3 871.2h0M601.1 887.4h0M414.0 905.3h0M456.9 911.2h0M545.1 871.2h0M406.4 927.6h0M551.9 916.8h0M562.1 899.7h0M360.6 928.3h0M657.2 893.8h0M598.8 893.0h0M542.1 910.7h0M561.3 887.7h0M509.5 922.3h0M654.9 922.4h0M436.7 887.2h0M657.3 870.7h0M493.5 927.8h0M611.1 927.2h0M617.7 870.8h0M607.7 911.0h0M651.3 917.1h0M551.9 928.6h0M449.3 911.5h0M515.3 921.8h0M526.0 892.9h0M436.3 899.8h0M591.8 927.2h0M671.5 904.9h0M634.3 900.0h0M665.1 870.0h0M518.6 882.6h0M473.3 904.6h0M630.9 928.6h0M526.0 928.5h0M386.4 905.5h0M617.7 904.6h0M400.7 927.8h0M581.3 898.8h0M637.7 905.6h0M407.1 870.8h0M436.8 921.8h0M485.4 893.0h0M653.9 888.4h0M604.2 894.0h0M518.6 892.9h0M630.8 892.7h0M548.1 911.5h0M413.3 869.9h0M564.7 916.1h0M627.4 899.5h0M535.1 909.9h0M668.2 888.5h0M479.3 870.3h0M498.7 928.4h0M634.4 876.2h0M482.4 910.7h0M423.9 876.9h0M435.9 910.8h0M465.9 905.2h0M367.2 928.4h0M638.0 882.5h0M379.9 893.6h0M569.1 922.8h0M363.9 899.4h0M522.2 898.9h0M446.4 905.0h0M443.0 911.0h0M666.9 921.5h0M588.4 876.8h0M453.6 870.8h0M546.0 893.1h0M638.5 916.4h0M410.3 911.1h0M670.7 927.6h0M664.9 928.3h0M459.0 870.6h0M647.2 898.8h0M482.9 898.7h0M634.5 921.9h0M572.4 881.3h0M657.9 881.6h0M615.2 910.7h0M579.2 917.0h0M631.7 917.1h0M439.9 904.6h0M511.8 917.1h0M568.7 887.1h0M452.6 928.4h0M416.3 921.9h0M383.2 899.5h0M459.6 916.2h0M404.0 899.2h0M400.8 916.9h0M584.8 928.3h0M598.3 927.2h0M430.1 910.6h0M509.8 899.1h0M539.4 905.3h0M442.5 887.9h0M594.3 888.3h0M545.5 904.8h0M463.5 922.3h0M419.5 881.7h0M383.6 876.3h0M456.9 899.6h0M645.0 882.7h0M493.4 893.4h0M377.1 922.7h0M602.3 922.3h0M542.7 899.6h0M424.1 899.2h0M638.3 928.3h0M409.9 888.3h0M367.0 904.9h0M660.7 910.2h0M651.3 881.6h0M480.3 928.5h0M529.4 900.0h0M402.9 911.4h0M578.6 928.4h0M521.7 887.8h0M377.1 887.1h0M552.2 904.4h0M568.1 875.8h0M621.6 876.9h0M499.7 915.9h0M539.3 928.4h0M433.1 870.2h0M429.9 876.0h0M505.2 905.5h0M360.5 893.8h0M486.2 882.5h0M377.4 910.1h0M594.7 911.4h0M597.9 916.2h0M518.7 927.3h0M427.2 916.1h0M470.0 888.0h0M625.1 904.8h0M617.9 881.6h0M406.3 916.3h0M479.5 893.1h0M542.0 875.6h0M466.3 870.9h0M416.8 899.0h0M585.7 893.6h0M396.8 922.2h0M588.0 899.0h0M578.6 905.6h0M532.5 892.8h0M522.2 922.6h0M615.4 875.7h0M496.2 888.3h0M420.7 928.6h0M414.2 927.4h0M571.8 893.3h0M622.0 898.8h0M648.3 888.3h0M667.2 876.0h0M671.1 916.4h0M552.3 881.2h0M594.5 899.3h0M621.2 921.8h0M509.8 909.9h0M364.0 922.2h0M496.3 898.6h0M469.7 876.4h0M661.8 921.7h0M545.8 881.4h0M374.5 869.8h0M426.5 904.8h0M393.8 893.4h0M539.1 893.8h0M512.3 905.7h0M578.4 870.1h0M502.1 910.9h0M551.5 893.9h0M380.4 882.0h0M602.4 911.5h0M423.4 921.9h0M486.0 870.4h0M403.7 921.9h0M539.6 881.8h0M370.0 921.7h0M548.6 887.8h0M499.1 894.2h0M381.1 870.2h0M360.3 882.0h0M565.8 904.3h0M460.0 905.2h0M447.1 893.1h0M466.5 916.3h0M555.7 887.0h0M664.7 881.4h0M473.3 870.3h0M462.6 898.6h0M410.4 899.1h0M585.5 916.2h0M617.3 893.0h0M426.8 928.0h0M628.2 922.8h0M469.2 899.7h0M549.3 922.2h0M427.4 870.5h0M515.5 875.7h0M574.5 898.9h0M634.7 911.3h0M469.7 922.1h0M532.5 927.3h0M369.9 910.6h0M542.7 921.8h0M564.5 870.4h0M373.2 927.6h0M641.4 888.5h0M624.8 893.6h0M512.3 870.4h0M607.9 876.5h0M419.7 915.8h0M644.3 916.4h0M621.5 887.8h0M476.6 875.7h0M623.9 917.0h0M588.5 922.2h0M480.3 905.5h0M611.7 870.4h0" stroke="#7a66b4" stroke-width="5.6" stroke-linecap="round" fill="none" stroke-opacity="0.6"/>
<path d="M605.3 881.6h0M558.7 928.3h0M449.6 876.4h0M634.6 888.2h0M416.3 910.8h0M413.3 892.9h0M512.1 928.5h0M462.8 887.7h0M376.8 900.0h0M419.6 870.5h0M440.2 870.7h0M374.1 905.0h0M519.7 917.0h0M466.0 893.5h0M452.7 882.3h0M585.3 905.4h0M444.0 876.8h0M605.2 904.7h0M648.2 911.3h0M416.6 875.5h0M361.2 904.2h0M413.7 882.4h0M391.1 911.2h0M620.6 911.5h0M618.4 927.8h0M407.1 881.8h0M401.0 894.2h0M574.5 921.4h0M661.3 899.8h0M496.0 922.8h0M654.3 899.4h0M370.7 876.5h0M404.3 875.6h0M394.4 869.8h0M509.2 888.0h0M393.0 915.7h0M383.7 911.1h0M618.5 916.9h0M548.2 899.8h0M429.8 921.5h0M492.2 882.6h0M459.6 927.2h0M387.2 893.0h0M489.4 899.7h0M565.3 928.6h0M572.4 871.0h0M614.0 921.5h0M373.2 882.0h0M624.1 928.0h0M668.2 910.6h0M433.3 893.9h0M535.3 876.6h0M371.1 899.4h0M440.3 927.4h0M640.4 921.6h0M410.8 922.6h0M532.5 871.2h0M476.7 922.9h0M492.2 916.7h0M630.9 882.4h0M516.0 888.2h0M379.9 928.6h0M555.8 876.9h0M473.2 916.8h0M582.4 922.3h0M575.2 887.8h0M582.3 876.9h0M627.6 876.5h0M571.4 916.4h0M555.7 922.5h0M664.8 904.2h0M394.0 905.0h0M367.4 893.2h0M581.6 911.0h0M525.9 882.4h0M657.7 916.4h0M423.4 910.2h0M644.5 869.9h0M571.1 928.2h0M393.2 882.3h0M413.4 916.1h0M611.5 916.3h0M641.5 910.7h0M657.8 904.4h0M387.8 916.0h0M605.2 916.2h0M450.2 922.4h0M374.0 893.4h0M572.2 904.8h0M522.3 910.5h0M611.8 882.3h0M499.6 904.9h0M661.0 876.6h0M604.6 870.7h0M399.9 870.9h0M535.5 899.1h0M528.7 875.5h0M522.3 875.8h0M578.4 893.7h0M627.7 911.2h0M488.7 921.5h0M416.5 887.9h0M631.4 904.8h0M650.7 905.6h0M653.8 876.1h0M630.7 870.7h0M624.9 871.2h0M559.0 870.4h0M592.1 904.6h0M503.0 877.0h0M555.1 910.1h0M558.4 893.0h0M459.4 893.9h0M546.0 917.0h0M380.7 916.6h0M605.4 928.7h0M562.7 910.1h0M490.1 910.1h0M508.8 875.5h0M482.2 876.8h0M591.0 893.7h0M532.4 915.8h0M601.3 898.8h0M592.4 882.6h0M610.8 905.4h0M495.6 910.4h0M670.9 894.1h0M462.7 876.4h0M568.8 910.5h0M558.0 915.8h0M456.2 876.9h0M490.1 887.9h0M450.2 898.5h0M452.9 892.9h0M645.0 904.6h0M525.9 870.8h0M476.5 887.2h0M653.9 910.6h0M557.9 881.5h0M545.1 927.6h0M503.2 898.5h0M608.7 888.0h0M528.7 922.5h0M482.8 887.4h0M615.0 899.2h0M397.4 898.6h0M360.7 915.7h0M513.2 882.0h0M657.4 928.3h0M440.4 881.9h0M470.1 910.4h0M502.8 922.8h0M472.7 927.8h0M472.2 893.9h0M476.1 899.2h0M367.4 916.7h0M390.0 899.1h0M595.3 876.9h0M515.1 898.9h0M403.0 888.0h0M426.8 882.3h0M432.5 905.4h0M436.1 876.9h0M588.3 888.1h0M650.5 927.8h0M518.5 904.3h0M574.5 875.9h0M434.1 928.3h0M549.6 876.2h0M525.3 905.7h0M496.3 875.5h0M433.2 916.4h0M430.3 887.1h0M625.4 881.5h0M406.5 892.9h0M377.2 877.0h0M536.1 887.9h0M641.0 899.2h0M499.2 871.2h0M601.7 877.0h0M532.3 905.1h0M439.5 894.1h0M564.5 892.7h0M423.8 887.2h0M446.4 916.5h0M383.1 921.5h0M397.5 888.5h0M519.5 870.6h0M367.8 882.4h0M447.0 881.5h0M386.5 870.9h0M594.3 922.0h0M499.4 882.2h0M477.0 911.1h0M506.7 881.5h0M492.2 905.4h0M482.2 921.7h0M614.6 888.0h0M559.4 904.7h0M485.5 916.4h0M363.8 910.6h0M506.5 927.2h0M434.0 881.3h0M565.5 881.2h0M390.1 922.9h0M502.3 887.3h0M442.6 921.8h0M467.0 928.1h0M599.0 871.2h0M473.1 882.1h0M539.1 870.1h0M370.8 887.4h0M462.6 910.5h0M562.1 922.7h0M396.5 875.8h0M610.9 893.6h0M456.8 922.0h0M485.5 927.7h0M480.0 882.4h0M670.8 881.3h0M597.8 904.8h0M393.9 928.2h0M447.1 870.5h0M661.5 888.2h0M452.9 905.7h0M489.0 876.0h0M599.1 882.3h0M440.0 916.5h0M420.7 893.1h0M512.8 893.2h0M391.0 887.4h0M387.6 882.6h0M443.0 899.5h0M650.4 869.9h0M400.2 905.0h0M529.3 910.5h0M587.9 911.4h0M452.4 916.8h0M555.0 899.4h0M450.2 887.3h0M486.2 905.7h0M585.2 881.9h0M367.6 870.1h0M479.3 915.8h0M386.7 927.9h0M493.2 870.0h0M561.3 875.5h0M526.3 916.9h0M419.7 904.6h0M390.3 875.6h0M515.8 910.4h0M627.3 887.5h0M383.4 888.1h0M608.8 921.9h0" stroke="#43388a" stroke-width="5.0" stroke-linecap="round" fill="none"/>
<path d="M542.8 888.3h0M426.0 892.8h0M648.4 922.6h0M585.1 871.3h0M581.2 887.2h0M396.9 910.4h0M647.7 876.8h0M364.5 888.4h0M429.6 898.5h0M670.1 870.7h0M538.7 917.1h0M667.9 899.7h0M457.0 887.8h0M528.7 887.1h0M578.0 882.3h0M531.5 882.3h0M664.4 893.0h0M410.9 876.9h0M360.1 869.7h0M552.3 870.6h0M568.0 898.8h0M406.8 904.7h0M467.0 882.3h0M505.2 917.1h0M506.1 893.1h0M664.0 916.1h0M575.4 910.2h0M363.6 877.0h0M638.3 871.2h0M601.1 887.4h0M414.0 905.3h0M456.9 911.2h0M545.1 871.2h0M406.4 927.6h0M551.9 916.8h0M562.1 899.7h0M360.6 928.3h0M657.2 893.8h0M598.8 893.0h0M542.1 910.7h0M561.3 887.7h0M509.5 922.3h0M654.9 922.4h0M436.7 887.2h0M657.3 870.7h0M493.5 927.8h0M611.1 927.2h0M617.7 870.8h0M607.7 911.0h0M651.3 917.1h0M551.9 928.6h0M449.3 911.5h0M515.3 921.8h0M526.0 892.9h0M436.3 899.8h0M591.8 927.2h0M671.5 904.9h0M634.3 900.0h0M665.1 870.0h0M518.6 882.6h0M473.3 904.6h0M630.9 928.6h0M526.0 928.5h0M386.4 905.5h0M617.7 904.6h0M400.7 927.8h0M581.3 898.8h0M637.7 905.6h0M407.1 870.8h0M436.8 921.8h0M485.4 893.0h0M653.9 888.4h0M604.2 894.0h0M518.6 892.9h0M630.8 892.7h0M548.1 911.5h0M413.3 869.9h0M564.7 916.1h0M627.4 899.5h0M535.1 909.9h0M668.2 888.5h0M479.3 870.3h0M498.7 928.4h0M634.4 876.2h0M482.4 910.7h0M423.9 876.9h0M435.9 910.8h0M465.9 905.2h0M367.2 928.4h0M638.0 882.5h0M379.9 893.6h0M569.1 922.8h0M363.9 899.4h0M522.2 898.9h0M446.4 905.0h0M443.0 911.0h0M666.9 921.5h0M588.4 876.8h0M453.6 870.8h0M546.0 893.1h0M638.5 916.4h0M410.3 911.1h0M670.7 927.6h0M664.9 928.3h0M459.0 870.6h0M647.2 898.8h0M482.9 898.7h0M634.5 921.9h0M572.4 881.3h0M657.9 881.6h0M615.2 910.7h0M579.2 917.0h0M631.7 917.1h0M439.9 904.6h0M511.8 917.1h0M568.7 887.1h0M452.6 928.4h0M416.3 921.9h0M383.2 899.5h0M459.6 916.2h0M404.0 899.2h0M400.8 916.9h0M584.8 928.3h0M598.3 927.2h0M430.1 910.6h0M509.8 899.1h0M539.4 905.3h0M442.5 887.9h0M594.3 888.3h0M545.5 904.8h0M463.5 922.3h0M419.5 881.7h0M383.6 876.3h0M456.9 899.6h0M645.0 882.7h0M493.4 893.4h0M377.1 922.7h0M602.3 922.3h0M542.7 899.6h0M424.1 899.2h0M638.3 928.3h0M409.9 888.3h0M367.0 904.9h0M660.7 910.2h0M651.3 881.6h0M480.3 928.5h0M529.4 900.0h0M402.9 911.4h0M578.6 928.4h0M521.7 887.8h0M377.1 887.1h0M552.2 904.4h0M568.1 875.8h0M621.6 876.9h0M499.7 915.9h0M539.3 928.4h0M433.1 870.2h0M429.9 876.0h0M505.2 905.5h0M360.5 893.8h0M486.2 882.5h0M377.4 910.1h0M594.7 911.4h0M597.9 916.2h0M518.7 927.3h0M427.2 916.1h0M470.0 888.0h0M625.1 904.8h0M617.9 881.6h0M406.3 916.3h0M479.5 893.1h0M542.0 875.6h0M466.3 870.9h0M416.8 899.0h0M585.7 893.6h0M396.8 922.2h0M588.0 899.0h0M578.6 905.6h0M532.5 892.8h0M522.2 922.6h0M615.4 875.7h0M496.2 888.3h0M420.7 928.6h0M414.2 927.4h0M571.8 893.3h0M622.0 898.8h0M648.3 888.3h0M667.2 876.0h0M671.1 916.4h0M552.3 881.2h0M594.5 899.3h0M621.2 921.8h0M509.8 909.9h0M364.0 922.2h0M496.3 898.6h0M469.7 876.4h0M661.8 921.7h0M545.8 881.4h0M374.5 869.8h0M426.5 904.8h0M393.8 893.4h0M539.1 893.8h0M512.3 905.7h0M578.4 870.1h0M502.1 910.9h0M551.5 893.9h0M380.4 882.0h0M602.4 911.5h0M423.4 921.9h0M486.0 870.4h0M403.7 921.9h0M539.6 881.8h0M370.0 921.7h0M548.6 887.8h0M499.1 894.2h0M381.1 870.2h0M360.3 882.0h0M565.8 904.3h0M460.0 905.2h0M447.1 893.1h0M466.5 916.3h0M555.7 887.0h0M664.7 881.4h0M473.3 870.3h0M462.6 898.6h0M410.4 899.1h0M585.5 916.2h0M617.3 893.0h0M426.8 928.0h0M628.2 922.8h0M469.2 899.7h0M549.3 922.2h0M427.4 870.5h0M515.5 875.7h0M574.5 898.9h0M634.7 911.3h0M469.7 922.1h0M532.5 927.3h0M369.9 910.6h0M542.7 921.8h0M564.5 870.4h0M373.2 927.6h0M641.4 888.5h0M624.8 893.6h0M512.3 870.4h0M607.9 876.5h0M419.7 915.8h0M644.3 916.4h0M621.5 887.8h0M476.6 875.7h0M623.9 917.0h0M588.5 922.2h0M480.3 905.5h0M611.7 870.4h0" stroke="#3a307e" stroke-width="4.7" stroke-linecap="round" fill="none"/>
<rect x="364" y="933" width="303" height="30" fill="#e49bd7"/>
<rect x="364" y="947.5" width="303" height="15.5" fill="#f0b9e6" opacity="0.75"/>
<path d="M375.7 946.9h0M379.5 948.3h0M386.3 947.5h0M400.2 948.0h0M427.4 946.6h0M431.6 946.3h0M433.4 947.0h0M445.4 947.2h0M451.5 947.5h0M457.3 948.5h0M480.2 948.5h0M481.2 947.1h0M487.9 946.7h0M493.7 948.1h0M501.0 948.6h0M504.1 948.5h0M505.5 947.4h0M510.2 946.3h0M534.7 948.8h0M538.8 947.3h0M551.6 947.7h0M555.1 947.3h0M558.0 947.8h0M563.1 947.9h0M565.5 948.3h0M570.3 948.5h0M574.9 947.6h0M586.8 947.4h0M591.5 946.5h0M603.3 947.8h0M625.9 947.6h0M629.4 948.3h0M636.5 948.5h0M642.7 947.9h0M657.5 948.0h0M375.7 951.3h0M379.6 949.0h0M381.4 949.8h0M389.8 950.5h0M409.1 948.9h0M413.0 950.3h0M424.1 951.4h0M449.7 949.3h0M457.2 949.5h0M460.4 950.4h0M462.0 951.0h0M481.3 949.8h0M504.4 949.5h0M526.8 949.1h0M529.5 950.5h0M543.8 950.1h0M550.9 950.0h0M555.0 949.2h0M565.6 950.9h0M592.4 950.9h0M601.9 949.0h0M605.8 949.0h0M611.3 950.3h0M613.1 951.1h0M615.6 951.2h0M627.3 949.4h0M631.2 949.1h0M634.6 949.6h0M637.9 951.3h0M646.9 950.9h0M655.0 949.0h0M660.7 950.9h0M372.1 952.6h0M381.5 951.5h0M383.7 953.6h0M391.8 952.5h0M417.7 951.6h0M425.1 952.0h0M435.3 953.5h0M441.4 952.5h0M458.2 953.7h0M466.6 951.6h0M472.5 953.4h0M481.3 952.7h0M486.2 952.2h0M510.1 952.2h0M524.3 953.7h0M543.8 951.8h0M556.6 951.8h0M559.7 953.3h0M562.9 952.8h0M566.2 951.6h0M578.5 953.2h0M585.4 953.7h0M590.5 953.3h0M593.0 952.9h0M602.8 952.2h0M605.8 951.9h0M609.3 953.4h0M624.6 953.7h0M632.4 953.0h0M634.5 951.9h0M649.5 952.2h0M653.7 954.0h0M364.7 956.6h0M389.1 954.3h0M397.9 956.0h0M400.2 956.2h0M407.3 954.8h0M408.1 956.5h0M416.9 956.0h0M420.8 955.0h0M430.9 954.2h0M433.3 956.0h0M444.1 956.3h0M461.3 954.9h0M464.8 955.9h0M472.0 954.6h0M474.1 955.8h0M489.0 956.1h0M498.7 954.2h0M504.5 954.5h0M507.8 955.2h0M514.4 954.4h0M520.8 955.1h0M524.8 955.1h0M555.9 954.3h0M558.0 955.4h0M592.9 954.5h0M600.9 955.0h0M610.0 954.8h0M613.5 955.4h0M642.1 956.4h0M657.2 955.3h0M661.6 955.3h0M662.8 955.4h0M666.3 954.3h0M370.3 958.3h0M374.2 958.8h0M377.9 957.4h0M380.4 958.0h0M383.2 956.8h0M388.4 957.1h0M399.2 958.5h0M401.4 957.8h0M415.7 958.1h0M419.4 959.1h0M425.8 957.6h0M431.5 958.2h0M442.3 957.8h0M445.4 956.9h0M449.4 958.4h0M487.8 957.6h0M493.9 958.8h0M504.7 957.8h0M510.1 958.1h0M516.3 957.9h0M540.2 957.7h0M549.1 959.2h0M562.7 958.4h0M568.4 958.0h0M572.2 957.0h0M587.7 956.8h0M594.7 957.6h0M604.6 957.6h0M609.5 958.6h0M634.7 958.6h0M647.4 958.2h0M649.3 959.3h0M656.5 958.8h0M665.6 957.2h0M369.7 959.9h0M373.8 959.8h0M385.7 961.8h0M394.2 961.3h0M445.3 961.0h0M450.2 961.4h0M455.7 960.1h0M462.5 960.3h0M466.9 959.8h0M469.8 961.7h0M473.0 961.4h0M483.4 960.8h0M493.6 960.8h0M498.3 961.5h0M503.8 959.6h0M523.3 961.3h0M564.5 960.1h0M568.0 960.8h0M574.1 960.8h0M589.0 959.3h0M591.9 959.5h0M595.6 961.4h0M598.7 959.8h0M608.3 961.4h0M618.9 961.4h0M635.3 960.6h0M637.4 960.7h0M640.6 961.3h0M652.3 960.0h0M657.3 959.3h0" stroke="#f8dcf3" stroke-width="1.4" stroke-linecap="round" fill="none" stroke-opacity="0.8"/>
<path d="M362.0 962.1 L372.2 962.4 L382.5 962.3 L392.7 961.6 L402.9 960.9 L413.2 961.0 L423.4 961.7 L433.6 962.0 L443.9 961.8 L454.1 961.7 L464.3 962.3 L474.6 963.0 L484.8 963.1 L495.0 962.5 L505.3 962.0 L515.5 962.1 L525.7 962.3 L536.0 961.9 L546.2 961.1 L556.4 960.8 L566.7 961.4 L576.9 962.0 L587.1 962.1 L597.4 961.8 L607.6 962.0 L617.8 962.8 L628.1 963.2 L638.3 962.8 L648.5 962.0 L658.8 961.8 L669.0 962.0 L669.0 975.6 L658.8 975.0 L648.5 975.0 L638.3 975.7 L628.1 976.5 L617.8 976.6 L607.6 976.2 L597.4 976.3 L587.1 976.8 L576.9 977.0 L566.7 976.4 L556.4 975.6 L546.2 975.3 L536.0 975.6 L525.7 975.8 L515.5 975.3 L505.3 975.0 L495.0 975.4 L484.8 976.3 L474.6 976.8 L464.3 976.5 L454.1 976.2 L443.9 976.5 L433.6 976.9 L423.4 976.7 L413.2 975.8 L402.9 975.2 L392.7 975.3 L382.5 975.7 L372.2 975.6 L362.0 975.2Z" fill="#3e2a2a"/>
<path d="M362.3 963.4h0M367.8 962.5h0M370.9 963.3h0M372.0 963.7h0M375.7 964.0h0M394.8 962.6h0M396.1 962.8h0M400.7 963.8h0M403.9 962.7h0M420.3 963.1h0M423.6 963.2h0M429.7 962.8h0M434.2 963.3h0M437.5 964.1h0M446.5 962.8h0M454.6 962.5h0M474.1 962.9h0M475.6 963.6h0M478.7 962.3h0M480.4 964.1h0M485.0 962.8h0M487.3 963.1h0M489.5 963.9h0M492.2 962.5h0M498.1 963.6h0M504.1 962.5h0M516.6 963.8h0M519.2 963.0h0M523.9 962.6h0M529.2 963.1h0M529.9 963.5h0M532.7 963.5h0M537.4 964.1h0M545.9 963.2h0M548.2 963.8h0M549.6 962.4h0M553.4 964.0h0M554.2 962.7h0M556.5 962.4h0M578.4 963.0h0M582.1 962.5h0M592.3 963.9h0M597.2 964.1h0M599.7 963.9h0M612.4 964.1h0M622.4 963.3h0M624.3 963.2h0M639.2 963.3h0M643.4 964.2h0M645.1 963.5h0M652.5 964.1h0M658.4 962.6h0M661.3 962.9h0M662.9 962.8h0M665.5 963.0h0M667.3 963.7h0M369.2 966.0h0M371.3 964.5h0M372.8 964.5h0M375.9 964.4h0M382.7 964.9h0M386.0 965.3h0M393.2 964.7h0M394.6 965.4h0M397.4 964.3h0M411.5 965.6h0M416.6 966.1h0M426.7 965.7h0M429.6 964.7h0M434.2 965.2h0M435.2 964.4h0M438.1 965.9h0M442.5 965.3h0M444.6 964.9h0M448.0 966.2h0M457.6 965.5h0M464.8 966.1h0M470.1 965.8h0M477.7 965.8h0M479.8 965.2h0M488.8 966.0h0M490.6 966.1h0M498.7 965.4h0M499.9 964.7h0M505.9 964.4h0M507.3 965.0h0M509.5 965.1h0M512.0 966.2h0M517.5 965.2h0M535.3 965.9h0M539.8 964.8h0M542.0 966.1h0M543.4 965.9h0M551.8 964.4h0M552.8 966.0h0M556.7 964.9h0M559.2 966.0h0M566.1 965.4h0M576.1 965.1h0M579.7 964.4h0M585.8 965.5h0M589.2 965.3h0M592.9 966.3h0M595.9 965.1h0M601.1 965.1h0M615.4 964.9h0M617.7 965.4h0M621.0 965.7h0M624.0 964.9h0M625.9 964.3h0M628.8 965.1h0M630.8 964.8h0M636.9 965.9h0M640.7 964.7h0M657.2 965.5h0M659.1 965.4h0M663.2 965.5h0M665.5 965.3h0M363.8 967.5h0M367.4 967.1h0M370.8 966.8h0M375.5 968.0h0M382.3 968.0h0M386.0 967.7h0M388.7 967.4h0M398.5 966.7h0M401.9 967.4h0M405.9 967.4h0M408.0 968.3h0M410.4 966.7h0M415.9 967.7h0M419.6 968.0h0M422.9 967.4h0M424.2 967.0h0M430.6 966.8h0M432.5 967.6h0M439.9 967.0h0M442.3 967.0h0M446.1 966.7h0M455.7 966.9h0M458.4 967.9h0M470.0 968.2h0M477.9 967.9h0M482.7 967.0h0M487.2 967.4h0M490.3 968.3h0M499.9 966.7h0M501.6 967.1h0M505.2 966.8h0M511.0 967.5h0M519.2 967.0h0M522.1 967.8h0M522.8 967.6h0M538.4 967.3h0M542.2 966.8h0M544.9 967.7h0M549.8 968.3h0M555.0 967.8h0M557.2 967.4h0M559.4 968.3h0M562.2 968.3h0M564.0 966.7h0M569.9 966.9h0M574.4 967.6h0M577.3 967.2h0M583.9 967.7h0M587.5 967.7h0M594.0 967.3h0M605.6 967.4h0M613.4 967.3h0M616.6 967.2h0M625.1 968.0h0M633.4 968.0h0M638.8 966.5h0M641.5 967.0h0M651.8 966.4h0M653.8 967.9h0M655.4 966.7h0M663.4 967.3h0M665.4 968.3h0M367.0 969.6h0M371.1 969.1h0M375.8 968.5h0M381.5 968.5h0M384.8 970.1h0M387.4 970.4h0M395.7 969.9h0M397.5 969.7h0M400.2 969.8h0M401.7 969.4h0M406.3 968.7h0M410.0 970.2h0M418.6 968.9h0M425.6 968.7h0M429.0 969.6h0M431.9 968.6h0M435.0 969.2h0M439.0 969.4h0M446.3 968.8h0M449.5 969.7h0M457.1 970.3h0M459.4 970.3h0M461.6 970.0h0M464.8 970.2h0M472.3 969.4h0M481.3 969.3h0M484.2 968.6h0M491.9 970.4h0M501.6 970.4h0M504.8 968.8h0M513.5 968.6h0M520.3 969.2h0M521.9 968.5h0M526.8 969.7h0M532.4 969.6h0M541.1 968.7h0M546.3 969.6h0M550.5 970.4h0M557.6 969.2h0M571.0 968.7h0M573.0 968.5h0M574.6 969.2h0M577.0 969.2h0M585.8 969.8h0M592.2 970.1h0M595.3 968.8h0M598.6 969.5h0M606.5 968.9h0M612.0 969.4h0M618.2 969.4h0M621.1 969.3h0M625.2 968.6h0M627.7 969.4h0M637.5 968.6h0M639.5 969.5h0M642.5 968.7h0M644.5 968.7h0M647.4 968.8h0M659.9 969.9h0M663.1 968.6h0M666.3 970.0h0M362.6 972.5h0M365.3 971.1h0M367.1 972.2h0M370.2 971.4h0M371.7 971.5h0M379.4 970.8h0M381.6 972.2h0M385.0 970.9h0M386.0 970.6h0M390.0 971.6h0M393.7 972.2h0M397.3 972.4h0M400.5 972.3h0M408.6 970.7h0M416.3 971.6h0M418.1 971.4h0M422.2 971.0h0M424.7 970.9h0M427.2 971.9h0M435.4 972.3h0M439.0 971.5h0M441.1 971.5h0M446.1 972.5h0M456.7 971.7h0M458.8 970.6h0M467.0 971.1h0M485.3 970.8h0M488.4 971.7h0M490.9 971.8h0M491.5 971.9h0M494.7 972.2h0M501.3 971.0h0M504.1 972.0h0M507.5 972.5h0M508.7 971.7h0M514.7 970.6h0M524.3 971.7h0M526.6 971.5h0M528.7 972.0h0M540.9 970.7h0M542.8 971.5h0M544.2 970.7h0M548.2 972.1h0M555.2 971.9h0M556.2 971.4h0M565.0 972.4h0M566.7 971.0h0M569.2 972.1h0M572.3 972.2h0M574.6 971.3h0M576.7 972.3h0M579.6 971.7h0M582.8 971.3h0M585.5 970.9h0M588.1 970.7h0M597.3 972.1h0M616.3 971.2h0M621.3 970.8h0M626.5 972.1h0M628.9 971.4h0M632.4 971.6h0M638.8 971.8h0M641.2 971.7h0M643.2 971.6h0M645.5 971.1h0M648.1 971.9h0M651.5 971.8h0M657.6 972.0h0M662.3 970.6h0M368.2 974.5h0M371.2 974.2h0M377.9 974.5h0M380.0 973.8h0M395.7 974.6h0M398.0 973.2h0M406.4 973.0h0M408.7 973.4h0M412.2 972.8h0M415.1 973.4h0M417.3 974.5h0M419.6 974.4h0M422.2 973.5h0M430.6 973.9h0M448.3 973.9h0M453.3 973.1h0M454.9 973.6h0M464.1 974.5h0M468.7 974.6h0M481.0 973.9h0M483.9 973.9h0M487.4 973.4h0M488.1 972.7h0M493.0 972.8h0M495.2 973.9h0M498.0 973.4h0M503.2 973.8h0M510.5 974.3h0M515.7 974.2h0M534.7 973.6h0M540.1 973.5h0M540.9 974.3h0M547.0 974.5h0M549.0 973.5h0M553.8 972.7h0M558.5 972.9h0M565.0 973.3h0M576.1 973.8h0M582.1 974.4h0M584.5 973.0h0M588.8 973.7h0M600.0 974.2h0M601.0 974.5h0M603.3 973.6h0M616.4 972.7h0M625.4 973.9h0M630.4 973.4h0M632.9 973.8h0M641.0 973.0h0M642.2 974.3h0M650.6 973.2h0M652.1 972.8h0M657.1 973.3h0M658.6 974.0h0M661.6 974.1h0M669.6 973.6h0M370.2 976.4h0M372.3 974.8h0M377.6 976.4h0M391.5 976.2h0M395.9 975.7h0M398.8 976.0h0M404.3 975.5h0M406.9 976.0h0M411.4 976.3h0M421.9 976.4h0M427.7 975.0h0M437.8 974.8h0M440.2 976.5h0M441.8 975.3h0M451.2 975.9h0M454.3 975.1h0M456.6 974.9h0M458.7 976.3h0M461.6 974.9h0M469.9 976.6h0M473.2 976.1h0M480.2 975.4h0M481.8 976.2h0M485.1 975.9h0M488.4 975.0h0M489.0 975.7h0M495.4 976.1h0M497.8 975.9h0M502.6 976.0h0M509.1 976.6h0M517.2 975.0h0M521.4 975.9h0M526.5 976.3h0M529.3 975.5h0M533.4 975.9h0M536.0 975.0h0M543.2 975.0h0M545.9 975.1h0M557.6 975.2h0M567.6 975.8h0M575.9 976.3h0M580.5 975.8h0M582.7 976.5h0M585.2 976.4h0M592.4 976.7h0M596.4 975.6h0M602.8 975.4h0M609.1 975.0h0M614.3 974.9h0M617.9 976.7h0M620.4 975.8h0M621.0 974.8h0M633.8 975.7h0M635.9 974.8h0M639.5 976.3h0M641.0 975.0h0M653.7 976.2h0M656.1 974.8h0M660.8 976.3h0" stroke="#74505a" stroke-width="1.8" stroke-linecap="round" fill="none" stroke-opacity="0.85"/>
<rect x="364" y="976" width="303" height="3" fill="#efcdeb"/>
<path d="M383.3 981.7h0M393.5 981.9h0M417.8 979.7h0M456.5 980.2h0M472.1 979.7h0M486.5 981.2h0M511.9 980.1h0M536.1 979.7h0M559.2 978.1h0M567.6 979.9h0M577.7 980.4h0M600.4 978.2h0M606.0 980.7h0M617.8 980.2h0M631.3 978.1h0" stroke="#8d6fbf" stroke-width="3.0" stroke-linecap="round" fill="none" stroke-opacity="0.8"/>
</g>
<rect x="364" y="695" width="303" height="37" filter="url(#grain)" opacity="0.38"/>
<rect x="364" y="732" width="303" height="63" filter="url(#grain)" opacity="0.38"/>
<rect x="364" y="849" width="303" height="17" filter="url(#grain)" opacity="0.38"/>
<rect x="364" y="933" width="303" height="29" filter="url(#grain)" opacity="0.38"/>
</g>
<text x="206.2" y="40" text-anchor="middle" font-size="26.5">B6</text>
<text x="515" y="40" text-anchor="middle" font-size="26.5" font-style="italic">cpfl9</text>
<text transform="translate(39.8,213.5) rotate(-90)" text-anchor="middle" font-size="26.5">4 wk</text>
<text transform="translate(39.8,521) rotate(-90)" text-anchor="middle" font-size="26.5">12 wk</text>
<text transform="translate(39.8,828) rotate(-90)" text-anchor="middle" font-size="26.5">9–12 mo</text>
<rect x="319" y="69.8" width="32" height="5.6" fill="#000"/>
<text x="658" y="108.5" text-anchor="end" font-size="26.5">GCL</text>
<text x="658" y="205.5" text-anchor="end" font-size="26.5" class="w">INL</text>
<text x="658" y="290.2" text-anchor="end" font-size="26.5" class="w">ONL</text>
<text x="4.5" y="30.8" font-size="36" font-weight="bold">A</text>
<text x="678.2" y="31" font-size="36" font-weight="bold">B</text>
<text x="1138.5" y="30.3" font-size="36" font-weight="bold">C</text>
<text x="5.2" y="1095" font-size="36" font-weight="bold">D</text>
<text x="678.3" y="1094.9" font-size="36" font-weight="bold">E</text>
<rect x="778.6" y="58" width="306.8" height="920.3" fill="none" stroke="#333333" stroke-width="1.9"/>
<line x1="778.6" y1="364.9" x2="1085.4" y2="364.9" stroke="#333333" stroke-width="1.9"/>
<line x1="778.6" y1="671.6" x2="1085.4" y2="671.6" stroke="#333333" stroke-width="1.9"/>
<line x1="787.5" y1="978.3" x2="787.5" y2="983.8" stroke="#333333" stroke-width="1.5"/>
<line x1="801.24" y1="978.3" x2="801.24" y2="983.8" stroke="#333333" stroke-width="1.5"/>
<line x1="814.98" y1="978.3" x2="814.98" y2="983.8" stroke="#333333" stroke-width="1.5"/>
<line x1="828.72" y1="978.3" x2="828.72" y2="983.8" stroke="#333333" stroke-width="1.5"/>
<line x1="842.46" y1="978.3" x2="842.46" y2="983.8" stroke="#333333" stroke-width="1.5"/>
<line x1="856.2" y1="978.3" x2="856.2" y2="983.8" stroke="#333333" stroke-width="1.5"/>
<line x1="869.94" y1="978.3" x2="869.94" y2="983.8" stroke="#333333" stroke-width="1.5"/>
<line x1="883.68" y1="978.3" x2="883.68" y2="983.8" stroke="#333333" stroke-width="1.5"/>
<line x1="897.42" y1="978.3" x2="897.42" y2="983.8" stroke="#333333" stroke-width="1.5"/>
<line x1="911.16" y1="978.3" x2="911.16" y2="983.8" stroke="#333333" stroke-width="1.5"/>
<line x1="924.9" y1="978.3" x2="924.9" y2="983.8" stroke="#333333" stroke-width="1.5"/>
<line x1="938.64" y1="978.3" x2="938.64" y2="983.8" stroke="#333333" stroke-width="1.5"/>
<line x1="952.38" y1="978.3" x2="952.38" y2="983.8" stroke="#333333" stroke-width="1.5"/>
<line x1="966.12" y1="978.3" x2="966.12" y2="983.8" stroke="#333333" stroke-width="1.5"/>
<line x1="979.86" y1="978.3" x2="979.86" y2="983.8" stroke="#333333" stroke-width="1.5"/>
<line x1="993.6" y1="978.3" x2="993.6" y2="983.8" stroke="#333333" stroke-width="1.5"/>
<line x1="1007.34" y1="978.3" x2="1007.34" y2="983.8" stroke="#333333" stroke-width="1.5"/>
<line x1="1021.08" y1="978.3" x2="1021.08" y2="983.8" stroke="#333333" stroke-width="1.5"/>
<line x1="1034.82" y1="978.3" x2="1034.82" y2="983.8" stroke="#333333" stroke-width="1.5"/>
<line x1="1048.56" y1="978.3" x2="1048.56" y2="983.8" stroke="#333333" stroke-width="1.5"/>
<line x1="1062.3" y1="978.3" x2="1062.3" y2="983.8" stroke="#333333" stroke-width="1.5"/>
<line x1="1076.04" y1="978.3" x2="1076.04" y2="983.8" stroke="#333333" stroke-width="1.5"/>
<text x="787.5" y="1011.6" text-anchor="middle" font-size="27">3.0</text>
<text x="856.2" y="1011.6" text-anchor="middle" font-size="27">1.5</text>
<text x="924.9" y="1011.6" text-anchor="middle" font-size="27">0</text>
<text x="993.6" y="1011.6" text-anchor="middle" font-size="27">1.5</text>
<text x="1062.3" y="1011.6" text-anchor="middle" font-size="27">3.0</text>
<text x="932.4" y="1053.5" text-anchor="middle" font-size="26.8">distance from ONH</text>
<text transform="translate(717.8,511.9) rotate(-90)" text-anchor="middle" font-size="26.8">rows of nuclei</text>
<line x1="769.6" y1="354.6" x2="778.6" y2="354.6" stroke="#333333" stroke-width="1.5"/>
<text x="766.6" y="363.6" text-anchor="end" font-size="27">0</text>
<line x1="773.8" y1="334.68" x2="778.6" y2="334.68" stroke="#333333" stroke-width="1.5"/>
<line x1="773.8" y1="314.76" x2="778.6" y2="314.76" stroke="#333333" stroke-width="1.5"/>
<line x1="773.8" y1="294.84" x2="778.6" y2="294.84" stroke="#333333" stroke-width="1.5"/>
<line x1="773.8" y1="274.92" x2="778.6" y2="274.92" stroke="#333333" stroke-width="1.5"/>
<line x1="769.6" y1="255" x2="778.6" y2="255" stroke="#333333" stroke-width="1.5"/>
<text x="766.6" y="264" text-anchor="end" font-size="27">5</text>
<line x1="773.8" y1="235.08" x2="778.6" y2="235.08" stroke="#333333" stroke-width="1.5"/>
<line x1="773.8" y1="215.16" x2="778.6" y2="215.16" stroke="#333333" stroke-width="1.5"/>
<line x1="773.8" y1="195.24" x2="778.6" y2="195.24" stroke="#333333" stroke-width="1.5"/>
<line x1="773.8" y1="175.32" x2="778.6" y2="175.32" stroke="#333333" stroke-width="1.5"/>
<line x1="769.6" y1="155.4" x2="778.6" y2="155.4" stroke="#333333" stroke-width="1.5"/>
<text x="766.6" y="164.4" text-anchor="end" font-size="27">10</text>
<line x1="773.8" y1="135.48" x2="778.6" y2="135.48" stroke="#333333" stroke-width="1.5"/>
<line x1="773.8" y1="115.56" x2="778.6" y2="115.56" stroke="#333333" stroke-width="1.5"/>
<line x1="773.8" y1="95.64" x2="778.6" y2="95.64" stroke="#333333" stroke-width="1.5"/>
<line x1="773.8" y1="75.72" x2="778.6" y2="75.72" stroke="#333333" stroke-width="1.5"/>
<text x="786.5" y="353.1" font-size="26.8">4 wk</text>
<path d="M814.98 225.92V257.79M810.48 225.92h9M810.48 257.79h9" stroke="#9a9a9a" stroke-width="1.3" fill="none"/>
<path d="M828.72 166.75V190.66M824.22 166.75h9M824.22 190.66h9" stroke="#9a9a9a" stroke-width="1.3" fill="none"/>
<path d="M842.46 134.48V150.42M837.96 134.48h9M837.96 150.42h9" stroke="#9a9a9a" stroke-width="1.3" fill="none"/>
<path d="M856.2 111.58V119.54M851.7 111.58h9M851.7 119.54h9" stroke="#9a9a9a" stroke-width="1.3" fill="none"/>
<path d="M869.94 111.58V119.54M865.44 111.58h9M865.44 119.54h9" stroke="#9a9a9a" stroke-width="1.3" fill="none"/>
<path d="M883.68 120.14V132.09M879.18 120.14h9M879.18 132.09h9" stroke="#9a9a9a" stroke-width="1.3" fill="none"/>
<path d="M897.42 111.58V119.54M892.92 111.58h9M892.92 119.54h9" stroke="#9a9a9a" stroke-width="1.3" fill="none"/>
<path d="M911.16 232.49V264.36M906.66 232.49h9M906.66 264.36h9" stroke="#9a9a9a" stroke-width="1.3" fill="none"/>
<path d="M938.64 249.42V277.31M934.14 249.42h9M934.14 277.31h9" stroke="#9a9a9a" stroke-width="1.3" fill="none"/>
<path d="M952.38 86.68V112.57M947.88 86.68h9M947.88 112.57h9" stroke="#9a9a9a" stroke-width="1.3" fill="none"/>
<path d="M966.12 88.07V104.01M961.62 88.07h9M961.62 104.01h9" stroke="#9a9a9a" stroke-width="1.3" fill="none"/>
<path d="M979.86 109.98V121.93M975.36 109.98h9M975.36 121.93h9" stroke="#9a9a9a" stroke-width="1.3" fill="none"/>
<path d="M993.6 124.52V138.47M989.1 124.52h9M989.1 138.47h9" stroke="#9a9a9a" stroke-width="1.3" fill="none"/>
<path d="M1007.34 143.65V159.58M1002.84 143.65h9M1002.84 159.58h9" stroke="#9a9a9a" stroke-width="1.3" fill="none"/>
<path d="M1021.08 167.35V183.29M1016.58 167.35h9M1016.58 183.29h9" stroke="#9a9a9a" stroke-width="1.3" fill="none"/>
<path d="M1034.82 199.62V231.49M1030.32 199.62h9M1030.32 231.49h9" stroke="#9a9a9a" stroke-width="1.3" fill="none"/>
<path d="M1048.56 228.71V252.61M1044.06 228.71h9M1044.06 252.61h9" stroke="#9a9a9a" stroke-width="1.3" fill="none"/>
<path d="M814.98 275.32V291.25M810.48 275.32h9M810.48 291.25h9" stroke="#a8a8f2" stroke-width="1.3" fill="none"/>
<path d="M828.72 173.73V201.61M824.22 173.73h9M824.22 201.61h9" stroke="#a8a8f2" stroke-width="1.3" fill="none"/>
<path d="M842.46 130.9V146.83M837.96 130.9h9M837.96 146.83h9" stroke="#a8a8f2" stroke-width="1.3" fill="none"/>
<path d="M856.2 124.13V140.06M851.7 124.13h9M851.7 140.06h9" stroke="#a8a8f2" stroke-width="1.3" fill="none"/>
<path d="M869.94 117.95V129.9M865.44 117.95h9M865.44 129.9h9" stroke="#a8a8f2" stroke-width="1.3" fill="none"/>
<path d="M883.68 119.94V135.88M879.18 119.94h9M879.18 135.88h9" stroke="#a8a8f2" stroke-width="1.3" fill="none"/>
<path d="M897.42 121.93V133.89M892.92 121.93h9M892.92 133.89h9" stroke="#a8a8f2" stroke-width="1.3" fill="none"/>
<path d="M911.16 165.36V217.15M906.66 165.36h9M906.66 217.15h9" stroke="#a8a8f2" stroke-width="1.3" fill="none"/>
<path d="M938.64 255.8V275.72M934.14 255.8h9M934.14 275.72h9" stroke="#a8a8f2" stroke-width="1.3" fill="none"/>
<path d="M952.38 101.42V121.34M947.88 101.42h9M947.88 121.34h9" stroke="#a8a8f2" stroke-width="1.3" fill="none"/>
<path d="M966.12 105V116.95M961.62 105h9M961.62 116.95h9" stroke="#a8a8f2" stroke-width="1.3" fill="none"/>
<path d="M979.86 120.14V132.09M975.36 120.14h9M975.36 132.09h9" stroke="#a8a8f2" stroke-width="1.3" fill="none"/>
<path d="M993.6 125.52V137.47M989.1 125.52h9M989.1 137.47h9" stroke="#a8a8f2" stroke-width="1.3" fill="none"/>
<path d="M1007.34 139.86V171.73M1002.84 139.86h9M1002.84 171.73h9" stroke="#a8a8f2" stroke-width="1.3" fill="none"/>
<path d="M1021.08 164.16V176.12M1016.58 164.16h9M1016.58 176.12h9" stroke="#a8a8f2" stroke-width="1.3" fill="none"/>
<path d="M1034.82 180.5V200.42M1030.32 180.5h9M1030.32 200.42h9" stroke="#a8a8f2" stroke-width="1.3" fill="none"/>
<path d="M1048.56 249.22V261.18M1044.06 249.22h9M1044.06 261.18h9" stroke="#a8a8f2" stroke-width="1.3" fill="none"/>
<path d="M814.98 283.29 L828.72 187.67 L842.46 138.87 L856.2 132.09 L869.94 123.93 L883.68 127.91 L897.42 127.91 L911.16 191.26 L924.9 354.6 L938.64 265.76 L952.38 111.38 L966.12 110.98 L979.86 126.12 L993.6 131.5 L1007.34 155.8 L1021.08 170.14 L1034.82 190.46 L1048.56 255.2" stroke="#0000f5" stroke-width="2.4" fill="none" stroke-linejoin="round"/>
<circle cx="814.98" cy="283.29" r="4.7" fill="#0000f5"/>
<circle cx="828.72" cy="187.67" r="4.7" fill="#0000f5"/>
<circle cx="842.46" cy="138.87" r="4.7" fill="#0000f5"/>
<circle cx="856.2" cy="132.09" r="4.7" fill="#0000f5"/>
<circle cx="869.94" cy="123.93" r="4.7" fill="#0000f5"/>
<circle cx="883.68" cy="127.91" r="4.7" fill="#0000f5"/>
<circle cx="897.42" cy="127.91" r="4.7" fill="#0000f5"/>
<circle cx="911.16" cy="191.26" r="4.7" fill="#0000f5"/>
<circle cx="924.9" cy="354.6" r="4.7" fill="#0000f5"/>
<circle cx="938.64" cy="265.76" r="4.7" fill="#0000f5"/>
<circle cx="952.38" cy="111.38" r="4.7" fill="#0000f5"/>
<circle cx="966.12" cy="110.98" r="4.7" fill="#0000f5"/>
<circle cx="979.86" cy="126.12" r="4.7" fill="#0000f5"/>
<circle cx="993.6" cy="131.5" r="4.7" fill="#0000f5"/>
<circle cx="1007.34" cy="155.8" r="4.7" fill="#0000f5"/>
<circle cx="1021.08" cy="170.14" r="4.7" fill="#0000f5"/>
<circle cx="1034.82" cy="190.46" r="4.7" fill="#0000f5"/>
<circle cx="1048.56" cy="255.2" r="4.7" fill="#0000f5"/>
<path d="M814.98 241.85 L828.72 178.71 L842.46 142.45 L856.2 115.56 L869.94 115.56 L883.68 126.12 L897.42 115.56 L911.16 248.43 L924.9 354.6 L938.64 263.37 L952.38 99.62 L966.12 96.04 L979.86 115.96 L993.6 131.5 L1007.34 151.62 L1021.08 175.32 L1034.82 215.56 L1048.56 240.66" stroke="#000" stroke-width="2.4" fill="none" stroke-linejoin="round"/>
<circle cx="814.98" cy="241.85" r="4.7" fill="#000"/>
<circle cx="828.72" cy="178.71" r="4.7" fill="#000"/>
<circle cx="842.46" cy="142.45" r="4.7" fill="#000"/>
<circle cx="856.2" cy="115.56" r="4.7" fill="#000"/>
<circle cx="869.94" cy="115.56" r="4.7" fill="#000"/>
<circle cx="883.68" cy="126.12" r="4.7" fill="#000"/>
<circle cx="897.42" cy="115.56" r="4.7" fill="#000"/>
<circle cx="911.16" cy="248.43" r="4.7" fill="#000"/>
<circle cx="924.9" cy="354.6" r="4.7" fill="#000"/>
<circle cx="938.64" cy="263.37" r="4.7" fill="#000"/>
<circle cx="952.38" cy="99.62" r="4.7" fill="#000"/>
<circle cx="966.12" cy="96.04" r="4.7" fill="#000"/>
<circle cx="979.86" cy="115.96" r="4.7" fill="#000"/>
<circle cx="993.6" cy="131.5" r="4.7" fill="#000"/>
<circle cx="1007.34" cy="151.62" r="4.7" fill="#000"/>
<circle cx="1021.08" cy="175.32" r="4.7" fill="#000"/>
<circle cx="1034.82" cy="215.56" r="4.7" fill="#000"/>
<circle cx="1048.56" cy="240.66" r="4.7" fill="#000"/>
<line x1="769.6" y1="661.4" x2="778.6" y2="661.4" stroke="#333333" stroke-width="1.5"/>
<text x="766.6" y="670.4" text-anchor="end" font-size="27">0</text>
<line x1="773.8" y1="641.48" x2="778.6" y2="641.48" stroke="#333333" stroke-width="1.5"/>
<line x1="773.8" y1="621.56" x2="778.6" y2="621.56" stroke="#333333" stroke-width="1.5"/>
<line x1="773.8" y1="601.64" x2="778.6" y2="601.64" stroke="#333333" stroke-width="1.5"/>
<line x1="773.8" y1="581.72" x2="778.6" y2="581.72" stroke="#333333" stroke-width="1.5"/>
<line x1="769.6" y1="561.8" x2="778.6" y2="561.8" stroke="#333333" stroke-width="1.5"/>
<text x="766.6" y="570.8" text-anchor="end" font-size="27">5</text>
<line x1="773.8" y1="541.88" x2="778.6" y2="541.88" stroke="#333333" stroke-width="1.5"/>
<line x1="773.8" y1="521.96" x2="778.6" y2="521.96" stroke="#333333" stroke-width="1.5"/>
<line x1="773.8" y1="502.04" x2="778.6" y2="502.04" stroke="#333333" stroke-width="1.5"/>
<line x1="773.8" y1="482.12" x2="778.6" y2="482.12" stroke="#333333" stroke-width="1.5"/>
<line x1="769.6" y1="462.2" x2="778.6" y2="462.2" stroke="#333333" stroke-width="1.5"/>
<text x="766.6" y="471.2" text-anchor="end" font-size="27">10</text>
<line x1="773.8" y1="442.28" x2="778.6" y2="442.28" stroke="#333333" stroke-width="1.5"/>
<line x1="773.8" y1="422.36" x2="778.6" y2="422.36" stroke="#333333" stroke-width="1.5"/>
<line x1="773.8" y1="402.44" x2="778.6" y2="402.44" stroke="#333333" stroke-width="1.5"/>
<line x1="773.8" y1="382.52" x2="778.6" y2="382.52" stroke="#333333" stroke-width="1.5"/>
<text x="788.5" y="659.9" font-size="26.8">12 wk</text>
<path d="M801.24 586.3V598.25M796.74 586.3h9M796.74 598.25h9" stroke="#9a9a9a" stroke-width="1.3" fill="none"/>
<path d="M814.98 507.42V531.32M810.48 507.42h9M810.48 531.32h9" stroke="#9a9a9a" stroke-width="1.3" fill="none"/>
<path d="M828.72 448.85V468.77M824.22 448.85h9M824.22 468.77h9" stroke="#9a9a9a" stroke-width="1.3" fill="none"/>
<path d="M842.46 450.25V468.18M837.96 450.25h9M837.96 468.18h9" stroke="#9a9a9a" stroke-width="1.3" fill="none"/>
<path d="M856.2 432.92V452.84M851.7 432.92h9M851.7 452.84h9" stroke="#9a9a9a" stroke-width="1.3" fill="none"/>
<path d="M869.94 430.73V448.65M865.44 430.73h9M865.44 448.65h9" stroke="#9a9a9a" stroke-width="1.3" fill="none"/>
<path d="M883.68 432.92V452.84M879.18 432.92h9M879.18 452.84h9" stroke="#9a9a9a" stroke-width="1.3" fill="none"/>
<path d="M897.42 440.29V458.22M892.92 440.29h9M892.92 458.22h9" stroke="#9a9a9a" stroke-width="1.3" fill="none"/>
<path d="M911.16 545.66V585.5M906.66 545.66h9M906.66 585.5h9" stroke="#9a9a9a" stroke-width="1.3" fill="none"/>
<path d="M938.64 520.37V572.16M934.14 520.37h9M934.14 572.16h9" stroke="#9a9a9a" stroke-width="1.3" fill="none"/>
<path d="M952.38 426.54V442.48M947.88 426.54h9M947.88 442.48h9" stroke="#9a9a9a" stroke-width="1.3" fill="none"/>
<path d="M966.12 428.73V448.65M961.62 428.73h9M961.62 448.65h9" stroke="#9a9a9a" stroke-width="1.3" fill="none"/>
<path d="M979.86 437.1V457.02M975.36 437.1h9M975.36 457.02h9" stroke="#9a9a9a" stroke-width="1.3" fill="none"/>
<path d="M993.6 442.68V466.58M989.1 442.68h9M989.1 466.58h9" stroke="#9a9a9a" stroke-width="1.3" fill="none"/>
<path d="M1007.34 463V478.93M1002.84 463h9M1002.84 478.93h9" stroke="#9a9a9a" stroke-width="1.3" fill="none"/>
<path d="M1021.08 476.94V488.89M1016.58 476.94h9M1016.58 488.89h9" stroke="#9a9a9a" stroke-width="1.3" fill="none"/>
<path d="M1034.82 482.72V512.6M1030.32 482.72h9M1030.32 512.6h9" stroke="#9a9a9a" stroke-width="1.3" fill="none"/>
<path d="M1048.56 567.18V587.1M1044.06 567.18h9M1044.06 587.1h9" stroke="#9a9a9a" stroke-width="1.3" fill="none"/>
<path d="M1062.3 570.76V606.62M1057.8 570.76h9M1057.8 606.62h9" stroke="#9a9a9a" stroke-width="1.3" fill="none"/>
<path d="M801.24 579.33V595.27M796.74 579.33h9M796.74 595.27h9" stroke="#a8a8f2" stroke-width="1.3" fill="none"/>
<path d="M814.98 530.92V546.86M810.48 530.92h9M810.48 546.86h9" stroke="#a8a8f2" stroke-width="1.3" fill="none"/>
<path d="M828.72 484.71V496.66M824.22 484.71h9M824.22 496.66h9" stroke="#a8a8f2" stroke-width="1.3" fill="none"/>
<path d="M842.46 461.2V473.16M837.96 461.2h9M837.96 473.16h9" stroke="#a8a8f2" stroke-width="1.3" fill="none"/>
<path d="M856.2 472.76V484.71M851.7 472.76h9M851.7 484.71h9" stroke="#a8a8f2" stroke-width="1.3" fill="none"/>
<path d="M869.94 466.58V482.52M865.44 466.58h9M865.44 482.52h9" stroke="#a8a8f2" stroke-width="1.3" fill="none"/>
<path d="M883.68 471.76V485.71M879.18 471.76h9M879.18 485.71h9" stroke="#a8a8f2" stroke-width="1.3" fill="none"/>
<path d="M897.42 471.76V485.71M892.92 471.76h9M892.92 485.71h9" stroke="#a8a8f2" stroke-width="1.3" fill="none"/>
<path d="M911.16 532.32V584.11M906.66 532.32h9M906.66 584.11h9" stroke="#a8a8f2" stroke-width="1.3" fill="none"/>
<path d="M938.64 520.37V572.16M934.14 520.37h9M934.14 572.16h9" stroke="#a8a8f2" stroke-width="1.3" fill="none"/>
<path d="M952.38 466.78V478.73M947.88 466.78h9M947.88 478.73h9" stroke="#a8a8f2" stroke-width="1.3" fill="none"/>
<path d="M966.12 463V478.93M961.62 463h9M961.62 478.93h9" stroke="#a8a8f2" stroke-width="1.3" fill="none"/>
<path d="M979.86 461.8V473.75M975.36 461.8h9M975.36 473.75h9" stroke="#a8a8f2" stroke-width="1.3" fill="none"/>
<path d="M993.6 473.95V491.88M989.1 473.95h9M989.1 491.88h9" stroke="#a8a8f2" stroke-width="1.3" fill="none"/>
<path d="M1007.34 481.72V513.59M1002.84 481.72h9M1002.84 513.59h9" stroke="#a8a8f2" stroke-width="1.3" fill="none"/>
<path d="M1021.08 490.49V514.39M1016.58 490.49h9M1016.58 514.39h9" stroke="#a8a8f2" stroke-width="1.3" fill="none"/>
<path d="M1034.82 510.8V546.66M1030.32 510.8h9M1030.32 546.66h9" stroke="#a8a8f2" stroke-width="1.3" fill="none"/>
<path d="M1048.56 502.44V542.28M1044.06 502.44h9M1044.06 542.28h9" stroke="#a8a8f2" stroke-width="1.3" fill="none"/>
<path d="M1062.3 582.32V602.24M1057.8 582.32h9M1057.8 602.24h9" stroke="#a8a8f2" stroke-width="1.3" fill="none"/>
<path d="M801.24 587.3 L814.98 538.89 L828.72 490.69 L842.46 467.18 L856.2 478.73 L869.94 474.55 L883.68 478.73 L897.42 478.73 L911.16 558.21 L924.9 661.4 L938.64 546.26 L952.38 472.76 L966.12 470.96 L979.86 467.78 L993.6 482.92 L1007.34 497.66 L1021.08 502.44 L1034.82 528.73 L1048.56 522.36 L1062.3 592.28" stroke="#0000f5" stroke-width="2.4" fill="none" stroke-linejoin="round"/>
<circle cx="801.24" cy="587.3" r="4.7" fill="#0000f5"/>
<circle cx="814.98" cy="538.89" r="4.7" fill="#0000f5"/>
<circle cx="828.72" cy="490.69" r="4.7" fill="#0000f5"/>
<circle cx="842.46" cy="467.18" r="4.7" fill="#0000f5"/>
<circle cx="856.2" cy="478.73" r="4.7" fill="#0000f5"/>
<circle cx="869.94" cy="474.55" r="4.7" fill="#0000f5"/>
<circle cx="883.68" cy="478.73" r="4.7" fill="#0000f5"/>
<circle cx="897.42" cy="478.73" r="4.7" fill="#0000f5"/>
<circle cx="911.16" cy="558.21" r="4.7" fill="#0000f5"/>
<circle cx="924.9" cy="661.4" r="4.7" fill="#0000f5"/>
<circle cx="938.64" cy="546.26" r="4.7" fill="#0000f5"/>
<circle cx="952.38" cy="472.76" r="4.7" fill="#0000f5"/>
<circle cx="966.12" cy="470.96" r="4.7" fill="#0000f5"/>
<circle cx="979.86" cy="467.78" r="4.7" fill="#0000f5"/>
<circle cx="993.6" cy="482.92" r="4.7" fill="#0000f5"/>
<circle cx="1007.34" cy="497.66" r="4.7" fill="#0000f5"/>
<circle cx="1021.08" cy="502.44" r="4.7" fill="#0000f5"/>
<circle cx="1034.82" cy="528.73" r="4.7" fill="#0000f5"/>
<circle cx="1048.56" cy="522.36" r="4.7" fill="#0000f5"/>
<circle cx="1062.3" cy="592.28" r="4.7" fill="#0000f5"/>
<path d="M801.24 592.28 L814.98 519.37 L828.72 458.81 L842.46 459.21 L856.2 442.88 L869.94 439.69 L883.68 442.88 L897.42 449.25 L911.16 565.58 L924.9 661.4 L938.64 546.26 L952.38 434.51 L966.12 438.69 L979.86 447.06 L993.6 454.63 L1007.34 470.96 L1021.08 482.92 L1034.82 497.66 L1048.56 577.14 L1062.3 588.69" stroke="#000" stroke-width="2.4" fill="none" stroke-linejoin="round"/>
<circle cx="801.24" cy="592.28" r="4.7" fill="#000"/>
<circle cx="814.98" cy="519.37" r="4.7" fill="#000"/>
<circle cx="828.72" cy="458.81" r="4.7" fill="#000"/>
<circle cx="842.46" cy="459.21" r="4.7" fill="#000"/>
<circle cx="856.2" cy="442.88" r="4.7" fill="#000"/>
<circle cx="869.94" cy="439.69" r="4.7" fill="#000"/>
<circle cx="883.68" cy="442.88" r="4.7" fill="#000"/>
<circle cx="897.42" cy="449.25" r="4.7" fill="#000"/>
<circle cx="911.16" cy="565.58" r="4.7" fill="#000"/>
<circle cx="924.9" cy="661.4" r="4.7" fill="#000"/>
<circle cx="938.64" cy="546.26" r="4.7" fill="#000"/>
<circle cx="952.38" cy="434.51" r="4.7" fill="#000"/>
<circle cx="966.12" cy="438.69" r="4.7" fill="#000"/>
<circle cx="979.86" cy="447.06" r="4.7" fill="#000"/>
<circle cx="993.6" cy="454.63" r="4.7" fill="#000"/>
<circle cx="1007.34" cy="470.96" r="4.7" fill="#000"/>
<circle cx="1021.08" cy="482.92" r="4.7" fill="#000"/>
<circle cx="1034.82" cy="497.66" r="4.7" fill="#000"/>
<circle cx="1048.56" cy="577.14" r="4.7" fill="#000"/>
<circle cx="1062.3" cy="588.69" r="4.7" fill="#000"/>
<line x1="769.6" y1="968.3" x2="778.6" y2="968.3" stroke="#333333" stroke-width="1.5"/>
<text x="766.6" y="977.3" text-anchor="end" font-size="27">0</text>
<line x1="773.8" y1="948.38" x2="778.6" y2="948.38" stroke="#333333" stroke-width="1.5"/>
<line x1="773.8" y1="928.46" x2="778.6" y2="928.46" stroke="#333333" stroke-width="1.5"/>
<line x1="773.8" y1="908.54" x2="778.6" y2="908.54" stroke="#333333" stroke-width="1.5"/>
<line x1="773.8" y1="888.62" x2="778.6" y2="888.62" stroke="#333333" stroke-width="1.5"/>
<line x1="769.6" y1="868.7" x2="778.6" y2="868.7" stroke="#333333" stroke-width="1.5"/>
<text x="766.6" y="877.7" text-anchor="end" font-size="27">5</text>
<line x1="773.8" y1="848.78" x2="778.6" y2="848.78" stroke="#333333" stroke-width="1.5"/>
<line x1="773.8" y1="828.86" x2="778.6" y2="828.86" stroke="#333333" stroke-width="1.5"/>
<line x1="773.8" y1="808.94" x2="778.6" y2="808.94" stroke="#333333" stroke-width="1.5"/>
<line x1="773.8" y1="789.02" x2="778.6" y2="789.02" stroke="#333333" stroke-width="1.5"/>
<line x1="769.6" y1="769.1" x2="778.6" y2="769.1" stroke="#333333" stroke-width="1.5"/>
<text x="766.6" y="778.1" text-anchor="end" font-size="27">10</text>
<line x1="773.8" y1="749.18" x2="778.6" y2="749.18" stroke="#333333" stroke-width="1.5"/>
<line x1="773.8" y1="729.26" x2="778.6" y2="729.26" stroke="#333333" stroke-width="1.5"/>
<line x1="773.8" y1="709.34" x2="778.6" y2="709.34" stroke="#333333" stroke-width="1.5"/>
<line x1="773.8" y1="689.42" x2="778.6" y2="689.42" stroke="#333333" stroke-width="1.5"/>
<text x="794" y="964.8" font-size="26.8">9–12 mo</text>
<path d="M801.24 893V904.95M796.74 893h9M796.74 904.95h9" stroke="#9a9a9a" stroke-width="1.3" fill="none"/>
<path d="M814.98 816.31V832.25M810.48 816.31h9M810.48 832.25h9" stroke="#9a9a9a" stroke-width="1.3" fill="none"/>
<path d="M828.72 793.6V805.55M824.22 793.6h9M824.22 805.55h9" stroke="#9a9a9a" stroke-width="1.3" fill="none"/>
<path d="M842.46 782.05V805.95M837.96 782.05h9M837.96 805.95h9" stroke="#9a9a9a" stroke-width="1.3" fill="none"/>
<path d="M856.2 752.57V776.47M851.7 752.57h9M851.7 776.47h9" stroke="#9a9a9a" stroke-width="1.3" fill="none"/>
<path d="M869.94 741.61V757.55M865.44 741.61h9M865.44 757.55h9" stroke="#9a9a9a" stroke-width="1.3" fill="none"/>
<path d="M883.68 743.6V755.55M879.18 743.6h9M879.18 755.55h9" stroke="#9a9a9a" stroke-width="1.3" fill="none"/>
<path d="M897.42 732.85V756.75M892.92 732.85h9M892.92 756.75h9" stroke="#9a9a9a" stroke-width="1.3" fill="none"/>
<path d="M911.16 893.6V913.52M906.66 893.6h9M906.66 913.52h9" stroke="#9a9a9a" stroke-width="1.3" fill="none"/>
<path d="M938.64 895.59V911.53M934.14 895.59h9M934.14 911.53h9" stroke="#9a9a9a" stroke-width="1.3" fill="none"/>
<path d="M952.38 746.39V762.33M947.88 746.39h9M947.88 762.33h9" stroke="#9a9a9a" stroke-width="1.3" fill="none"/>
<path d="M966.12 741.61V757.55M961.62 741.61h9M961.62 757.55h9" stroke="#9a9a9a" stroke-width="1.3" fill="none"/>
<path d="M979.86 738.82V750.77M975.36 738.82h9M975.36 750.77h9" stroke="#9a9a9a" stroke-width="1.3" fill="none"/>
<path d="M993.6 755.55V773.48M989.1 755.55h9M989.1 773.48h9" stroke="#9a9a9a" stroke-width="1.3" fill="none"/>
<path d="M1007.34 748.38V760.34M1002.84 748.38h9M1002.84 760.34h9" stroke="#9a9a9a" stroke-width="1.3" fill="none"/>
<path d="M1021.08 761.53V777.47M1016.58 761.53h9M1016.58 777.47h9" stroke="#9a9a9a" stroke-width="1.3" fill="none"/>
<path d="M1034.82 792.21V816.11M1030.32 792.21h9M1030.32 816.11h9" stroke="#9a9a9a" stroke-width="1.3" fill="none"/>
<path d="M1048.56 846.79V890.61M1044.06 846.79h9M1044.06 890.61h9" stroke="#9a9a9a" stroke-width="1.3" fill="none"/>
<path d="M1062.3 903.36V927.26M1057.8 903.36h9M1057.8 927.26h9" stroke="#9a9a9a" stroke-width="1.3" fill="none"/>
<path d="M801.24 904.95V922.88M796.74 904.95h9M796.74 922.88h9" stroke="#a8a8f2" stroke-width="1.3" fill="none"/>
<path d="M814.98 834.84V862.72M810.48 834.84h9M810.48 862.72h9" stroke="#a8a8f2" stroke-width="1.3" fill="none"/>
<path d="M828.72 831.25V847.19M824.22 831.25h9M824.22 847.19h9" stroke="#a8a8f2" stroke-width="1.3" fill="none"/>
<path d="M842.46 822.68V836.63M837.96 822.68h9M837.96 836.63h9" stroke="#a8a8f2" stroke-width="1.3" fill="none"/>
<path d="M856.2 805.95V821.89M851.7 805.95h9M851.7 821.89h9" stroke="#a8a8f2" stroke-width="1.3" fill="none"/>
<path d="M869.94 801.97V825.87M865.44 801.97h9M865.44 825.87h9" stroke="#a8a8f2" stroke-width="1.3" fill="none"/>
<path d="M883.68 789.62V809.54M879.18 789.62h9M879.18 809.54h9" stroke="#a8a8f2" stroke-width="1.3" fill="none"/>
<path d="M897.42 805.95V821.89M892.92 805.95h9M892.92 821.89h9" stroke="#a8a8f2" stroke-width="1.3" fill="none"/>
<path d="M911.16 893V904.95M906.66 893h9M906.66 904.95h9" stroke="#a8a8f2" stroke-width="1.3" fill="none"/>
<path d="M938.64 895.59V911.53M934.14 895.59h9M934.14 911.53h9" stroke="#a8a8f2" stroke-width="1.3" fill="none"/>
<path d="M952.38 805.95V821.89M947.88 805.95h9M947.88 821.89h9" stroke="#a8a8f2" stroke-width="1.3" fill="none"/>
<path d="M966.12 789.62V809.54M961.62 789.62h9M961.62 809.54h9" stroke="#a8a8f2" stroke-width="1.3" fill="none"/>
<path d="M979.86 805.95V821.89M975.36 805.95h9M975.36 821.89h9" stroke="#a8a8f2" stroke-width="1.3" fill="none"/>
<path d="M993.6 816.31V832.25M989.1 816.31h9M989.1 832.25h9" stroke="#a8a8f2" stroke-width="1.3" fill="none"/>
<path d="M1007.34 816.31V832.25M1002.84 816.31h9M1002.84 832.25h9" stroke="#a8a8f2" stroke-width="1.3" fill="none"/>
<path d="M1021.08 841.81V855.75M1016.58 841.81h9M1016.58 855.75h9" stroke="#a8a8f2" stroke-width="1.3" fill="none"/>
<path d="M1034.82 850.97V866.91M1030.32 850.97h9M1030.32 866.91h9" stroke="#a8a8f2" stroke-width="1.3" fill="none"/>
<path d="M1048.56 898.98V918.9M1044.06 898.98h9M1044.06 918.9h9" stroke="#a8a8f2" stroke-width="1.3" fill="none"/>
<path d="M1062.3 934.83V948.78M1057.8 934.83h9M1057.8 948.78h9" stroke="#a8a8f2" stroke-width="1.3" fill="none"/>
<path d="M801.24 913.92 L814.98 848.78 L828.72 839.22 L842.46 829.66 L856.2 813.92 L869.94 813.92 L883.68 799.58 L897.42 813.92 L911.16 898.98 L924.9 968.3 L938.64 903.56 L952.38 813.92 L966.12 799.58 L979.86 813.92 L993.6 824.28 L1007.34 824.28 L1021.08 848.78 L1034.82 858.94 L1048.56 908.94 L1062.3 941.81" stroke="#0000f5" stroke-width="2.4" fill="none" stroke-linejoin="round"/>
<circle cx="801.24" cy="913.92" r="4.7" fill="#0000f5"/>
<circle cx="814.98" cy="848.78" r="4.7" fill="#0000f5"/>
<circle cx="828.72" cy="839.22" r="4.7" fill="#0000f5"/>
<circle cx="842.46" cy="829.66" r="4.7" fill="#0000f5"/>
<circle cx="856.2" cy="813.92" r="4.7" fill="#0000f5"/>
<circle cx="869.94" cy="813.92" r="4.7" fill="#0000f5"/>
<circle cx="883.68" cy="799.58" r="4.7" fill="#0000f5"/>
<circle cx="897.42" cy="813.92" r="4.7" fill="#0000f5"/>
<circle cx="911.16" cy="898.98" r="4.7" fill="#0000f5"/>
<circle cx="924.9" cy="968.3" r="4.7" fill="#0000f5"/>
<circle cx="938.64" cy="903.56" r="4.7" fill="#0000f5"/>
<circle cx="952.38" cy="813.92" r="4.7" fill="#0000f5"/>
<circle cx="966.12" cy="799.58" r="4.7" fill="#0000f5"/>
<circle cx="979.86" cy="813.92" r="4.7" fill="#0000f5"/>
<circle cx="993.6" cy="824.28" r="4.7" fill="#0000f5"/>
<circle cx="1007.34" cy="824.28" r="4.7" fill="#0000f5"/>
<circle cx="1021.08" cy="848.78" r="4.7" fill="#0000f5"/>
<circle cx="1034.82" cy="858.94" r="4.7" fill="#0000f5"/>
<circle cx="1048.56" cy="908.94" r="4.7" fill="#0000f5"/>
<circle cx="1062.3" cy="941.81" r="4.7" fill="#0000f5"/>
<path d="M801.24 898.98 L814.98 824.28 L828.72 799.58 L842.46 794 L856.2 764.52 L869.94 749.58 L883.68 749.58 L897.42 744.8 L911.16 903.56 L924.9 968.3 L938.64 903.56 L952.38 754.36 L966.12 749.58 L979.86 744.8 L993.6 764.52 L1007.34 754.36 L1021.08 769.5 L1034.82 804.16 L1048.56 868.7 L1062.3 915.31" stroke="#000" stroke-width="2.4" fill="none" stroke-linejoin="round"/>
<circle cx="801.24" cy="898.98" r="4.7" fill="#000"/>
<circle cx="814.98" cy="824.28" r="4.7" fill="#000"/>
<circle cx="828.72" cy="799.58" r="4.7" fill="#000"/>
<circle cx="842.46" cy="794" r="4.7" fill="#000"/>
<circle cx="856.2" cy="764.52" r="4.7" fill="#000"/>
<circle cx="869.94" cy="749.58" r="4.7" fill="#000"/>
<circle cx="883.68" cy="749.58" r="4.7" fill="#000"/>
<circle cx="897.42" cy="744.8" r="4.7" fill="#000"/>
<circle cx="911.16" cy="903.56" r="4.7" fill="#000"/>
<circle cx="924.9" cy="968.3" r="4.7" fill="#000"/>
<circle cx="938.64" cy="903.56" r="4.7" fill="#000"/>
<circle cx="952.38" cy="754.36" r="4.7" fill="#000"/>
<circle cx="966.12" cy="749.58" r="4.7" fill="#000"/>
<circle cx="979.86" cy="744.8" r="4.7" fill="#000"/>
<circle cx="993.6" cy="764.52" r="4.7" fill="#000"/>
<circle cx="1007.34" cy="754.36" r="4.7" fill="#000"/>
<circle cx="1021.08" cy="769.5" r="4.7" fill="#000"/>
<circle cx="1034.82" cy="804.16" r="4.7" fill="#000"/>
<circle cx="1048.56" cy="868.7" r="4.7" fill="#000"/>
<circle cx="1062.3" cy="915.31" r="4.7" fill="#000"/>
<line x1="797.7" y1="31.6" x2="822.8" y2="31.6" stroke="#000" stroke-width="2.2"/>
<circle cx="810.25" cy="31.6" r="4.4" fill="#000"/>
<text x="836.5" y="40.2" font-size="26">B6</text>
<line x1="976" y1="31.8" x2="1001" y2="31.8" stroke="#0000f5" stroke-width="2.2"/>
<circle cx="988.5" cy="31.8" r="4.4" fill="#0000f5"/>
<text x="1013" y="40.4" font-size="26" font-style="italic">cpfl9</text>
<text x="856" y="749.6" text-anchor="middle" font-size="24" class="an">*</text>
<text transform="translate(870.1,731.5) scale(1,1.1)" text-anchor="middle" font-size="26" class="an">#</text>
<text x="883.8" y="741.1" text-anchor="middle" font-size="24" class="an">*</text>
<text transform="translate(899.5,724.6) scale(1,1.1)" text-anchor="middle" font-size="26" class="an">#</text>
<text transform="translate(952.5,744) scale(1,1.1)" text-anchor="middle" font-size="26" class="an">+</text>
<text x="967.2" y="739.6" text-anchor="middle" font-size="24" class="an">*</text>
<text transform="translate(982.6,726.7) scale(1,1.1)" text-anchor="middle" font-size="26" class="an">#</text>
<text transform="translate(994.9,749.5) scale(1,1.1)" text-anchor="middle" font-size="26" class="an">+</text>
<text transform="translate(1008.6,736.9) scale(1,1.1)" text-anchor="middle" font-size="26" class="an">#</text>
<text transform="translate(1025.3,748.6) scale(1,1.1)" text-anchor="middle" font-size="26" class="an">#</text>
<text x="1035.3" y="790.3" text-anchor="middle" font-size="24" class="an">*</text>
<rect x="1223.2" y="58.1" width="306.6" height="920.3" fill="none" stroke="#333333" stroke-width="1.9"/>
<line x1="1223.2" y1="365.5" x2="1529.8" y2="365.5" stroke="#333333" stroke-width="1.9"/>
<line x1="1223.2" y1="671.7" x2="1529.8" y2="671.7" stroke="#333333" stroke-width="1.9"/>
<line x1="1232.3" y1="978.4" x2="1232.3" y2="983.9" stroke="#333333" stroke-width="1.5"/>
<line x1="1246.01" y1="978.4" x2="1246.01" y2="983.9" stroke="#333333" stroke-width="1.5"/>
<line x1="1259.72" y1="978.4" x2="1259.72" y2="983.9" stroke="#333333" stroke-width="1.5"/>
<line x1="1273.43" y1="978.4" x2="1273.43" y2="983.9" stroke="#333333" stroke-width="1.5"/>
<line x1="1287.14" y1="978.4" x2="1287.14" y2="983.9" stroke="#333333" stroke-width="1.5"/>
<line x1="1300.85" y1="978.4" x2="1300.85" y2="983.9" stroke="#333333" stroke-width="1.5"/>
<line x1="1314.56" y1="978.4" x2="1314.56" y2="983.9" stroke="#333333" stroke-width="1.5"/>
<line x1="1328.27" y1="978.4" x2="1328.27" y2="983.9" stroke="#333333" stroke-width="1.5"/>
<line x1="1341.98" y1="978.4" x2="1341.98" y2="983.9" stroke="#333333" stroke-width="1.5"/>
<line x1="1355.69" y1="978.4" x2="1355.69" y2="983.9" stroke="#333333" stroke-width="1.5"/>
<line x1="1369.4" y1="978.4" x2="1369.4" y2="983.9" stroke="#333333" stroke-width="1.5"/>
<line x1="1383.11" y1="978.4" x2="1383.11" y2="983.9" stroke="#333333" stroke-width="1.5"/>
<line x1="1396.82" y1="978.4" x2="1396.82" y2="983.9" stroke="#333333" stroke-width="1.5"/>
<line x1="1410.53" y1="978.4" x2="1410.53" y2="983.9" stroke="#333333" stroke-width="1.5"/>
<line x1="1424.24" y1="978.4" x2="1424.24" y2="983.9" stroke="#333333" stroke-width="1.5"/>
<line x1="1437.95" y1="978.4" x2="1437.95" y2="983.9" stroke="#333333" stroke-width="1.5"/>
<line x1="1451.66" y1="978.4" x2="1451.66" y2="983.9" stroke="#333333" stroke-width="1.5"/>
<line x1="1465.37" y1="978.4" x2="1465.37" y2="983.9" stroke="#333333" stroke-width="1.5"/>
<line x1="1479.08" y1="978.4" x2="1479.08" y2="983.9" stroke="#333333" stroke-width="1.5"/>
<line x1="1492.79" y1="978.4" x2="1492.79" y2="983.9" stroke="#333333" stroke-width="1.5"/>
<line x1="1506.5" y1="978.4" x2="1506.5" y2="983.9" stroke="#333333" stroke-width="1.5"/>
<line x1="1520.21" y1="978.4" x2="1520.21" y2="983.9" stroke="#333333" stroke-width="1.5"/>
<text x="1232.3" y="1011.6" text-anchor="middle" font-size="27">3.0</text>
<text x="1300.85" y="1011.6" text-anchor="middle" font-size="27">1.5</text>
<text x="1369.4" y="1011.6" text-anchor="middle" font-size="27">0</text>
<text x="1437.95" y="1011.6" text-anchor="middle" font-size="27">1.5</text>
<text x="1506.5" y="1011.6" text-anchor="middle" font-size="27">3.0</text>
<text x="1376.2" y="1053.5" text-anchor="middle" font-size="26.8">distance from ONH</text>
<text transform="translate(1176.6,511.9) rotate(-90)" text-anchor="middle" font-size="26.8">cone nuclei count</text>
<line x1="1214.2" y1="350.4" x2="1223.2" y2="350.4" stroke="#333333" stroke-width="1.5"/>
<text x="1211.2" y="359.4" text-anchor="end" font-size="27">0</text>
<line x1="1218.4" y1="320.9" x2="1223.2" y2="320.9" stroke="#333333" stroke-width="1.5"/>
<line x1="1218.4" y1="291.4" x2="1223.2" y2="291.4" stroke="#333333" stroke-width="1.5"/>
<line x1="1218.4" y1="261.9" x2="1223.2" y2="261.9" stroke="#333333" stroke-width="1.5"/>
<line x1="1218.4" y1="232.4" x2="1223.2" y2="232.4" stroke="#333333" stroke-width="1.5"/>
<line x1="1214.2" y1="202.9" x2="1223.2" y2="202.9" stroke="#333333" stroke-width="1.5"/>
<text x="1211.2" y="211.9" text-anchor="end" font-size="27">5</text>
<line x1="1218.4" y1="173.4" x2="1223.2" y2="173.4" stroke="#333333" stroke-width="1.5"/>
<line x1="1218.4" y1="143.9" x2="1223.2" y2="143.9" stroke="#333333" stroke-width="1.5"/>
<line x1="1218.4" y1="114.4" x2="1223.2" y2="114.4" stroke="#333333" stroke-width="1.5"/>
<line x1="1218.4" y1="84.9" x2="1223.2" y2="84.9" stroke="#333333" stroke-width="1.5"/>
<text x="1232.5" y="354" font-size="26.8">4 wk</text>
<path d="M1259.72 164.84V182.54M1255.22 164.84h9M1255.22 182.54h9" stroke="#9a9a9a" stroke-width="1.3" fill="none"/>
<path d="M1273.43 176.35V201.13M1268.93 176.35h9M1268.93 201.13h9" stroke="#9a9a9a" stroke-width="1.3" fill="none"/>
<path d="M1287.14 145.37V192.57M1282.64 145.37h9M1282.64 192.57h9" stroke="#9a9a9a" stroke-width="1.3" fill="none"/>
<path d="M1300.85 129.15V159.83M1296.35 129.15h9M1296.35 159.83h9" stroke="#9a9a9a" stroke-width="1.3" fill="none"/>
<path d="M1314.56 92.27V138.29M1310.06 92.27h9M1310.06 138.29h9" stroke="#9a9a9a" stroke-width="1.3" fill="none"/>
<path d="M1328.27 130.33V168.68M1323.77 130.33h9M1323.77 168.68h9" stroke="#9a9a9a" stroke-width="1.3" fill="none"/>
<path d="M1341.98 131.21V187.26M1337.48 131.21h9M1337.48 187.26h9" stroke="#9a9a9a" stroke-width="1.3" fill="none"/>
<path d="M1355.69 151.27V186.67M1351.19 151.27h9M1351.19 186.67h9" stroke="#9a9a9a" stroke-width="1.3" fill="none"/>
<path d="M1383.11 160.71V196.7M1378.61 160.71h9M1378.61 196.7h9" stroke="#9a9a9a" stroke-width="1.3" fill="none"/>
<path d="M1396.82 142.72V166.32M1392.32 142.72h9M1392.32 166.32h9" stroke="#9a9a9a" stroke-width="1.3" fill="none"/>
<path d="M1410.53 87.85V142.72M1406.03 87.85h9M1406.03 142.72h9" stroke="#9a9a9a" stroke-width="1.3" fill="none"/>
<path d="M1424.24 91.98V147.44M1419.74 91.98h9M1419.74 147.44h9" stroke="#9a9a9a" stroke-width="1.3" fill="none"/>
<path d="M1437.95 112.93V166.61M1433.45 112.93h9M1433.45 166.61h9" stroke="#9a9a9a" stroke-width="1.3" fill="none"/>
<path d="M1451.66 122.95V166.02M1447.16 122.95h9M1447.16 166.02h9" stroke="#9a9a9a" stroke-width="1.3" fill="none"/>
<path d="M1465.37 184.61V202.31M1460.87 184.61h9M1460.87 202.31h9" stroke="#9a9a9a" stroke-width="1.3" fill="none"/>
<path d="M1259.72 151.27V212.04M1255.22 151.27h9M1255.22 212.04h9" stroke="#a8a8f2" stroke-width="1.3" fill="none"/>
<path d="M1273.43 96.7V156.88M1268.93 96.7h9M1268.93 156.88h9" stroke="#a8a8f2" stroke-width="1.3" fill="none"/>
<path d="M1287.14 87.26V143.31M1282.64 87.26h9M1282.64 143.31h9" stroke="#a8a8f2" stroke-width="1.3" fill="none"/>
<path d="M1300.85 71.04V159.53M1296.35 71.04h9M1296.35 159.53h9" stroke="#a8a8f2" stroke-width="1.3" fill="none"/>
<path d="M1314.56 101.12V152.45M1310.06 101.12h9M1310.06 152.45h9" stroke="#a8a8f2" stroke-width="1.3" fill="none"/>
<path d="M1328.27 168.09V203.49M1323.77 168.09h9M1323.77 203.49h9" stroke="#a8a8f2" stroke-width="1.3" fill="none"/>
<path d="M1341.98 125.61V186.38M1337.48 125.61h9M1337.48 186.38h9" stroke="#a8a8f2" stroke-width="1.3" fill="none"/>
<path d="M1355.69 102.01V162.78M1351.19 102.01h9M1351.19 162.78h9" stroke="#a8a8f2" stroke-width="1.3" fill="none"/>
<path d="M1383.11 148.62V163.37M1378.61 148.62h9M1378.61 163.37h9" stroke="#a8a8f2" stroke-width="1.3" fill="none"/>
<path d="M1396.82 62.19V144.79M1392.32 62.19h9M1392.32 144.79h9" stroke="#a8a8f2" stroke-width="1.3" fill="none"/>
<path d="M1410.53 105.84V135.34M1406.03 105.84h9M1406.03 135.34h9" stroke="#a8a8f2" stroke-width="1.3" fill="none"/>
<path d="M1424.24 89.03V141.54M1419.74 89.03h9M1419.74 141.54h9" stroke="#a8a8f2" stroke-width="1.3" fill="none"/>
<path d="M1437.95 64.55V142.43M1433.45 64.55h9M1433.45 142.43h9" stroke="#a8a8f2" stroke-width="1.3" fill="none"/>
<path d="M1451.66 111.16V154.81M1447.16 111.16h9M1447.16 154.81h9" stroke="#a8a8f2" stroke-width="1.3" fill="none"/>
<path d="M1465.37 122.95V200.84M1460.87 122.95h9M1460.87 200.84h9" stroke="#a8a8f2" stroke-width="1.3" fill="none"/>
<path d="M1259.72 181.66 L1273.43 126.79 L1287.14 115.28 L1300.85 115.28 L1314.56 126.79 L1328.27 185.79 L1341.98 155.99 L1355.69 132.39 L1369.4 350.4 L1383.11 155.99 L1396.82 103.49 L1410.53 120.59 L1424.24 115.28 L1437.95 103.49 L1451.66 132.98 L1465.37 161.89 L1479.08 291.99" stroke="#0000f5" stroke-width="2.4" fill="none" stroke-linejoin="round"/>
<circle cx="1259.72" cy="181.66" r="4.7" fill="#0000f5"/>
<circle cx="1273.43" cy="126.79" r="4.7" fill="#0000f5"/>
<circle cx="1287.14" cy="115.28" r="4.7" fill="#0000f5"/>
<circle cx="1300.85" cy="115.28" r="4.7" fill="#0000f5"/>
<circle cx="1314.56" cy="126.79" r="4.7" fill="#0000f5"/>
<circle cx="1328.27" cy="185.79" r="4.7" fill="#0000f5"/>
<circle cx="1341.98" cy="155.99" r="4.7" fill="#0000f5"/>
<circle cx="1355.69" cy="132.39" r="4.7" fill="#0000f5"/>
<circle cx="1369.4" cy="350.4" r="4.7" fill="#0000f5"/>
<circle cx="1383.11" cy="155.99" r="4.7" fill="#0000f5"/>
<circle cx="1396.82" cy="103.49" r="4.7" fill="#0000f5"/>
<circle cx="1410.53" cy="120.59" r="4.7" fill="#0000f5"/>
<circle cx="1424.24" cy="115.28" r="4.7" fill="#0000f5"/>
<circle cx="1437.95" cy="103.49" r="4.7" fill="#0000f5"/>
<circle cx="1451.66" cy="132.98" r="4.7" fill="#0000f5"/>
<circle cx="1465.37" cy="161.89" r="4.7" fill="#0000f5"/>
<circle cx="1479.08" cy="291.99" r="4.7" fill="#0000f5"/>
<path d="M1259.72 173.69 L1273.43 188.74 L1287.14 168.97 L1300.85 144.49 L1314.56 115.28 L1328.27 149.5 L1341.98 159.24 L1355.69 168.97 L1369.4 350.4 L1383.11 178.71 L1396.82 154.52 L1410.53 115.28 L1424.24 119.71 L1437.95 139.77 L1451.66 144.49 L1465.37 193.46 L1479.08 203.49" stroke="#000" stroke-width="2.4" fill="none" stroke-linejoin="round"/>
<circle cx="1259.72" cy="173.69" r="4.7" fill="#000"/>
<circle cx="1273.43" cy="188.74" r="4.7" fill="#000"/>
<circle cx="1287.14" cy="168.97" r="4.7" fill="#000"/>
<circle cx="1300.85" cy="144.49" r="4.7" fill="#000"/>
<circle cx="1314.56" cy="115.28" r="4.7" fill="#000"/>
<circle cx="1328.27" cy="149.5" r="4.7" fill="#000"/>
<circle cx="1341.98" cy="159.24" r="4.7" fill="#000"/>
<circle cx="1355.69" cy="168.97" r="4.7" fill="#000"/>
<circle cx="1369.4" cy="350.4" r="4.7" fill="#000"/>
<circle cx="1383.11" cy="178.71" r="4.7" fill="#000"/>
<circle cx="1396.82" cy="154.52" r="4.7" fill="#000"/>
<circle cx="1410.53" cy="115.28" r="4.7" fill="#000"/>
<circle cx="1424.24" cy="119.71" r="4.7" fill="#000"/>
<circle cx="1437.95" cy="139.77" r="4.7" fill="#000"/>
<circle cx="1451.66" cy="144.49" r="4.7" fill="#000"/>
<circle cx="1465.37" cy="193.46" r="4.7" fill="#000"/>
<circle cx="1479.08" cy="203.49" r="4.7" fill="#000"/>
<line x1="1214.2" y1="657.5" x2="1223.2" y2="657.5" stroke="#333333" stroke-width="1.5"/>
<text x="1211.2" y="666.5" text-anchor="end" font-size="27">0</text>
<line x1="1218.4" y1="628" x2="1223.2" y2="628" stroke="#333333" stroke-width="1.5"/>
<line x1="1218.4" y1="598.5" x2="1223.2" y2="598.5" stroke="#333333" stroke-width="1.5"/>
<line x1="1218.4" y1="569" x2="1223.2" y2="569" stroke="#333333" stroke-width="1.5"/>
<line x1="1218.4" y1="539.5" x2="1223.2" y2="539.5" stroke="#333333" stroke-width="1.5"/>
<line x1="1214.2" y1="510" x2="1223.2" y2="510" stroke="#333333" stroke-width="1.5"/>
<text x="1211.2" y="519" text-anchor="end" font-size="27">5</text>
<line x1="1218.4" y1="480.5" x2="1223.2" y2="480.5" stroke="#333333" stroke-width="1.5"/>
<line x1="1218.4" y1="451" x2="1223.2" y2="451" stroke="#333333" stroke-width="1.5"/>
<line x1="1218.4" y1="421.5" x2="1223.2" y2="421.5" stroke="#333333" stroke-width="1.5"/>
<line x1="1218.4" y1="392" x2="1223.2" y2="392" stroke="#333333" stroke-width="1.5"/>
<text x="1232.5" y="661.1" font-size="26.8">12 wk</text>
<path d="M1259.72 516.78V543.34M1255.22 516.78h9M1255.22 543.34h9" stroke="#9a9a9a" stroke-width="1.3" fill="none"/>
<path d="M1273.43 492.6V528M1268.93 492.6h9M1268.93 528h9" stroke="#9a9a9a" stroke-width="1.3" fill="none"/>
<path d="M1287.14 480.5V515.9M1282.64 480.5h9M1282.64 515.9h9" stroke="#9a9a9a" stroke-width="1.3" fill="none"/>
<path d="M1300.85 477.85V513.25M1296.35 477.85h9M1296.35 513.25h9" stroke="#9a9a9a" stroke-width="1.3" fill="none"/>
<path d="M1314.56 463.98V508.23M1310.06 463.98h9M1310.06 508.23h9" stroke="#9a9a9a" stroke-width="1.3" fill="none"/>
<path d="M1328.27 468.41V503.81M1323.77 468.41h9M1323.77 503.81h9" stroke="#9a9a9a" stroke-width="1.3" fill="none"/>
<path d="M1341.98 510.59V534.19M1337.48 510.59h9M1337.48 534.19h9" stroke="#9a9a9a" stroke-width="1.3" fill="none"/>
<path d="M1355.69 483.45V512.95M1351.19 483.45h9M1351.19 512.95h9" stroke="#9a9a9a" stroke-width="1.3" fill="none"/>
<path d="M1383.11 489.94V516.49M1378.61 489.94h9M1378.61 516.49h9" stroke="#9a9a9a" stroke-width="1.3" fill="none"/>
<path d="M1396.82 469.59V502.03M1392.32 469.59h9M1392.32 502.03h9" stroke="#9a9a9a" stroke-width="1.3" fill="none"/>
<path d="M1410.53 465.46V500.86M1406.03 465.46h9M1406.03 500.86h9" stroke="#9a9a9a" stroke-width="1.3" fill="none"/>
<path d="M1424.24 446.57V476.07M1419.74 446.57h9M1419.74 476.07h9" stroke="#9a9a9a" stroke-width="1.3" fill="none"/>
<path d="M1437.95 463.98V493.48M1433.45 463.98h9M1433.45 493.48h9" stroke="#9a9a9a" stroke-width="1.3" fill="none"/>
<path d="M1451.66 467.52V494.07M1447.16 467.52h9M1447.16 494.07h9" stroke="#9a9a9a" stroke-width="1.3" fill="none"/>
<path d="M1465.37 499.67V526.23M1460.87 499.67h9M1460.87 526.23h9" stroke="#9a9a9a" stroke-width="1.3" fill="none"/>
<path d="M1479.08 553.96V577.56M1474.58 553.96h9M1474.58 577.56h9" stroke="#9a9a9a" stroke-width="1.3" fill="none"/>
<path d="M1259.72 528.59V552.18M1255.22 528.59h9M1255.22 552.18h9" stroke="#a8a8f2" stroke-width="1.3" fill="none"/>
<path d="M1273.43 503.81V539.2M1268.93 503.81h9M1268.93 539.2h9" stroke="#a8a8f2" stroke-width="1.3" fill="none"/>
<path d="M1287.14 487.88V546.88M1282.64 487.88h9M1282.64 546.88h9" stroke="#a8a8f2" stroke-width="1.3" fill="none"/>
<path d="M1300.85 465.75V504.1M1296.35 465.75h9M1296.35 504.1h9" stroke="#a8a8f2" stroke-width="1.3" fill="none"/>
<path d="M1314.56 472.53V525.63M1310.06 472.53h9M1310.06 525.63h9" stroke="#a8a8f2" stroke-width="1.3" fill="none"/>
<path d="M1328.27 486.11V527.4M1323.77 486.11h9M1323.77 527.4h9" stroke="#a8a8f2" stroke-width="1.3" fill="none"/>
<path d="M1341.98 464.27V505.58M1337.48 464.27h9M1337.48 505.58h9" stroke="#a8a8f2" stroke-width="1.3" fill="none"/>
<path d="M1355.69 492V536.25M1351.19 492h9M1351.19 536.25h9" stroke="#a8a8f2" stroke-width="1.3" fill="none"/>
<path d="M1383.11 490.24V531.53M1378.61 490.24h9M1378.61 531.53h9" stroke="#a8a8f2" stroke-width="1.3" fill="none"/>
<path d="M1396.82 451.29V495.54M1392.32 451.29h9M1392.32 495.54h9" stroke="#a8a8f2" stroke-width="1.3" fill="none"/>
<path d="M1410.53 471.06V506.46M1406.03 471.06h9M1406.03 506.46h9" stroke="#a8a8f2" stroke-width="1.3" fill="none"/>
<path d="M1424.24 430.06V465.45M1419.74 430.06h9M1419.74 465.45h9" stroke="#a8a8f2" stroke-width="1.3" fill="none"/>
<path d="M1437.95 431.24V472.54M1433.45 431.24h9M1433.45 472.54h9" stroke="#a8a8f2" stroke-width="1.3" fill="none"/>
<path d="M1451.66 446.58V493.77M1447.16 446.58h9M1447.16 493.77h9" stroke="#a8a8f2" stroke-width="1.3" fill="none"/>
<path d="M1465.37 519.14V545.69M1460.87 519.14h9M1460.87 545.69h9" stroke="#a8a8f2" stroke-width="1.3" fill="none"/>
<path d="M1479.08 573.72V594.37M1474.58 573.72h9M1474.58 594.37h9" stroke="#a8a8f2" stroke-width="1.3" fill="none"/>
<path d="M1259.72 540.38 L1273.43 521.5 L1287.14 517.38 L1300.85 484.93 L1314.56 499.09 L1328.27 506.75 L1341.98 484.93 L1355.69 514.13 L1369.4 657.5 L1383.11 510.88 L1396.82 473.42 L1410.53 488.76 L1424.24 447.75 L1437.95 451.88 L1451.66 470.18 L1465.37 532.42 L1479.08 584.04" stroke="#0000f5" stroke-width="2.4" fill="none" stroke-linejoin="round"/>
<circle cx="1259.72" cy="540.38" r="4.7" fill="#0000f5"/>
<circle cx="1273.43" cy="521.5" r="4.7" fill="#0000f5"/>
<circle cx="1287.14" cy="517.38" r="4.7" fill="#0000f5"/>
<circle cx="1300.85" cy="484.93" r="4.7" fill="#0000f5"/>
<circle cx="1314.56" cy="499.09" r="4.7" fill="#0000f5"/>
<circle cx="1328.27" cy="506.75" r="4.7" fill="#0000f5"/>
<circle cx="1341.98" cy="484.93" r="4.7" fill="#0000f5"/>
<circle cx="1355.69" cy="514.13" r="4.7" fill="#0000f5"/>
<circle cx="1369.4" cy="657.5" r="4.7" fill="#0000f5"/>
<circle cx="1383.11" cy="510.88" r="4.7" fill="#0000f5"/>
<circle cx="1396.82" cy="473.42" r="4.7" fill="#0000f5"/>
<circle cx="1410.53" cy="488.76" r="4.7" fill="#0000f5"/>
<circle cx="1424.24" cy="447.75" r="4.7" fill="#0000f5"/>
<circle cx="1437.95" cy="451.88" r="4.7" fill="#0000f5"/>
<circle cx="1451.66" cy="470.18" r="4.7" fill="#0000f5"/>
<circle cx="1465.37" cy="532.42" r="4.7" fill="#0000f5"/>
<circle cx="1479.08" cy="584.04" r="4.7" fill="#0000f5"/>
<path d="M1259.72 530.06 L1273.43 510.29 L1287.14 498.2 L1300.85 495.54 L1314.56 486.11 L1328.27 486.11 L1341.98 522.39 L1355.69 498.2 L1369.4 657.5 L1383.11 503.21 L1396.82 485.81 L1410.53 483.15 L1424.24 461.32 L1437.95 478.73 L1451.66 480.79 L1465.37 512.95 L1479.08 565.75" stroke="#000" stroke-width="2.4" fill="none" stroke-linejoin="round"/>
<circle cx="1259.72" cy="530.06" r="4.7" fill="#000"/>
<circle cx="1273.43" cy="510.29" r="4.7" fill="#000"/>
<circle cx="1287.14" cy="498.2" r="4.7" fill="#000"/>
<circle cx="1300.85" cy="495.54" r="4.7" fill="#000"/>
<circle cx="1314.56" cy="486.11" r="4.7" fill="#000"/>
<circle cx="1328.27" cy="486.11" r="4.7" fill="#000"/>
<circle cx="1341.98" cy="522.39" r="4.7" fill="#000"/>
<circle cx="1355.69" cy="498.2" r="4.7" fill="#000"/>
<circle cx="1369.4" cy="657.5" r="4.7" fill="#000"/>
<circle cx="1383.11" cy="503.21" r="4.7" fill="#000"/>
<circle cx="1396.82" cy="485.81" r="4.7" fill="#000"/>
<circle cx="1410.53" cy="483.15" r="4.7" fill="#000"/>
<circle cx="1424.24" cy="461.32" r="4.7" fill="#000"/>
<circle cx="1437.95" cy="478.73" r="4.7" fill="#000"/>
<circle cx="1451.66" cy="480.79" r="4.7" fill="#000"/>
<circle cx="1465.37" cy="512.95" r="4.7" fill="#000"/>
<circle cx="1479.08" cy="565.75" r="4.7" fill="#000"/>
<line x1="1214.2" y1="964.1" x2="1223.2" y2="964.1" stroke="#333333" stroke-width="1.5"/>
<text x="1211.2" y="973.1" text-anchor="end" font-size="27">0</text>
<line x1="1218.4" y1="934.6" x2="1223.2" y2="934.6" stroke="#333333" stroke-width="1.5"/>
<line x1="1218.4" y1="905.1" x2="1223.2" y2="905.1" stroke="#333333" stroke-width="1.5"/>
<line x1="1218.4" y1="875.6" x2="1223.2" y2="875.6" stroke="#333333" stroke-width="1.5"/>
<line x1="1218.4" y1="846.1" x2="1223.2" y2="846.1" stroke="#333333" stroke-width="1.5"/>
<line x1="1214.2" y1="816.6" x2="1223.2" y2="816.6" stroke="#333333" stroke-width="1.5"/>
<text x="1211.2" y="825.6" text-anchor="end" font-size="27">5</text>
<line x1="1218.4" y1="787.1" x2="1223.2" y2="787.1" stroke="#333333" stroke-width="1.5"/>
<line x1="1218.4" y1="757.6" x2="1223.2" y2="757.6" stroke="#333333" stroke-width="1.5"/>
<line x1="1218.4" y1="728.1" x2="1223.2" y2="728.1" stroke="#333333" stroke-width="1.5"/>
<line x1="1218.4" y1="698.6" x2="1223.2" y2="698.6" stroke="#333333" stroke-width="1.5"/>
<text x="1237.5" y="967.7" font-size="26.8">9–12 mo</text>
<path d="M1259.72 848.75V878.25M1255.22 848.75h9M1255.22 878.25h9" stroke="#9a9a9a" stroke-width="1.3" fill="none"/>
<path d="M1273.43 873.24V902.74M1268.93 873.24h9M1268.93 902.74h9" stroke="#9a9a9a" stroke-width="1.3" fill="none"/>
<path d="M1287.14 860.85V881.5M1282.64 860.85h9M1282.64 881.5h9" stroke="#9a9a9a" stroke-width="1.3" fill="none"/>
<path d="M1300.85 798.01V859.97M1296.35 798.01h9M1296.35 859.97h9" stroke="#9a9a9a" stroke-width="1.3" fill="none"/>
<path d="M1314.56 819.25V846.99M1310.06 819.25h9M1310.06 846.99h9" stroke="#9a9a9a" stroke-width="1.3" fill="none"/>
<path d="M1328.27 856.43V877.08M1323.77 856.43h9M1323.77 877.08h9" stroke="#9a9a9a" stroke-width="1.3" fill="none"/>
<path d="M1341.98 809.52V848.46M1337.48 809.52h9M1337.48 848.46h9" stroke="#9a9a9a" stroke-width="1.3" fill="none"/>
<path d="M1355.69 825.45V849.05M1351.19 825.45h9M1351.19 849.05h9" stroke="#9a9a9a" stroke-width="1.3" fill="none"/>
<path d="M1383.11 824.27V859.67M1378.61 824.27h9M1378.61 859.67h9" stroke="#9a9a9a" stroke-width="1.3" fill="none"/>
<path d="M1396.82 806.27V852.3M1392.32 806.27h9M1392.32 852.3h9" stroke="#9a9a9a" stroke-width="1.3" fill="none"/>
<path d="M1410.53 805.69V844.04M1406.03 805.69h9M1406.03 844.04h9" stroke="#9a9a9a" stroke-width="1.3" fill="none"/>
<path d="M1424.24 777.96V813.36M1419.74 777.96h9M1419.74 813.36h9" stroke="#9a9a9a" stroke-width="1.3" fill="none"/>
<path d="M1437.95 820.14V855.54M1433.45 820.14h9M1433.45 855.54h9" stroke="#9a9a9a" stroke-width="1.3" fill="none"/>
<path d="M1451.66 783.26V816.89M1447.16 783.26h9M1447.16 816.89h9" stroke="#9a9a9a" stroke-width="1.3" fill="none"/>
<path d="M1465.37 839.9V869.4M1460.87 839.9h9M1460.87 869.4h9" stroke="#9a9a9a" stroke-width="1.3" fill="none"/>
<path d="M1479.08 850.23V883.86M1474.58 850.23h9M1474.58 883.86h9" stroke="#9a9a9a" stroke-width="1.3" fill="none"/>
<path d="M1259.72 888.88V906.58M1255.22 888.88h9M1255.22 906.58h9" stroke="#a8a8f2" stroke-width="1.3" fill="none"/>
<path d="M1273.43 844.03V884.15M1268.93 844.03h9M1268.93 884.15h9" stroke="#a8a8f2" stroke-width="1.3" fill="none"/>
<path d="M1287.14 875.31V911.88M1282.64 875.31h9M1282.64 911.88h9" stroke="#a8a8f2" stroke-width="1.3" fill="none"/>
<path d="M1300.85 855.54V880.91M1296.35 855.54h9M1296.35 880.91h9" stroke="#a8a8f2" stroke-width="1.3" fill="none"/>
<path d="M1314.56 859.97V883.57M1310.06 859.97h9M1310.06 883.57h9" stroke="#a8a8f2" stroke-width="1.3" fill="none"/>
<path d="M1328.27 839.32V874.72M1323.77 839.32h9M1323.77 874.72h9" stroke="#a8a8f2" stroke-width="1.3" fill="none"/>
<path d="M1341.98 850.82V877.37M1337.48 850.82h9M1337.48 877.37h9" stroke="#a8a8f2" stroke-width="1.3" fill="none"/>
<path d="M1355.69 897.13V920.74M1351.19 897.13h9M1351.19 920.74h9" stroke="#a8a8f2" stroke-width="1.3" fill="none"/>
<path d="M1383.11 893.89V916.31M1378.61 893.89h9M1378.61 916.31h9" stroke="#a8a8f2" stroke-width="1.3" fill="none"/>
<path d="M1396.82 872.06V901.56M1392.32 872.06h9M1392.32 901.56h9" stroke="#a8a8f2" stroke-width="1.3" fill="none"/>
<path d="M1410.53 862.62V895.07M1406.03 862.62h9M1406.03 895.07h9" stroke="#a8a8f2" stroke-width="1.3" fill="none"/>
<path d="M1424.24 874.42V905.69M1419.74 874.42h9M1419.74 905.69h9" stroke="#a8a8f2" stroke-width="1.3" fill="none"/>
<path d="M1437.95 876.19V903.92M1433.45 876.19h9M1433.45 903.92h9" stroke="#a8a8f2" stroke-width="1.3" fill="none"/>
<path d="M1451.66 878.55V901.56M1447.16 878.55h9M1447.16 901.56h9" stroke="#a8a8f2" stroke-width="1.3" fill="none"/>
<path d="M1465.37 859.97V883.57M1460.87 859.97h9M1460.87 883.57h9" stroke="#a8a8f2" stroke-width="1.3" fill="none"/>
<path d="M1479.08 905.1V927.52M1474.58 905.1h9M1474.58 927.52h9" stroke="#a8a8f2" stroke-width="1.3" fill="none"/>
<path d="M1492.79 875.6V934.6M1488.29 875.6h9M1488.29 934.6h9" stroke="#a8a8f2" stroke-width="1.3" fill="none"/>
<path d="M1246.01 934.6 L1259.72 897.73 L1273.43 864.1 L1287.14 893.6 L1300.85 868.23 L1314.56 871.76 L1328.27 857.01 L1341.98 864.1 L1355.69 908.94 L1369.4 964.1 L1383.11 905.1 L1396.82 886.81 L1410.53 878.85 L1424.24 890.06 L1437.95 890.06 L1451.66 890.06 L1465.37 871.76 L1479.08 916.31 L1492.79 905.1" stroke="#0000f5" stroke-width="2.4" fill="none" stroke-linejoin="round"/>
<circle cx="1246.01" cy="934.6" r="4.7" fill="#0000f5"/>
<circle cx="1259.72" cy="897.73" r="4.7" fill="#0000f5"/>
<circle cx="1273.43" cy="864.1" r="4.7" fill="#0000f5"/>
<circle cx="1287.14" cy="893.6" r="4.7" fill="#0000f5"/>
<circle cx="1300.85" cy="868.23" r="4.7" fill="#0000f5"/>
<circle cx="1314.56" cy="871.76" r="4.7" fill="#0000f5"/>
<circle cx="1328.27" cy="857.01" r="4.7" fill="#0000f5"/>
<circle cx="1341.98" cy="864.1" r="4.7" fill="#0000f5"/>
<circle cx="1355.69" cy="908.94" r="4.7" fill="#0000f5"/>
<circle cx="1369.4" cy="964.1" r="4.7" fill="#0000f5"/>
<circle cx="1383.11" cy="905.1" r="4.7" fill="#0000f5"/>
<circle cx="1396.82" cy="886.81" r="4.7" fill="#0000f5"/>
<circle cx="1410.53" cy="878.85" r="4.7" fill="#0000f5"/>
<circle cx="1424.24" cy="890.06" r="4.7" fill="#0000f5"/>
<circle cx="1437.95" cy="890.06" r="4.7" fill="#0000f5"/>
<circle cx="1451.66" cy="890.06" r="4.7" fill="#0000f5"/>
<circle cx="1465.37" cy="871.76" r="4.7" fill="#0000f5"/>
<circle cx="1479.08" cy="916.31" r="4.7" fill="#0000f5"/>
<circle cx="1492.79" cy="905.1" r="4.7" fill="#0000f5"/>
<path d="M1259.72 863.5 L1273.43 887.99 L1287.14 871.18 L1300.85 828.99 L1314.56 833.12 L1328.27 866.75 L1341.98 828.99 L1355.69 837.25 L1369.4 964.1 L1383.11 841.97 L1396.82 829.29 L1410.53 824.86 L1424.24 795.65 L1437.95 837.84 L1451.66 800.08 L1465.37 854.65 L1479.08 867.05" stroke="#000" stroke-width="2.4" fill="none" stroke-linejoin="round"/>
<circle cx="1259.72" cy="863.5" r="4.7" fill="#000"/>
<circle cx="1273.43" cy="887.99" r="4.7" fill="#000"/>
<circle cx="1287.14" cy="871.18" r="4.7" fill="#000"/>
<circle cx="1300.85" cy="828.99" r="4.7" fill="#000"/>
<circle cx="1314.56" cy="833.12" r="4.7" fill="#000"/>
<circle cx="1328.27" cy="866.75" r="4.7" fill="#000"/>
<circle cx="1341.98" cy="828.99" r="4.7" fill="#000"/>
<circle cx="1355.69" cy="837.25" r="4.7" fill="#000"/>
<circle cx="1369.4" cy="964.1" r="4.7" fill="#000"/>
<circle cx="1383.11" cy="841.97" r="4.7" fill="#000"/>
<circle cx="1396.82" cy="829.29" r="4.7" fill="#000"/>
<circle cx="1410.53" cy="824.86" r="4.7" fill="#000"/>
<circle cx="1424.24" cy="795.65" r="4.7" fill="#000"/>
<circle cx="1437.95" cy="837.84" r="4.7" fill="#000"/>
<circle cx="1451.66" cy="800.08" r="4.7" fill="#000"/>
<circle cx="1465.37" cy="854.65" r="4.7" fill="#000"/>
<circle cx="1479.08" cy="867.05" r="4.7" fill="#000"/>
<line x1="1240.3" y1="33" x2="1265.4" y2="33" stroke="#000" stroke-width="2.2"/>
<circle cx="1252.85" cy="33" r="4.4" fill="#000"/>
<text x="1278" y="41.6" font-size="26">B6</text>
<line x1="1420" y1="33" x2="1445.2" y2="33" stroke="#0000f5" stroke-width="2.2"/>
<circle cx="1432.6" cy="33" r="4.4" fill="#0000f5"/>
<text x="1457.5" y="41.6" font-size="26" font-style="italic">cpfl9</text>
<text x="1357.4" y="816.1" text-anchor="middle" font-size="24" class="an">*</text>
<text transform="translate(1425.6,770) scale(1,1.1)" text-anchor="middle" font-size="26" class="an">+</text>
<text x="1453.3" y="778.6" text-anchor="middle" font-size="24" class="an">*</text>
<path d="M137.3 1114V1442.5H300.5" fill="none" stroke="#333333" stroke-width="1.8"/>
<line x1="128.3" y1="1442.5" x2="137.3" y2="1442.5" stroke="#333333" stroke-width="1.5"/>
<text x="124.8" y="1451.5" text-anchor="end" font-size="27">0</text>
<line x1="132.3" y1="1401.1" x2="137.3" y2="1401.1" stroke="#333333" stroke-width="1.5"/>
<line x1="128.3" y1="1359.7" x2="137.3" y2="1359.7" stroke="#333333" stroke-width="1.5"/>
<text x="124.8" y="1368.7" text-anchor="end" font-size="27">50</text>
<line x1="132.3" y1="1318.3" x2="137.3" y2="1318.3" stroke="#333333" stroke-width="1.5"/>
<line x1="128.3" y1="1276.9" x2="137.3" y2="1276.9" stroke="#333333" stroke-width="1.5"/>
<text x="124.8" y="1285.9" text-anchor="end" font-size="27">100</text>
<line x1="132.3" y1="1235.5" x2="137.3" y2="1235.5" stroke="#333333" stroke-width="1.5"/>
<line x1="128.3" y1="1194.1" x2="137.3" y2="1194.1" stroke="#333333" stroke-width="1.5"/>
<text x="124.8" y="1203.1" text-anchor="end" font-size="27">150</text>
<line x1="132.3" y1="1152.7" x2="137.3" y2="1152.7" stroke="#333333" stroke-width="1.5"/>
<line x1="137.3" y1="1442.5" x2="137.3" y2="1450.5" stroke="#333333" stroke-width="1.5"/>
<text x="137.3" y="1479.8" text-anchor="middle" font-size="27">0</text>
<line x1="167.1" y1="1442.5" x2="167.1" y2="1447.5" stroke="#333333" stroke-width="1.5"/>
<line x1="196.9" y1="1442.5" x2="196.9" y2="1450.5" stroke="#333333" stroke-width="1.5"/>
<text x="196.9" y="1479.8" text-anchor="middle" font-size="27">20</text>
<line x1="226.7" y1="1442.5" x2="226.7" y2="1447.5" stroke="#333333" stroke-width="1.5"/>
<line x1="256.5" y1="1442.5" x2="256.5" y2="1450.5" stroke="#333333" stroke-width="1.5"/>
<text x="256.5" y="1479.8" text-anchor="middle" font-size="27">40</text>
<line x1="286.3" y1="1442.5" x2="286.3" y2="1447.5" stroke="#333333" stroke-width="1.5"/>
<text x="219" y="1515.4" text-anchor="middle" font-size="26.8">weeks</text>
<text transform="translate(60.5,1271.7) rotate(-90)" text-anchor="middle" font-size="26.8">sum of ONL rows</text>
<path d="M286.3 1244.44V1261M281.8 1244.44h9M281.8 1261h9" stroke="#a8a8f2" stroke-width="1.3" fill="none"/>
<path d="M173.06 1166.78V1178.37M168.56 1166.78h9M168.56 1178.37h9" stroke="#9a9a9a" stroke-width="1.3" fill="none"/>
<path d="M286.3 1171.25V1193.44M281.8 1171.25h9M281.8 1193.44h9" stroke="#9a9a9a" stroke-width="1.3" fill="none"/>
<path d="M149.22 1173.07 L173.06 1172.57 L286.3 1182.34" stroke="#000" stroke-width="1.4" fill="none"/>
<path d="M149.22 1176.88 L173.06 1204.2 L286.3 1252.72" stroke="#0000f5" stroke-width="1.4" fill="none"/>
<circle cx="149.22" cy="1173.07" r="5.2" fill="#000"/>
<circle cx="173.06" cy="1172.57" r="5.2" fill="#000"/>
<circle cx="286.3" cy="1182.34" r="5.2" fill="#000"/>
<circle cx="149.22" cy="1176.88" r="5.2" fill="#0000f5"/>
<circle cx="173.06" cy="1204.2" r="5.2" fill="#0000f5"/>
<circle cx="286.3" cy="1252.72" r="5.2" fill="#0000f5"/>
<text x="172.4" y="1158.1" text-anchor="middle" font-size="24" class="an">*</text>
<text transform="translate(285.4,1161.5) scale(1,1.1)" text-anchor="middle" font-size="26" class="an">#</text>
<path d="M443.3 1114V1442.5H607" fill="none" stroke="#333333" stroke-width="1.8"/>
<line x1="434.3" y1="1442.5" x2="443.3" y2="1442.5" stroke="#333333" stroke-width="1.5"/>
<text x="430.8" y="1451.5" text-anchor="end" font-size="27">0</text>
<line x1="438.3" y1="1383.15" x2="443.3" y2="1383.15" stroke="#333333" stroke-width="1.5"/>
<line x1="434.3" y1="1323.8" x2="443.3" y2="1323.8" stroke="#333333" stroke-width="1.5"/>
<text x="430.8" y="1332.8" text-anchor="end" font-size="27">50</text>
<line x1="438.3" y1="1264.45" x2="443.3" y2="1264.45" stroke="#333333" stroke-width="1.5"/>
<line x1="434.3" y1="1205.1" x2="443.3" y2="1205.1" stroke="#333333" stroke-width="1.5"/>
<text x="430.8" y="1214.1" text-anchor="end" font-size="27">100</text>
<line x1="438.3" y1="1145.75" x2="443.3" y2="1145.75" stroke="#333333" stroke-width="1.5"/>
<line x1="443.3" y1="1442.5" x2="443.3" y2="1450.5" stroke="#333333" stroke-width="1.5"/>
<text x="443.3" y="1479.8" text-anchor="middle" font-size="27">0</text>
<line x1="473.03" y1="1442.5" x2="473.03" y2="1447.5" stroke="#333333" stroke-width="1.5"/>
<line x1="502.75" y1="1442.5" x2="502.75" y2="1450.5" stroke="#333333" stroke-width="1.5"/>
<text x="502.75" y="1479.8" text-anchor="middle" font-size="27">20</text>
<line x1="532.48" y1="1442.5" x2="532.48" y2="1447.5" stroke="#333333" stroke-width="1.5"/>
<line x1="562.2" y1="1442.5" x2="562.2" y2="1450.5" stroke="#333333" stroke-width="1.5"/>
<text x="562.2" y="1479.8" text-anchor="middle" font-size="27">40</text>
<line x1="591.93" y1="1442.5" x2="591.93" y2="1447.5" stroke="#333333" stroke-width="1.5"/>
<text x="525.5" y="1515.4" text-anchor="middle" font-size="26.8">weeks</text>
<text transform="translate(364.9,1272.2) rotate(-90)" text-anchor="middle" font-size="26.8">sum of cone counts</text>
<path d="M455.19 1168.3V1200.59M450.69 1168.3h9M450.69 1200.59h9" stroke="#a8a8f2" stroke-width="1.3" fill="none"/>
<path d="M478.97 1235.49V1256.85M474.47 1235.49h9M474.47 1256.85h9" stroke="#a8a8f2" stroke-width="1.3" fill="none"/>
<path d="M455.19 1194.89V1209.14M450.69 1194.89h9M450.69 1209.14h9" stroke="#9a9a9a" stroke-width="1.3" fill="none"/>
<path d="M478.97 1235.01V1249.26M474.47 1235.01h9M474.47 1249.26h9" stroke="#9a9a9a" stroke-width="1.3" fill="none"/>
<path d="M587.17 1278.22V1297.21M582.67 1278.22h9M582.67 1297.21h9" stroke="#9a9a9a" stroke-width="1.3" fill="none"/>
<path d="M455.19 1202.01 L478.97 1242.13 L587.17 1287.72" stroke="#000" stroke-width="1.4" fill="none"/>
<path d="M455.19 1184.45 L478.97 1246.17 L587.17 1339.23" stroke="#0000f5" stroke-width="1.4" fill="none"/>
<circle cx="455.19" cy="1202.01" r="5.2" fill="#000"/>
<circle cx="478.97" cy="1242.13" r="5.2" fill="#000"/>
<circle cx="587.17" cy="1287.72" r="5.2" fill="#000"/>
<circle cx="455.19" cy="1184.45" r="5.2" fill="#0000f5"/>
<circle cx="478.97" cy="1246.17" r="5.2" fill="#0000f5"/>
<circle cx="587.17" cy="1339.23" r="5.2" fill="#0000f5"/>
<text transform="translate(587.4,1268.5) scale(1,1.1)" text-anchor="middle" font-size="26" class="an">#</text>
<line x1="159.4" y1="1381.8" x2="183.7" y2="1381.8" stroke="#000" stroke-width="1.5"/>
<circle cx="171.5" cy="1381.8" r="5.2" fill="#000"/>
<text x="196" y="1390.8" font-size="26.5">B6</text>
<line x1="159.4" y1="1412.2" x2="183.7" y2="1412.2" stroke="#0000f5" stroke-width="1.5"/>
<circle cx="171.5" cy="1412.2" r="5.2" fill="#0000f5"/>
<text x="196" y="1421.2" font-size="26.5" font-style="italic">cpfl9</text>
<filter id="bl3" x="-20%" y="-100%" width="140%" height="300%"><feGaussianBlur stdDeviation="2.0"/></filter>
<filter id="bl2" x="-20%" y="-100%" width="140%" height="300%"><feGaussianBlur stdDeviation="1.6"/></filter>
<rect x="939" y="1200.6" width="60" height="10" rx="5.0" fill="#0c0c0c" filter="url(#bl3)"/>
<rect x="1015" y="1203.5" width="62" height="7" rx="3.5" fill="#333333" filter="url(#bl3)"/>
<rect x="940.5" y="1322.5" width="61.5" height="15" rx="7.5" fill="#030303" filter="url(#bl3)"/>
<rect x="1015" y="1326.5" width="62" height="10" rx="5.0" fill="#777777" filter="url(#bl3)"/>
<rect x="942" y="1444" width="63" height="15" rx="7.5" fill="#050505" filter="url(#bl3)"/>
<rect x="1015" y="1445.5" width="65" height="15" rx="7.5" fill="#080808" filter="url(#bl3)"/>
<rect x="1172.5" y="1201.1" width="62" height="15" rx="7.5" fill="#020202" filter="url(#bl3)"/>
<rect x="1248.5" y="1203" width="63.5" height="16" rx="8.0" fill="#020202" filter="url(#bl3)"/>
<rect x="1174" y="1305.5" width="59" height="13" rx="6.5" fill="#040404" filter="url(#bl3)"/>
<rect x="1248.5" y="1307.8" width="60.5" height="13" rx="6.5" fill="#040404" filter="url(#bl3)"/>
<rect x="1175.5" y="1357" width="57.5" height="7" rx="3.5" fill="#a4a4a4" filter="url(#bl3)"/>
<rect x="1250" y="1360" width="59" height="7" rx="3.5" fill="#959595" filter="url(#bl3)"/>
<rect x="1172.5" y="1452.5" width="63.5" height="15" rx="7.5" fill="#040404" filter="url(#bl3)"/>
<rect x="1248.5" y="1455.8" width="63.5" height="16" rx="8.0" fill="#040404" filter="url(#bl3)"/>
<rect x="1016" y="1327" width="16" height="9" rx="4" fill="#4a4a4a" filter="url(#bl2)"/>
<rect x="1054" y="1327.5" width="22" height="10" rx="4" fill="#3a3a3a" filter="url(#bl2)"/>
<circle cx="1073" cy="1145.5" r="2.6" fill="#222"/>
<rect x="931.6" y="1142.6" width="158.1" height="372" fill="none" stroke="#000" stroke-width="2.4"/>
<line x1="931.6" y1="1267.9" x2="1089.7" y2="1267.9" stroke="#000" stroke-width="2.2"/>
<line x1="931.6" y1="1389.3" x2="1089.7" y2="1389.3" stroke="#000" stroke-width="2.2"/>
<rect x="1163.1" y="1142.6" width="157" height="372.6" fill="none" stroke="#000" stroke-width="2.4"/>
<line x1="1163.1" y1="1268" x2="1320.1" y2="1268" stroke="#000" stroke-width="2.2"/>
<line x1="1163.1" y1="1393" x2="1320.1" y2="1393" stroke="#000" stroke-width="2.2"/>
<text x="971.8" y="1124.2" text-anchor="middle" font-size="27.2">B6</text>
<text x="1044" y="1124.2" text-anchor="middle" font-size="27.2" font-style="italic">cpfl9</text>
<text x="1206.3" y="1124.2" text-anchor="middle" font-size="27.2">B6</text>
<text x="1279.5" y="1124.2" text-anchor="middle" font-size="27.2" font-style="italic">cpfl9</text>
<text x="921.5" y="1213.3" text-anchor="end" font-size="27.2">OPN1SW</text>
<line x1="921.8" y1="1205.7" x2="931" y2="1205.7" stroke="#000" stroke-width="1.6"/>
<text x="921.5" y="1336.8" text-anchor="end" font-size="27.2">GNAT2</text>
<line x1="921.8" y1="1329.2" x2="931" y2="1329.2" stroke="#000" stroke-width="1.6"/>
<text x="921.5" y="1457.6" text-anchor="end" font-size="27.2">GAPDH</text>
<line x1="921.8" y1="1450" x2="931" y2="1450" stroke="#000" stroke-width="1.6"/>
<text x="1329.6" y="1217.9" font-size="27.2">OPN1MW</text>
<line x1="1320.5" y1="1208.9" x2="1329" y2="1208.9" stroke="#000" stroke-width="1.6"/>
<text x="1329.6" y="1319.6" font-size="27.2">ARR3</text>
<line x1="1320.5" y1="1310.6" x2="1329" y2="1310.6" stroke="#000" stroke-width="1.6"/>
<text x="1329.6" y="1472.9" font-size="27.2">GAPDH</text>
<line x1="1320.5" y1="1463.9" x2="1329" y2="1463.9" stroke="#000" stroke-width="1.6"/>
</svg>
</body></html>
